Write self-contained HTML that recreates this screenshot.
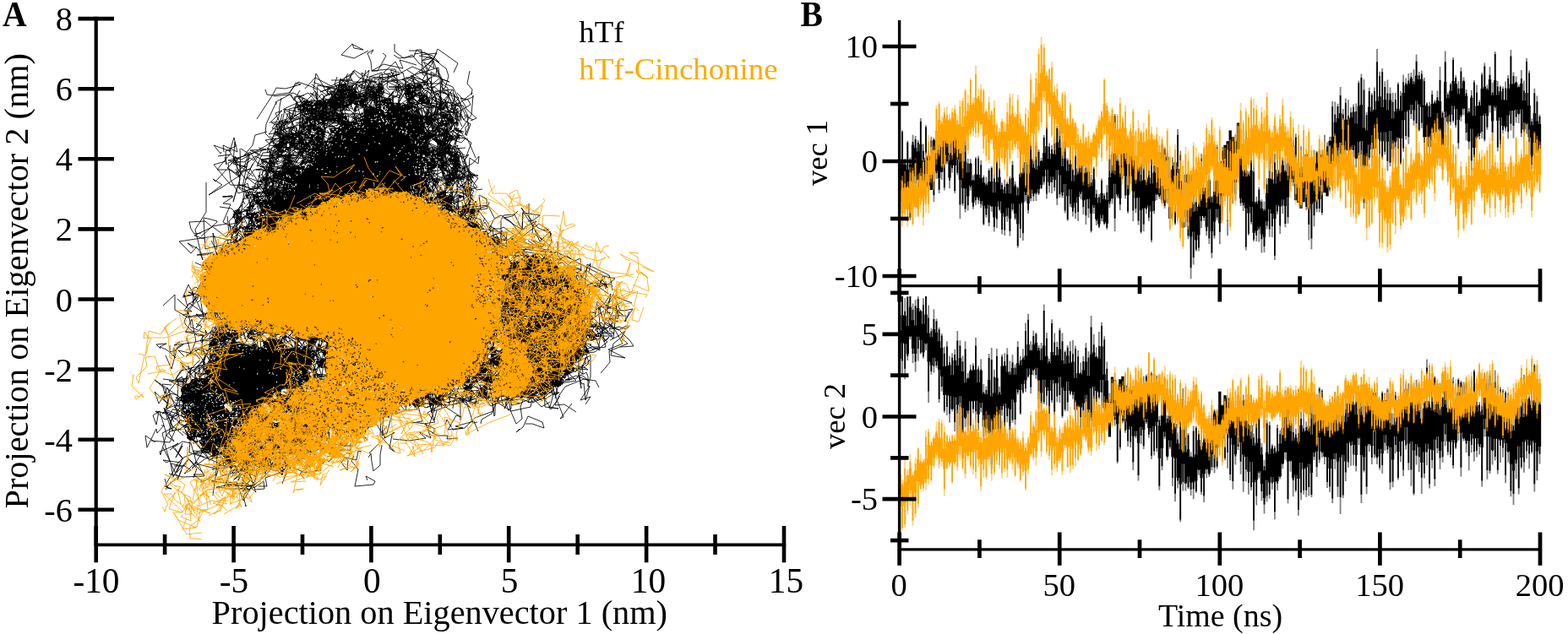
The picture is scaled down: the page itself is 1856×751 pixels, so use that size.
<!DOCTYPE html>
<html lang="en"><head><meta charset="utf-8"><title>PCA projection: hTf vs hTf-Cinchonine</title>
<style>
html,body{margin:0;padding:0;background:#fff;}
body{width:1856px;height:751px;overflow:hidden;font-family:"Liberation Serif",serif;}
svg{display:block;}
</style></head><body>
<svg width="1856" height="751" viewBox="0 0 1856 751">
<rect width="1856" height="751" fill="#fff"/>
<g id="panelB">
<path d="M1065.0 186.2V255.2M1068.1 154.3V233.1M1071.2 188.3V238.1M1074.3 166.7V249.0M1077.4 186.6V260.8M1080.5 159.8V248.3M1083.6 161.0V222.9M1086.7 166.1V242.5M1089.8 139.9V220.1M1092.9 170.5V243.3M1096.0 148.2V235.5M1099.1 174.2V223.1M1102.3 162.0V217.8M1105.4 163.2V238.9M1108.5 157.5V212.1M1111.6 166.2V229.1M1114.7 151.6V213.0M1117.8 135.5V225.5M1120.9 148.8V194.4M1124.0 141.6V223.2M1127.1 139.8V204.4M1130.2 150.3V228.7M1133.3 153.7V207.2M1136.4 146.7V259.3M1139.5 162.4V243.7M1142.6 154.0V251.6M1145.7 188.1V249.5M1148.8 188.2V225.8M1151.9 207.6V247.8M1155.0 185.9V243.0M1158.1 184.4V241.6M1161.2 189.7V246.4M1164.3 207.8V267.1M1167.4 209.6V257.7M1170.6 199.6V267.9M1173.7 197.2V250.7M1176.8 206.1V274.4M1179.9 178.4V270.2M1183.0 187.5V249.8M1186.1 216.5V277.4M1189.2 212.4V278.9M1192.3 214.9V262.8M1195.4 208.9V279.5M1198.5 190.5V250.6M1201.6 215.0V260.8M1204.7 220.7V293.7M1207.8 175.2V281.9M1210.9 195.0V284.9M1214.0 175.9V238.4M1217.1 181.4V253.0M1220.2 166.4V238.4M1223.3 186.2V238.4M1226.4 168.6V237.9M1229.5 176.9V230.9M1232.6 187.0V223.9M1235.7 160.1V218.8M1238.9 143.4V235.5M1242.0 169.6V228.3M1245.1 171.7V229.1M1248.2 160.7V226.5M1251.3 148.8V242.9M1254.4 148.2V233.9M1257.5 167.7V234.4M1260.6 159.2V252.6M1263.7 187.4V261.8M1266.8 154.8V245.1M1269.9 191.9V256.6M1273.0 171.7V259.1M1276.1 173.5V261.7M1279.2 172.7V235.8M1282.3 187.7V254.0M1285.4 192.5V265.9M1288.5 196.1V257.9M1291.6 207.1V275.6M1294.7 197.4V253.0M1297.8 224.7V267.1M1300.9 229.9V270.2M1304.0 211.6V262.0M1307.2 228.7V266.4M1310.3 219.2V271.7M1313.4 183.1V246.1M1316.5 179.7V241.6M1319.6 135.0V274.1M1322.7 161.4V234.7M1325.8 164.2V249.1M1328.9 143.2V211.9M1332.0 159.4V235.5M1335.1 162.3V252.7M1338.2 166.8V217.5M1341.3 162.7V262.0M1344.4 192.3V252.3M1347.5 193.1V266.5M1350.6 189.9V276.8M1353.7 176.8V274.0M1356.8 175.8V253.0M1359.9 177.4V262.0M1363.0 174.6V286.9M1366.1 167.3V253.6M1369.2 163.7V236.9M1372.3 185.0V235.5M1375.5 169.8V240.7M1378.6 174.6V246.9M1381.7 179.5V240.7M1384.8 200.1V246.8M1387.9 186.3V257.2M1391.0 184.5V266.6M1394.1 153.1V244.8M1397.2 178.8V267.7M1400.3 217.5V270.7M1403.4 209.6V269.0M1406.5 204.3V283.0M1409.6 202.7V330.2M1412.7 197.5V313.5M1415.8 229.8V297.7M1418.9 226.4V297.5M1422.0 182.3V270.2M1425.1 211.1V261.8M1428.2 217.9V279.2M1431.3 207.9V289.0M1434.4 231.8V305.8M1437.5 201.3V282.5M1440.6 171.6V260.7M1443.8 196.7V289.3M1446.9 174.0V253.7M1450.0 174.8V231.1M1453.1 171.7V279.1M1456.2 167.1V252.7M1459.3 162.8V241.1M1462.4 159.7V237.2M1465.5 155.2V210.9M1468.6 164.7V243.9M1471.7 182.9V249.9M1474.8 153.4V296.6M1477.9 203.3V279.1M1481.0 173.4V265.8M1484.1 189.9V286.0M1487.2 233.1V286.0M1490.3 221.4V286.5M1493.4 236.2V299.6M1496.5 238.4V299.0M1499.6 211.2V271.6M1502.7 169.8V280.6M1505.8 195.0V281.0M1508.9 181.7V308.0M1512.0 159.6V253.8M1515.2 171.7V277.0M1518.3 186.4V253.3M1521.4 187.5V269.3M1524.5 184.8V264.8M1527.6 161.1V220.2M1530.7 165.6V220.6M1533.8 158.3V223.3M1536.9 160.2V231.2M1540.0 173.2V239.1M1543.1 175.3V239.8M1546.2 185.3V248.7M1549.3 188.2V284.4M1552.4 197.0V295.3M1555.5 177.8V268.3M1558.6 178.7V251.2M1561.7 176.4V251.5M1564.8 177.4V254.8M1567.9 159.7V225.8M1571.0 168.6V226.6M1574.1 162.1V226.7M1577.2 120.0V225.4M1580.3 120.6V197.1M1583.5 122.8V218.3M1586.6 102.9V208.5M1589.7 128.9V202.0M1592.8 116.6V186.5M1595.9 118.3V201.1M1599.0 127.3V211.4M1602.1 123.6V186.4M1605.2 122.4V198.4M1608.3 95.4V190.1M1611.4 87.5V221.2M1614.5 94.1V247.0M1617.6 132.7V241.7M1620.7 103.8V189.4M1623.8 110.2V197.1M1626.9 103.5V205.5M1630.0 58.1V167.3M1633.1 84.8V209.7M1636.2 81.1V189.2M1639.3 96.2V183.2M1642.4 94.5V202.5M1645.5 103.4V197.1M1648.6 110.0V191.8M1651.8 109.9V196.7M1654.9 97.5V201.7M1658.0 107.7V194.9M1661.1 88.5V179.7M1664.2 92.4V165.5M1667.3 87.1V170.8M1670.4 85.9V141.0M1673.5 82.2V148.4M1676.6 64.5V151.9M1679.7 84.9V155.8M1682.8 83.4V151.8M1685.9 91.9V200.1M1689.0 120.9V195.8M1692.1 120.7V191.9M1695.2 107.2V198.3M1698.3 118.4V164.3M1701.4 107.6V192.3M1704.5 78.9V160.5M1707.6 131.5V186.5M1710.7 60.4V157.0M1713.8 109.5V177.7M1716.9 98.2V148.5M1720.1 68.1V145.2M1723.2 89.2V151.2M1726.3 96.2V176.5M1729.4 79.8V143.8M1732.5 91.5V136.5M1735.6 106.0V166.6M1738.7 128.1V177.1M1741.8 107.1V202.3M1744.9 95.0V191.9M1748.0 100.6V174.7M1751.1 118.5V165.0M1754.2 86.1V163.9M1757.3 74.5V167.8M1760.4 100.5V153.7M1763.5 79.3V133.5M1766.6 98.0V167.4M1769.7 61.1V131.2M1772.8 96.0V179.2M1775.9 101.2V176.3M1779.0 102.6V158.3M1782.1 96.5V155.4M1785.2 89.0V164.4M1788.4 58.9V154.4M1791.5 85.6V163.8M1794.6 90.4V145.5M1797.7 100.3V146.0M1800.8 82.9V162.2M1803.9 95.5V161.9M1807.0 68.9V158.4M1810.1 83.5V201.8M1813.2 140.4V200.3M1816.3 104.7V206.9M1819.4 113.4V182.2M1822.5 135.7V191.6" fill="none" stroke="#000" stroke-width="1.8" opacity="0.5"/>
<path d="M1065.0 194.2V226.6M1068.1 189.8V222.5M1071.2 195.0V228.0M1074.3 201.3V234.4M1077.4 194.8V228.1M1080.5 171.8V205.2M1083.6 175.3V208.8M1086.7 179.6V213.3M1089.8 170.8V204.7M1092.9 190.0V224.3M1096.0 186.7V221.5M1099.1 184.5V219.4M1102.3 189.9V224.9M1105.4 166.2V201.2M1108.5 168.3V202.6M1111.6 177.5V211.1M1114.7 171.0V203.4M1117.8 163.3V194.3M1120.9 153.1V183.4M1124.0 181.0V210.5M1127.1 166.1V195.5M1130.2 166.5V195.9M1133.3 158.7V188.7M1136.4 182.0V213.0M1139.5 190.8V222.8M1142.6 191.4V223.2M1145.7 204.5V232.5M1148.8 194.1V219.8M1151.9 213.9V240.1M1155.0 206.4V233.2M1158.1 207.1V234.1M1161.2 210.8V238.0M1164.3 216.4V243.8M1167.4 219.5V246.9M1170.6 215.2V242.4M1173.7 215.1V243.9M1176.8 228.2V257.6M1179.9 215.8V244.7M1183.0 209.8V238.4M1186.1 224.3V252.5M1189.2 229.0V256.7M1192.3 217.9V246.3M1195.4 229.3V258.8M1198.5 210.8V241.3M1201.6 220.9V253.0M1204.7 231.5V265.2M1207.8 206.2V241.5M1210.9 204.5V239.8M1214.0 191.9V227.3M1217.1 205.5V241.1M1220.2 188.4V224.4M1223.3 198.7V229.2M1226.4 200.8V227.9M1229.5 196.5V223.9M1232.6 191.1V218.9M1235.7 181.2V208.9M1238.9 173.3V200.9M1242.0 188.2V215.7M1245.1 181.9V209.2M1248.2 182.9V213.3M1251.3 168.5V201.3M1254.4 175.1V207.6M1257.5 197.0V227.9M1260.6 187.7V218.0M1263.7 202.5V232.3M1266.8 194.2V224.2M1269.9 214.6V245.7M1273.0 207.5V240.3M1276.1 199.5V233.3M1279.2 194.1V227.1M1282.3 205.3V237.3M1285.4 204.3V236.2M1288.5 203.5V235.5M1291.6 220.6V252.7M1294.7 212.6V242.8M1297.8 234.0V259.5M1300.9 240.2V265.4M1304.0 228.8V254.6M1307.2 236.1V262.8M1310.3 237.0V264.7M1313.4 210.0V238.4M1316.5 205.0V235.0M1319.6 178.2V217.8M1322.7 190.5V229.9M1325.8 195.8V235.1M1328.9 159.5V198.5M1332.0 170.0V208.4M1335.1 193.4V231.3M1338.2 171.5V208.6M1341.3 190.2V226.5M1344.4 199.1V234.5M1347.5 199.5V234.1M1350.6 214.7V248.7M1353.7 213.6V246.8M1356.8 212.9V245.9M1359.9 210.4V243.4M1363.0 217.6V250.5M1366.1 204.8V237.9M1369.2 195.7V229.6M1372.3 196.3V231.0M1375.5 201.0V236.6M1378.6 203.6V240.1M1381.7 185.7V223.2M1384.8 220.5V259.0M1387.9 200.7V240.0M1391.0 192.3V232.0M1394.1 200.0V240.1M1397.2 214.2V253.4M1400.3 231.4V269.7M1403.4 206.8V244.3M1406.5 226.6V263.3M1409.6 244.3V280.2M1412.7 239.4V274.4M1415.8 250.0V284.3M1418.9 245.0V278.6M1422.0 222.5V256.1M1425.1 222.2V255.9M1428.2 235.1V268.8M1431.3 213.8V247.6M1434.4 239.8V273.9M1437.5 226.8V262.4M1440.6 210.6V247.5M1443.8 225.3V264.5M1446.9 190.8V232.3M1450.0 171.8V220.9M1453.1 167.2V217.5M1456.2 154.5V206.1M1459.3 162.3V212.0M1462.4 167.5V216.1M1465.5 145.4V192.9M1468.6 188.2V234.7M1471.7 194.5V239.9M1474.8 201.8V246.4M1477.9 208.7V252.5M1481.0 202.0V245.0M1484.1 239.0V275.7M1487.2 241.6V272.9M1490.3 237.7V268.6M1493.4 246.9V277.6M1496.5 250.0V280.8M1499.6 228.8V262.0M1502.7 210.9V247.7M1505.8 212.0V253.1M1508.9 217.4V259.3M1512.0 201.3V242.8M1515.2 203.7V244.7M1518.3 195.8V236.2M1521.4 204.1V244.0M1524.5 194.1V233.4M1527.6 172.2V211.6M1530.7 172.4V212.1M1533.8 196.1V237.2M1536.9 198.5V239.9M1540.0 205.1V246.9M1543.1 197.3V239.2M1546.2 182.8V224.0M1549.3 207.1V247.5M1552.4 202.1V241.6M1555.5 200.6V239.3M1558.6 193.6V231.4M1561.7 198.8V235.9M1564.8 182.9V219.2M1567.9 192.4V228.2M1571.0 197.4V232.6M1574.1 166.9V201.9M1577.2 162.1V196.9M1580.3 144.8V179.5M1583.5 139.9V174.7M1586.6 134.1V169.1M1589.7 153.3V188.8M1592.8 141.8V178.0M1595.9 141.6V178.6M1599.0 139.2V177.7M1602.1 132.5V172.2M1605.2 146.5V187.4M1608.3 125.6V167.8M1611.4 124.1V167.0M1614.5 151.6V195.2M1617.6 154.4V198.6M1620.7 126.8V171.3M1623.8 132.2V177.1M1626.9 130.1V175.9M1630.0 119.7V164.6M1633.1 114.3V156.8M1636.2 127.0V167.3M1639.3 117.9V156.5M1642.4 130.4V167.8M1645.5 118.5V155.0M1648.6 140.6V176.5M1651.8 132.1V167.4M1654.9 128.8V162.8M1658.0 131.3V164.1M1661.1 110.1V142.2M1664.2 100.8V132.3M1667.3 99.1V130.2M1670.4 93.2V124.0M1673.5 99.8V130.3M1676.6 89.5V119.5M1679.7 94.0V123.5M1682.8 93.8V126.7M1685.9 124.8V162.4M1689.0 125.6V162.0M1692.1 138.5V174.0M1695.2 122.9V157.4M1698.3 122.5V156.4M1701.4 119.1V152.8M1704.5 120.0V153.6M1707.6 139.3V173.3M1710.7 97.1V132.2M1713.8 116.2V144.1M1716.9 107.6V135.7M1720.1 96.1V125.2M1723.2 99.3V129.2M1726.3 111.3V141.9M1729.4 104.8V136.1M1732.5 96.6V128.5M1735.6 113.8V146.3M1738.7 133.8V166.9M1741.8 115.7V152.4M1744.9 137.0V175.0M1748.0 125.8V162.5M1751.1 125.1V157.7M1754.2 105.0V137.1M1757.3 102.8V134.3M1760.4 106.4V137.3M1763.5 94.1V124.6M1766.6 113.1V143.4M1769.7 95.2V125.4M1772.8 112.5V143.0M1775.9 108.3V139.1M1779.0 117.9V149.0M1782.1 118.7V150.1M1785.2 104.7V136.5M1788.4 99.5V131.3M1791.5 99.4V131.1M1794.6 98.3V129.8M1797.7 103.6V134.4M1800.8 98.7V129.6M1803.9 119.2V153.3M1807.0 109.9V145.7M1810.1 125.1V162.4M1813.2 148.3V184.6M1816.3 134.1V169.6M1819.4 143.5V178.2M1822.5 147.1V181.4" fill="none" stroke="#000" stroke-width="3.3000000000000003" opacity="1"/>
<path d="M1065.0 188.7V246.4M1068.1 156.0V223.1M1071.2 193.6V230.0M1074.3 168.8V244.6M1077.4 191.6V257.6M1080.5 168.0V235.7M1083.6 165.0V217.6M1086.7 168.7V240.8M1089.8 143.8V215.4M1092.9 178.7V241.3M1096.0 150.6V233.5M1099.1 179.3V220.0M1102.3 166.5V215.8M1105.4 165.2V231.3M1108.5 163.2V205.1M1111.6 171.6V224.7M1114.7 156.3V203.9M1117.8 137.5V222.3M1120.9 150.9V191.2M1124.0 150.7V214.1M1127.1 146.0V199.3M1130.2 153.5V226.3M1133.3 158.0V204.7M1136.4 149.9V242.6M1139.5 173.2V241.3M1142.6 164.0V247.6M1145.7 193.6V243.3M1148.8 192.9V221.8M1151.9 212.9V244.8M1155.0 187.9V237.3M1158.1 187.6V236.6M1161.2 195.3V241.6M1164.3 209.9V265.3M1167.4 217.6V254.4M1170.6 202.1V263.8M1173.7 198.9V244.9M1176.8 211.4V268.8M1179.9 186.0V259.5M1183.0 192.5V248.2M1186.1 218.9V272.1M1189.2 221.5V272.4M1192.3 217.5V255.7M1195.4 211.8V273.7M1198.5 195.4V248.0M1201.6 218.6V258.7M1204.7 223.1V291.3M1207.8 178.8V271.1M1210.9 199.1V276.3M1214.0 181.0V231.1M1217.1 189.3V248.7M1220.2 169.5V234.9M1223.3 189.8V232.6M1226.4 172.7V229.9M1229.5 179.8V229.2M1232.6 190.1V222.7M1235.7 162.9V215.5M1238.9 144.9V229.4M1242.0 173.8V219.9M1245.1 176.8V215.9M1248.2 163.5V222.0M1251.3 152.1V235.2M1254.4 154.6V229.9M1257.5 179.5V231.8M1260.6 165.6V249.4M1263.7 189.9V260.0M1266.8 163.2V241.4M1269.9 200.8V250.5M1273.0 173.5V252.2M1276.1 175.3V251.1M1279.2 177.5V229.7M1282.3 198.6V245.3M1285.4 198.8V255.2M1288.5 197.9V246.9M1291.6 216.2V273.6M1294.7 199.7V246.0M1297.8 229.7V261.5M1300.9 233.4V268.4M1304.0 214.1V258.4M1307.2 231.5V265.0M1310.3 227.8V269.8M1313.4 188.5V241.6M1316.5 182.3V235.5M1319.6 137.3V258.8M1322.7 168.9V232.4M1325.8 171.6V242.2M1328.9 145.2V202.6M1332.0 164.7V231.5M1335.1 173.3V250.5M1338.2 169.3V210.6M1341.3 176.9V249.2M1344.4 196.5V247.2M1347.5 197.1V261.6M1350.6 194.3V274.8M1353.7 179.2V265.7M1356.8 179.9V248.0M1359.9 193.5V257.8M1363.0 183.6V284.2M1366.1 170.5V249.7M1369.2 165.7V230.7M1372.3 195.1V233.0M1375.5 171.8V238.6M1378.6 176.6V243.8M1381.7 181.5V226.1M1384.8 202.8V244.8M1387.9 196.6V255.2M1391.0 190.0V264.6M1394.1 159.8V242.3M1397.2 183.6V264.0M1400.3 230.7V268.7M1403.4 211.6V257.0M1406.5 206.3V279.4M1409.6 207.3V317.3M1412.7 214.3V305.0M1415.8 239.6V295.7M1418.9 232.8V293.6M1422.0 187.8V261.7M1425.1 220.8V258.1M1428.2 225.0V273.7M1431.3 211.9V282.6M1434.4 233.6V299.4M1437.5 214.9V279.3M1440.6 174.4V257.4M1443.8 199.3V274.8M1446.9 178.7V248.6M1450.0 176.8V223.5M1453.1 173.7V262.0M1456.2 169.1V249.1M1459.3 164.8V228.0M1462.4 166.8V230.1M1465.5 157.2V202.1M1468.6 181.5V240.7M1471.7 186.2V243.3M1474.8 155.7V292.5M1477.9 206.4V276.7M1481.0 181.9V263.0M1484.1 203.4V283.7M1487.2 238.9V278.9M1490.3 224.4V271.4M1493.4 239.0V283.3M1496.5 247.8V291.8M1499.6 218.5V267.5M1502.7 172.9V271.4M1505.8 204.1V268.1M1508.9 192.5V302.7M1512.0 163.6V250.4M1515.2 185.7V267.3M1518.3 190.5V243.5M1521.4 201.9V264.9M1524.5 191.8V257.3M1527.6 163.1V216.1M1530.7 167.6V215.7M1533.8 162.6V221.3M1536.9 169.8V229.2M1540.0 179.1V237.1M1543.1 187.7V237.8M1546.2 187.3V245.0M1549.3 194.8V266.0M1552.4 200.5V282.5M1555.5 188.3V255.2M1558.6 180.5V247.3M1561.7 178.4V247.1M1564.8 179.4V252.1M1567.9 179.9V223.8M1571.0 173.2V224.6M1574.1 166.5V224.7M1577.2 126.2V223.4M1580.3 135.6V192.8M1583.5 125.9V208.5M1586.6 113.0V205.2M1589.7 135.5V196.4M1592.8 121.7V178.8M1595.9 136.9V192.0M1599.0 133.2V207.0M1602.1 126.8V178.0M1605.2 132.0V188.2M1608.3 98.2V187.7M1611.4 92.0V211.4M1614.5 106.5V240.3M1617.6 136.3V231.4M1620.7 107.9V186.7M1623.8 112.6V186.9M1626.9 108.1V188.3M1630.0 73.3V165.1M1633.1 89.9V199.7M1636.2 85.3V186.4M1639.3 103.1V179.8M1642.4 110.5V190.7M1645.5 110.7V192.8M1648.6 120.7V186.2M1651.8 118.0V194.0M1654.9 99.8V193.3M1658.0 113.6V192.7M1661.1 97.2V175.4M1664.2 98.5V160.9M1667.3 95.4V162.3M1670.4 91.1V135.1M1673.5 96.6V142.8M1676.6 72.8V146.3M1679.7 89.2V154.0M1682.8 87.5V145.4M1685.9 95.9V192.5M1689.0 122.7V189.9M1692.1 125.5V178.5M1695.2 111.9V188.5M1698.3 120.7V161.6M1701.4 115.2V186.5M1704.5 94.7V155.1M1707.6 133.5V177.4M1710.7 73.3V139.3M1713.8 111.9V173.0M1716.9 99.9V144.3M1720.1 70.9V142.9M1723.2 92.0V148.3M1726.3 104.7V169.4M1729.4 84.4V138.4M1732.5 95.5V129.3M1735.6 110.6V157.0M1738.7 131.9V168.2M1741.8 113.2V190.3M1744.9 97.6V186.0M1748.0 109.7V167.1M1751.1 120.9V161.3M1754.2 88.6V156.2M1757.3 78.6V165.2M1760.4 104.8V150.8M1763.5 88.7V125.4M1766.6 109.6V157.0M1769.7 63.9V127.5M1772.8 102.6V174.6M1775.9 102.9V171.0M1779.0 105.1V154.1M1782.1 104.6V151.8M1785.2 92.7V155.9M1788.4 66.6V146.6M1791.5 90.0V149.0M1794.6 96.9V138.4M1797.7 102.7V135.4M1800.8 93.1V157.4M1803.9 107.5V157.7M1807.0 72.9V147.2M1810.1 86.4V186.6M1813.2 143.9V195.0M1816.3 110.3V196.4M1819.4 120.2V180.6M1822.5 138.0V185.3" fill="none" stroke="#000" stroke-width="1.75" opacity="1"/>
<path d="M1065.0 207.6V261.6M1068.1 208.3V268.3M1071.2 202.8V260.8M1074.3 215.3V268.7M1077.4 197.7V257.4M1080.5 198.5V267.7M1083.6 187.4V257.6M1086.7 206.2V257.6M1089.8 199.2V251.4M1092.9 188.7V267.3M1096.0 180.3V252.0M1099.1 160.3V252.4M1102.3 165.4V217.0M1105.4 172.7V225.3M1108.5 124.6V195.0M1111.6 120.4V185.6M1114.7 137.2V198.7M1117.8 127.0V198.6M1120.9 126.2V173.9M1124.0 135.1V190.0M1127.1 128.1V188.7M1130.2 124.3V181.2M1133.3 135.9V189.3M1136.4 118.8V192.2M1139.5 116.0V211.2M1142.6 105.1V180.0M1145.7 112.2V183.5M1148.8 92.4V161.8M1151.9 115.2V161.6M1155.0 77.8V163.0M1158.1 105.4V162.7M1161.2 99.9V153.4M1164.3 104.9V181.7M1167.4 128.7V191.1M1170.6 114.2V193.7M1173.7 129.9V170.7M1176.8 118.9V209.1M1179.9 145.2V193.3M1183.0 151.2V201.5M1186.1 140.0V193.0M1189.2 144.4V201.3M1192.3 121.7V217.1M1195.4 110.9V193.8M1198.5 111.0V182.3M1201.6 132.9V177.6M1204.7 112.3V187.2M1207.8 135.1V209.8M1210.9 144.1V205.7M1214.0 128.0V222.8M1217.1 130.4V233.2M1220.2 87.3V177.3M1223.3 110.8V194.6M1226.4 85.5V189.1M1229.5 57.3V157.3M1232.6 43.6V151.0M1235.7 51.9V122.5M1238.9 84.4V153.4M1242.0 80.8V138.5M1245.1 72.9V162.9M1248.2 101.5V178.2M1251.3 98.9V149.7M1254.4 120.2V165.4M1257.5 108.9V188.1M1260.6 108.3V179.5M1263.7 139.0V176.6M1266.8 121.2V195.3M1269.9 139.7V201.6M1273.0 144.4V185.9M1276.1 152.1V206.1M1279.2 161.2V204.2M1282.3 145.8V219.5M1285.4 161.7V204.9M1288.5 155.5V222.1M1291.6 165.0V211.3M1294.7 156.0V189.4M1297.8 147.8V209.4M1300.9 136.6V182.9M1304.0 130.8V191.5M1307.2 92.6V160.1M1310.3 121.5V190.7M1313.4 132.6V202.8M1316.5 126.9V201.8M1319.6 136.7V206.8M1322.7 134.7V190.9M1325.8 115.4V209.7M1328.9 137.4V218.6M1332.0 124.5V190.8M1335.1 159.6V223.9M1338.2 147.2V229.1M1341.3 128.9V200.3M1344.4 153.8V217.4M1347.5 142.3V204.0M1350.6 153.7V206.9M1353.7 145.6V201.8M1356.8 151.3V219.2M1359.9 130.0V207.8M1363.0 149.7V195.9M1366.1 160.5V203.2M1369.2 150.8V223.1M1372.3 160.7V229.0M1375.5 161.5V244.2M1378.6 173.3V239.2M1381.7 151.8V242.8M1384.8 173.2V273.8M1387.9 213.9V267.4M1391.0 171.0V252.2M1394.1 197.2V265.8M1397.2 180.8V286.1M1400.3 189.6V294.6M1403.4 173.7V261.8M1406.5 179.5V271.7M1409.6 199.2V256.8M1412.7 168.4V251.3M1415.8 174.9V236.3M1418.9 180.7V243.5M1422.0 182.7V238.1M1425.1 167.8V230.2M1428.2 146.4V246.0M1431.3 154.0V235.5M1434.4 139.0V202.9M1437.5 151.4V231.3M1440.6 167.5V241.1M1443.8 149.5V243.9M1446.9 175.2V265.0M1450.0 174.9V244.8M1453.1 169.9V264.2M1456.2 165.3V273.4M1459.3 161.3V241.9M1462.4 156.8V244.1M1465.5 146.6V225.6M1468.6 121.4V195.7M1471.7 142.8V209.1M1474.8 127.5V209.6M1477.9 135.2V200.1M1481.0 114.8V193.2M1484.1 117.0V199.1M1487.2 124.2V186.8M1490.3 143.6V219.5M1493.4 126.6V192.4M1496.5 130.3V229.8M1499.6 109.6V198.8M1502.7 148.0V212.3M1505.8 153.9V213.1M1508.9 134.5V182.5M1512.0 153.0V209.2M1515.2 136.1V214.7M1518.3 116.7V187.9M1521.4 145.7V198.2M1524.5 150.5V213.4M1527.6 131.8V234.4M1530.7 140.7V215.4M1533.8 183.1V242.6M1536.9 147.4V244.4M1540.0 177.1V246.7M1543.1 148.1V223.1M1546.2 161.3V234.2M1549.3 151.9V248.1M1552.4 171.7V217.1M1555.5 179.3V226.6M1558.6 199.0V239.0M1561.7 160.2V226.6M1564.8 167.7V231.0M1567.9 166.9V215.3M1571.0 179.4V223.0M1574.1 172.0V230.1M1577.2 175.5V235.2M1580.3 158.3V229.5M1583.5 178.3V226.5M1586.6 168.8V238.6M1589.7 139.9V213.0M1592.8 166.8V247.4M1595.9 141.3V228.7M1599.0 173.4V257.1M1602.1 182.1V257.5M1605.2 199.2V265.1M1608.3 180.8V255.5M1611.4 177.7V240.7M1614.5 183.6V247.5M1617.6 181.8V284.7M1620.7 188.7V269.8M1623.8 160.1V266.3M1626.9 147.6V243.3M1630.0 139.8V235.5M1633.1 167.0V293.4M1636.2 184.9V294.6M1639.3 198.9V275.0M1642.4 220.2V298.9M1645.5 208.1V296.1M1648.6 166.3V265.5M1651.8 168.8V277.5M1654.9 163.2V239.9M1658.0 213.0V271.3M1661.1 186.9V264.6M1664.2 170.2V260.2M1667.3 196.7V246.0M1670.4 175.3V261.8M1673.5 187.3V235.9M1676.6 146.1V242.8M1679.7 167.9V233.3M1682.8 183.1V241.9M1685.9 162.2V257.9M1689.0 148.2V222.3M1692.1 160.8V223.7M1695.2 150.6V218.9M1698.3 142.2V238.6M1701.4 134.1V201.4M1704.5 152.1V197.8M1707.6 164.2V214.2M1710.7 144.7V196.1M1713.8 137.8V219.5M1716.9 151.8V242.4M1720.1 170.2V228.7M1723.2 173.4V257.2M1726.3 209.4V281.2M1729.4 190.7V242.2M1732.5 206.9V274.0M1735.6 191.9V265.6M1738.7 175.5V251.7M1741.8 191.4V266.9M1744.9 182.9V245.4M1748.0 160.8V227.1M1751.1 179.5V223.9M1754.2 177.4V237.7M1757.3 181.1V254.8M1760.4 173.7V243.1M1763.5 162.7V258.3M1766.6 157.1V233.4M1769.7 183.4V256.6M1772.8 192.3V233.5M1775.9 165.4V252.1M1779.0 156.4V231.9M1782.1 192.4V257.9M1785.2 193.8V258.0M1788.4 183.4V231.4M1791.5 192.1V254.9M1794.6 161.7V234.7M1797.7 183.1V232.8M1800.8 176.9V247.3M1803.9 145.3V223.7M1807.0 166.6V231.6M1810.1 153.5V224.8M1813.2 186.2V257.4M1816.3 155.5V227.0M1819.4 160.8V224.8M1822.5 167.2V228.9" fill="none" stroke="#FFA500" stroke-width="1.8" opacity="0.5"/>
<path d="M1065.0 213.0V238.8M1068.1 226.6V252.4M1071.2 222.1V247.9M1074.3 222.3V248.1M1077.4 214.5V240.4M1080.5 215.7V241.5M1083.6 219.2V244.9M1086.7 221.5V247.2M1089.8 208.8V234.5M1092.9 213.8V239.4M1096.0 206.0V231.7M1099.1 189.9V215.7M1102.3 181.0V206.9M1105.4 178.0V204.2M1108.5 154.9V181.3M1111.6 141.9V168.6M1114.7 147.1V174.1M1117.8 139.4V166.8M1120.9 141.8V169.5M1124.0 142.8V170.8M1127.1 139.2V167.6M1130.2 134.0V162.9M1133.3 147.5V176.8M1136.4 147.2V176.6M1139.5 149.9V179.3M1142.6 137.7V167.0M1145.7 131.5V160.4M1148.8 124.3V152.7M1151.9 123.4V151.1M1155.0 115.7V142.7M1158.1 117.4V144.0M1161.2 120.6V147.0M1164.3 134.6V161.2M1167.4 132.4V159.3M1170.6 141.5V169.1M1173.7 135.9V164.3M1176.8 147.8V176.9M1179.9 161.0V190.7M1183.0 156.2V186.5M1186.1 144.2V174.8M1189.2 156.0V186.8M1192.3 146.4V177.2M1195.4 136.2V167.0M1198.5 134.7V165.5M1201.6 139.4V170.6M1204.7 135.6V167.3M1207.8 146.8V179.0M1210.9 149.9V183.0M1214.0 156.7V190.7M1217.1 160.1V194.9M1220.2 121.2V157.0M1223.3 123.0V158.8M1226.4 115.3V149.8M1229.5 98.4V131.7M1232.6 86.2V118.3M1235.7 77.3V108.1M1238.9 90.6V120.4M1242.0 94.0V122.9M1245.1 109.3V137.5M1248.2 113.2V141.2M1251.3 119.1V146.7M1254.4 126.9V154.3M1257.5 131.0V158.2M1260.6 140.4V167.4M1263.7 146.9V173.8M1266.8 147.9V174.8M1269.9 145.2V172.0M1273.0 150.2V177.0M1276.1 169.5V196.3M1279.2 169.0V195.9M1282.3 170.5V197.1M1285.4 167.6V194.0M1288.5 175.6V201.8M1291.6 169.1V195.1M1294.7 159.7V185.5M1297.8 160.7V186.7M1300.9 143.8V170.0M1304.0 138.5V164.9M1307.2 122.7V149.8M1310.3 131.0V158.8M1313.4 144.4V173.0M1316.5 136.4V165.6M1319.6 152.2V182.0M1322.7 153.7V184.1M1325.8 152.6V182.9M1328.9 151.6V181.9M1332.0 151.5V181.6M1335.1 164.6V194.4M1338.2 155.9V185.3M1341.3 160.4V189.3M1344.4 184.2V212.6M1347.5 167.2V195.2M1350.6 158.3V185.9M1353.7 168.4V196.2M1356.8 167.5V195.5M1359.9 164.9V193.2M1363.0 159.6V188.4M1366.1 165.2V194.9M1369.2 167.7V198.2M1372.3 180.1V211.3M1375.5 188.2V220.2M1378.6 191.5V224.2M1381.7 189.9V223.4M1384.8 211.1V245.2M1387.9 218.2V252.4M1391.0 208.0V242.4M1394.1 223.6V257.5M1397.2 224.6V258.1M1400.3 230.6V263.6M1403.4 215.9V248.3M1406.5 217.4V249.1M1409.6 214.5V245.9M1412.7 199.6V231.0M1415.8 201.3V232.9M1418.9 192.1V224.1M1422.0 197.4V230.2M1425.1 183.2V216.6M1428.2 172.8V207.2M1431.3 169.3V204.7M1434.4 160.2V196.5M1437.5 170.9V207.8M1440.6 176.4V213.7M1443.8 191.9V228.7M1446.9 193.4V229.1M1450.0 197.7V232.4M1453.1 198.6V232.1M1456.2 202.6V235.1M1459.3 181.9V213.5M1462.4 181.6V212.8M1465.5 176.7V207.5M1468.6 153.6V184.3M1471.7 170.4V201.4M1474.8 164.7V195.8M1477.9 162.9V194.5M1481.0 152.1V184.4M1484.1 147.5V180.5M1487.2 148.6V182.0M1490.3 154.7V188.4M1493.4 147.0V181.1M1496.5 155.2V188.9M1499.6 136.7V169.9M1502.7 155.2V187.4M1505.8 163.2V194.0M1508.9 148.9V178.8M1512.0 159.4V188.8M1515.2 150.1V178.9M1518.3 145.9V174.5M1521.4 156.6V185.1M1524.5 163.3V191.7M1527.6 168.2V197.0M1530.7 172.9V202.1M1533.8 188.3V217.8M1536.9 192.6V222.4M1540.0 210.0V240.0M1543.1 184.9V214.9M1546.2 184.5V214.3M1549.3 186.9V216.3M1552.4 186.3V215.1M1555.5 184.9V213.0M1558.6 203.1V230.6M1561.7 181.8V208.7M1564.8 186.3V212.6M1567.9 176.9V202.9M1571.0 184.7V210.5M1574.1 193.9V219.6M1577.2 190.8V216.9M1580.3 169.6V196.0M1583.5 192.7V219.9M1586.6 182.9V211.2M1589.7 172.1V201.4M1592.8 183.8V214.3M1595.9 180.9V212.6M1599.0 178.9V211.8M1602.1 196.1V229.9M1605.2 207.0V241.5M1608.3 218.1V253.3M1611.4 197.0V232.6M1614.5 198.5V234.5M1617.6 196.6V232.9M1620.7 200.7V237.2M1623.8 199.4V236.1M1626.9 184.1V221.1M1630.0 185.5V222.7M1633.1 214.5V252.0M1636.2 211.3V248.8M1639.3 220.8V258.2M1642.4 227.4V264.6M1645.5 221.6V258.6M1648.6 203.8V240.2M1651.8 198.8V234.6M1654.9 197.0V232.2M1658.0 218.9V253.2M1661.1 223.2V256.6M1664.2 204.5V236.9M1667.3 205.2V237.1M1670.4 195.3V226.8M1673.5 192.4V223.4M1676.6 182.2V212.7M1679.7 181.2V211.6M1682.8 196.2V226.5M1685.9 191.1V221.3M1689.0 180.8V210.8M1692.1 182.3V212.2M1695.2 165.9V195.6M1698.3 169.3V198.7M1701.4 156.2V185.3M1704.5 159.3V188.0M1707.6 172.1V200.5M1710.7 159.4V187.4M1713.8 174.5V202.4M1716.9 182.5V210.2M1720.1 193.8V221.6M1723.2 211.6V239.4M1726.3 219.2V247.2M1729.4 207.7V235.7M1732.5 225.5V253.6M1735.6 222.1V250.2M1738.7 207.2V235.1M1741.8 208.6V236.4M1744.9 198.7V226.4M1748.0 192.1V219.8M1751.1 189.3V217.0M1754.2 201.3V229.0M1757.3 201.3V229.1M1760.4 207.0V235.0M1763.5 200.0V228.2M1766.6 195.7V224.2M1769.7 197.7V226.5M1772.8 200.2V229.4M1775.9 206.8V236.4M1779.0 192.3V222.2M1782.1 203.0V233.1M1785.2 213.0V243.4M1788.4 192.5V223.0M1791.5 209.5V239.9M1794.6 193.7V224.2M1797.7 196.0V226.4M1800.8 187.2V217.6M1803.9 186.2V216.5M1807.0 183.2V213.5M1810.1 183.0V213.4M1813.2 202.8V233.3M1816.3 169.0V199.7M1819.4 184.1V215.0M1822.5 176.2V207.3" fill="none" stroke="#FFA500" stroke-width="3.3000000000000003" opacity="1"/>
<path d="M1065.0 208.9V256.5M1068.1 214.2V256.7M1071.2 217.3V254.6M1074.3 220.8V262.7M1077.4 204.2V252.6M1080.5 201.9V265.2M1083.6 192.6V246.6M1086.7 212.4V255.7M1089.8 208.2V242.4M1092.9 191.9V257.6M1096.0 182.2V241.8M1099.1 168.2V241.8M1102.3 174.0V211.8M1105.4 177.5V215.0M1108.5 128.9V188.6M1111.6 123.2V182.8M1114.7 144.0V196.7M1117.8 133.6V195.0M1120.9 135.9V170.0M1124.0 141.9V182.5M1127.1 132.7V184.0M1130.2 129.4V175.0M1133.3 142.8V186.3M1136.4 125.9V181.5M1139.5 119.4V199.4M1142.6 107.5V172.3M1145.7 121.9V177.8M1148.8 94.9V158.7M1151.9 121.7V155.4M1155.0 87.8V157.6M1158.1 113.9V157.4M1161.2 106.0V147.7M1164.3 107.1V176.0M1167.4 131.6V185.0M1170.6 121.3V189.8M1173.7 132.0V166.1M1176.8 127.7V206.9M1179.9 147.9V191.2M1183.0 155.8V199.2M1186.1 143.5V188.1M1189.2 155.2V194.0M1192.3 133.1V209.2M1195.4 115.5V188.0M1198.5 125.6V178.0M1201.6 138.1V174.0M1204.7 118.6V176.5M1207.8 141.0V204.5M1210.9 148.6V196.1M1214.0 135.1V219.7M1217.1 139.6V230.9M1220.2 94.2V173.1M1223.3 121.2V190.7M1226.4 92.9V185.6M1229.5 63.9V154.3M1232.6 53.0V144.9M1235.7 56.6V114.9M1238.9 88.8V151.3M1242.0 82.2V134.8M1245.1 80.0V160.4M1248.2 109.1V170.1M1251.3 105.2V148.1M1254.4 123.8V161.1M1257.5 111.5V184.6M1260.6 112.4V175.8M1263.7 140.4V175.1M1266.8 124.3V189.5M1269.9 141.0V199.7M1273.0 145.7V184.2M1276.1 159.5V203.6M1279.2 165.0V198.9M1282.3 147.7V215.5M1285.4 163.3V196.9M1288.5 161.3V217.8M1291.6 168.3V205.3M1294.7 157.9V185.9M1297.8 151.8V197.2M1300.9 141.7V175.7M1304.0 132.6V186.9M1307.2 94.7V158.7M1310.3 124.7V178.7M1313.4 137.5V188.4M1316.5 130.0V195.8M1319.6 145.1V201.9M1322.7 136.6V189.1M1325.8 122.6V205.6M1328.9 140.6V207.4M1332.0 131.9V188.1M1335.1 161.3V219.3M1338.2 152.4V215.7M1341.3 132.3V196.6M1344.4 156.2V213.5M1347.5 151.8V201.7M1350.6 156.1V197.6M1353.7 156.8V199.4M1356.8 153.5V215.5M1359.9 135.5V201.9M1363.0 157.4V188.9M1366.1 164.9V196.2M1369.2 159.2V215.9M1372.3 171.7V223.2M1375.5 165.0V240.2M1378.6 183.3V236.8M1381.7 155.3V235.7M1384.8 185.4V271.1M1387.9 216.1V261.2M1391.0 177.2V250.5M1394.1 204.8V261.6M1397.2 190.0V281.9M1400.3 196.5V291.9M1403.4 182.4V258.6M1406.5 190.4V267.6M1409.6 202.1V247.0M1412.7 172.8V241.8M1415.8 186.6V233.4M1418.9 186.9V240.7M1422.0 191.1V236.0M1425.1 174.7V226.5M1428.2 152.1V239.7M1431.3 158.8V233.0M1434.4 142.4V201.1M1437.5 167.4V226.9M1440.6 175.8V232.9M1443.8 153.9V242.1M1446.9 188.8V261.1M1450.0 188.1V237.9M1453.1 177.5V260.7M1456.2 179.3V268.6M1459.3 167.4V233.4M1462.4 161.5V238.0M1465.5 149.2V216.2M1468.6 131.2V187.7M1471.7 145.6V203.2M1474.8 132.4V204.7M1477.9 139.0V195.8M1481.0 118.6V189.9M1484.1 128.1V196.2M1487.2 130.3V184.7M1490.3 152.5V212.5M1493.4 133.3V182.3M1496.5 139.0V223.7M1499.6 115.0V190.4M1502.7 152.7V202.2M1505.8 156.8V203.5M1508.9 138.9V180.5M1512.0 157.1V206.1M1515.2 140.9V205.6M1518.3 124.9V179.1M1521.4 149.6V191.4M1524.5 154.7V208.1M1527.6 138.4V226.8M1530.7 150.9V208.3M1533.8 185.8V230.1M1536.9 161.8V238.6M1540.0 178.9V242.9M1543.1 154.2V216.6M1546.2 176.8V230.3M1549.3 156.5V246.7M1552.4 178.1V215.4M1555.5 183.7V219.7M1558.6 201.7V236.5M1561.7 164.7V221.0M1564.8 178.1V226.9M1567.9 174.1V214.0M1571.0 184.0V220.8M1574.1 173.2V222.1M1577.2 182.4V226.1M1580.3 160.7V223.4M1583.5 184.4V222.1M1586.6 181.7V234.6M1589.7 141.7V208.6M1592.8 176.8V245.9M1595.9 148.1V225.2M1599.0 176.5V245.9M1602.1 185.7V253.1M1605.2 204.8V258.2M1608.3 183.9V253.9M1611.4 182.9V238.1M1614.5 196.6V236.1M1617.6 185.2V270.3M1620.7 194.3V267.7M1623.8 169.0V263.5M1626.9 151.7V233.4M1630.0 147.0V233.7M1633.1 182.4V286.5M1636.2 198.8V287.5M1639.3 213.7V261.4M1642.4 222.7V293.1M1645.5 213.5V289.9M1648.6 169.7V263.5M1651.8 173.9V267.0M1654.9 176.1V236.1M1658.0 218.0V267.3M1661.1 188.6V262.2M1664.2 174.1V244.8M1667.3 199.6V243.1M1670.4 181.5V259.2M1673.5 189.6V226.0M1676.6 150.6V239.6M1679.7 180.4V229.4M1682.8 189.3V229.6M1685.9 168.9V252.4M1689.0 162.3V220.7M1692.1 162.9V217.2M1695.2 152.4V215.2M1698.3 146.1V229.1M1701.4 140.2V196.1M1704.5 157.9V196.4M1707.6 170.4V212.2M1710.7 149.6V192.2M1713.8 146.6V215.5M1716.9 153.8V236.9M1720.1 171.7V223.6M1723.2 182.8V255.2M1726.3 212.2V272.3M1729.4 197.2V239.2M1732.5 212.9V270.7M1735.6 197.4V258.3M1738.7 184.8V242.0M1741.8 201.4V265.2M1744.9 186.8V237.4M1748.0 163.4V224.7M1751.1 182.2V219.8M1754.2 185.8V233.8M1757.3 184.8V253.2M1760.4 178.0V239.8M1763.5 170.8V246.3M1766.6 168.2V230.3M1769.7 192.3V247.0M1772.8 198.9V231.0M1775.9 177.4V237.3M1779.0 161.5V230.0M1782.1 197.5V246.8M1785.2 197.5V251.3M1788.4 186.0V228.2M1791.5 197.1V251.8M1794.6 163.6V227.2M1797.7 191.4V230.4M1800.8 182.5V240.7M1803.9 155.9V221.3M1807.0 182.3V227.8M1810.1 168.3V222.8M1813.2 199.9V249.8M1816.3 157.8V221.4M1819.4 165.2V216.8M1822.5 171.8V226.7" fill="none" stroke="#FFA500" stroke-width="1.75" opacity="1"/>
<path d="M1065.0 387.3V434.6M1068.1 351.0V444.2M1071.2 352.9V449.2M1074.3 351.0V427.0M1077.4 351.0V401.9M1080.5 359.6V430.1M1083.6 355.2V440.4M1086.7 351.0V427.6M1089.8 366.4V419.6M1092.9 353.3V424.8M1096.0 351.0V415.1M1099.1 361.4V476.9M1102.3 388.6V443.8M1105.4 366.2V441.5M1108.5 377.5V435.8M1111.6 387.9V476.9M1114.7 395.1V463.7M1117.8 410.7V489.0M1120.9 404.3V492.1M1124.0 421.7V500.5M1127.1 418.2V487.6M1130.2 413.7V510.9M1133.3 392.1V517.4M1136.4 403.2V513.3M1139.5 421.4V518.2M1142.6 404.2V505.9M1145.7 442.1V511.1M1148.8 432.0V511.0M1151.9 430.3V489.4M1155.0 400.0V498.7M1158.1 433.4V509.7M1161.2 425.3V488.3M1164.3 454.9V526.4M1167.4 457.4V514.8M1170.6 419.1V530.8M1173.7 411.9V555.1M1176.8 437.7V546.4M1179.9 413.0V502.8M1183.0 457.9V545.3M1186.1 419.8V492.6M1189.2 418.3V519.8M1192.3 412.2V500.2M1195.4 427.6V520.2M1198.5 420.3V500.7M1201.6 431.7V503.3M1204.7 403.9V467.5M1207.8 421.8V491.3M1210.9 413.2V466.6M1214.0 382.4V464.4M1217.1 371.7V447.4M1220.2 404.2V466.3M1223.3 391.8V444.4M1226.4 394.1V448.8M1229.5 409.1V484.5M1232.6 406.1V498.3M1235.7 360.6V478.9M1238.9 394.0V480.3M1242.0 424.7V502.3M1245.1 378.3V477.3M1248.2 394.6V491.6M1251.3 404.7V476.2M1254.4 388.4V477.2M1257.5 394.6V495.1M1260.6 415.3V487.3M1263.7 409.0V487.1M1266.8 404.3V468.3M1269.9 403.0V472.8M1273.0 409.5V507.6M1276.1 414.9V497.0M1279.2 429.6V510.3M1282.3 421.8V506.3M1285.4 406.2V507.5M1288.5 416.2V519.0M1291.6 373.9V507.6M1294.7 395.9V496.1M1297.8 411.6V480.0M1300.9 393.1V473.1M1304.0 381.7V481.3M1307.2 398.3V508.7M1310.3 428.6V495.9M1313.4 465.4V503.9M1316.5 460.1V499.7M1319.6 458.2V504.5M1322.7 456.7V549.1M1325.8 455.4V532.7M1328.9 454.1V501.4M1332.0 453.2V512.8M1335.1 452.5V529.0M1338.2 451.7V530.0M1341.3 458.0V557.1M1344.4 449.8V519.1M1347.5 459.4V569.5M1350.6 447.1V526.0M1353.7 445.5V532.1M1356.8 443.8V502.2M1359.9 442.0V518.7M1363.0 440.3V543.9M1366.1 452.6V539.4M1369.2 444.7V534.9M1372.3 493.0V580.8M1375.5 460.7V557.1M1378.6 447.1V520.0M1381.7 492.0V545.3M1384.8 460.4V531.8M1387.9 485.6V575.9M1391.0 487.0V594.3M1394.1 512.3V578.4M1397.2 476.1V618.3M1400.3 459.7V581.4M1403.4 484.4V581.5M1406.5 513.1V578.9M1409.6 535.3V587.1M1412.7 504.5V591.3M1415.8 504.4V583.9M1418.9 509.8V562.7M1422.0 504.7V585.9M1425.1 514.1V594.9M1428.2 510.7V566.2M1431.3 495.9V564.9M1434.4 492.0V557.2M1437.5 484.8V560.4M1440.6 485.4V555.6M1443.8 482.2V515.9M1446.9 479.3V529.5M1450.0 476.3V545.2M1453.1 473.4V554.7M1456.2 470.9V568.9M1459.3 469.7V579.8M1462.4 488.4V550.5M1465.5 467.3V533.3M1468.6 471.1V561.7M1471.7 467.4V582.7M1474.8 483.9V570.5M1477.9 481.0V585.8M1481.0 467.9V580.9M1484.1 513.5V628.2M1487.2 500.0V598.6M1490.3 476.5V566.6M1493.4 524.7V593.3M1496.5 545.1V608.4M1499.6 497.5V594.4M1502.7 499.6V590.8M1505.8 525.9V579.7M1508.9 527.8V615.3M1512.0 503.0V581.1M1515.2 509.6V567.5M1518.3 475.4V555.2M1521.4 462.5V544.5M1524.5 460.6V596.5M1527.6 490.6V558.7M1530.7 486.8V588.2M1533.8 507.5V583.0M1536.9 461.1V610.8M1540.0 487.5V592.3M1543.1 485.1V585.8M1546.2 499.2V588.7M1549.3 493.2V587.6M1552.4 465.4V589.1M1555.5 472.9V545.0M1558.6 467.2V565.0M1561.7 458.5V548.5M1564.8 461.0V542.3M1567.9 485.7V550.1M1571.0 486.6V578.1M1574.1 488.2V583.1M1577.2 470.2V596.0M1580.3 464.3V555.7M1583.5 476.9V588.7M1586.6 472.1V608.9M1589.7 465.7V589.9M1592.8 465.1V570.1M1595.9 453.7V553.8M1599.0 469.5V551.7M1602.1 451.1V551.5M1605.2 466.5V558.4M1608.3 456.5V526.9M1611.4 467.5V596.1M1614.5 476.8V559.5M1617.6 469.5V585.3M1620.7 464.8V535.1M1623.8 460.7V550.0M1626.9 460.7V542.6M1630.0 480.2V550.0M1633.1 478.9V556.5M1636.2 463.4V560.8M1639.3 465.5V533.8M1642.4 460.1V537.3M1645.5 481.2V580.0M1648.6 489.2V577.2M1651.8 464.0V537.1M1654.9 481.6V568.4M1658.0 455.7V547.2M1661.1 463.3V563.9M1664.2 454.7V532.6M1667.3 454.1V557.1M1670.4 453.4V575.7M1673.5 457.2V586.8M1676.6 449.7V550.5M1679.7 464.5V559.0M1682.8 479.9V585.1M1685.9 474.3V566.6M1689.0 425.5V551.2M1692.1 432.7V578.6M1695.2 445.5V554.8M1698.3 445.5V576.0M1701.4 465.8V536.9M1704.5 454.1V555.9M1707.6 469.4V547.7M1710.7 448.3V528.2M1713.8 470.1V539.2M1716.9 474.2V542.0M1720.1 446.8V555.0M1723.2 471.6V532.1M1726.3 448.1V521.7M1729.4 451.1V564.5M1732.5 452.5V522.6M1735.6 451.9V536.0M1738.7 470.6V557.3M1741.8 448.8V536.0M1744.9 437.7V546.4M1748.0 451.0V541.5M1751.1 476.2V538.5M1754.2 472.3V576.6M1757.3 441.6V517.6M1760.4 448.5V567.7M1763.5 442.0V561.1M1766.6 468.2V550.6M1769.7 438.5V545.4M1772.8 455.0V561.4M1775.9 458.2V548.0M1779.0 460.9V541.7M1782.1 463.0V572.2M1785.2 465.1V547.7M1788.4 468.7V588.3M1791.5 486.1V597.9M1794.6 469.8V567.3M1797.7 460.5V585.4M1800.8 461.3V555.6M1803.9 443.8V559.8M1807.0 465.1V543.2M1810.1 464.7V555.3M1813.2 447.4V537.5M1816.3 431.0V582.5M1819.4 449.4V569.1M1822.5 453.9V549.6" fill="none" stroke="#000" stroke-width="1.8" opacity="0.5"/>
<path d="M1065.0 392.1V425.0M1068.1 373.2V406.3M1071.2 374.0V407.2M1074.3 386.0V419.3M1077.4 363.7V397.1M1080.5 379.3V412.8M1083.6 385.4V419.1M1086.7 365.0V398.7M1089.8 369.0V402.8M1092.9 383.7V417.6M1096.0 372.5V406.4M1099.1 394.6V428.4M1102.3 399.0V432.8M1105.4 390.0V423.8M1108.5 394.1V427.9M1111.6 403.9V437.7M1114.7 411.9V445.8M1117.8 433.9V467.9M1120.9 433.5V467.6M1124.0 432.6V468.9M1127.1 444.2V484.4M1130.2 427.1V470.4M1133.3 433.1V479.6M1136.4 424.2V469.3M1139.5 440.0V483.3M1142.6 453.5V494.3M1145.7 448.5V486.3M1148.8 439.6V475.5M1151.9 438.6V475.2M1155.0 437.7V474.8M1158.1 453.0V490.8M1161.2 439.0V477.0M1164.3 466.5V505.5M1167.4 466.9V507.3M1170.6 450.0V491.4M1173.7 469.5V511.7M1176.8 465.5V508.8M1179.9 447.4V492.1M1183.0 467.6V513.6M1186.1 433.8V481.1M1189.2 433.3V478.1M1192.3 440.5V483.3M1195.4 443.8V484.7M1198.5 436.0V473.2M1201.6 443.8V476.5M1204.7 429.9V461.0M1207.8 432.4V462.0M1210.9 425.9V454.7M1214.0 421.6V450.2M1217.1 408.1V436.6M1220.2 415.2V444.0M1223.3 408.2V437.5M1226.4 405.9V435.8M1229.5 415.2V450.7M1232.6 426.6V465.3M1235.7 409.6V449.8M1238.9 422.0V458.8M1242.0 430.3V463.1M1245.1 417.1V450.1M1248.2 421.1V454.2M1251.3 420.7V453.8M1254.4 413.5V446.2M1257.5 427.0V459.3M1260.6 431.0V462.7M1263.7 421.2V452.1M1266.8 430.2V462.8M1269.9 428.6V463.9M1273.0 447.8V485.4M1276.1 442.1V481.2M1279.2 443.5V482.4M1282.3 438.5V477.6M1285.4 428.4V467.8M1288.5 445.3V484.9M1291.6 419.8V459.7M1294.7 417.6V457.7M1297.8 423.0V463.0M1300.9 424.7V464.6M1304.0 410.3V450.1M1307.2 443.5V483.5M1310.3 450.7V491.3M1313.4 476.1V517.5M1316.5 446.5V488.8M1319.6 449.9V492.8M1322.7 459.2V502.2M1325.8 449.3V492.3M1328.9 445.7V488.6M1332.0 456.8V499.5M1335.1 466.1V508.8M1338.2 462.0V504.9M1341.3 473.5V516.4M1344.4 467.4V510.5M1347.5 481.5V524.8M1350.6 462.9V505.7M1353.7 466.9V509.2M1356.8 454.3V495.9M1359.9 466.5V507.1M1363.0 471.6V511.4M1366.1 465.5V504.8M1369.2 461.0V499.7M1372.3 504.2V543.1M1375.5 492.1V531.1M1378.6 472.2V511.5M1381.7 500.7V540.4M1384.8 481.5V521.5M1387.9 500.7V541.0M1391.0 502.1V542.7M1394.1 525.2V565.9M1397.2 532.6V573.4M1400.3 508.7V549.6M1403.4 535.4V572.3M1406.5 532.2V564.4M1409.6 541.4V571.5M1412.7 541.4V571.2M1415.8 538.6V569.4M1418.9 521.3V556.0M1422.0 528.4V566.2M1425.1 524.2V561.3M1428.2 518.8V555.4M1431.3 524.0V560.4M1434.4 501.3V537.7M1437.5 489.7V526.8M1440.6 492.6V530.5M1443.8 463.7V502.5M1446.9 480.2V520.0M1450.0 468.2V510.1M1453.1 471.4V513.3M1456.2 476.8V518.7M1459.3 484.9V526.7M1462.4 496.3V538.1M1465.5 474.2V515.9M1468.6 481.8V523.8M1471.7 496.4V538.6M1474.8 498.6V541.1M1477.9 515.9V558.8M1481.0 504.0V547.2M1484.1 527.8V571.3M1487.2 524.8V568.3M1490.3 519.6V558.3M1493.4 538.4V573.1M1496.5 557.2V590.0M1499.6 535.7V568.8M1502.7 538.1V571.4M1505.8 531.4V565.0M1508.9 537.0V571.0M1512.0 534.8V570.1M1515.2 525.4V564.3M1518.3 506.7V548.8M1521.4 492.6V535.5M1524.5 503.0V546.4M1527.6 501.4V545.8M1530.7 522.3V566.3M1533.8 518.5V562.4M1536.9 523.3V567.1M1540.0 503.7V548.1M1543.1 511.6V555.6M1546.2 509.9V553.5M1549.3 504.7V549.4M1552.4 514.7V560.0M1555.5 490.5V536.1M1558.6 488.8V534.4M1561.7 472.4V517.9M1564.8 489.5V534.8M1567.9 495.7V540.8M1571.0 496.7V541.7M1574.1 510.0V554.9M1577.2 499.1V544.0M1580.3 491.8V536.9M1583.5 501.3V546.8M1586.6 495.9V541.7M1589.7 492.6V538.8M1592.8 499.7V546.4M1595.9 477.9V525.1M1599.0 475.4V522.9M1602.1 479.2V526.9M1605.2 491.3V539.1M1608.3 470.8V518.4M1611.4 491.6V539.0M1614.5 494.1V541.2M1617.6 481.6V528.2M1620.7 479.6V525.7M1623.8 482.6V528.1M1626.9 465.1V509.5M1630.0 497.6V541.1M1633.1 489.0V531.7M1636.2 495.4V537.2M1639.3 474.2V515.2M1642.4 487.2V527.9M1645.5 489.4V529.8M1648.6 504.2V544.4M1651.8 476.2V517.0M1654.9 493.4V534.9M1658.0 480.6V522.9M1661.1 477.7V521.5M1664.2 460.7V506.0M1667.3 478.7V525.4M1670.4 474.8V522.9M1673.5 483.9V533.4M1676.6 475.1V525.9M1679.7 478.1V529.6M1682.8 495.7V547.9M1685.9 483.7V535.6M1689.0 475.0V525.4M1692.1 482.7V531.7M1695.2 486.2V533.3M1698.3 475.5V520.7M1701.4 473.6V517.0M1704.5 491.8V533.9M1707.6 482.1V522.9M1710.7 461.8V501.7M1713.8 483.2V522.7M1716.9 484.4V523.6M1720.1 481.9V521.1M1723.2 485.2V524.6M1726.3 464.7V504.4M1729.4 472.8V512.6M1732.5 478.8V518.7M1735.6 481.9V521.8M1738.7 482.6V522.3M1741.8 474.6V514.0M1744.9 480.3V519.4M1748.0 480.1V518.9M1751.1 487.5V526.0M1754.2 491.8V530.0M1757.3 457.4V495.9M1760.4 478.3V517.0M1763.5 478.3V517.4M1766.6 492.5V533.1M1769.7 477.9V519.7M1772.8 476.8V519.8M1775.9 477.1V521.4M1779.0 475.1V520.4M1782.1 479.1V525.1M1785.2 488.1V534.8M1788.4 502.4V549.7M1791.5 510.0V557.6M1794.6 496.6V544.5M1797.7 480.5V528.6M1800.8 493.9V542.0M1803.9 475.1V523.3M1807.0 472.5V520.8M1810.1 479.6V527.5M1813.2 474.5V522.1M1816.3 476.7V524.2M1819.4 486.2V534.6M1822.5 479.2V528.9" fill="none" stroke="#000" stroke-width="3.3000000000000003" opacity="1"/>
<path d="M1065.0 390.8V429.0M1068.1 351.0V427.6M1071.2 368.7V436.8M1074.3 351.6V422.1M1077.4 351.0V399.1M1080.5 366.8V419.0M1083.6 362.4V428.4M1086.7 354.1V413.0M1089.8 368.0V417.7M1092.9 360.9V422.3M1096.0 351.0V407.6M1099.1 376.4V463.4M1102.3 392.3V440.1M1105.4 378.0V433.8M1108.5 380.5V433.0M1111.6 390.2V472.7M1114.7 397.4V458.0M1117.8 418.8V486.5M1120.9 410.5V482.1M1124.0 428.9V490.3M1127.1 423.7V485.0M1130.2 420.0V500.0M1133.3 403.4V512.4M1136.4 409.5V511.1M1139.5 428.2V513.2M1142.6 413.5V496.1M1145.7 447.5V503.5M1148.8 437.5V504.2M1151.9 433.2V484.4M1155.0 409.4V487.2M1158.1 436.8V500.7M1161.2 437.6V483.0M1164.3 464.4V517.0M1167.4 462.0V512.3M1170.6 423.9V514.1M1173.7 425.9V550.2M1176.8 446.5V538.0M1179.9 422.1V498.8M1183.0 464.6V541.8M1186.1 422.4V485.4M1189.2 428.1V515.1M1192.3 419.7V492.9M1195.4 440.2V509.3M1198.5 429.3V497.6M1201.6 435.6V497.0M1204.7 411.0V464.7M1207.8 427.1V489.6M1210.9 423.4V464.8M1214.0 392.0V460.2M1217.1 378.7V446.0M1220.2 414.8V458.4M1223.3 398.1V439.1M1226.4 395.6V444.3M1229.5 412.1V473.0M1232.6 412.7V477.8M1235.7 368.1V476.5M1238.9 400.7V468.8M1242.0 428.0V497.0M1245.1 382.9V474.2M1248.2 405.4V488.3M1251.3 411.1V469.6M1254.4 391.3V467.9M1257.5 404.2V492.7M1260.6 416.9V484.9M1263.7 411.8V476.4M1266.8 415.9V466.4M1269.9 419.2V467.7M1273.0 413.0V498.6M1276.1 422.3V486.8M1279.2 441.4V494.0M1282.3 427.9V494.1M1285.4 412.1V500.7M1288.5 423.6V516.1M1291.6 387.4V498.2M1294.7 408.2V490.9M1297.8 421.9V475.9M1300.9 409.7V471.3M1304.0 386.0V464.8M1307.2 402.2V506.7M1310.3 436.7V492.1M1313.4 473.0V501.9M1316.5 462.1V490.3M1319.6 460.2V497.3M1322.7 458.7V546.7M1325.8 457.4V529.8M1328.9 456.1V498.5M1332.0 455.2V510.0M1335.1 454.5V522.5M1338.2 453.8V523.6M1341.3 460.8V547.4M1344.4 451.8V516.7M1347.5 470.9V562.9M1350.6 449.7V516.1M1353.7 460.3V528.3M1356.8 445.8V500.2M1359.9 450.9V514.7M1363.0 442.3V539.8M1366.1 460.3V534.4M1369.2 455.2V530.8M1372.3 497.6V575.7M1375.5 475.2V552.3M1378.6 449.1V517.3M1381.7 495.8V541.6M1384.8 462.4V529.6M1387.9 491.4V566.1M1391.0 496.0V584.7M1394.1 520.5V569.5M1397.2 490.5V615.5M1400.3 473.4V570.9M1403.4 497.2V572.9M1406.5 515.4V577.2M1409.6 540.4V579.8M1412.7 510.6V579.2M1415.8 506.7V582.1M1418.9 513.8V557.1M1422.0 518.1V582.6M1425.1 517.2V587.3M1428.2 514.9V556.3M1431.3 508.0V562.2M1434.4 495.6V553.3M1437.5 486.8V553.7M1440.6 487.4V552.8M1443.8 484.2V508.0M1446.9 481.3V524.7M1450.0 478.3V542.8M1453.1 475.4V536.0M1456.2 472.9V562.0M1459.3 480.2V570.0M1462.4 492.5V540.4M1465.5 469.5V528.9M1468.6 480.0V546.8M1471.7 474.2V570.0M1474.8 497.6V556.3M1477.9 484.4V572.1M1481.0 469.9V576.9M1484.1 518.3V616.4M1487.2 502.0V587.6M1490.3 479.5V560.3M1493.4 529.7V582.0M1496.5 552.3V597.6M1499.6 501.6V587.3M1502.7 503.7V585.7M1505.8 528.3V572.4M1508.9 530.4V606.3M1512.0 507.3V573.1M1515.2 514.3V565.0M1518.3 478.9V550.0M1521.4 480.4V536.1M1524.5 469.6V591.3M1527.6 497.9V546.5M1530.7 511.9V569.1M1533.8 514.6V580.8M1536.9 478.0V603.7M1540.0 496.1V583.4M1543.1 507.6V580.8M1546.2 505.9V580.8M1549.3 496.0V577.1M1552.4 468.3V586.0M1555.5 487.8V541.3M1558.6 484.7V553.3M1561.7 460.5V544.4M1564.8 463.0V536.4M1567.9 488.7V541.3M1571.0 489.0V571.0M1574.1 497.3V576.5M1577.2 482.1V590.4M1580.3 472.6V543.8M1583.5 480.0V576.4M1586.6 482.4V589.0M1589.7 477.9V586.6M1592.8 476.7V559.6M1595.9 455.7V547.5M1599.0 472.8V528.1M1602.1 453.1V538.3M1605.2 476.3V551.7M1608.3 462.1V519.6M1611.4 474.6V585.7M1614.5 480.1V557.3M1617.6 472.4V576.4M1620.7 474.3V526.3M1623.8 463.2V542.1M1626.9 462.7V538.2M1630.0 482.9V542.4M1633.1 483.1V554.0M1636.2 465.4V550.9M1639.3 473.6V524.4M1642.4 462.1V532.5M1645.5 484.3V571.5M1648.6 502.8V570.4M1651.8 468.6V527.0M1654.9 488.1V566.1M1658.0 457.7V540.3M1661.1 473.6V556.6M1664.2 457.3V527.6M1667.3 471.6V548.3M1670.4 460.2V556.6M1673.5 462.9V584.4M1676.6 471.5V539.8M1679.7 472.1V541.3M1682.8 486.1V565.7M1685.9 477.1V560.8M1689.0 435.4V535.6M1692.1 440.5V573.2M1695.2 454.8V544.9M1698.3 447.5V567.4M1701.4 468.4V531.0M1704.5 458.5V542.5M1707.6 471.3V541.2M1710.7 452.2V514.6M1713.8 480.3V535.2M1716.9 477.0V538.6M1720.1 451.9V551.3M1723.2 474.6V530.3M1726.3 450.1V513.3M1729.4 453.1V553.8M1732.5 455.6V520.0M1735.6 453.9V525.4M1738.7 478.1V540.3M1741.8 450.8V527.0M1744.9 439.9V534.9M1748.0 454.4V533.7M1751.1 479.6V529.1M1754.2 479.8V569.5M1757.3 444.1V508.2M1760.4 454.2V557.1M1763.5 445.1V557.8M1766.6 480.6V534.3M1769.7 452.5V541.1M1772.8 457.0V556.8M1775.9 461.4V527.8M1779.0 462.9V530.4M1782.1 465.0V562.8M1785.2 467.1V535.7M1788.4 480.1V581.4M1791.5 503.7V584.9M1794.6 484.9V548.9M1797.7 463.2V578.3M1800.8 471.9V553.3M1803.9 452.4V547.2M1807.0 469.4V534.2M1810.1 470.5V537.6M1813.2 451.8V535.2M1816.3 433.2V573.3M1819.4 459.1V557.8M1822.5 458.6V537.8" fill="none" stroke="#000" stroke-width="1.75" opacity="1"/>
<path d="M1065.0 546.6V592.6M1068.1 568.1V628.4M1071.2 544.7V624.5M1074.3 556.2V609.5M1077.4 538.1V597.9M1080.5 559.0V622.4M1083.6 541.8V613.0M1086.7 530.0V601.6M1089.8 538.1V580.3M1092.9 543.7V581.9M1096.0 509.4V580.6M1099.1 507.9V573.7M1102.3 522.2V571.1M1105.4 515.3V555.1M1108.5 499.6V544.5M1111.6 495.9V555.1M1114.7 497.0V552.0M1117.8 505.0V587.7M1120.9 514.7V556.5M1124.0 515.7V552.9M1127.1 514.6V572.7M1130.2 514.6V552.2M1133.3 485.4V558.2M1136.4 477.1V546.0M1139.5 508.5V556.3M1142.6 506.5V566.9M1145.7 486.9V546.1M1148.8 508.0V554.3M1151.9 496.0V561.8M1155.0 489.9V566.7M1158.1 506.6V552.9M1161.2 510.2V581.8M1164.3 491.7V565.7M1167.4 487.1V568.0M1170.6 509.4V552.6M1173.7 495.9V569.4M1176.8 490.7V562.4M1179.9 481.4V550.3M1183.0 485.5V555.3M1186.1 494.3V566.4M1189.2 500.1V559.1M1192.3 508.6V565.7M1195.4 504.6V549.4M1198.5 506.3V556.4M1201.6 503.4V564.8M1204.7 516.6V554.6M1207.8 521.2V570.7M1210.9 511.1V563.8M1214.0 525.0V580.9M1217.1 517.2V561.7M1220.2 487.2V540.7M1223.3 499.3V545.2M1226.4 485.0V552.0M1229.5 449.7V524.1M1232.6 475.1V541.5M1235.7 482.2V520.7M1238.9 480.9V538.2M1242.0 480.7V544.4M1245.1 504.8V562.9M1248.2 487.0V554.9M1251.3 512.9V558.9M1254.4 504.6V548.3M1257.5 506.3V562.6M1260.6 498.3V533.8M1263.7 493.6V554.0M1266.8 482.0V560.0M1269.9 492.4V555.4M1273.0 474.2V552.2M1276.1 479.7V545.8M1279.2 505.9V539.9M1282.3 485.4V521.1M1285.4 472.3V523.7M1288.5 485.4V536.8M1291.6 488.8V539.9M1294.7 468.8V515.9M1297.8 472.3V534.1M1300.9 470.6V532.1M1304.0 474.4V523.2M1307.2 469.3V527.4M1310.3 472.9V511.0M1313.4 466.5V503.8M1316.5 448.8V506.6M1319.6 434.5V494.2M1322.7 452.9V489.7M1325.8 454.6V510.2M1328.9 451.5V496.0M1332.0 439.8V499.8M1335.1 435.0V491.8M1338.2 440.3V492.4M1341.3 447.4V490.6M1344.4 433.4V483.0M1347.5 432.4V487.4M1350.6 435.6V480.4M1353.7 450.9V498.3M1356.8 450.4V488.0M1359.9 416.8V470.3M1363.0 441.6V488.9M1366.1 423.5V486.6M1369.2 448.5V481.0M1372.3 442.3V476.4M1375.5 438.4V493.1M1378.6 433.5V478.9M1381.7 443.3V491.2M1384.8 439.6V497.5M1387.9 443.3V513.6M1391.0 443.6V507.8M1394.1 466.0V514.4M1397.2 449.8V506.1M1400.3 470.4V536.6M1403.4 453.7V527.9M1406.5 460.9V507.1M1409.6 462.1V503.7M1412.7 446.1V501.4M1415.8 447.0V503.2M1418.9 463.7V514.8M1422.0 463.2V533.6M1425.1 478.2V521.5M1428.2 493.4V535.8M1431.3 487.6V545.7M1434.4 473.4V536.0M1437.5 493.2V543.2M1440.6 484.0V546.6M1443.8 501.8V541.8M1446.9 491.6V551.5M1450.0 472.3V530.6M1453.1 460.5V514.7M1456.2 459.4V505.5M1459.3 448.5V501.1M1462.4 461.1V515.9M1465.5 456.6V526.4M1468.6 447.4V503.8M1471.7 470.2V523.5M1474.8 455.6V507.1M1477.9 443.1V508.5M1481.0 466.9V519.8M1484.1 471.2V511.7M1487.2 472.1V506.7M1490.3 444.9V497.3M1493.4 442.0V495.5M1496.5 464.8V526.1M1499.6 450.8V499.9M1502.7 456.0V494.1M1505.8 461.5V498.9M1508.9 463.8V494.8M1512.0 455.9V491.3M1515.2 437.8V498.5M1518.3 461.8V516.2M1521.4 457.5V522.3M1524.5 457.4V507.8M1527.6 455.9V511.1M1530.7 461.2V507.5M1533.8 456.4V505.5M1536.9 458.4V525.6M1540.0 427.2V488.2M1543.1 432.3V496.3M1546.2 437.0V495.2M1549.3 454.3V511.3M1552.4 435.9V496.1M1555.5 446.1V503.7M1558.6 467.4V528.8M1561.7 462.6V513.1M1564.8 463.7V510.9M1567.9 474.3V516.5M1571.0 475.5V510.8M1574.1 468.8V518.4M1577.2 469.1V515.6M1580.3 464.4V512.1M1583.5 456.3V510.9M1586.6 465.1V505.9M1589.7 463.3V514.0M1592.8 444.1V489.5M1595.9 450.7V494.1M1599.0 449.5V488.1M1602.1 441.3V480.3M1605.2 440.9V477.8M1608.3 456.8V507.4M1611.4 446.0V487.7M1614.5 436.4V501.6M1617.6 450.9V490.7M1620.7 446.2V487.5M1623.8 455.5V508.1M1626.9 450.9V511.4M1630.0 446.5V507.1M1633.1 468.8V507.8M1636.2 473.6V510.3M1639.3 466.9V506.9M1642.4 459.8V499.5M1645.5 447.3V509.1M1648.6 451.0V488.4M1651.8 471.8V503.1M1654.9 464.9V513.8M1658.0 442.6V506.6M1661.1 437.0V497.4M1664.2 449.1V489.5M1667.3 461.9V500.1M1670.4 441.7V481.1M1673.5 450.0V501.5M1676.6 456.3V491.8M1679.7 448.7V488.2M1682.8 435.9V502.6M1685.9 443.8V477.5M1689.0 440.3V483.9M1692.1 429.7V479.3M1695.2 430.2V476.1M1698.3 453.0V488.1M1701.4 447.6V489.3M1704.5 451.8V486.0M1707.6 434.7V469.4M1710.7 429.2V479.0M1713.8 435.1V489.0M1716.9 426.4V488.5M1720.1 452.2V508.4M1723.2 448.8V508.9M1726.3 455.3V516.4M1729.4 457.7V497.7M1732.5 452.3V495.0M1735.6 445.3V494.4M1738.7 444.0V502.1M1741.8 440.5V493.7M1744.9 463.0V493.8M1748.0 444.5V481.7M1751.1 429.2V470.9M1754.2 437.0V485.2M1757.3 441.5V477.6M1760.4 438.5V510.8M1763.5 431.8V497.5M1766.6 426.4V489.1M1769.7 452.3V506.3M1772.8 441.7V497.7M1775.9 462.7V493.2M1779.0 463.0V519.0M1782.1 470.9V509.6M1785.2 457.7V512.8M1788.4 461.1V519.3M1791.5 454.3V504.7M1794.6 449.4V493.1M1797.7 449.7V501.9M1800.8 432.3V482.6M1803.9 445.8V493.9M1807.0 425.4V493.3M1810.1 437.9V472.1M1813.2 420.9V485.9M1816.3 434.4V480.3M1819.4 426.3V495.8M1822.5 442.5V478.5" fill="none" stroke="#FFA500" stroke-width="1.8" opacity="0.5"/>
<path d="M1065.0 561.8V586.2M1068.1 575.4V599.8M1071.2 570.6V595.5M1074.3 563.6V588.8M1077.4 554.7V580.2M1080.5 564.1V590.0M1083.6 557.3V583.5M1086.7 544.3V570.3M1089.8 548.8V574.7M1092.9 547.7V573.2M1096.0 543.0V567.6M1099.1 526.9V550.8M1102.3 528.0V551.3M1105.4 519.4V542.5M1108.5 513.1V536.3M1111.6 518.2V541.5M1114.7 519.5V543.2M1117.8 531.4V555.5M1120.9 522.9V547.4M1124.0 523.2V548.0M1127.1 522.4V547.4M1130.2 522.0V546.9M1133.3 513.2V537.9M1136.4 503.8V528.3M1139.5 518.8V543.1M1142.6 512.0V536.3M1145.7 515.4V539.8M1148.8 510.4V534.8M1151.9 511.4V536.1M1155.0 508.0V533.2M1158.1 517.6V543.1M1161.2 524.1V549.7M1164.3 518.9V544.4M1167.4 519.0V544.2M1170.6 516.3V541.3M1173.7 514.6V539.1M1176.8 510.6V534.6M1179.9 511.7V535.3M1183.0 507.7V531.0M1186.1 513.1V536.2M1189.2 508.1V531.0M1192.3 521.5V544.3M1195.4 519.6V542.3M1198.5 514.0V536.7M1201.6 518.7V541.4M1204.7 524.3V547.2M1207.8 531.5V554.7M1210.9 526.8V550.3M1214.0 533.7V557.6M1217.1 525.0V549.3M1220.2 513.1V537.7M1223.3 506.0V530.9M1226.4 509.7V534.1M1229.5 488.3V512.3M1232.6 486.9V510.3M1235.7 486.1V508.9M1238.9 489.2V511.7M1242.0 505.7V527.8M1245.1 511.6V533.5M1248.2 506.4V528.4M1251.3 524.0V545.9M1254.4 520.1V542.2M1257.5 513.3V535.6M1260.6 504.5V526.8M1263.7 507.4V529.8M1266.8 505.9V528.4M1269.9 509.5V532.1M1273.0 500.1V522.8M1276.1 504.2V527.0M1279.2 508.4V531.4M1282.3 490.2V513.3M1285.4 494.4V517.7M1288.5 506.1V529.5M1291.6 506.6V530.2M1294.7 482.0V505.7M1297.8 487.1V510.7M1300.9 480.1V503.7M1304.0 489.5V513.0M1307.2 486.7V510.0M1310.3 477.1V500.3M1313.4 477.5V500.5M1316.5 477.4V500.2M1319.6 451.4V474.0M1322.7 458.4V480.8M1325.8 462.2V484.4M1328.9 464.7V486.8M1332.0 463.7V485.6M1335.1 458.8V480.7M1338.2 466.4V488.2M1341.3 456.9V478.7M1344.4 451.1V473.0M1347.5 452.7V474.6M1350.6 448.1V470.2M1353.7 455.0V477.5M1356.8 453.3V476.1M1359.9 441.9V465.0M1363.0 453.3V476.8M1366.1 442.9V466.7M1369.2 451.7V475.6M1372.3 444.2V468.3M1375.5 455.2V479.3M1378.6 449.9V474.0M1381.7 459.9V484.0M1384.8 468.4V492.6M1387.9 467.6V491.9M1391.0 473.9V498.4M1394.1 476.9V501.6M1397.2 472.3V497.2M1400.3 483.6V508.7M1403.4 480.0V505.3M1406.5 475.6V501.0M1409.6 473.3V498.8M1412.7 462.4V487.8M1415.8 456.1V481.2M1418.9 477.6V502.5M1422.0 483.3V507.9M1425.1 488.9V513.2M1428.2 496.1V520.3M1431.3 501.4V525.3M1434.4 497.4V521.3M1437.5 504.5V528.4M1440.6 502.7V526.6M1443.8 504.9V529.1M1446.9 497.9V522.1M1450.0 490.2V514.5M1453.1 483.5V507.8M1456.2 473.6V497.8M1459.3 474.9V498.9M1462.4 482.9V506.9M1465.5 470.0V493.8M1468.6 475.0V498.5M1471.7 481.4V504.8M1474.8 473.1V496.3M1477.9 467.1V490.3M1481.0 476.3V499.5M1484.1 477.6V500.8M1487.2 475.9V499.3M1490.3 471.0V494.6M1493.4 460.1V483.9M1496.5 483.3V507.3M1499.6 463.6V487.7M1502.7 464.4V488.5M1505.8 471.7V495.9M1508.9 469.3V493.4M1512.0 463.6V487.7M1515.2 465.0V489.0M1518.3 471.0V495.1M1521.4 469.9V494.0M1524.5 460.9V485.1M1527.6 466.5V490.9M1530.7 468.5V493.1M1533.8 468.9V493.8M1536.9 465.3V490.4M1540.0 456.6V482.0M1543.1 462.1V487.8M1546.2 464.0V490.1M1549.3 465.1V491.5M1552.4 452.5V479.2M1555.5 464.8V491.2M1558.6 473.2V499.4M1561.7 471.8V497.8M1564.8 472.7V498.1M1567.9 481.5V506.2M1571.0 480.7V504.7M1574.1 476.3V499.7M1577.2 477.9V500.8M1580.3 475.0V497.4M1583.5 468.9V491.1M1586.6 477.9V499.8M1589.7 467.9V489.6M1592.8 450.4V472.0M1595.9 456.2V477.8M1599.0 457.1V478.7M1602.1 445.2V466.8M1605.2 451.0V472.7M1608.3 462.6V484.2M1611.4 455.6V477.3M1614.5 454.9V476.7M1617.6 454.7V476.6M1620.7 458.9V481.0M1623.8 463.7V486.0M1626.9 468.4V490.8M1630.0 470.3V492.8M1633.1 473.2V495.6M1636.2 476.6V498.7M1639.3 475.0V496.9M1642.4 475.7V497.2M1645.5 466.0V487.1M1648.6 461.5V482.2M1651.8 474.5V495.1M1654.9 473.5V493.8M1658.0 468.3V488.4M1661.1 464.8V484.8M1664.2 461.3V481.2M1667.3 470.0V490.0M1670.4 456.5V476.5M1673.5 459.9V479.8M1676.6 459.4V479.4M1679.7 454.6V474.6M1682.8 460.0V480.1M1685.9 452.1V472.3M1689.0 449.2V469.7M1692.1 450.1V470.7M1695.2 442.3V463.1M1698.3 457.7V479.0M1701.4 453.9V475.7M1704.5 456.8V479.1M1707.6 442.1V465.2M1710.7 439.9V463.6M1713.8 450.1V474.3M1716.9 449.0V473.4M1720.1 458.8V483.3M1723.2 472.9V497.3M1726.3 468.4V492.6M1729.4 468.5V492.4M1732.5 466.8V490.3M1735.6 461.2V484.2M1738.7 466.1V488.5M1741.8 458.5V480.7M1744.9 465.6V487.3M1748.0 454.2V475.6M1751.1 440.8V462.0M1754.2 448.4V469.4M1757.3 449.9V471.0M1760.4 462.8V484.0M1763.5 456.8V478.2M1766.6 453.5V475.2M1769.7 459.7V481.6M1772.8 468.0V490.2M1775.9 469.3V491.7M1779.0 471.4V494.0M1782.1 477.2V499.9M1785.2 472.7V495.4M1788.4 474.7V497.5M1791.5 472.3V495.0M1794.6 464.8V487.5M1797.7 460.6V483.1M1800.8 447.0V469.5M1803.9 455.0V477.3M1807.0 445.5V467.7M1810.1 445.0V467.0M1813.2 440.6V462.4M1816.3 442.7V464.3M1819.4 449.5V471.0M1822.5 454.0V475.3" fill="none" stroke="#FFA500" stroke-width="3.3000000000000003" opacity="1"/>
<path d="M1065.0 552.3V589.4M1068.1 572.7V625.2M1071.2 554.7V621.2M1074.3 562.4V604.8M1077.4 547.2V585.0M1080.5 562.2V616.7M1083.6 548.7V608.1M1086.7 531.2V597.2M1089.8 545.9V579.1M1092.9 546.2V578.4M1096.0 517.4V572.1M1099.1 511.5V567.2M1102.3 523.5V568.8M1105.4 518.6V552.1M1108.5 510.8V538.9M1111.6 499.9V550.3M1114.7 501.6V546.9M1117.8 511.7V579.3M1120.9 516.5V554.2M1124.0 519.9V550.5M1127.1 516.5V570.8M1130.2 519.8V548.5M1133.3 489.8V552.7M1136.4 482.0V538.3M1139.5 511.8V554.4M1142.6 510.6V561.3M1145.7 490.2V540.2M1148.8 509.5V551.5M1151.9 502.8V555.6M1155.0 496.4V559.1M1158.1 512.0V544.6M1161.2 518.1V576.1M1164.3 497.4V556.6M1167.4 496.5V564.8M1170.6 512.8V544.2M1173.7 498.4V561.3M1176.8 494.7V559.4M1179.9 488.3V545.3M1183.0 490.4V551.1M1186.1 498.4V560.0M1189.2 504.4V554.7M1192.3 513.7V556.4M1195.4 508.8V546.0M1198.5 508.6V549.4M1201.6 508.5V563.3M1204.7 520.3V549.7M1207.8 523.9V568.4M1210.9 518.2V559.2M1214.0 530.1V578.7M1217.1 520.2V555.7M1220.2 491.7V538.2M1223.3 503.8V542.3M1226.4 487.8V541.8M1229.5 463.6V522.3M1232.6 477.7V534.5M1235.7 483.9V515.4M1238.9 486.0V534.9M1242.0 490.0V539.9M1245.1 506.9V556.2M1248.2 490.9V549.1M1251.3 517.8V553.8M1254.4 508.6V545.7M1257.5 512.9V557.9M1260.6 500.7V528.0M1263.7 497.1V553.0M1266.8 491.9V551.6M1269.9 495.7V551.1M1273.0 476.7V542.6M1276.1 481.9V544.7M1279.2 507.8V538.0M1282.3 486.5V517.1M1285.4 476.0V521.6M1288.5 488.5V533.5M1291.6 494.5V534.5M1294.7 472.2V512.6M1297.8 476.3V525.0M1300.9 479.0V528.1M1304.0 476.8V521.8M1307.2 476.4V523.9M1310.3 476.7V509.1M1313.4 469.5V501.3M1316.5 453.8V503.9M1319.6 441.6V488.6M1322.7 455.4V488.0M1325.8 458.2V507.4M1328.9 457.0V492.0M1332.0 442.2V496.0M1335.1 436.2V483.9M1338.2 443.9V491.1M1341.3 449.9V486.1M1344.4 436.0V480.4M1347.5 439.4V483.3M1350.6 437.5V476.8M1353.7 454.3V494.8M1356.8 452.1V484.6M1359.9 417.9V468.4M1363.0 444.5V484.5M1366.1 425.7V481.1M1369.2 449.8V479.1M1372.3 443.5V475.1M1375.5 441.5V491.5M1378.6 446.1V476.9M1381.7 449.4V487.4M1384.8 443.4V492.9M1387.9 450.4V508.7M1391.0 448.6V505.5M1394.1 467.4V507.4M1397.2 453.4V500.2M1400.3 474.1V534.7M1403.4 457.9V517.9M1406.5 470.0V505.5M1409.6 463.4V500.9M1412.7 452.2V494.8M1415.8 455.3V499.5M1418.9 472.7V504.6M1422.0 466.5V532.0M1425.1 480.6V519.5M1428.2 495.7V531.5M1431.3 492.3V540.9M1434.4 479.8V532.9M1437.5 497.3V538.7M1440.6 486.4V541.8M1443.8 503.1V538.9M1446.9 496.3V547.2M1450.0 474.9V529.0M1453.1 468.4V513.4M1456.2 465.3V502.0M1459.3 451.0V499.3M1462.4 463.5V507.8M1465.5 457.8V518.3M1468.6 450.6V499.6M1471.7 480.3V517.0M1474.8 458.5V498.8M1477.9 446.4V502.2M1481.0 468.8V511.3M1484.1 473.9V505.1M1487.2 473.2V500.1M1490.3 449.6V495.7M1493.4 445.5V492.2M1496.5 474.7V523.9M1499.6 456.5V494.5M1502.7 458.7V490.1M1505.8 466.3V496.2M1508.9 468.7V493.7M1512.0 457.1V490.2M1515.2 441.4V494.0M1518.3 467.7V514.9M1521.4 465.4V519.0M1524.5 459.1V506.6M1527.6 459.8V504.2M1530.7 462.4V503.9M1533.8 462.1V502.5M1536.9 464.0V513.1M1540.0 435.6V485.2M1543.1 435.5V490.2M1546.2 439.9V490.7M1549.3 460.2V507.4M1552.4 438.0V489.4M1555.5 454.7V501.5M1558.6 470.0V526.5M1561.7 465.2V510.3M1564.8 471.0V508.0M1567.9 478.5V513.4M1571.0 480.0V505.7M1574.1 473.1V517.2M1577.2 471.8V513.2M1580.3 465.7V510.4M1583.5 457.6V509.8M1586.6 466.4V502.6M1589.7 465.1V508.6M1592.8 448.0V485.1M1595.9 451.9V489.1M1599.0 453.0V486.0M1602.1 443.7V476.2M1605.2 443.0V475.0M1608.3 458.8V502.1M1611.4 447.1V481.9M1614.5 443.2V499.3M1617.6 453.3V488.6M1620.7 455.1V485.6M1623.8 460.1V504.7M1626.9 454.1V508.2M1630.0 453.5V504.0M1633.1 470.7V505.0M1636.2 475.7V507.7M1639.3 468.1V498.7M1642.4 464.3V497.5M1645.5 451.7V501.2M1648.6 454.2V483.5M1651.8 473.8V499.5M1654.9 469.7V511.0M1658.0 447.4V502.5M1661.1 444.1V494.5M1664.2 451.7V485.2M1667.3 466.3V498.2M1670.4 445.5V476.9M1673.5 453.4V500.5M1676.6 458.7V486.9M1679.7 452.2V486.3M1682.8 439.2V500.9M1685.9 445.0V473.5M1689.0 442.8V482.2M1692.1 434.1V475.8M1695.2 433.8V470.7M1698.3 455.5V485.0M1701.4 450.0V478.6M1704.5 456.4V483.7M1707.6 440.0V467.4M1710.7 434.4V473.7M1713.8 442.3V487.8M1716.9 434.3V484.7M1720.1 453.7V502.2M1723.2 454.6V501.8M1726.3 458.4V511.8M1729.4 459.1V494.7M1732.5 454.6V493.9M1735.6 446.9V489.5M1738.7 451.6V498.9M1741.8 446.0V492.1M1744.9 464.4V489.8M1748.0 448.2V476.0M1751.1 431.7V468.8M1754.2 442.2V481.3M1757.3 443.9V471.3M1760.4 440.9V505.9M1763.5 439.0V495.7M1766.6 431.1V487.3M1769.7 459.3V503.8M1772.8 445.1V492.0M1775.9 464.8V492.0M1779.0 465.1V515.9M1782.1 476.5V506.9M1785.2 467.8V508.5M1788.4 466.8V510.7M1791.5 459.3V502.8M1794.6 453.8V490.7M1797.7 452.8V496.3M1800.8 435.9V480.4M1803.9 450.2V490.2M1807.0 435.9V490.7M1810.1 442.9V469.0M1813.2 425.1V483.3M1816.3 439.9V474.4M1819.4 431.9V489.9M1822.5 448.8V476.5" fill="none" stroke="#FFA500" stroke-width="1.75" opacity="1"/>
</g>
<g id="panelA">
<path d="M306,511 307,513 308,512ZM400,508 400,515 401,516 404,516 404,512 402,507ZM531,472 531,473 533,474 533,473ZM549,471 547,471 544,474 545,477 549,476 551,474ZM544,394 542,399 545,399 546,398 546,395ZM293,394 292,399 296,402 301,402 304,404 298,397 297,393ZM701,375 700,378 702,379 703,377ZM297,341 296,339 293,340 292,342 293,343 296,343ZM391,292 389,293 386,297 388,300 390,300 392,298ZM490,273 489,276 490,277 493,276 494,274 493,273ZM277,249 276,251 280,255 282,261 285,262 286,260 285,249 284,248ZM542,232 544,235 549,235 550,234 550,232 547,232 546,231 543,231ZM549,222 549,224 551,227 554,228 555,226 552,223ZM328,217 328,218 329,218 329,217ZM313,211 310,210 308,212 307,216 312,216 314,213ZM538,152 539,155 543,156 547,159 549,158 549,156 547,154 543,154 539,151ZM339,143 338,145 341,146 342,144ZM521,115 522,122 519,129 522,131 525,131 527,127 523,121 523,115ZM506,97 503,97 501,100 494,98 487,100 482,100 479,106 479,111 482,118 482,120 480,122 470,122 469,121 465,122 463,120 463,117 461,116 459,117 453,117 452,114 455,110 455,105 452,99 448,99 446,103 442,106 439,105 437,102 437,100 436,100 432,110 429,112 426,112 416,101 414,101 411,103 407,99 402,100 400,102 400,108 395,112 392,118 390,119 386,118 383,120 380,120 379,119 369,120 363,118 358,123 352,125 351,128 354,132 356,133 365,133 367,135 367,137 360,142 360,145 358,147 355,147 354,148 356,153 356,155 354,157 346,157 343,159 339,158 333,162 332,167 328,171 325,171 324,172 325,175 326,175 330,180 335,181 336,180 335,172 338,170 342,170 345,175 352,178 353,182 357,188 357,191 354,195 350,197 347,194 344,183 342,182 338,185 338,189 333,198 333,200 330,203 326,203 324,201 324,198 325,197 324,192 320,189 319,190 319,195 317,201 322,204 323,206 323,211 326,213 329,212 334,213 336,215 336,219 330,226 326,223 312,223 312,228 315,233 312,237 309,237 307,235 305,230 300,230 298,228 297,224 299,222 303,221 303,220 298,221 298,223 291,231 291,234 292,235 296,231 298,231 300,233 299,236 295,241 295,244 291,246 292,249 291,254 294,259 294,267 293,268 290,268 285,265 282,270 278,270 275,272 275,274 278,276 282,274 284,271 286,271 288,275 288,278 292,282 288,287 284,288 281,285 281,282 278,280 275,281 275,284 277,287 270,295 270,302 271,303 269,307 267,309 263,310 262,312 263,322 268,318 270,319 273,318 274,316 274,311 276,308 279,309 283,308 285,310 285,314 273,334 273,338 276,339 279,336 279,333 282,330 294,330 297,333 297,336 298,336 304,330 304,325 301,323 299,320 299,316 300,315 302,315 307,320 312,319 313,320 312,325 314,328 318,328 321,331 326,332 331,337 330,340 325,346 325,349 327,352 327,354 325,356 322,355 319,352 318,346 310,339 308,339 304,342 303,344 303,350 307,353 312,359 317,356 320,357 330,356 334,353 336,353 341,360 349,361 353,359 355,361 355,363 352,364 351,366 354,370 354,372 348,379 349,380 349,383 344,387 341,385 341,379 338,375 340,369 340,365 338,363 331,365 329,367 329,372 324,374 322,376 318,376 314,382 312,382 307,377 301,377 302,380 302,388 300,391 300,393 304,393 308,390 313,390 318,394 320,398 311,406 312,408 310,411 306,411 302,407 291,411 289,410 286,406 281,406 278,404 278,402 280,401 282,398 282,395 276,388 275,385 267,377 268,373 270,371 275,369 275,364 277,360 280,358 283,360 282,366 286,369 289,374 300,373 305,370 308,370 310,372 315,373 320,370 321,367 319,365 314,364 312,361 309,363 304,362 298,354 292,352 290,353 292,356 293,362 291,364 289,364 286,360 286,354 282,353 279,350 278,347 276,347 276,348 270,353 267,352 268,342 266,338 263,338 258,343 261,350 267,354 263,359 262,365 260,368 260,371 264,374 267,378 264,382 261,383 263,389 255,397 254,401 251,403 247,408 247,414 249,414 252,410 254,411 252,414 251,420 248,422 248,437 247,438 244,436 241,437 241,439 245,445 243,448 231,448 230,449 227,449 224,454 216,456 214,459 214,464 216,466 214,470 214,475 220,479 221,478 228,477 231,480 225,486 222,486 219,481 217,481 214,484 215,493 219,495 221,498 221,503 222,504 222,516 221,519 227,523 229,522 232,518 236,518 237,519 240,518 241,520 238,521 236,523 236,525 239,527 241,530 246,532 250,536 253,541 257,539 261,539 267,542 272,547 276,547 279,542 277,542 273,538 273,530 272,529 275,524 284,523 288,525 296,525 297,526 297,531 295,533 290,534 287,538 283,537 281,541 288,541 289,542 289,546 291,548 295,548 300,541 303,542 310,541 313,546 317,547 318,545 314,540 314,538 316,536 322,536 325,541 325,546 328,548 329,547 329,544 327,539 327,533 331,531 333,528 334,516 337,510 342,514 346,514 349,512 351,507 353,509 352,513 346,519 342,519 340,521 340,523 342,525 342,528 341,529 341,533 338,537 345,538 347,536 347,530 353,524 355,524 358,529 355,534 355,538 360,538 361,537 361,533 360,532 363,528 361,519 364,515 367,518 367,520 369,523 374,527 383,521 381,517 377,514 377,510 379,507 376,506 373,509 369,509 367,507 367,503 370,500 378,500 380,499 383,495 388,501 385,506 388,508 392,507 391,499 395,495 403,495 407,498 410,494 411,490 404,487 403,484 410,478 413,478 417,476 418,474 418,471 416,469 410,469 408,467 408,465 411,463 415,466 421,466 424,463 424,460 426,458 431,459 434,463 433,464 433,468 430,471 425,472 424,476 426,479 426,482 421,486 420,489 421,491 423,490 429,491 435,486 438,486 440,484 441,480 444,477 449,478 453,483 454,486 456,487 458,486 462,479 461,476 470,473 472,471 474,466 470,461 472,459 477,461 479,461 482,458 485,458 488,460 492,460 495,457 497,459 499,463 498,466 496,466 493,464 485,471 481,473 481,475 483,477 488,478 492,483 496,482 503,475 507,473 508,474 508,480 520,477 526,472 524,468 524,465 525,464 534,463 536,461 534,455 539,450 544,450 548,454 550,464 558,468 559,467 559,455 566,453 566,449 569,448 574,455 574,457 572,459 566,462 566,465 571,473 573,472 580,472 586,468 586,466 581,469 577,467 577,458 580,454 583,454 584,455 585,461 588,464 591,464 599,460 602,462 604,467 606,469 610,468 613,469 616,472 619,472 620,471 630,472 632,471 635,466 638,466 641,468 646,468 654,459 656,458 660,459 666,456 668,449 674,443 680,440 680,437 678,434 684,426 691,421 697,419 697,415 694,410 694,405 691,402 691,399 695,395 699,404 703,404 706,399 706,396 700,390 698,390 695,388 694,383 692,380 693,370 697,365 697,363 696,363 693,359 690,359 689,358 689,352 690,351 689,347 685,341 685,339 675,327 675,322 672,320 667,320 662,323 660,321 660,315 656,309 653,309 648,305 641,306 635,301 631,301 627,303 624,303 619,298 614,295 614,297 618,300 620,304 615,310 606,311 602,306 601,297 599,295 596,296 590,295 587,297 584,301 582,301 580,299 583,297 586,292 591,288 591,282 589,280 581,281 578,278 578,276 576,273 570,275 568,277 568,282 571,287 577,291 577,294 576,295 578,297 574,306 574,309 575,310 577,309 583,310 585,312 584,313 584,318 592,328 592,332 589,336 591,343 591,346 589,348 586,346 583,346 582,347 575,346 569,342 570,339 577,339 581,336 587,336 587,335 582,331 579,326 575,329 572,328 571,323 573,321 576,321 577,319 576,317 574,316 571,318 569,318 567,320 567,323 566,324 567,328 564,332 557,330 552,327 551,321 560,313 560,312 558,312 554,315 549,311 546,311 544,308 547,306 547,303 551,300 554,300 557,304 561,304 563,301 563,296 564,295 567,295 569,298 571,298 573,296 573,295 567,294 562,288 558,288 556,286 557,280 555,279 552,282 552,290 550,292 547,292 542,294 540,298 540,301 535,304 535,308 539,309 542,313 542,320 543,321 542,325 540,326 536,323 532,326 530,326 527,324 522,325 520,328 520,330 524,333 524,337 522,341 519,339 518,335 512,331 515,324 515,320 518,316 528,317 531,319 533,319 532,316 527,317 525,315 523,307 527,303 527,297 524,293 522,293 518,296 514,295 511,291 509,292 506,296 503,296 501,294 501,292 503,290 507,289 510,285 509,283 510,275 511,274 510,272 503,268 499,268 497,270 497,272 503,279 503,282 499,286 494,286 492,287 491,289 491,294 489,296 486,297 476,291 474,287 474,282 476,280 481,278 481,276 479,273 486,264 490,263 493,260 496,260 499,258 501,258 511,252 507,244 510,240 512,240 515,243 521,240 525,241 528,246 527,249 531,251 533,254 531,260 533,262 540,261 543,264 540,269 535,269 534,270 523,272 521,270 521,265 526,259 526,254 525,253 523,254 519,259 513,257 511,261 513,264 514,270 517,272 522,272 525,275 524,280 523,281 515,282 513,284 514,286 519,287 525,284 530,284 532,281 532,277 537,272 539,272 542,275 545,275 552,268 558,269 562,274 564,275 567,274 567,267 568,266 567,265 562,264 559,262 556,262 553,264 550,261 549,256 554,251 557,253 559,259 562,255 563,249 561,247 556,247 551,243 548,243 548,245 544,253 541,255 539,254 536,250 536,243 535,242 535,238 537,236 537,233 534,231 531,231 530,232 528,231 528,225 539,212 547,213 547,211 544,211 541,208 541,205 545,201 544,186 541,183 541,180 540,179 535,180 533,178 533,175 530,170 532,167 536,167 537,162 532,158 529,149 533,146 537,147 538,146 538,143 534,135 525,134 523,136 522,143 518,147 519,150 524,150 527,153 527,155 525,158 525,163 523,165 519,165 516,162 516,159 514,158 510,160 506,160 502,155 502,147 500,145 500,142 502,140 504,141 504,147 505,148 508,148 514,144 513,140 511,139 506,139 504,135 502,137 498,137 496,135 496,128 495,127 495,124 496,123 502,123 505,125 509,123 509,119 507,115 505,113 503,113 500,111 498,108 499,105 503,101 508,101 508,99ZM318,528 319,527 323,527 324,528 324,531 322,532 320,531ZM264,527 265,530 263,534 259,537 256,534 255,529 258,527ZM254,517 256,519 256,522 252,525 249,523 249,521ZM280,514 284,517 284,519 282,521 281,521 278,517ZM353,503 356,502 363,507 361,509 357,509 354,506ZM252,502 254,501 255,503 253,504ZM300,492 302,492 304,494 304,496 302,499 303,502 305,503 312,503 318,510 320,510 322,512 320,515 315,516 311,521 316,527 305,534 302,531 302,521 298,518 298,510 294,505 294,500 297,494ZM363,489 364,488 367,488 369,490 369,492 368,493 365,493 363,491ZM306,481 314,478 317,479 323,486 323,490 322,491 323,492 325,491 327,487 330,487 333,489 339,489 343,487 345,489 346,493 344,495 339,496 334,499 327,501 323,501 320,498 319,493 311,485 307,484ZM267,478 270,479 274,483 275,486 273,488 265,481ZM372,482 374,478 377,476 380,480 385,480 387,483 384,487 378,489ZM353,477 354,476 355,477 354,478ZM323,469 324,468 327,468 329,471 327,473 325,473 323,471ZM345,467 347,466 348,468 346,469ZM436,463 441,460 446,460 450,463 452,470 458,471 461,475 460,476 456,476 450,471 442,471ZM336,459 338,459 342,465 342,466 339,468 336,468 333,465 333,462ZM453,459 455,457 460,457 461,458 461,460 458,462 454,461ZM349,458 351,457 353,459 353,461 350,462 349,461ZM346,450 347,451 347,454 344,455 343,452ZM514,449 517,452 519,457 521,459 522,464 519,467 519,471 517,473 509,473 508,472 508,463 507,462 508,454 510,451ZM250,448 253,452 251,454 249,454 247,452ZM500,449 502,447 504,448 507,452 506,453 503,453 500,451ZM475,441 477,443 477,445 474,449 473,453 468,458 463,458 462,455 470,448 470,446 467,442 469,440ZM588,434 591,437 590,442 585,445 583,443 582,436 585,434ZM420,430 422,430 428,437 428,442 422,449 420,447 419,442 416,438ZM475,427 476,427 484,436 485,441 483,443 480,442 477,439 474,430ZM251,421 252,420 255,420 256,421 256,424 253,425 251,423ZM416,419 417,418 418,419 417,420ZM406,416 408,419 407,424 410,429 410,435 407,438 405,437 400,437 397,435 396,430 395,429 392,429 391,432 395,437 395,439 391,443 391,445 393,447 398,447 403,444 405,445 408,449 413,451 415,453 415,455 409,462 404,461 400,456 396,456 392,459 387,460 388,466 394,465 398,468 399,470 399,483 397,484 392,478 390,478 388,476 386,470 381,470 378,466 375,466 370,473 364,472 363,471 363,466 359,461 359,457 361,454 369,454 374,456 378,461 383,461 384,460 383,454 380,450 381,445 379,443 377,443 375,445 376,450 375,451 372,451 366,443 365,437 368,433 374,428 376,433 379,436 383,436 387,431 385,424 388,421 400,419 402,417ZM519,417 521,419 520,422 518,423 513,422 513,425 519,431 519,434 516,437 512,437 509,434 510,432 510,425 504,427 503,429 503,434 499,439 499,445 496,448 493,448 489,444 489,441 492,438 493,435 492,434 487,435 486,432 488,430 492,431 495,428 495,425 492,422 489,424 487,424 481,421 479,419 479,417 481,415 484,415 489,420 496,414 501,418 511,418 513,419ZM578,413 582,418 582,424 581,425 578,424 578,420 577,419 577,414ZM420,410 425,410 427,408 429,408 431,410 432,415 439,421 444,421 447,425 457,425 460,422 467,421 471,426 469,428 467,428 464,430 466,439 463,442 458,443 456,441 448,438 447,439 447,442 453,449 453,453 450,455 444,454 442,452 444,446 443,445 439,445 433,441 433,439 438,433 432,427 431,421 428,420 425,416 418,416 417,415 417,412ZM469,408 469,410 461,416 457,421 451,417 449,417 445,420 444,419 444,417 449,413 457,414 458,412 466,405ZM580,405 584,404 587,406 593,406 595,408 595,410 592,416 589,419 587,418 589,413 588,411 582,411 581,412 578,411 578,407ZM569,402 571,404 569,407 568,406 568,403ZM437,401 438,400 446,402 447,404 444,406 439,406 437,404ZM379,399 381,401 380,405 381,406 385,405 387,408 384,414 381,417 383,421 383,424 376,428 374,428 372,422 372,416 370,413 370,409 374,405 375,401 377,399ZM273,399 275,403 271,408 269,408 267,406 267,404 271,399ZM420,398 422,398 424,400 421,403 418,402 418,400ZM483,394 484,393 485,394 484,395ZM428,394 429,393 432,393 434,395 432,397 430,397ZM588,392 590,392 593,396 593,399 591,401 589,401 586,399 586,395ZM326,399 328,397 331,397 332,396 335,396 337,399 339,399 340,398 339,397 339,394 341,392 344,392 346,394 346,398 352,402 358,402 364,405 364,408 357,413 351,411 354,410 353,408 350,411 347,411 343,413 335,406 335,404 333,402 329,402ZM565,393 568,391 574,391 575,392 578,392 579,395 576,398 567,398 565,395ZM377,389 380,387 383,387 384,388 383,391 380,391ZM361,378 366,382 365,385 368,388 359,393 355,393 353,390 353,384ZM584,369 591,370 593,372 593,374 591,377 593,386 591,389 588,390 584,389 581,383 583,380 586,379 585,377 582,377 581,376 581,373ZM565,369 567,371 568,375 572,375 576,378 576,381 574,384 570,386 565,386 564,394 559,400 558,405 553,414 555,416 557,416 560,413 563,412 565,414 566,419 569,419 571,421 571,423 566,426 565,428 568,433 567,434 567,439 562,443 559,444 556,443 554,441 554,439 559,435 561,432 561,430 556,427 557,423 550,424 546,421 544,417 542,417 539,419 537,422 535,429 532,432 532,437 535,439 537,442 535,444 532,444 526,452 524,452 522,449 522,445 524,442 524,440 529,433 528,430 525,427 524,423 529,419 530,417 530,412 532,408 539,402 539,401 533,400 532,399 532,396 538,391 540,391 544,388 552,388 553,385 551,380 553,378 556,377 560,379 565,379 561,373 561,371 563,369ZM449,360 450,359 454,363 452,364ZM376,353 377,354 377,357 376,359 371,363 369,367 369,370 367,371 365,369 366,368 365,357 368,354 375,354ZM556,353 558,352 560,355 567,356 570,351 572,354 577,354 581,358 581,360 575,365 573,365 569,361 563,363 558,359 558,356ZM468,349 469,350 469,356 468,357 470,358 473,356 475,356 478,360 478,363 476,365 477,370 483,369 489,377 496,371 501,375 506,372 507,373 507,379 505,381 500,380 498,383 498,387 497,388 495,388 491,385 488,387 488,389 486,391 484,390 484,387 485,386 484,383 479,380 476,385 471,389 470,391 470,398 466,402 463,401 457,396 456,392 453,388 453,384 455,380 452,379 449,376 449,372 451,369 454,368 460,375 459,380 464,387 467,387 469,383 474,381 474,379 472,377 470,378 467,382 464,381 460,377 466,370 466,363 462,363 460,357 456,357 453,354 456,351 462,352 465,349ZM568,348 570,347 571,350 569,351ZM517,346 522,351 528,351 534,356 534,358 531,363 531,367 541,372 542,374 535,378 533,378 530,375 530,373 527,372 525,374 522,383 527,391 527,396 525,400 522,403 514,407 509,407 505,411 500,411 496,407 496,404 498,400 502,396 504,396 510,393 511,391 510,388 515,384 515,379 516,378 515,376 515,368 520,359 520,357 515,355 511,355 510,352 514,346ZM373,335 375,336 378,343 382,343 387,338 388,339 397,338 399,341 410,342 412,344 410,348 404,346 401,349 401,352 399,355 399,359 402,362 402,369 400,371 396,372 394,371 391,367 389,368 396,380 395,381 386,379 384,376 384,370 385,369 384,362 385,361 388,362 391,361 391,356 389,352 389,348 387,347 378,353 377,352 376,345 375,345 370,339ZM346,334 348,334 352,338 354,342 356,342 360,345 361,347 361,352 360,353 354,353 353,352 344,351 341,348 341,346 344,341 344,337ZM532,331 537,331 542,338 543,343 545,345 548,345 553,350 554,353 548,360 546,360 542,356 541,353 535,352 531,348 530,343 532,338 532,334 531,333ZM407,327 408,328 408,331 405,333 404,332 404,329ZM355,330 359,327 361,327 363,329 361,332 356,332ZM331,321 333,322 337,327 336,330 333,333 330,332 328,329 329,324ZM449,319 452,323 453,329 454,329 456,332 447,335 447,339 451,345 450,351 447,353 442,346 440,347 438,351 440,357 438,363 443,370 442,374 441,375 438,375 436,371 435,371 432,367 434,363 432,361 429,361 429,363 427,366 427,371 424,374 421,375 432,380 434,383 430,385 425,391 422,391 419,394 417,394 414,389 409,389 409,395 411,399 410,400 410,403 411,404 411,409 410,410 406,410 404,406 401,405 395,411 392,411 389,407 390,405 393,403 392,397 386,390 390,388 396,390 401,390 402,388 399,384 399,381 406,376 406,371 407,370 411,370 416,366 414,362 408,359 404,359 403,357 410,355 412,351 416,357 423,357 425,356 428,352 428,347 425,344 424,345 421,345 420,344 421,341 425,338 425,336 427,333 434,332 438,335 441,334 443,331 443,323 446,320ZM598,312 600,313 602,316 599,320 596,320 594,317ZM585,310 588,306 593,306 595,308 595,309 591,312 588,312ZM459,300 462,302 461,305 473,307 477,302 479,302 485,305 487,305 489,307 489,309 484,317 482,317 478,313 474,318 470,320 469,322 470,324 473,324 475,326 475,330 471,332 469,331 467,328 467,326 463,323 462,320 457,320 456,319 457,312 455,308 456,307 456,303ZM289,302 283,307 281,306 276,307 274,305 275,303 278,302 281,299 286,299ZM494,297 499,297 502,300 502,303 509,310 513,318 512,321 501,330 504,335 505,339 507,341 505,350 499,355 499,358 503,363 502,365 493,364 488,361 490,352 492,349 492,345 486,346 481,340 476,344 471,342 468,343 456,342 454,340 457,335 461,335 463,337 470,338 474,335 479,328 478,322 482,319 484,320 487,324 485,335 492,337 494,339 494,344 497,343 496,340 496,327 498,324 501,323 504,320 504,317 502,314 499,314 499,315 495,318 490,318 489,317 490,309 495,305 492,300ZM446,292 449,293 452,297 452,300 449,303 448,303 444,298ZM299,291 301,292 303,296 308,301 310,301 314,298 314,293 317,290 320,290 324,293 324,296 322,299 322,304 315,310 316,313 313,318 311,316 311,311 308,305 304,303 299,303 297,301 297,294ZM464,283 466,285 466,288 461,293 459,293 456,288 456,285 457,284ZM292,281 295,280 296,282 293,283ZM465,271 468,273 467,276 465,276 463,274ZM459,272 458,274 453,277 454,283 447,286 445,292 439,291 438,292 429,291 427,290 424,286 424,284 426,282 433,281 439,278 444,277 445,274 442,272 444,269 446,269 448,272 451,274 453,274 457,271ZM448,303 448,308 445,311 437,311 435,313 425,313 421,309 415,309 414,308 412,309 413,312 419,318 420,321 426,319 430,320 433,318 438,319 439,322 435,328 427,328 422,324 419,329 415,329 413,327 413,324 414,323 413,321 408,322 404,319 398,320 395,317 395,315 398,313 399,311 398,309 396,309 394,312 394,314 389,316 389,317 393,320 393,327 392,329 385,334 382,332 382,326 380,324 376,324 374,325 374,326 380,331 380,333 377,335 374,335 368,326 363,322 363,317 364,316 372,317 379,311 379,305 373,299 373,296 377,293 382,293 382,292 375,290 374,289 374,283 373,281 370,279 367,279 365,282 364,292 365,295 368,297 369,300 367,302 364,302 363,301 361,302 361,309 359,312 346,314 345,316 349,317 351,320 349,323 347,323 344,318 340,318 339,317 334,317 332,320 330,321 323,313 324,310 329,311 334,303 337,303 341,305 342,307 345,309 347,305 346,295 347,294 356,294 357,293 357,288 355,287 349,287 347,288 344,292 340,291 334,296 329,296 327,293 332,288 335,287 341,288 342,287 342,282 344,280 348,280 351,278 357,278 360,275 368,274 370,272 374,271 377,274 377,280 380,284 384,284 385,285 390,284 393,286 394,289 405,289 404,285 396,279 395,275 393,275 389,272 389,269 392,267 394,268 397,272 402,272 407,276 405,272 405,268 407,266 413,264 417,264 421,266 427,266 431,270 435,270 436,271 432,275 428,275 423,271 421,271 414,276 412,276 411,279 415,283 417,289 414,292 408,295 406,295 404,297 404,300 413,305 417,300 420,300 423,307 430,307 433,305 433,301 437,298 440,298 443,302 447,302ZM472,263 475,267 475,270 474,271 470,268 470,265ZM460,262 461,261 462,263 461,264ZM422,256 425,252 441,252 447,254 451,259 447,262 440,260 437,264 434,266 427,264 422,259ZM486,253 484,257 475,259 472,263 468,259 466,259 464,257 464,253 465,252 467,252 468,254 470,254 470,253 475,249 483,248ZM305,242 309,248 306,251 302,250 300,252 298,252 296,250 296,248 299,247 303,242ZM518,198 522,202 525,211 528,215 528,224 524,226 518,227 518,231 515,234 512,234 511,233 505,234 504,233 509,230 512,226 508,221 508,217 510,215 513,215 516,217 519,217 520,216 519,214 515,213 511,209 511,204 515,199ZM531,191 534,192 536,195 535,198 532,201 533,204 530,207 528,207 526,204 529,201 529,192ZM514,188 516,187 518,190 516,191ZM506,188 507,185 509,185 511,187 509,189ZM527,183 531,183 533,185 530,191 528,191 525,188 525,185ZM361,180 364,181 364,184 362,186 359,185 359,182ZM504,168 507,165 513,165 520,173 524,174 526,176 526,179 525,180 520,180 514,176 509,176 504,171ZM368,156 369,155 372,155 374,159 371,160ZM373,145 375,142 379,141 384,144 387,144 388,143 394,145 398,144 403,148 400,151 389,152 391,155 391,157 388,162 388,165 386,167 383,164 384,161 383,153 379,150 376,150 373,147ZM376,131 377,130 378,131 377,132ZM386,127 388,124 390,124 395,130 393,132 388,132 386,130ZM429,126 431,129 426,137 420,138 419,139 419,142 417,144 414,144 411,141 411,139 407,134 400,134 398,132 398,130 403,126 412,127 417,122 421,125 419,128 419,132 422,131 422,128 424,126ZM437,116 441,117 443,119 442,123 438,127 435,126 435,122 434,121 434,119ZM492,113 494,113 496,115 496,121 494,123 490,120 490,116ZM409,111 411,113 410,116 408,115 408,112ZM407,106 408,103 411,104 409,107Z" fill="#000" fill-rule="evenodd"/>
<path d="M307.0 492.0l1.2 0.8M305.6 494.3l-0.0 0.1M631.4 347.7l-0.1 0.1M677.1 331.7l0.1 -1.0M603.7 371.1l0.7 0.5M350.2 422.5l0.2 0.4M352.6 163.4l0.2 1.6M261.1 536.5l-0.7 -1.0M376.1 432.7l0.1 0.1M677.9 379.3l0.1 0.0M328.6 412.4l-0.2 0.2M410.4 119.6l-0.3 1.4M277.8 516.5l-0.1 -0.2M535.3 461.1l-0.0 0.1M324.9 533.9l-0.1 0.0M297.0 518.4l0.3 -0.2M349.7 528.7l-0.1 -0.1M273.7 385.0l-0.1 -0.1M271.5 541.1l-1.0 0.5M662.7 356.5l-0.1 0.0M673.7 331.4l0.5 -0.0M299.7 408.5l-1.0 -0.4M541.2 198.3l0.2 -0.3M519.9 228.5l-0.2 -0.6M260.7 468.5l0.8 -1.4M384.5 424.1l0.3 -1.2M635.5 414.9l0.1 0.5M247.1 495.4l0.0 0.1M380.8 151.2l1.4 -0.5M650.3 317.2l-0.1 0.5M496.7 229.8l-0.7 0.3M307.7 494.0l0.1 -0.2M331.3 512.0l0.2 -0.8M247.1 493.4l-0.1 -0.6M665.1 455.8l-0.6 1.5M271.2 411.9l-0.5 0.3M492.2 99.7l1.2 -0.5M623.7 306.5l0.1 0.2M443.7 107.1l0.2 0.1M360.9 199.3l0.9 -1.3M542.7 257.4l-0.2 0.8M545.7 475.6l0.1 0.1M357.7 196.4l0.8 -1.3M279.9 492.5l-0.6 -1.1M226.1 504.7l-0.8 -1.1M378.1 157.5l0.2 0.1M524.8 469.6l0.2 -0.0M565.4 447.1l-0.1 -0.1M341.9 145.8l-0.9 1.1M298.3 265.3l0.8 -0.1M597.6 350.3l0.7 0.1M666.4 392.8l-0.0 0.7M309.4 256.9l-0.2 -0.4M258.7 396.6l0.0 -0.2M600.7 320.5l-1.3 0.3M613.5 393.8l0.8 0.4M352.9 158.7l-0.8 0.3M321.8 507.9l-0.6 0.6M359.4 154.7l-1.5 -0.6M262.1 420.7l0.0 1.3M619.3 471.4l-1.1 0.5M319.9 533.3l-0.4 0.3M224.3 515.7l1.0 0.2M288.0 491.6l0.2 0.3M265.2 386.0l0.2 -0.1M350.5 158.2l1.1 0.3M412.0 178.7l-0.1 -0.0M600.1 323.5l-0.2 -0.6M651.5 388.9l0.2 1.5M418.9 107.8l-0.1 -0.1M512.8 165.6l0.1 0.3M481.6 154.3l0.2 -0.2M567.9 439.9l0.1 -0.4M264.5 525.4l0.4 -0.5M658.9 392.9l0.5 0.1M499.9 208.7l0.0 -0.2M361.9 125.7l-0.2 0.0M436.8 103.2l-1.2 0.7M304.3 265.6l-0.5 -0.1M498.9 237.2l-0.2 0.0M348.2 448.2l0.1 0.3M262.8 539.7l0.9 -0.0M312.5 259.6l-0.6 1.4M680.1 334.2l-0.4 -0.9M315.6 256.4l-0.0 -0.1M365.9 443.9l0.5 -0.3M511.5 203.1l-0.1 0.1M566.7 450.7l-1.1 -0.9M383.3 423.3l0.1 0.1M347.4 418.8l-0.6 -0.3M424.0 140.8l-0.5 1.4M631.3 417.3l0.2 -0.0M372.6 395.6l-0.3 0.4M632.2 461.2l0.1 1.0M383.5 166.7l-0.4 -0.0M257.2 446.3l0.2 -0.5M642.8 412.2l-0.8 0.6M660.8 358.9l-0.0 -0.3M585.8 421.8l-0.9 -0.3M512.3 203.7l0.9 -0.7M667.5 438.1l-1.1 -0.1M532.7 159.5l0.2 -0.2M486.7 477.1l-0.2 -0.0M579.8 279.3l1.4 0.1M546.9 157.1l-0.1 0.0M335.0 180.7l1.2 -1.0M298.0 398.5l0.1 -0.1M260.3 370.2l-1.3 0.7M296.5 491.3l-1.0 0.6M639.6 452.7l-0.9 -0.3M592.1 376.3l0.2 -0.7M275.2 291.7l0.0 -1.0M548.6 157.0l0.0 0.4M550.7 457.0l-1.3 0.9M274.1 291.4l-0.6 -0.3M508.6 219.0l0.4 -0.4M661.5 372.9l-0.4 -0.2M214.5 484.0l0.0 -0.1M689.1 357.0l1.4 -0.3M248.2 500.5l0.9 -0.2M616.9 393.5l0.3 -0.5M537.0 213.7l0.1 0.0M504.2 147.1l-0.4 0.4M221.2 484.9l-0.2 -0.0M390.7 170.5l-0.7 1.0M654.4 417.5l-0.4 -0.8M278.6 403.1l-0.0 -0.3M264.9 412.9l-0.1 -0.8M359.7 184.3l0.4 0.6M245.0 531.2l-0.3 0.3M328.1 504.2l-0.1 -0.1M261.6 415.9l-0.0 -0.1M659.0 332.7l0.2 -0.6M663.9 346.3l-1.1 -0.0M236.1 454.5l-0.0 -0.2M424.7 122.5l-0.2 -0.4M525.3 203.8l1.5 -0.5M661.3 368.1l-0.1 0.0M261.1 400.2l-0.4 -0.2M241.7 452.1l-0.6 0.1M562.3 264.1l0.0 0.1M628.1 370.7l0.1 -0.5M652.8 415.8l0.2 -0.8M310.2 238.1l0.1 0.1M334.1 466.4l-1.5 -0.5M688.4 406.3l1.4 0.5M346.7 484.6l0.5 0.1M260.1 413.0l0.4 -1.0M260.1 418.6l1.3 0.4M317.0 253.1l-0.1 0.0M271.4 479.4l-0.6 -1.4M571.4 437.9l0.1 -0.2M501.3 192.3l-0.0 0.2M377.1 169.8l0.1 0.2M528.2 195.1l-1.4 0.1M674.5 416.0l-0.2 -0.9M297.8 242.1l0.2 -1.3M652.3 404.2l0.5 -0.3M601.6 300.2l0.3 -0.2M650.9 403.0l-0.1 0.1M411.8 121.5l0.8 0.8M457.4 145.8l1.0 -1.1M368.1 434.1l1.4 -0.3M581.1 450.6l0.3 0.2M549.5 262.1l0.0 0.1M624.7 335.1l0.6 -0.2M690.4 376.4l0.2 -0.0M557.5 461.4l-0.3 -0.3M519.5 192.0l0.2 -0.7M285.2 255.9l0.1 -0.1M583.7 361.9l0.0 0.1M566.2 464.1l-0.3 -0.8M261.4 518.5l-0.2 0.4M347.2 485.9l-0.7 -0.8M288.8 410.3l0.5 -1.2M500.2 151.3l0.3 0.2M337.3 226.9l0.1 0.0M552.8 445.1l0.8 0.0M618.9 388.6l-0.5 -0.6M605.8 317.5l-0.0 0.1M652.9 309.7l-0.0 -0.4M382.6 436.2l-0.6 -0.0M699.0 395.7l0.2 -1.0M368.2 410.4l0.0 -0.1M333.1 475.3l0.4 0.9M640.9 446.0l-0.4 -0.8M523.7 131.1l-0.9 -1.1M507.1 214.8l0.5 -1.0M525.7 472.8l0.2 0.1M502.6 116.3l0.5 1.0M657.6 335.5l0.0 0.3M347.3 504.9l0.6 0.2M445.3 104.6l1.2 -0.6M624.0 392.6l0.4 -0.3M303.3 231.5l-0.2 0.1M687.2 402.8l0.1 0.0M641.5 418.1l1.0 0.6M453.6 107.0l-0.9 0.7M436.7 104.0l0.0 -0.1M235.6 511.9l-0.0 -0.2M439.3 113.7l0.2 -0.0M670.2 422.6l0.1 0.4M343.0 160.3l0.1 -0.1M256.9 519.4l-0.1 -1.5M359.0 188.3l0.1 -0.2M257.5 493.3l-0.4 -1.1M647.6 332.0l-0.1 0.0M302.0 240.9l0.2 0.4M645.9 424.2l0.1 -0.2M641.2 464.7l-0.1 -0.2M360.1 194.2l-0.7 0.9M317.8 468.5l-0.1 0.0M311.9 390.8l1.1 0.7M518.0 215.4l0.2 -0.1M265.4 519.9l-0.3 -0.8M278.6 512.1l1.0 -0.7M500.5 238.8l-0.0 -0.2M521.7 470.4l-0.0 -0.1M533.3 201.1l0.6 0.6M362.2 516.7l-0.1 0.7M490.4 100.8l0.9 -0.4M276.5 548.0l-0.2 -0.6M554.2 456.0l0.4 0.3M216.0 457.7l-0.1 0.1M496.4 234.5l-0.1 0.1M348.2 394.8l-0.1 1.0M288.5 491.8l-0.3 -0.1M570.6 443.7l0.7 0.5M275.9 396.1l0.2 1.4M340.9 225.5l0.2 -0.1M364.2 188.2l0.2 -0.3M539.7 190.5l-1.4 -0.4M530.6 232.1l-0.9 -0.9M666.3 379.3l1.4 -0.8M679.9 431.4l0.1 0.9M570.3 276.5l-0.5 0.9M682.1 374.6l-0.1 -0.5M344.3 502.1l0.1 0.1M342.7 443.6l-0.3 -0.0M486.4 158.6l0.1 0.1M304.5 235.6l-1.5 0.5M464.6 148.1l0.2 0.4M466.8 143.7l0.0 1.2M378.3 131.1l0.2 0.7M336.6 201.1l1.4 0.8M590.6 287.0l1.1 0.1M360.8 188.3l0.1 -0.3M525.7 130.8l-0.7 1.0M242.1 439.5l1.0 0.8M358.8 173.1l-0.4 -0.6M524.8 165.9l1.1 0.4M300.2 532.0l0.2 0.4M374.9 142.7l-0.1 -0.0M327.6 257.3l0.2 -0.0M351.4 465.1l0.5 -1.3M360.4 180.9l0.9 0.6M354.6 175.5l1.3 -0.6M646.6 456.6l-0.3 0.3M428.4 113.2l-0.0 -0.8M408.4 114.0l0.2 0.2M237.9 498.6l-0.2 -0.5M625.2 429.3l-0.2 0.1M286.1 266.5l-0.2 0.9M615.1 311.7l0.3 1.0M523.0 239.3l-0.2 0.2M371.3 163.8l0.2 0.6M592.0 383.1l-0.1 0.0M352.9 445.1l0.3 -0.3M461.1 143.3l-0.2 0.5M382.7 405.4l-0.2 -0.2M241.2 466.7l0.8 0.7M496.6 227.7l-0.1 0.2M276.9 453.3l-0.1 0.0M665.7 429.2l-0.8 0.7M347.1 174.6l-1.3 0.1M370.8 120.5l0.1 0.1M458.8 143.2l-0.6 0.1M698.8 397.2l-0.4 -0.8M591.5 355.0l-0.5 -0.4M514.7 142.5l0.1 -0.1M252.3 477.6l0.1 -0.1M602.0 339.9l1.3 -0.7M657.8 344.2l-1.0 -0.0M323.5 459.6l0.3 -0.8M596.5 394.6l-0.6 1.4M353.6 485.5l-1.5 -0.1M560.5 444.8l-0.7 0.5M621.6 314.1l-0.6 1.2M593.7 420.1l-1.3 -0.3M476.4 155.3l0.4 0.3M221.4 490.2l0.2 -0.0M351.4 174.1l-0.2 0.6M352.4 442.8l0.5 -1.2M382.0 133.9l-0.0 0.2M466.9 140.0l0.4 0.4M327.6 509.8l-0.0 -0.2M693.7 375.2l0.1 -0.0M455.7 129.2l1.2 -0.2M484.6 119.2l-0.1 0.1M300.6 537.6l0.2 -0.0M300.7 535.4l-0.5 -0.5M591.4 402.0l0.4 -0.4M386.3 143.2l-0.3 0.1M659.6 339.4l0.3 -0.1M680.5 397.1l-0.1 0.2M344.7 160.6l0.2 0.8M631.9 324.4l0.9 -0.0M318.1 223.2l0.2 -0.2M249.7 468.2l1.2 0.7M644.2 447.6l1.0 -0.7M537.6 141.3l0.1 0.1M600.0 387.6l-0.7 -0.3M221.0 493.6l-0.6 0.4M323.8 400.7l0.9 0.4M489.2 121.3l-0.0 -0.5M250.3 474.1l0.0 -0.7M354.2 502.4l0.1 -0.5M273.8 482.4l-0.1 0.0M491.5 121.8l1.0 0.2M225.7 453.2l0.9 0.4M317.5 544.4l-0.2 0.6M306.2 264.1l0.6 0.8M589.0 445.9l0.1 -1.6M634.7 451.0l0.5 0.1M368.8 158.3l-0.3 0.2M404.6 160.8l0.0 -0.1M685.9 340.5l0.1 0.1M368.8 420.6l-0.1 0.0M489.5 221.3l-0.1 0.1M418.9 104.6l-0.2 -0.6M573.6 430.4l0.8 0.8M675.9 335.5l-0.3 0.5M352.8 480.9l0.1 -0.2M456.6 140.0l0.1 -0.2M607.0 378.0l-0.8 -0.9M264.4 533.2l0.0 -0.2M313.2 503.5l0.1 0.0M270.4 499.1l0.3 0.1M280.4 482.6l-0.0 -0.3M251.8 435.9l-0.5 -0.3M627.7 402.4l-0.1 -0.2M654.7 422.5l-0.9 -0.2M296.8 520.6l-0.2 -1.3M657.3 334.4l0.2 0.2M631.9 468.4l-0.0 -0.1M351.7 519.8l0.7 -0.0M361.8 167.3l0.1 -0.2M553.8 264.4l0.9 -1.0M336.0 481.2l-0.1 0.1M495.9 177.1l0.2 0.0M500.5 160.4l-0.2 -0.2M366.3 412.8l0.9 -1.3M445.2 224.2l-0.6 -0.0M344.3 439.8l0.1 -0.0M369.6 154.5l-0.6 -0.5M368.5 183.6l-0.0 0.1M248.1 436.7l0.1 0.0M339.0 216.5l0.8 -0.1M312.3 256.7l0.5 -0.6M524.1 131.6l0.1 0.1M612.0 385.6l-1.0 -0.5M553.9 264.7l-0.1 -0.0M452.8 157.9l0.0 -0.1M288.8 276.4l0.3 0.3M285.5 251.2l-1.0 -0.7M633.2 357.0l0.0 0.1M345.7 186.7l0.1 0.1M503.3 192.0l0.4 -0.1M243.4 516.5l-1.2 -0.3M255.8 502.8l0.6 -0.2M384.7 402.7l-0.4 -0.1M322.2 201.8l-0.3 0.1M428.4 112.8l0.3 0.0M391.2 140.1l-0.1 -0.0M278.4 482.3l0.1 0.2M642.8 442.1l-0.1 -0.8M275.4 488.5l-0.2 -0.9M528.0 152.0l-0.9 -0.0M519.6 172.0l-0.3 0.2M630.5 471.7l-0.2 1.3M687.2 405.6l-0.1 0.1M514.4 216.8l0.1 0.3M242.4 521.1l0.2 0.5M689.0 413.3l-0.9 -1.0M254.7 416.6l-0.4 0.6M261.9 410.0l-0.1 0.8M469.0 125.2l0.0 0.2M358.2 524.4l-0.3 -0.8M347.0 485.7l-1.0 0.1M326.3 547.6l0.3 1.0M286.9 495.2l-0.1 0.1M584.2 282.0l-0.7 -0.3M276.6 542.1l0.0 0.1M594.3 372.9l0.8 1.0M620.4 314.6l0.1 1.2M299.2 237.6l-1.1 0.3M646.6 392.4l-0.3 -1.5M617.4 349.3l0.3 -1.0M215.0 485.8l0.0 0.2M406.3 111.1l0.0 -0.3M576.6 423.2l-0.8 0.5M665.2 375.6l-0.4 -0.0M679.2 397.4l0.3 -0.6M356.8 521.3l-0.0 0.5M633.0 310.4l0.1 0.4M600.0 331.1l-0.1 0.0M494.7 474.4l-0.1 0.2M662.5 369.7l0.1 0.1M333.4 201.6l-0.6 0.2M449.8 170.2l-1.3 -0.5M535.7 251.6l0.2 -0.7M495.3 220.8l0.1 0.1M354.8 182.5l1.2 -0.0M682.9 344.7l0.1 0.1M374.3 451.9l-0.0 0.2M240.2 512.8l-0.1 -0.0M571.5 473.6l-0.1 0.9M508.9 204.1l0.2 0.3M257.1 431.2l0.6 -1.1M343.1 522.6l0.3 -0.1M278.6 506.2l-0.1 -0.0M308.4 215.7l-0.2 0.1M417.3 121.0l0.5 0.1M433.1 120.8l1.2 0.3M328.7 478.7l-1.1 -1.0M701.5 377.0l0.4 -0.2M255.2 463.8l0.7 -0.2M595.4 348.3l-0.4 0.5M581.1 404.0l-0.2 -0.0M346.6 395.8l1.2 0.5M346.1 529.6l0.9 0.1M703.1 403.3l0.8 -0.0M358.3 132.6l-0.8 -0.4M580.7 438.0l-0.2 -0.2M293.7 543.8l-0.1 0.5M301.0 261.1l-0.3 0.3M641.0 412.8l-0.1 -0.1M684.4 378.8l-0.2 0.2M293.3 501.6l-1.2 0.9M533.4 248.1l-0.5 -0.1M360.7 155.4l-0.1 -0.1M596.1 354.5l-0.1 -0.1M487.0 167.3l-0.4 0.1M368.0 413.5l-0.7 -0.4M251.9 456.8l-0.2 0.2M281.5 497.6l-0.2 -0.0M586.2 413.5l-0.7 -0.8M585.1 356.6l0.2 -0.5M686.8 382.9l-0.9 0.4M467.8 121.7l0.7 -0.8M291.2 276.4l-0.3 -0.6M653.2 435.5l-0.7 -1.4M521.1 186.0l-0.0 1.5M696.3 392.0l1.0 0.6M388.4 397.5l-0.0 0.8M566.1 448.7l-0.1 -0.2M448.9 123.1l-0.1 0.1M380.9 122.0l1.0 0.4M300.3 392.7l-0.3 0.1M302.8 536.9l-0.2 0.4M338.1 484.6l-0.4 -1.3M381.2 405.2l-0.3 0.7M284.1 510.3l-0.2 0.7M508.2 238.7l0.5 -0.8M424.6 145.2l0.4 -0.4M315.7 252.9l-1.1 0.3M395.7 129.5l0.5 -0.5M659.5 382.1l0.1 0.3M370.2 131.5l-0.8 -1.3M311.5 411.6l0.0 -1.2M267.6 496.2l-0.7 1.3M529.9 164.3l-0.4 0.0M370.4 418.0l-1.3 -0.9M497.4 160.6l0.1 1.1M264.9 518.2l-0.1 0.8M354.6 465.3l-0.2 -0.1M601.0 348.3l0.3 -0.1M369.2 140.4l-0.3 0.3M508.8 202.4l0.0 -0.1M629.5 325.2l-0.1 0.1M496.4 195.3l1.5 -0.2M393.9 143.5l-0.2 0.2M488.0 123.9l-0.1 -0.0M218.4 486.0l0.1 0.1M250.6 439.7l0.6 -0.6M596.7 371.6l-0.4 0.1M427.5 157.0l0.1 0.0M492.8 481.9l0.1 0.2M535.2 183.5l-0.2 0.2M672.1 349.9l0.2 -0.2M307.5 255.2l-0.9 0.4M450.9 117.2l-0.2 0.0M323.2 502.1l-0.1 0.3M487.2 146.9l-0.3 -0.5M376.5 219.1l-0.2 -0.1M297.2 229.3l0.4 -1.5M368.4 249.5l-0.2 -0.3M512.0 210.1l-0.1 -0.5M319.8 246.9l-0.1 0.0M253.7 506.2l0.8 -0.9M381.9 399.6l0.7 0.8M362.4 444.0l-0.3 0.1M677.2 427.6l0.2 1.1M284.5 518.3l-0.0 -0.1M496.8 108.3l-0.4 -0.5M360.9 515.0l-0.0 -0.4M339.6 447.4l0.5 -0.9M646.4 421.3l-0.1 0.1M504.2 193.8l0.3 0.6M618.8 388.3l0.5 0.3M384.7 429.8l0.9 0.8M491.9 133.0l0.6 1.1M277.3 512.7l-0.4 -0.2M531.1 189.0l0.4 1.4M323.4 516.5l-0.2 -0.0M504.4 99.4l-0.4 1.2M613.2 401.8l0.2 0.1M370.8 123.9l0.3 -1.3M343.7 530.8l-0.2 -0.3M282.3 270.1l-0.8 -1.2M269.1 542.6l0.1 0.6M241.5 490.4l-1.5 -0.0M340.6 470.4l1.0 -0.0M357.2 528.1l0.1 -0.1M378.8 447.5l0.3 0.2M309.8 490.1l-0.1 -0.0M304.3 270.1l-0.1 -0.0M294.4 504.9l0.0 1.4M639.2 354.3l-0.0 0.1M329.7 416.3l-0.3 -0.4M261.6 409.2l0.7 0.7M254.8 534.1l1.0 1.1M591.1 379.4l1.1 -0.8M288.7 278.9l0.2 0.0M660.6 379.7l0.0 -0.1M320.0 403.7l0.1 0.0M630.5 376.6l0.7 -0.5M387.0 177.4l-0.4 0.1M489.2 222.7l0.9 0.5M272.8 394.4l0.1 0.0M432.8 224.4l1.1 0.7M577.6 409.0l-0.1 -0.0M523.9 125.8l-0.7 -0.6M436.3 170.4l0.1 -0.1M588.5 447.9l-1.2 -0.7M296.2 493.2l1.1 0.1M367.6 233.7l0.1 0.4M321.3 526.7l-0.4 0.2M428.0 139.9l0.5 0.2M265.7 500.3l0.4 -0.3M666.9 348.7l0.2 -0.1M337.6 409.0l0.1 0.0M667.0 324.8l0.2 -0.1M249.8 508.0l-0.5 1.2M339.2 438.0l-0.1 -0.1M533.4 179.2l-0.1 -0.4M398.9 197.5l0.1 -0.1M373.4 128.7l0.1 -0.1M352.0 504.4l-0.2 -0.1M533.2 217.5l0.7 0.0M297.5 483.9l0.1 0.1M558.0 447.7l-0.1 0.1M280.3 249.6l0.2 0.0M387.9 242.2l0.5 -0.0M502.7 201.4l-0.1 -1.3M350.0 492.6l-0.5 0.5M486.5 478.5l1.1 0.4M294.2 250.2l0.1 0.1M295.7 418.6l-0.2 -0.1M656.9 411.7l-0.2 1.4M361.0 180.6l-0.7 0.3M361.5 141.5l0.1 -0.0M236.8 453.3l-0.6 0.1M592.3 370.2l0.3 -0.3M264.5 412.5l0.1 0.2M686.2 387.7l0.2 1.3M338.4 478.6l0.8 0.2M339.6 170.2l0.1 -0.3M626.0 406.2l0.7 0.1M562.6 271.9l-0.2 0.3M373.0 173.9l-0.4 -0.1M644.8 426.8l0.1 -0.2M284.9 523.9l0.5 0.2M374.0 169.2l0.4 -0.3M253.3 438.1l0.1 0.1M279.0 407.4l0.4 0.1M667.7 372.5l0.2 -0.0M482.3 120.4l-0.3 -0.1M661.7 347.7l-0.0 -0.1M383.5 175.6l0.5 -0.0M279.5 481.3l1.1 0.3M224.3 455.8l-0.7 0.4M602.5 315.7l1.2 0.7M512.4 235.8l1.1 -0.1M369.1 512.5l-0.6 -0.4M411.1 139.3l-0.2 0.0M350.2 413.4l1.0 -0.1M295.2 231.9l-0.1 0.1M450.2 144.0l-0.5 0.2M296.7 263.4l-0.9 0.7M333.3 203.1l0.2 -0.1M406.4 165.6l0.3 0.1M682.7 380.0l0.0 0.4M327.5 476.8l0.0 0.3M659.6 340.0l0.1 -0.6M430.1 148.7l-0.0 1.4M227.9 456.1l1.4 -0.4M622.5 334.5l0.2 -0.3M280.0 412.7l0.1 -0.9M322.8 191.0l-0.1 0.2M582.5 284.2l-0.3 -0.2M355.1 184.2l-0.0 -0.1M313.9 478.9l-0.4 0.3M423.1 112.6l0.4 -0.7M322.1 471.0l-0.4 0.4M367.3 161.5l-1.1 -0.2M342.5 161.5l-0.1 -0.0M394.1 180.1l-0.4 0.7M693.8 387.7l-1.1 0.1M364.2 248.2l0.1 0.2M326.0 532.4l-0.1 -0.3M525.1 201.2l0.4 0.2M511.9 164.1l-0.8 -1.4M667.3 416.2l0.3 0.7M382.3 432.6l0.1 -0.1M507.0 99.5l0.0 0.1M557.0 265.0l1.2 0.6M683.9 404.5l0.6 -0.3M656.5 451.3l-0.7 0.0M450.0 112.0l-0.1 0.9M650.0 432.1l1.2 0.3M252.9 489.5l-0.4 -0.5M385.5 401.3l0.1 0.1M437.6 130.4l-0.1 -0.2M511.2 194.3l0.3 -0.1M581.6 447.4l0.1 -0.9M398.0 130.3l1.2 -0.2M632.1 322.9l-0.4 0.2M317.4 226.7l-0.2 1.1M246.9 493.3l-0.3 -1.0M300.4 490.0l-0.4 1.2M587.8 285.9l0.5 0.3M307.0 499.3l0.0 -0.1M670.8 344.4l0.2 -0.1M327.2 535.9l-0.2 0.1M592.5 369.5l-0.0 -0.1M353.8 493.7l0.1 0.1M630.9 410.2l-0.3 -0.2M627.6 305.5l0.1 -0.0M277.6 249.9l1.3 0.8M599.3 321.6l-0.0 0.3M277.1 518.7l-0.4 0.5M577.4 439.5l-1.0 1.2M247.4 453.1l-0.2 0.5M509.4 164.9l-0.5 -1.3M497.8 226.4l0.5 -0.5M509.3 197.2l-0.0 -0.4M300.3 242.4l0.1 0.1M337.9 166.8l-0.3 0.1M280.3 491.7l0.5 0.3M583.9 285.9l0.0 0.2M502.3 185.1l-1.5 0.2M280.2 410.1l-0.1 0.2M486.4 129.2l-0.4 0.1M478.1 191.3l0.2 0.1M499.3 235.4l0.6 -0.2M318.2 493.0l0.2 -0.8M685.5 359.9l-0.1 -0.1M697.5 396.1l0.0 0.2M605.9 390.2l-0.2 0.5M321.8 232.9l-0.0 0.1M509.7 209.1l-1.5 -0.2M361.8 536.6l-0.3 0.0M497.6 192.5l-1.1 -0.2M676.9 436.0l-1.0 0.5M596.0 413.6l0.5 -0.9M594.1 371.1l0.0 0.2M521.9 231.8l1.3 -0.0M527.1 199.8l0.1 0.0M528.9 201.7l0.6 -0.1M508.9 463.0l0.0 1.0M600.7 349.7l-0.5 -0.8M622.6 358.9l-0.2 -0.4M569.8 462.9l0.4 0.7M342.3 520.8l0.1 0.1M488.8 131.9l0.4 1.1M325.7 229.1l-0.2 -0.7M243.0 482.5l-0.3 0.0M355.7 492.4l0.8 -1.2M324.4 532.6l0.4 1.0M321.9 507.7l-0.6 1.1M515.3 473.4l0.1 0.0M277.6 252.4l0.1 -0.3M397.9 124.6l0.1 0.2M667.2 384.2l-1.0 -1.1M270.2 542.2l-0.2 0.1M591.1 369.4l0.4 0.5M569.0 464.0l0.4 0.3M519.9 147.8l0.1 -0.3M500.9 183.9l-0.5 -0.7M506.3 242.4l-0.1 -0.2M561.2 269.6l0.1 -0.1M360.2 167.2l-0.1 0.2M450.3 114.8l0.0 1.1M266.4 534.4l-0.6 0.0M533.7 206.4l-0.1 0.6M314.4 477.1l0.1 -0.2M509.4 228.2l0.0 0.1M630.2 328.8l-1.1 0.3M497.0 221.3l-0.1 0.0M384.1 166.1l-1.2 0.4M604.1 347.5l0.4 -0.6M599.8 334.3l-0.7 -0.6M355.8 466.9l0.1 -0.1M664.6 328.8l-0.3 0.4M431.5 122.4l0.1 -0.0M312.0 244.6l-0.1 0.5M275.5 483.0l-0.0 -0.1M659.4 343.9l0.2 0.8M621.4 314.0l-1.3 0.1M492.9 126.8l0.2 0.4M446.8 111.7l0.1 -0.2M496.8 204.2l0.0 -1.1M443.7 167.9l0.1 0.3M309.9 492.8l-1.1 0.4M532.6 144.8l-1.2 -0.9M338.8 394.8l0.5 -0.1M331.4 504.4l0.1 -0.0M262.5 405.5l0.2 0.1M344.8 523.2l-0.2 -0.0M349.8 495.0l0.3 -0.0M361.9 164.2l-0.0 0.3M303.7 254.3l0.1 0.0M387.1 135.2l-0.6 -0.0M521.5 191.8l-0.5 0.2M363.1 178.7l0.3 -1.5M364.3 432.7l0.6 -0.2M406.3 118.9l-0.0 0.2M371.4 427.2l0.3 0.3M420.9 203.2l-0.1 -0.4M350.2 453.8l-0.2 0.1M490.7 131.5l-0.3 -0.8M343.5 524.8l0.1 0.0M372.4 126.4l-0.1 0.4M334.2 211.6l0.0 -0.2M259.9 413.7l0.1 0.2M605.3 369.5l-0.1 0.2M295.5 499.8l-0.1 -0.1M507.6 189.5l0.8 0.5M301.5 239.6l-1.2 0.7M618.7 461.4l0.0 -0.3M677.5 426.2l0.1 0.0M356.4 202.4l0.1 0.0M528.4 178.5l0.5 0.5M380.8 200.9l1.1 -0.7M260.2 473.4l-0.2 1.0M383.4 177.7l-0.0 0.4M654.5 407.3l-0.5 0.8M364.8 512.0l-0.2 0.5M573.1 275.2l0.9 0.1M296.5 269.0l-0.1 -0.2M427.8 113.7l-0.0 0.1M333.0 503.0l1.3 -0.7M317.3 234.9l0.2 -0.3M648.3 411.2l0.9 1.2M301.1 256.5l0.9 -1.1M496.0 206.3l1.0 -0.7M555.8 460.9l0.1 -0.1M297.9 278.7l-0.8 -0.4M537.0 233.8l-0.2 -0.4M263.2 408.7l0.4 -0.2M578.7 406.2l0.1 0.1M522.6 165.4l-0.0 0.1M497.8 111.6l-0.4 -0.1M321.6 525.6l0.1 -0.0M292.4 397.8l0.1 -0.1M280.8 494.7l0.1 -0.9M285.0 541.7l0.1 -0.8M329.9 207.8l0.3 -1.1M323.8 385.6l-0.4 0.6M294.6 503.6l0.1 0.1M293.6 517.1l-0.6 -1.0M633.3 407.6l0.1 0.0M296.5 225.6l0.2 1.1M308.8 240.3l-0.1 0.2M310.1 486.1l0.8 -0.8M609.8 313.3l-0.0 -0.1M704.0 395.6l-0.1 -0.1M543.7 192.6l-0.1 0.1M625.4 307.9l-1.4 -0.2M237.6 458.8l1.2 -0.2M385.6 183.2l0.3 0.1M578.3 278.9l0.2 0.1M248.1 496.8l0.4 -0.6M315.4 500.3l-0.1 -0.1M298.1 492.6l-0.1 0.1M328.2 204.7l-0.1 0.1M425.4 182.5l-0.4 0.1M323.6 400.2l0.1 0.0M442.0 115.1l0.3 -0.7M509.1 178.6l-0.1 -0.1M558.1 253.6l0.1 0.5M574.5 428.8l0.2 -0.1M536.1 192.3l0.3 0.1M631.5 362.9l0.0 0.1M318.6 442.1l0.7 -0.7M694.3 390.1l0.2 0.1M448.9 111.9l1.2 -0.4M661.9 337.0l-0.2 -0.1M557.2 461.3l1.3 -0.2M304.8 388.0l0.1 0.2M516.1 160.4l0.6 1.2M274.4 541.8l0.0 0.8M298.3 516.1l-0.0 0.1M568.3 266.0l0.4 0.3M668.8 407.9l-0.4 -0.5M691.8 411.7l-0.3 -0.3M534.2 139.7l-0.2 -0.1M537.6 194.6l-0.0 -0.1M645.5 436.8l-0.1 -0.1M661.6 393.3l-0.1 -0.1M345.2 445.8l0.1 -0.2M372.1 161.9l-0.1 0.0M330.7 414.4l-0.1 -0.1M576.7 412.2l-0.3 -0.1M369.9 244.8l0.7 -0.2M307.2 501.8l-0.3 1.0M535.9 244.7l-0.3 0.6M680.4 355.6l-0.2 -0.2M503.8 202.3l-0.4 -1.1M670.6 445.8l0.5 -0.2M484.9 160.0l0.1 0.8M247.3 495.7l0.0 -0.1M261.9 393.6l-0.6 -0.4M309.7 487.4l-1.4 -0.0M303.2 386.9l-0.1 -0.0M299.7 542.1l0.5 1.1M637.3 411.3l-0.1 -0.1M289.0 272.3l0.1 -0.1M623.6 376.2l-1.1 1.0M316.9 387.0l-0.1 0.0M481.5 158.3l-0.3 -1.1M363.0 414.1l-0.2 0.3M502.5 199.0l0.1 0.2M424.2 150.4l-0.0 0.2M523.0 128.2l0.3 -0.8M436.2 109.6l-1.0 -0.3M309.4 390.8l-1.1 1.1M284.1 541.9l0.2 -0.1M661.5 397.2l0.1 0.2M248.1 471.5l0.5 -1.1M515.6 194.5l0.2 -0.4M631.4 387.6l-1.0 -0.2M587.9 406.6l-0.3 -0.3M586.5 425.8l-0.3 0.7M363.1 147.0l0.4 0.2M313.9 546.0l-0.5 -0.3M373.2 191.8l0.1 0.1M264.4 417.2l0.1 -0.0M645.4 416.8l-0.2 -0.0M242.0 526.3l-0.5 0.1M341.2 452.0l-0.0 0.1M284.9 248.2l0.7 -1.0M368.0 144.2l0.7 -1.1M488.5 140.2l-0.0 0.2M383.3 164.7l-0.1 -1.0M504.3 136.3l-1.4 -0.1M451.0 138.2l0.6 0.9M465.2 215.8l0.8 0.1M342.7 167.8l0.3 -1.1M371.0 414.5l-0.6 -0.8M478.1 125.9l-0.3 0.2M506.1 188.5l0.4 -0.3M486.2 101.1l-0.5 -1.1M653.2 317.1l0.0 0.1M288.5 273.2l-0.5 -0.5M661.3 449.7l0.8 0.5M622.5 304.3l-1.6 -0.0M616.8 334.8l0.0 -0.1M401.5 111.0l0.3 1.0M544.0 188.1l0.6 0.6M505.3 198.4l-0.9 0.5M533.1 241.7l-0.1 0.3M499.0 103.0l-0.1 -0.1M243.6 515.8l0.2 -0.1M342.3 389.3l0.1 -0.6M420.0 148.5l-0.3 -0.1M514.8 178.4l1.1 -0.5M680.9 334.3l0.1 0.2M414.3 146.0l-0.0 0.1M305.5 264.7l-0.0 -0.1M408.4 118.2l0.1 -0.0M247.1 501.9l-0.2 -1.1M347.0 534.6l0.1 -0.2M705.3 402.0l0.6 0.4M332.0 402.1l-0.3 0.3M587.3 446.7l-0.2 -1.0M641.8 422.2l0.0 0.2M244.4 443.9l-0.2 -0.2M664.8 327.7l0.3 -1.3M361.4 144.8l0.4 -1.1M503.4 124.1l0.1 -0.2M640.7 320.8l-0.2 0.3M381.9 445.1l0.4 0.2M384.0 433.9l0.6 -0.4M473.9 178.5l-0.9 0.7M461.3 124.6l0.6 -0.4M536.1 203.0l1.0 0.1M276.7 506.6l-0.1 -0.1M506.5 229.6l0.4 -0.3M279.6 523.0l-0.0 0.7M686.2 342.5l-0.5 -0.2M263.0 416.2l0.1 0.1M368.5 414.7l-0.1 0.3M497.9 115.1l-0.9 -0.3M504.8 472.4l0.2 -0.2M224.1 504.6l0.0 -0.5M232.2 482.2l0.3 -0.1M353.3 172.0l0.1 -0.1M385.6 402.2l0.2 0.1M393.7 118.5l0.0 0.1M383.3 432.4l-0.8 0.7M577.9 400.8l0.0 0.2M222.6 505.3l-0.4 -1.5M417.8 104.7l-0.4 0.4M628.9 375.9l0.1 0.3M618.8 309.6l0.2 0.1M500.1 201.5l0.0 -0.1M303.9 535.6l-0.1 -0.0M368.0 119.5l0.2 1.0M671.2 437.3l0.6 -0.4M414.9 124.6l-0.0 -0.3M394.1 127.2l0.1 -0.1M628.4 370.3l-1.3 -0.7M386.5 142.6l0.1 0.0M422.4 150.0l0.1 -0.0M522.7 146.1l-0.1 -0.1M339.4 207.9l0.2 -1.3M606.5 347.3l0.0 -0.3M307.1 239.2l-0.6 -0.2M510.3 141.0l-0.1 -0.1M221.0 482.3l0.8 1.0M288.8 436.7l-0.1 0.2M334.9 396.3l0.3 0.7M584.8 444.1l-0.0 -0.1M273.3 390.7l0.2 0.6M585.7 355.5l1.2 -0.5M353.0 173.2l0.5 0.8M320.1 391.3l0.2 0.1M297.1 230.0l-0.1 -0.1M653.7 448.2l1.2 -1.0M293.6 400.3l0.1 -0.0M631.2 357.4l0.1 0.4M440.0 108.7l-0.2 -0.4M268.5 542.5l0.5 0.1M687.4 368.3l1.1 0.6M383.0 172.8l-0.5 0.4M627.7 429.1l0.7 -0.3M399.2 118.5l-0.1 1.3M505.0 159.3l-0.2 0.3M686.9 405.9l-0.7 0.5M320.2 534.2l-0.1 0.1M380.9 162.3l-0.3 -0.7M338.8 145.2l-0.0 0.1M241.1 521.1l-1.0 0.5M225.9 456.6l0.1 -0.2M511.9 193.8l0.1 -0.1M242.2 530.1l-0.1 -0.1M588.0 420.3l0.8 0.3M342.9 198.8l-0.4 -0.2M621.7 381.6l1.1 -1.0M302.5 251.6l-0.1 -0.6M622.4 336.2l-0.0 0.1M684.4 377.4l-0.1 0.1M364.2 453.7l0.3 0.6M688.2 352.5l1.3 -0.8M679.0 404.8l-0.1 -0.1M502.3 185.4l0.0 -1.3M579.5 280.3l0.0 -0.2M296.3 263.3l-1.3 -0.6M691.5 415.1l-0.2 -0.8M334.4 404.6l0.1 -0.2M406.7 137.6l-0.3 0.1M334.4 175.8l-0.2 0.6M348.3 459.1l-0.2 -0.0M337.1 410.8l-0.4 0.9M535.7 187.5l-0.7 -0.4M632.2 465.4l-0.0 0.1M297.3 262.0l-1.1 0.1M692.5 359.1l0.1 -0.1M297.4 399.1l0.6 0.5M486.0 133.3l-0.2 -0.2M314.1 544.0l-1.1 -0.9M323.2 477.3l-0.0 0.2M453.1 128.9l-0.1 -0.0M356.9 128.5l0.4 -0.3M264.7 385.9l0.9 0.3M288.0 414.0l0.2 -0.1M493.8 192.3l0.3 -0.9M377.9 153.5l-0.3 -0.3M601.7 317.7l-0.7 -0.7M519.1 172.1l0.3 -0.0M450.1 101.7l-0.1 -0.0M286.9 517.4l0.6 0.6M592.2 369.8l0.1 -0.3M389.9 123.0l-1.1 0.0M320.8 497.4l0.4 0.1M358.1 466.5l-0.6 0.5M352.1 166.2l0.2 0.1M376.7 121.1l-1.0 -1.2M552.2 245.6l0.3 -0.2M364.5 167.3l0.3 -0.4M618.9 309.3l-0.0 0.1M403.5 150.5l0.2 0.4M308.8 497.5l0.1 -0.4M357.8 485.0l-0.7 -0.1M264.6 491.5l-1.3 -0.2M366.7 179.8l0.1 -0.1M446.6 151.8l-0.3 0.3M350.7 523.9l0.1 -0.4M534.8 218.5l0.9 0.4M276.1 397.0l-0.0 -0.1M224.4 506.2l-0.1 1.0M525.2 149.6l-0.8 -0.3M308.4 414.8l-1.2 -0.9M572.4 433.7l-0.5 0.0M508.9 210.1l-0.1 0.2M365.1 146.6l0.1 0.1M386.9 180.8l-0.7 0.1M582.9 361.5l-1.3 0.5M516.8 237.4l-0.0 -1.5M612.4 331.7l-0.1 -0.0M502.5 213.5l-0.1 0.4M400.6 120.5l-0.5 -0.5M310.9 261.0l0.8 -0.1M614.4 405.8l-0.0 -0.1M320.1 247.0l-0.2 0.2M474.4 122.2l-0.1 0.3M343.8 453.3l-1.0 0.1M389.7 172.6l-0.5 0.3M511.8 161.2l-0.1 0.3M672.1 344.6l0.2 -0.2M493.2 225.0l0.0 0.1M560.0 256.1l-1.3 0.1M666.4 411.9l-0.2 -0.7M658.9 431.4l-0.3 -0.6M522.3 130.4l0.3 1.5M562.0 270.5l0.1 0.3M281.6 393.2l-0.2 1.0M446.8 126.2l0.7 -0.6M442.3 123.4l-0.0 -0.1M633.9 410.3l-0.7 -0.3M679.3 332.3l-0.1 -0.0M503.9 98.1l0.1 0.0M512.0 239.6l0.9 1.3M347.7 529.1l-0.0 -0.1M285.7 495.6l0.2 1.0M508.6 181.5l-0.2 0.3M298.6 239.6l1.3 -0.3M631.5 333.4l0.5 -0.7M535.3 138.6l0.1 -0.1M691.4 359.7l-0.1 -0.6M279.9 490.8l0.5 -0.2M225.4 454.3l1.2 0.1M405.3 103.0l0.4 0.5M481.1 102.0l-1.0 -0.0M697.8 417.1l-0.2 0.4M360.5 463.6l0.6 0.3M322.2 231.4l-0.9 0.9M599.3 349.6l0.6 0.1M389.5 139.7l-0.1 -0.1M667.9 404.7l-0.5 1.2M234.8 489.5l0.1 0.6M257.8 395.3l0.6 -0.7M352.6 516.2l0.5 -0.8M464.5 222.9l-0.1 -0.0M298.2 231.2l-0.1 -0.2M626.3 414.1l1.3 0.1M476.1 122.3l-0.4 0.6M362.7 148.0l0.1 0.2M677.5 331.3l0.7 0.7M438.8 116.5l1.0 -0.1M335.1 201.6l0.3 -0.4M662.3 336.0l0.1 1.0M359.4 451.7l-0.8 -0.4M534.6 135.4l0.7 0.0M600.3 336.1l0.4 -0.6M585.4 399.5l0.1 0.0M500.3 235.4l0.4 -1.5M277.5 506.1l0.2 -0.3M332.7 175.2l0.1 -0.0M260.2 422.0l0.3 0.4M372.6 150.0l0.9 1.2M215.9 492.8l0.2 -0.0M674.4 330.2l-0.2 -0.1M677.6 335.3l-0.1 -0.2M368.0 433.8l-0.3 -0.5M516.3 238.8l0.8 -0.0M340.6 458.1l0.2 -0.3M515.4 166.4l-0.4 -0.0M636.6 455.3l-0.4 0.8M672.5 321.5l-0.3 0.4M354.8 131.8l-0.2 -0.3M494.8 125.7l-0.1 -0.1M653.0 459.3l0.0 -0.1M231.7 464.3l0.1 0.0M314.9 504.5l0.2 0.4M299.8 530.3l0.3 0.5M241.0 503.3l-0.1 -0.0M249.5 520.2l-0.1 0.6M219.4 488.0l0.1 0.1M314.6 235.1l0.0 -0.2M224.0 464.7l-0.4 -0.0M685.4 373.2l0.0 -0.2M389.2 396.9l0.1 -0.3M431.3 126.3l-0.1 0.0M592.5 423.4l0.4 0.7M350.5 483.6l0.2 0.0M318.0 519.3l0.9 0.1M253.6 432.9l0.4 -0.1M673.3 437.8l-1.1 0.0M445.1 141.9l-1.5 -0.3M435.7 114.7l1.1 0.8M515.9 194.4l-0.2 -0.2M547.0 255.8l0.3 -1.3M327.1 537.6l0.2 -0.4M357.7 416.1l0.9 0.3M365.6 431.4l0.2 0.0M508.0 197.3l0.0 0.2M555.2 454.3l0.0 0.1M402.6 134.3l1.0 -0.9M531.4 157.1l-0.1 -0.0M428.9 150.6l0.7 -0.3M573.4 442.3l-0.2 0.0M323.8 468.9l0.4 -0.2M531.9 234.5l0.2 -0.1M340.7 393.4l-0.6 0.3M268.9 534.0l-0.7 0.9M363.7 454.1l-0.1 -0.3M261.5 472.0l0.1 -0.2M342.7 209.1l-0.1 0.1M504.8 203.1l0.1 0.1M335.1 487.2l0.1 0.1M499.1 224.1l0.1 0.1M436.3 102.6l-0.9 -0.4M416.0 166.4l-0.3 -1.2M583.6 413.6l-0.4 -0.1M334.0 485.9l0.2 -0.0M425.9 138.4l0.2 -1.3M300.1 529.9l-0.8 0.5M585.4 432.8l0.5 1.1M265.2 531.2l-0.8 0.9M644.2 441.3l0.3 -0.5M364.8 508.9l-0.1 -0.1M504.3 242.2l0.5 -0.6M268.0 411.6l0.8 -0.2M497.7 228.2l0.1 -0.6M663.6 441.6l-0.2 0.7M285.8 498.1l-0.3 -0.2M275.2 504.7l0.3 -0.2M680.4 428.5l0.8 0.8M506.5 212.9l0.5 -0.9M532.1 138.8l0.0 -0.7M502.2 203.5l0.2 0.1M332.9 412.4l-0.2 -1.1M647.3 410.2l0.1 0.1M506.4 209.9l-0.1 -0.3M275.4 496.2l-0.3 0.3M263.1 526.3l-0.5 0.0M497.0 106.4l-0.1 0.1M623.6 371.7l0.8 -1.1M453.2 122.8l-0.4 0.2M643.3 365.6l-0.3 0.4M248.9 433.7l0.3 0.7M680.0 375.8l-0.5 -0.7M503.3 473.0l-0.2 0.9M356.6 509.6l0.1 -0.1M310.3 210.9l-0.3 -0.4M303.5 411.9l-0.1 0.0M331.8 208.3l-0.1 0.0M461.1 132.3l1.1 -0.3M245.8 445.4l0.0 -0.1M498.6 172.0l-0.1 -0.1M526.0 145.3l-0.2 0.1M347.5 470.2l0.3 -0.2M272.0 498.2l0.7 0.1M383.9 235.8l0.6 0.2M366.9 249.1l0.2 0.1M649.3 461.1l0.1 1.6M243.4 479.8l-0.3 1.0M335.7 513.6l0.1 0.0M566.8 449.9l-0.1 0.1M365.0 411.8l-0.7 -1.0M618.7 472.0l-0.1 -0.1M441.9 125.4l-0.6 -0.0M600.9 300.8l-0.0 -0.1M343.3 479.6l0.2 -0.7M353.9 158.0l-0.1 -0.4M486.1 113.4l-0.8 0.6M293.5 256.6l-0.1 0.2M675.5 395.5l0.6 -0.6M534.8 186.0l1.0 -0.0M408.3 165.1l-0.1 -1.2M342.9 224.6l0.8 0.3M629.5 412.4l-0.3 0.0M234.5 449.1l0.5 0.4M681.5 404.2l0.1 -0.2M266.1 533.7l0.1 -0.2M348.3 443.5l0.6 -0.7M600.9 388.2l0.1 0.2M614.3 379.8l0.9 0.5M409.0 103.5l0.1 -0.4M233.4 452.7l0.7 0.6M405.3 120.1l-0.1 0.1M575.0 453.0l1.3 0.6M332.0 230.0l-0.1 0.2M318.7 473.9l0.2 -0.1M571.4 424.5l-0.1 0.0M444.1 126.6l-0.2 0.5M302.3 236.4l0.1 0.1M274.9 497.1l0.1 0.1M302.3 540.9l0.7 -0.2M608.6 333.5l0.4 -0.1M302.8 238.5l-0.4 0.4M295.1 255.7l-1.0 -0.5M245.7 515.2l0.2 0.1M298.2 542.1l0.1 0.0M316.1 230.1l-0.2 -0.1M405.1 135.9l0.1 0.1M215.7 491.1l1.0 0.4M314.3 542.5l-0.3 0.2M278.2 517.5l0.4 0.0M696.0 414.1l0.0 -0.1M252.1 405.2l0.4 -0.2M506.4 179.5l-0.4 -1.2M537.5 206.0l0.5 0.9M317.2 415.9l-0.2 -0.4M367.4 178.9l-0.7 0.5M370.0 172.4l0.1 0.3M323.8 463.3l-1.2 0.8M267.0 411.4l1.1 0.5M351.8 162.5l-0.9 0.9M284.6 483.1l0.1 -1.2M582.4 440.5l-0.3 -0.2M246.3 501.0l0.4 -0.1M343.2 184.7l-0.3 1.2M542.5 184.1l-0.3 0.0M429.8 203.0l-0.4 0.8M301.3 245.2l-0.0 0.1M638.6 319.6l0.3 0.6M371.4 132.5l-1.1 -0.1M262.4 522.5l0.0 0.3M325.3 212.2l-1.4 -0.0M353.2 163.0l-0.1 0.5M449.4 132.4l0.2 1.1M364.0 156.8l-0.5 0.8M698.8 393.8l-0.1 0.1M672.8 325.1l-0.1 0.3M495.9 164.5l-1.0 -0.3M501.9 192.5l-1.0 -1.1M500.3 102.2l0.1 -1.3M255.1 402.8l0.1 0.1M674.7 334.6l0.6 -0.5M342.0 159.6l1.0 -0.7M430.5 139.6l-0.1 0.1M330.2 520.6l-1.0 0.3M275.4 476.5l-0.5 1.1M460.7 146.0l0.0 -0.2M656.3 333.4l0.3 0.2M552.0 227.3l-0.8 -0.8M364.7 422.9l0.6 0.0M342.3 483.9l-0.6 -0.4M517.8 239.8l0.7 -0.7M219.7 478.7l0.2 -0.3M364.1 181.0l0.2 0.3M238.8 518.2l-1.0 0.8M532.8 246.7l-1.3 -0.1M572.1 434.3l-0.1 -0.2M676.0 437.8l1.0 -1.0M516.9 473.7l1.1 -0.5M662.6 323.4l0.1 0.8M555.2 460.8l-0.0 -0.4M291.3 538.0l0.1 0.5M423.2 121.4l1.1 -0.2M374.5 401.7l0.0 1.2M493.3 206.9l-0.5 -0.5M360.0 509.6l0.2 -0.1M251.9 504.5l-0.2 -0.5M688.2 420.5l-0.4 0.4M527.6 152.3l-0.4 -1.3M385.9 414.3l0.2 -0.5M526.6 238.9l0.2 -0.2M666.8 384.0l0.3 0.7M259.7 526.6l-0.0 -0.1M570.0 469.7l0.1 0.0M605.6 341.9l-0.0 -0.1M539.7 209.9l0.2 -0.1M541.7 212.9l0.3 -0.2M365.1 453.1l0.1 0.2M367.3 139.9l-0.0 0.1M309.3 243.2l-0.0 0.1M484.0 181.4l0.1 -0.7M519.2 227.5l-0.2 0.1M518.7 476.0l-0.3 0.3M509.7 147.4l0.6 0.5M367.6 127.1l-0.9 -0.4M510.5 213.5l0.2 -0.6M352.8 500.4l-0.7 -0.4M303.1 274.4l-0.4 -0.4M358.4 456.3l0.3 0.1M492.2 114.0l-0.3 0.2M644.7 463.5l-1.0 0.8M311.3 530.7l0.3 -0.5M383.5 126.8l-0.1 -0.1M661.1 374.8l0.2 -0.1M628.0 337.8l-0.0 -0.4M429.5 112.6l-0.4 -0.3M577.5 419.8l-0.0 0.4M375.8 182.9l0.2 0.2M347.8 535.3l0.3 -0.1M354.6 517.0l0.1 0.3M324.6 528.2l-0.6 -0.9M447.1 107.2l-0.1 -0.0M534.8 208.1l0.0 -0.1M609.2 314.1l0.1 -0.1M321.7 517.8l-0.1 -0.3M305.8 500.3l0.9 -0.7M674.3 381.9l0.0 0.5M602.5 343.8l0.1 0.2M243.4 471.4l0.1 0.4M473.4 154.5l0.3 0.2M341.5 229.2l-0.1 0.2M619.7 308.0l-0.0 -0.2M496.2 233.0l0.0 -0.1M355.1 201.7l0.7 0.8M401.7 144.0l0.2 -1.4M453.8 102.6l0.2 0.4M258.8 450.6l0.1 -0.1M481.8 122.5l-0.5 -0.2M283.3 435.1l0.2 -0.1M536.7 182.4l-1.3 0.4M423.1 139.2l0.1 -0.0M360.5 528.3l1.0 -0.8M225.4 458.7l-0.4 -0.4M559.2 257.9l-0.3 -0.9M316.1 236.7l0.5 -0.1M233.7 452.4l-0.4 0.1M535.5 166.1l0.0 0.1M577.2 417.2l0.5 -0.0M368.8 195.5l1.1 0.2M680.1 338.1l-0.6 0.2M647.7 441.6l-0.1 -0.2M506.7 217.9l0.1 -0.1M404.4 138.1l-0.1 0.2M557.0 249.4l-0.1 0.0M579.2 448.5l0.1 -0.1M659.2 349.8l0.8 -1.4M363.6 443.3l0.2 -0.4M621.8 362.5l0.0 -0.1M417.6 188.4l-0.1 0.1M264.9 410.3l0.3 0.8M636.3 318.4l0.9 -1.1M253.6 403.3l-0.2 -0.1M499.1 160.8l0.1 -0.0M351.4 400.1l0.2 0.0M524.8 125.3l0.1 0.1M649.0 365.0l0.2 0.6M357.1 186.5l-0.0 -0.1M363.0 126.8l0.2 -0.2M329.1 218.0l-0.3 -0.1M540.5 193.5l0.5 -0.3M214.8 464.9l0.0 -0.1M691.4 375.2l-0.2 0.1M339.9 475.6l0.3 0.1M684.8 339.4l-0.0 0.1M327.3 525.6l0.2 -0.2M339.4 395.6l0.3 -1.3M559.8 464.2l1.3 0.2M481.9 113.3l-0.0 -0.1M525.4 202.9l0.0 0.4M494.6 132.5l-0.0 0.2M639.0 356.1l0.5 1.0M530.4 238.6l-0.4 0.1M594.4 434.5l-0.6 0.6M665.7 451.2l0.9 -0.5M327.3 527.6l0.2 -0.0M294.9 536.6l0.2 0.0M356.0 510.5l0.5 0.3M383.3 160.7l0.1 0.1M245.0 477.3l-0.1 0.1M536.4 254.3l0.0 0.3M386.8 120.9l-0.1 -0.1M689.2 362.7l-0.1 -0.5M647.5 316.4l-0.2 0.8M365.5 140.5l-0.4 1.2M352.8 466.5l0.6 0.5M543.9 256.0l-0.8 0.6M576.2 407.7l-0.1 0.1M255.0 404.8l-0.2 -0.2M537.5 204.0l0.1 0.0M493.0 158.3l0.1 -0.0M302.3 524.1l0.1 -0.0M402.4 145.4l0.4 1.2M508.2 228.0l-0.1 -0.4M326.9 546.0l0.6 -0.8M356.7 519.8l0.1 0.0M278.2 253.1l-0.5 0.2M487.5 102.1l0.9 0.8M517.4 474.1l0.1 0.4M214.1 460.3l0.3 -1.3M491.1 478.6l-0.0 0.1M340.1 187.9l-0.3 -0.4M558.1 461.6l-0.2 0.3M498.5 123.5l-0.2 -0.2M387.2 238.8l0.4 -0.1M674.2 425.7l-1.0 0.6M304.5 273.8l0.1 -0.1M634.8 301.9l-0.1 -0.2M340.6 534.3l1.2 0.1M595.2 360.3l0.3 0.9M674.7 330.4l0.0 -0.2M299.2 260.3l-0.1 0.0M349.0 522.1l-0.3 0.2M516.0 213.1l-1.3 -0.7M253.4 452.7l-0.6 0.2M647.6 429.7l-0.2 -0.2M515.6 239.5l0.9 -1.0M337.9 473.3l-0.5 0.2M240.5 506.2l0.9 -0.7M280.2 488.1l0.3 0.1M313.6 252.1l-0.0 -0.2M509.0 203.5l0.1 0.1M615.3 318.7l-0.1 0.1M254.4 498.0l-0.3 0.5M683.6 391.4l-0.3 -0.1M366.3 435.4l-0.0 -0.1M640.8 308.4l-0.1 -0.2M283.9 502.9l0.1 0.1M440.4 144.3l-1.1 -0.3M216.0 474.0l-0.1 0.4M310.9 535.7l0.1 0.1M643.9 338.9l0.1 0.1M245.4 437.5l0.3 0.4M481.9 113.1l0.6 0.2M322.6 507.5l1.3 -0.5M648.2 454.7l1.1 0.0M303.9 393.1l-0.2 -0.1M656.1 445.4l0.7 -1.3M614.3 467.3l-0.1 -0.2M332.1 527.2l0.1 -0.2M519.7 238.5l-0.0 -0.1M256.8 536.7l-0.4 -0.2M641.9 435.3l0.9 -0.2M245.8 508.2l-0.1 -0.2M259.0 513.5l0.4 -0.3M353.7 457.5l0.0 -0.3M344.3 483.0l-0.6 -0.9M260.8 392.9l-0.1 -0.1M648.0 389.8l0.2 -0.1M399.3 153.8l-0.2 -0.6M256.1 538.0l-0.6 0.5M602.8 364.2l-0.2 -0.1M348.7 501.2l-0.3 -0.1M483.9 206.6l0.9 0.7M324.1 534.3l-0.1 -0.1M610.9 404.6l0.2 0.3M526.8 126.5l0.6 -0.1M494.9 107.8l0.2 0.2M251.1 501.3l-0.1 0.1M263.4 389.6l0.0 -0.6M305.3 480.7l-0.3 -0.1M450.1 110.5l0.0 -1.1M275.6 492.3l-0.0 0.3M654.6 411.8l1.1 -1.1M606.9 334.1l-0.1 0.2M393.3 118.1l0.2 0.1M447.4 114.0l0.1 0.2M606.7 382.8l0.9 -0.1M406.3 149.3l0.1 0.1M658.9 459.5l0.1 -1.0M590.1 418.6l-0.2 -0.5M266.7 512.5l0.4 -0.3M599.7 297.5l-1.2 -0.7M641.4 415.9l0.2 -0.1M655.1 459.5l-0.1 -0.1M704.2 396.7l-0.2 -0.2M658.4 459.9l0.3 0.8M361.3 175.2l0.5 -1.0M257.5 510.4l-0.9 -1.2M597.6 382.5l0.5 1.3M651.2 310.7l-0.4 -0.0M360.5 195.9l-1.0 0.2M305.7 494.7l0.1 -0.3M697.1 365.5l-0.1 -0.1M615.2 470.7l-0.1 0.2M501.1 197.9l-0.0 0.1M304.0 266.6l-1.0 0.3M315.3 234.0l0.4 -0.5M332.1 519.0l-1.2 0.4M631.9 346.9l-0.3 0.2M374.3 120.5l-1.0 0.1M532.4 179.7l-0.4 -0.6M281.9 394.3l0.4 -0.2M327.5 465.6l-0.7 0.2M278.6 474.8l0.1 0.2M664.6 337.0l1.1 0.2M434.6 106.6l-0.2 -0.4M376.7 129.5l-0.5 1.2M496.7 148.5l0.1 -0.1M361.0 535.8l-0.7 -0.9M260.2 405.5l0.3 -0.1M259.3 410.0l0.0 0.2M282.2 505.9l1.3 0.0M362.4 412.5l0.1 0.2M266.2 537.9l0.0 -0.2M269.7 519.6l0.8 1.3M297.3 227.5l-0.2 0.2M533.2 247.0l-0.0 -0.1M331.5 487.0l0.0 -0.1M300.8 484.2l0.7 0.4M229.0 521.1l-0.8 -0.1M290.9 523.7l0.4 -0.1M333.1 223.4l1.3 0.7M667.7 453.0l0.1 0.3M422.8 147.8l-0.3 0.3M523.1 118.5l0.6 0.5M306.5 234.5l-0.1 -0.2M630.8 308.6l0.9 0.3M685.1 366.3l0.1 -0.1M597.4 387.9l-0.0 0.2M500.3 170.4l0.4 -0.1M370.5 192.5l0.1 0.0M371.9 127.5l-0.5 -0.1M291.3 537.8l-0.2 0.1M311.2 485.5l-0.0 0.1M230.7 462.3l-0.2 -0.3M601.5 373.0l1.2 -0.3M261.3 517.2l1.1 0.2M285.4 261.5l-0.5 -0.2M379.2 132.8l-0.0 0.4M371.9 125.9l-0.1 -0.1M579.9 442.9l-0.4 -0.0M635.0 303.3l0.5 -1.0M487.7 229.4l-0.5 0.8M358.6 149.4l-0.1 -0.1M625.7 332.7l0.7 -0.3M609.4 310.2l-0.2 0.4M559.2 450.7l-0.9 -0.8M546.5 248.7l-0.9 -0.4M592.6 353.4l-0.1 -0.6M229.2 518.3l-0.1 0.2M373.8 155.5l0.1 -0.0M257.8 407.7l0.5 0.5M380.8 128.4l-0.7 -1.2M496.1 475.5l-0.0 0.8M651.7 410.3l-0.2 -0.4M534.1 249.3l-0.6 -0.3M319.3 244.3l0.0 1.0M362.6 154.8l0.6 0.3M665.7 367.1l0.1 0.1M377.7 430.5l-0.9 -0.3M426.5 144.9l-0.3 0.0M290.8 513.8l0.1 -0.5M530.8 222.7l-0.3 0.1M410.6 112.3l0.3 0.1M375.0 402.3l-0.0 0.1M303.9 404.2l0.2 0.1M323.4 443.5l-0.1 -0.1M442.0 117.4l-0.1 0.9M583.5 431.1l-0.1 0.6M575.6 446.1l0.0 -0.1M272.6 511.6l-0.8 -0.8M643.4 451.9l-0.3 -0.8M683.1 360.3l-0.5 -0.6M503.7 171.3l-0.1 -0.1M240.3 487.5l-0.1 -0.2M425.4 125.5l0.3 0.1M275.2 281.1l-0.1 0.0M446.9 110.7l-0.0 0.1M338.5 426.7l0.1 0.1M393.8 161.3l1.1 -1.0M300.3 241.5l0.5 -0.0M576.1 455.6l0.1 -0.3M393.2 116.8l0.9 -1.2M407.8 110.9l0.1 0.3M491.7 167.3l0.5 0.7M337.4 399.9l-0.5 -0.3M460.8 183.6l0.3 -1.2M359.9 160.7l0.0 0.3M233.5 499.9l-0.1 0.1M317.7 438.2l-0.1 0.0M285.7 502.3l0.6 -0.2M371.7 179.5l0.1 -0.0M303.6 220.1l-0.0 -0.1M383.1 177.6l-0.1 -0.9M429.9 136.0l-0.2 -0.1M350.3 509.5l1.0 -0.1M266.8 380.7l-0.1 0.1M449.4 206.1l0.1 -0.0M597.6 427.8l0.2 -0.2M253.0 500.1l-0.3 -0.9M469.3 150.1l0.6 -0.1M597.7 390.6l-0.5 -0.4M594.0 362.3l0.7 0.4M255.7 476.2l1.2 0.4M356.4 178.6l1.0 -0.3M510.3 176.7l1.0 -0.8M370.6 186.5l-1.0 0.3M370.4 143.3l0.3 0.4M277.6 273.0l-0.4 -0.8M510.1 476.7l-0.2 -0.3M272.9 500.0l0.9 0.2M468.6 143.3l0.1 0.1M363.7 411.2l0.3 0.7M385.0 205.4l0.4 0.0M588.7 355.1l0.4 1.4M305.9 392.1l-0.3 -0.0M364.7 198.2l0.6 -0.7M587.1 430.2l0.2 -0.2M429.3 126.0l0.4 0.0M333.8 514.6l0.3 -1.1M430.0 135.8l-1.1 1.0M246.6 447.7l-0.2 0.4M353.6 481.8l0.6 0.2M345.2 193.4l-0.0 0.1M648.1 400.1l-0.1 -0.3M311.6 542.9l-0.1 -0.3M629.7 398.5l0.0 -0.2M345.8 486.5l0.1 0.2M322.7 389.0l0.1 -0.1M322.4 223.4l0.8 0.5M505.6 228.3l0.5 1.4M322.6 205.3l-0.1 0.4M577.6 426.2l-0.6 0.1M383.7 165.0l-0.5 -0.0M681.7 414.9l0.5 -0.9M688.5 370.8l-1.5 -0.3M537.7 187.1l0.9 -0.2M291.0 536.3l-1.5 0.1M411.3 127.4l-1.0 -0.3M235.9 460.8l0.9 -0.1M321.6 400.5l0.5 0.4M341.3 483.6l0.2 0.1M447.4 116.2l0.1 -0.1M347.5 192.1l0.2 0.1M501.8 473.5l-0.4 -0.8M352.1 505.9l0.9 -0.5M346.6 510.8l-0.1 0.2M630.8 359.1l0.1 -0.1M507.6 160.0l0.7 1.0M300.6 269.1l0.0 0.1M330.0 469.9l-0.3 -0.4M451.5 139.7l0.4 -1.0M304.3 258.7l0.5 -0.2M458.1 120.5l-0.3 -0.7M534.0 243.4l-1.3 0.3M338.9 186.1l0.1 -0.3M313.0 228.7l0.1 0.0M276.5 288.7l-0.1 0.1M283.5 413.8l-0.4 -0.1M487.2 134.7l-0.3 -1.2M350.4 162.9l0.2 0.3M343.1 183.2l-0.0 0.1M509.0 197.5l0.1 0.1M504.4 237.8l-1.5 -0.3M252.4 419.8l1.1 -0.2M251.5 535.5l-0.1 -0.1M316.9 529.5l0.3 -1.2M241.0 518.2l-0.3 0.7M278.0 283.8l-0.0 -0.2M302.0 484.2l-0.0 0.1M299.5 272.0l-0.1 -0.2M297.6 246.1l-0.3 0.7M603.9 404.7l0.0 -0.1M502.4 198.5l0.0 0.1M620.0 303.2l0.1 0.1M628.7 417.4l-0.1 0.1M584.5 389.2l0.5 0.4M386.7 174.4l-0.2 -0.4M263.5 388.8l0.9 0.8M427.8 140.6l-0.1 -0.1M340.4 457.3l0.0 -0.2M442.0 125.8l-0.1 0.1M503.4 140.1l0.1 -0.1M401.8 109.0l0.1 0.3M319.4 248.1l0.1 0.1M600.1 319.8l0.4 0.6M592.2 351.3l0.2 0.4M682.5 397.2l0.1 0.0M514.1 186.3l-0.3 0.7M670.2 326.4l0.7 -1.4M625.6 368.7l-0.1 0.1M678.2 373.2l0.8 -0.2M262.4 394.4l0.1 0.0M560.9 250.1l-1.2 0.7M566.3 273.9l0.0 -0.2M588.1 288.2l0.4 -0.5M658.4 375.1l0.1 0.7M331.5 394.3l-0.0 -1.1M292.7 397.6l-0.1 0.0M575.5 456.8l0.0 0.2M359.8 161.0l-0.7 -0.1M349.9 489.8l-0.3 0.4M495.2 171.5l-0.0 -0.3M655.8 456.8l-0.0 0.3M654.6 337.0l-0.1 -1.4M245.2 489.7l0.4 0.3M293.5 516.1l-0.3 -0.2M279.1 411.1l-0.1 -0.2M341.4 166.3l0.0 0.6M581.9 432.9l0.5 -0.2M359.8 532.2l-0.4 -0.4M366.6 122.5l-0.1 0.1M367.7 172.4l-0.1 -1.1M233.4 510.6l0.2 -0.2M340.9 412.4l0.0 0.2M502.5 151.5l0.1 0.1M518.7 228.2l-0.2 -0.6M512.9 176.7l0.5 -1.2M602.7 327.0l0.4 -0.0M226.5 522.0l0.1 -0.2M406.9 140.9l0.3 0.5M453.9 125.4l0.2 0.0M697.7 415.7l-0.1 -0.9M294.3 227.9l0.5 0.9M495.4 169.9l0.0 0.2M529.7 171.2l0.8 -0.8M603.5 368.0l-0.6 -0.0M487.4 105.6l0.2 0.2M270.1 391.2l0.7 0.4M636.2 302.6l0.1 -0.4M310.3 263.5l-0.1 0.1M689.6 370.3l0.1 0.1M248.3 413.3l-0.2 -0.6M545.9 252.2l0.1 0.1M275.2 392.8l1.3 -0.6M252.1 420.8l-0.1 0.4M616.6 340.5l0.5 -0.2M332.9 500.6l0.7 -1.3M497.2 104.1l-0.2 -0.1M280.6 284.7l-0.6 -0.2M243.0 509.3l-0.1 0.1M335.4 488.8l0.4 0.2M411.2 144.9l0.2 1.3M646.0 459.5l0.1 -0.2M367.2 140.2l1.0 -0.2M275.4 541.8l0.7 -1.4M580.2 412.3l0.1 0.1M333.1 524.0l-1.2 0.3M635.1 353.1l0.3 -0.4M365.2 144.2l0.0 -0.1M266.9 379.4l0.2 -1.4M297.6 539.8l0.0 0.3M293.1 396.4l0.3 -1.4M455.7 134.8l1.1 0.4M325.4 467.5l0.1 -0.1M614.5 390.8l0.6 -1.3M263.3 527.2l-0.9 -0.1M344.8 440.6l0.0 0.1M249.7 438.2l-0.2 -1.5M277.5 291.0l-0.3 0.2M342.1 487.5l-0.1 0.1M296.5 251.6l0.3 0.5M513.8 163.5l0.3 0.0M321.2 224.0l0.3 -0.5M313.7 270.5l-0.4 0.6M508.8 185.1l0.7 -0.3M312.4 247.0l-0.7 1.2M263.2 402.3l-1.1 -0.2M332.1 170.8l-0.9 0.2M341.7 207.8l0.3 0.0M294.1 536.8l0.7 -0.1M325.4 211.5l0.2 1.0M348.8 487.4l1.1 0.5M641.4 334.8l-0.1 0.2M384.1 401.2l-0.8 -0.1M337.7 215.6l-0.5 -0.9M327.3 229.9l0.1 -0.0M348.8 157.4l0.1 -0.1M551.9 474.0l-0.1 0.2M503.0 235.2l-0.2 -0.1M672.0 405.8l0.0 -0.3M349.2 463.7l-0.3 -1.1M354.7 501.3l-0.1 -0.0M496.7 142.3l-1.2 -0.3M480.6 144.4l0.0 0.2M407.2 109.9l0.7 -0.4M376.4 125.3l-0.6 0.2M385.0 123.4l-0.1 -0.1M267.5 486.0l-0.5 -1.2M227.6 515.9l-0.1 -0.8M234.9 511.1l-0.3 -0.4M502.3 139.5l-0.1 0.1M386.1 412.7l-0.1 -0.0M356.9 414.3l-1.1 -1.1M701.4 401.0l-0.1 0.1M359.3 458.2l0.1 1.3M517.5 186.4l0.1 -0.0M436.3 114.5l0.2 0.6M325.5 538.9l0.2 -1.4M373.0 166.2l-0.2 -0.0M688.9 352.4l-0.1 -0.0M640.7 348.2l0.2 0.2M276.0 495.3l-0.4 -0.4M584.9 289.0l-0.2 0.7M529.6 199.1l-0.1 0.1M393.8 124.6l0.1 0.5M644.8 312.3l-0.3 1.2M528.2 168.6l0.4 -0.1M374.7 143.9l0.2 0.2M588.4 413.6l0.1 0.2M693.5 386.4l0.1 -0.4M695.7 411.0l0.1 -0.2M547.0 262.1l1.3 0.8M627.9 361.2l0.1 0.1M219.5 486.3l0.4 -1.0M258.7 399.0l1.0 -1.2M311.8 240.7l0.2 -0.0M542.2 254.2l0.4 0.7M392.9 164.5l-0.0 0.1M501.4 218.1l0.1 0.0M635.5 307.2l-0.1 0.2M302.2 269.7l-0.1 -1.3M532.1 218.4l0.4 -0.5M231.5 502.4l-0.1 0.1M521.0 467.4l0.0 -0.1M582.7 429.6l-0.3 1.2M525.8 166.6l0.1 0.0M687.8 367.4l0.1 0.2M591.5 405.3l1.1 0.3M618.0 298.4l1.3 -0.5M267.1 497.5l-0.2 -0.9M361.2 152.6l-0.4 1.2M527.6 161.6l-0.7 -0.5M374.9 133.2l0.5 0.2M496.0 202.4l1.3 -0.3M616.9 336.8l0.1 -0.6M458.6 129.5l-0.5 -0.6M309.1 479.5l0.2 0.5M468.6 151.7l0.3 -0.2M535.6 246.6l1.2 -0.1M615.1 331.8l-0.2 0.0M635.7 309.7l0.0 0.3M298.0 512.6l0.6 -0.1M548.9 473.6l0.0 -0.1M318.2 226.1l0.5 -0.7M494.1 188.5l-0.3 0.0M362.2 140.3l0.6 -0.0M499.6 477.1l-0.1 0.1M574.7 447.0l-0.8 0.3M334.5 423.0l-0.1 0.1M376.5 449.7l0.1 0.1M253.5 429.4l-0.1 0.1M353.2 487.7l0.4 -0.5M504.5 119.0l-0.0 0.1M369.4 430.0l0.0 -0.4M257.2 415.9l1.0 1.2M252.2 466.3l-0.4 -0.7M238.8 516.5l1.2 -0.0M313.4 259.5l0.1 0.1M282.2 254.1l1.1 1.1M295.6 488.1l-0.4 1.5M228.4 490.3l-0.1 0.1M250.1 457.1l0.4 -0.3M335.7 481.7l-0.2 0.0M279.0 408.3l-0.2 -0.2M529.5 177.3l-0.2 -0.0M534.0 192.5l0.7 -0.4M365.8 185.3l0.6 0.3M333.9 162.6l0.0 -0.1M299.9 258.6l0.6 -0.1M502.4 114.2l-0.1 0.1M318.6 387.1l0.1 -0.1M452.8 223.6l0.5 0.8M664.0 404.8l0.5 -1.0M291.5 272.6l-1.1 -0.5M671.5 328.8l-0.1 -0.1M378.7 119.8l-0.5 -0.1M497.0 144.9l-1.0 -1.1M648.1 441.7l0.5 0.6M595.2 375.1l-1.1 -0.3M680.0 380.2l0.1 1.3M359.3 536.3l0.1 0.1M429.5 132.9l0.3 0.4M297.9 231.7l-0.0 0.2M283.3 250.1l1.5 -0.5M578.8 432.9l0.1 0.1M239.8 524.1l0.0 0.3M318.7 393.4l-0.0 -0.3M510.2 233.0l-0.3 -0.5M515.0 181.9l0.1 -0.0M338.0 396.2l1.4 -0.3M357.7 188.4l-0.1 -0.0M362.8 151.6l0.2 -0.1M657.5 419.5l-0.0 0.1M631.7 470.6l-0.2 -0.7M393.9 125.0l0.4 -0.2M498.2 220.4l-0.0 0.2M656.4 377.6l0.2 0.8M366.6 516.0l1.3 -0.2M568.6 461.9l-0.0 0.1M315.6 492.1l-0.8 -0.5M570.9 431.0l0.2 0.1M646.5 414.4l-0.2 0.5M337.4 231.8l-0.0 0.1M398.3 154.1l0.7 0.1M344.0 164.9l-0.4 -0.3M553.9 461.7l-0.4 -0.9M634.5 301.9l0.6 -1.3M274.3 541.0l0.0 -0.2M501.7 473.2l-0.1 0.2M680.5 403.3l-0.2 -0.2M546.8 159.0l0.4 0.6M539.4 203.9l0.9 0.4M362.6 132.5l0.0 0.3M270.7 399.1l-1.3 0.1M550.3 463.4l-0.1 -0.3M501.0 123.3l0.0 0.1M362.9 161.2l-0.4 0.0M489.7 153.2l0.4 0.5M224.8 521.7l-0.1 0.0M658.9 458.1l0.5 0.1M495.5 105.4l0.1 -0.1M383.9 400.5l1.1 0.1M611.8 364.4l-1.2 -1.0M353.7 413.6l0.2 0.0M502.5 166.5l-0.8 1.0M609.3 377.4l-0.1 -0.3M552.0 448.6l1.0 -0.7M425.6 150.5l0.3 -0.3M612.1 377.4l0.1 -0.4M340.7 163.9l-0.5 1.4M577.3 411.1l-0.1 0.1M285.7 271.3l0.9 0.4M253.5 426.0l-0.0 -0.3M634.1 330.4l0.4 -0.9M267.3 414.3l-1.0 -0.0M268.9 392.0l-0.7 -0.5M380.3 129.0l-0.8 -0.5M660.6 337.4l-0.0 1.0M442.7 220.0l0.1 0.3M625.3 309.3l-0.9 0.8M603.2 359.7l-0.0 0.3M337.4 161.3l-1.2 0.1M266.7 399.5l0.4 0.7M261.4 399.7l0.1 0.5M460.4 120.7l-0.4 0.2M692.3 405.3l-0.2 -0.1M631.5 412.2l0.1 -0.1M511.5 205.6l-1.4 0.2M434.2 107.4l1.4 -0.3M579.1 444.0l0.0 1.2M434.2 114.8l-0.1 0.3M666.1 355.9l0.4 0.6M552.7 455.8l-0.7 -0.5M347.2 451.9l0.0 0.1M238.5 492.7l-0.2 -0.0M585.6 289.6l-0.2 0.0M345.1 197.1l0.2 -1.0M265.3 389.4l-0.9 0.4M218.9 464.9l-0.7 -0.2M361.4 144.3l-0.4 1.1M288.8 267.2l-0.1 0.0M685.5 359.7l0.0 0.1M365.7 245.2l-0.1 -0.1M348.2 481.5l-0.0 -0.1M345.1 200.6l-0.4 0.1M265.6 393.4l0.1 -0.1M503.0 119.7l0.4 0.1M689.7 412.8l0.3 -0.2M496.5 235.4l0.2 1.6M569.6 437.7l0.2 -0.1M267.1 470.6l-0.5 0.7M306.4 265.2l0.1 0.7M508.8 220.5l0.1 -0.1M586.4 461.9l0.6 1.2M300.3 259.6l0.0 0.4M586.7 448.3l-0.1 0.1M281.6 285.5l-0.7 -0.9M322.7 195.2l0.4 -0.8M341.3 391.0l0.8 -0.7M506.4 240.7l-0.2 -0.0M373.9 167.6l0.0 -0.3M672.1 400.3l-0.2 0.1M437.2 138.7l-0.1 0.0M348.4 442.1l-0.1 -0.4M488.3 128.1l1.3 0.2M240.1 455.6l-0.1 -0.1M560.9 247.9l1.1 -1.1M692.9 390.4l-0.8 0.3M331.9 393.7l0.4 1.1M352.5 159.6l0.1 0.2M456.2 123.4l1.1 0.6M302.2 263.3l1.0 -0.2M399.3 110.3l-0.3 0.1M576.5 280.6l0.5 0.1M228.8 498.4l-0.1 -0.1M304.4 276.0l1.4 -0.6M384.0 424.6l-0.0 -0.4M630.7 308.7l-0.0 0.1M291.5 519.4l0.2 -0.0M346.6 488.2l1.0 1.0M573.9 445.6l0.6 0.5M242.2 484.4l0.0 0.5M389.1 166.5l0.8 0.2M625.3 341.3l-0.0 -0.4M339.4 453.5l-1.0 -0.1M631.8 431.1l-0.1 -0.3M366.6 452.7l0.0 -0.2M579.1 453.2l0.1 0.6M232.8 514.1l-0.0 0.1M283.2 523.4l0.5 0.9M524.3 126.5l0.1 0.3M505.6 234.9l0.3 -1.1M637.7 335.0l0.3 -0.0M624.0 372.5l-1.1 0.8M408.6 135.9l-1.3 0.9M426.6 112.5l0.3 -0.1M343.8 217.4l-0.7 -0.2M371.6 189.3l-0.6 0.1M379.2 157.5l0.1 0.0M562.4 251.1l-1.1 -0.0M312.4 502.5l-0.1 -0.1M372.5 149.4l-0.0 -0.2M400.9 111.0l0.0 -0.1M590.5 445.3l-1.5 -0.2M323.0 442.5l-0.2 -0.9M613.8 469.6l0.2 -0.6M384.1 171.1l-0.6 1.3M325.8 223.9l-0.5 -1.0M408.7 126.9l-0.2 0.4M497.8 470.5l-0.9 -0.4M335.8 489.7l-1.1 -0.6M612.6 351.2l-1.0 0.8M291.1 247.0l-0.1 -0.1M570.8 434.3l0.0 0.1M454.4 130.5l-0.4 0.0M479.9 152.6l-0.0 -0.2M358.3 534.6l0.1 0.2M538.1 188.0l0.1 0.0M531.0 191.5l0.1 0.1M597.0 369.3l-0.2 0.3M527.3 245.1l0.0 1.0M321.9 193.6l-0.7 -1.0M671.8 434.7l-0.0 -0.1M529.9 209.8l0.1 0.1M316.5 404.6l-0.1 0.0M261.0 493.7l0.3 -0.3M371.3 126.3l0.3 0.5M523.4 191.1l0.1 0.0M341.3 217.4l-0.0 -0.1M319.4 504.1l0.3 0.0M350.5 166.9l-0.1 -0.4M614.0 404.5l-0.8 -0.1M545.3 235.8l-0.3 0.4M299.8 519.5l-1.3 -0.7M531.7 178.8l0.0 -0.6M367.5 135.3l0.3 0.2M447.8 117.7l0.5 -0.0M347.1 445.9l-0.3 0.0M631.1 455.9l0.1 -0.8M672.6 341.3l0.1 -0.0M485.5 131.6l0.8 -0.7M392.0 136.4l-0.0 0.1M504.9 466.9l-0.1 0.2M352.8 497.9l-0.8 1.0M222.3 475.2l0.1 0.1M348.9 455.4l-0.1 -0.1M428.1 136.6l-0.4 -0.5M623.3 337.8l-1.4 -0.6M399.7 114.6l0.4 0.0M271.2 533.4l-0.3 -0.1M672.0 376.1l0.1 0.0M638.5 409.0l0.2 -0.5M512.7 239.7l0.2 -0.2M280.7 501.2l0.0 0.1M317.8 491.6l-0.5 0.5M351.7 479.6l-0.0 -0.2M278.2 544.9l1.3 0.5M605.7 345.3l-0.1 -0.1M361.0 513.6l-0.2 0.3M288.9 421.6l-0.1 -0.1M349.4 481.8l1.2 -0.2M281.7 270.3l-0.4 -1.3M383.1 168.0l-0.2 0.3M410.4 117.8l-0.5 -1.0M338.0 220.5l-0.4 0.4M355.3 150.6l0.2 0.1M659.9 369.1l-0.0 -0.4M369.5 432.4l-0.7 0.5M661.8 341.2l0.1 -0.2M597.2 329.1l-0.2 -0.3M456.1 146.9l0.3 -0.1M234.6 518.0l-0.1 0.1M545.5 213.5l1.1 0.4M394.4 158.1l-0.2 -0.1M617.0 350.7l0.1 -0.2M321.8 390.6l-0.6 -0.7M469.5 184.2l-0.4 0.4M365.1 192.7l0.0 -0.3M333.5 166.6l-0.8 -0.1M365.7 147.4l-0.1 -0.8M311.7 241.0l-0.1 0.0M415.2 104.0l-0.1 0.1M317.8 426.9l-0.2 -0.2M297.6 409.7l-0.0 -0.7M295.5 497.5l-0.1 0.2M670.4 386.3l0.0 -0.6M596.1 373.3l0.4 0.1M282.2 489.8l-0.1 0.1M240.1 473.9l-1.2 0.8M432.4 112.6l-0.2 -0.3M317.7 252.6l-0.1 -0.0M653.8 352.2l0.3 0.7M338.4 185.6l-0.4 -0.4M249.6 437.9l-0.1 -1.2M536.1 461.5l1.0 0.3M323.1 385.3l0.7 0.0M657.1 333.1l0.1 0.9M327.1 395.5l0.5 -1.4M333.6 402.6l-0.1 0.0M443.8 136.9l-0.4 0.7M554.0 267.2l0.1 -0.1M425.0 123.0l0.1 0.2M595.1 403.5l0.1 -0.1M638.5 332.7l-1.2 -1.0M626.4 347.2l-0.1 0.6M263.7 492.1l-0.0 0.1M334.1 410.1l0.6 -0.0M296.0 254.8l0.4 0.9M363.0 150.4l1.3 0.8M340.8 184.4l0.1 -0.2M487.7 113.4l0.0 0.2M569.8 444.9l-0.1 0.1M590.2 392.7l0.3 0.2M338.9 190.8l0.8 0.5M256.5 481.5l-0.5 -1.0M623.2 405.6l0.2 0.3M244.4 515.5l-0.4 0.1M521.4 468.7l0.0 -0.7M274.0 530.6l-0.1 -0.1M385.2 422.5l-0.0 -0.1M372.5 187.4l-0.1 0.1M260.3 536.1l0.1 0.0M344.3 187.2l1.1 0.0M518.7 232.1l-0.1 0.1M451.6 112.4l-0.6 -0.1M622.7 307.4l-0.8 0.6M525.8 135.4l-0.1 -0.7M579.9 444.8l-0.1 0.1M550.1 448.9l-1.0 0.2M689.3 357.5l-0.1 -0.8M269.9 523.7l1.3 0.9M398.4 113.2l0.3 -0.7M507.5 162.7l-0.3 -0.1M215.5 475.7l0.1 0.1M269.7 523.1l0.1 0.1M536.0 186.7l0.2 1.2M655.1 459.5l-0.2 -0.0M449.3 148.5l-0.1 -0.1M256.0 467.2l0.4 -1.2M683.1 362.5l-0.2 -0.5M357.7 414.1l0.2 -0.1M620.8 384.3l0.3 -0.1M228.6 451.0l-0.8 0.8M671.3 429.8l-0.2 -0.1M326.7 529.7l0.1 -0.3M383.8 170.1l-0.0 0.4M681.4 388.6l0.2 0.8M365.8 424.1l-0.4 -0.2M272.9 539.7l0.1 0.0M519.8 472.6l-0.1 0.1M349.8 500.4l0.1 0.2M376.9 141.2l-1.4 0.6M365.8 146.6l-0.2 -0.1M518.3 217.3l0.2 -0.2M325.6 204.2l-0.1 0.2M264.1 476.5l0.1 -0.2M584.3 447.2l0.1 -1.0M702.2 377.1l-0.2 -0.2M273.8 479.6l-0.2 -0.6M507.5 191.2l0.0 -0.2M355.3 171.9l0.3 -0.2M586.3 453.7l-0.1 -0.0M633.5 461.1l1.2 -1.1M366.3 219.3l0.2 -0.1M323.4 250.3l0.5 0.4M639.8 318.7l-0.0 0.3M662.4 385.3l0.6 0.9M574.0 452.6l0.2 0.2M293.0 397.4l-0.3 -0.0M628.0 472.1l-0.3 -0.1M361.0 415.7l-0.6 -1.3M402.7 102.2l0.9 -0.3M415.6 102.1l-0.4 1.3M346.1 193.9l-0.1 -0.6M578.0 422.2l-0.1 0.1M631.8 382.8l0.5 -0.0M489.6 105.9l0.2 0.3M370.9 448.6l0.1 -0.1M373.9 396.7l-1.0 0.6M305.8 481.6l0.1 -0.4M555.1 463.7l-1.5 0.3M667.4 383.2l-0.2 0.2M354.6 457.0l-0.1 0.1M441.9 161.6l0.1 0.1M231.9 459.4l-0.4 -0.1M217.8 467.4l-0.0 -1.4M363.6 158.4l0.1 -0.1M263.9 413.3l0.9 -0.1M526.1 144.5l0.1 -0.2M336.5 226.7l-0.2 -0.2M533.6 203.3l0.6 0.3M251.9 468.9l0.0 -0.1M508.7 234.6l0.2 -0.5M662.5 458.0l-0.0 0.4M346.1 419.7l-0.7 -0.8M305.3 384.4l-0.6 -0.1M223.6 513.5l1.2 -0.1M626.3 398.2l-0.1 -0.0M347.5 198.2l0.1 -0.1M505.8 241.1l-0.2 -0.1M553.2 453.9l-0.3 -0.0M342.7 495.2l-0.8 0.2M265.9 405.7l0.2 0.1M598.0 332.2l1.4 -0.3M641.0 334.1l-0.3 -0.3M274.5 505.5l-0.6 0.2M292.5 276.2l0.0 -0.1M421.9 168.7l-1.0 -0.1M391.0 203.9l-0.5 -0.8M256.8 526.6l1.3 -0.5M282.7 524.0l0.2 -0.0M681.4 398.1l0.2 0.2M494.6 135.7l-0.5 -0.9M479.1 122.5l0.5 -0.2M409.6 108.5l0.1 0.2M274.7 539.5l0.1 0.1M528.8 233.1l0.1 0.6M359.0 525.8l0.7 0.3M696.1 363.4l-0.1 0.4M517.2 235.2l-0.0 -0.3M371.5 510.4l-0.2 0.6M299.4 269.5l0.2 0.1M490.7 122.4l0.1 -0.1M374.1 148.5l-0.0 -0.1M472.7 133.0l0.0 -0.1M372.6 406.0l0.0 0.1M340.4 410.2l0.5 0.8M599.8 353.0l-0.2 -0.5M263.2 479.7l-0.4 0.5M364.8 511.5l-0.5 -0.5M551.4 450.1l-0.1 0.1M307.0 388.8l-0.2 -0.6M628.5 395.9l-0.2 -0.3M357.4 127.3l0.0 0.1M350.0 219.5l-0.3 -0.4M670.2 433.6l0.4 -1.3M300.7 491.1l-0.1 -1.2M356.8 129.3l0.1 -0.5M300.7 483.0l0.6 0.7M598.4 386.2l0.0 -0.8M292.0 522.7l-0.0 0.1M532.8 462.8l-0.9 -1.2M424.6 156.2l-1.5 0.4M267.2 488.0l0.2 0.1M266.6 500.5l1.2 -0.1M221.9 500.4l-0.1 0.2M365.5 184.5l-0.4 0.1M670.9 446.5l-0.4 0.3M654.2 320.9l-0.3 0.5M253.6 496.5l0.4 -0.9M557.3 450.9l-0.8 0.1M435.9 112.3l0.1 0.0M591.7 390.6l0.2 0.4M300.7 409.9l0.0 0.8M234.3 452.4l0.0 0.1M343.8 166.0l0.4 -0.1M348.7 399.7l1.2 0.9M320.9 236.3l-0.4 -0.8M227.7 460.2l0.1 -0.1M409.1 121.6l0.2 -0.9M357.6 509.7l-1.2 0.4M248.1 424.3l0.2 0.2M345.7 483.8l0.2 -0.6M271.9 455.6l0.0 0.4M319.3 391.8l0.9 -0.1M640.4 330.1l-0.0 0.1M677.6 415.9l0.1 0.0M488.3 164.5l-0.2 0.5M484.0 113.6l-0.1 0.1M545.4 158.5l1.0 1.2M639.4 430.2l-0.9 -0.7M395.1 132.0l-0.9 0.0M489.9 118.7l0.0 -0.2M535.6 148.0l-0.2 0.2M671.8 343.2l-0.0 0.1M356.7 440.6l-0.8 0.7M629.7 472.8l-0.1 0.1M243.8 468.1l1.2 0.8M634.4 369.5l0.1 0.0M362.3 141.3l-0.2 0.2M623.9 460.6l0.3 0.2M543.4 260.4l0.2 -0.1M268.3 496.6l0.4 0.8M559.9 256.9l0.5 -0.1M274.9 478.7l0.1 0.1M629.0 468.3l-0.1 -0.0M281.5 488.0l-0.0 0.1M605.1 316.9l-0.4 -0.4M441.0 141.6l0.0 -0.1M670.0 345.6l0.4 0.5M576.5 429.0l-0.3 0.1M643.0 403.5l-0.2 0.3M451.4 121.8l-0.4 0.2M515.1 187.9l1.5 -0.2M356.5 164.7l-0.3 -0.0M530.1 171.0l0.4 -0.8M244.0 466.7l0.2 0.1M278.7 282.3l0.5 -0.5M691.7 402.7l0.3 0.2M350.2 495.9l-0.2 0.9M494.4 184.3l0.1 -1.6M308.5 413.6l-0.1 -0.8M423.2 113.6l0.2 -0.3M315.7 546.8l0.1 0.0M489.9 110.9l-0.5 1.4M330.2 472.7l-0.4 -0.3M251.1 406.5l-0.2 0.1M550.5 222.0l0.7 1.0M498.2 474.6l0.0 1.0M285.0 410.0l-0.6 -0.7M397.7 168.8l0.2 0.4M525.6 211.9l0.5 -0.6M382.3 152.1l1.1 -0.0M326.3 501.7l0.3 1.3M240.1 450.7l0.1 -0.1M681.6 334.2l-0.1 0.0M292.4 485.7l0.0 -0.1M281.0 394.2l0.1 0.1M592.0 390.6l-0.2 -0.3M284.2 259.1l1.3 0.2M691.7 407.6l0.3 -0.3M522.5 120.0l-0.8 -0.2M248.7 442.3l-0.2 0.1M595.9 297.1l1.3 0.0M544.3 201.0l-0.9 -0.5M622.6 303.4l-0.5 0.5M360.9 447.6l0.1 0.1M380.4 453.5l1.1 -0.2M584.3 452.3l-0.1 0.0M431.5 122.2l0.1 0.1M342.1 184.9l0.3 -0.1M511.8 473.7l0.3 -0.4M496.7 198.8l-1.2 -0.5M514.2 179.6l-0.0 0.4M477.2 123.6l-0.1 0.1M548.9 259.5l-0.3 1.3M501.5 240.0l0.5 -0.2M451.4 125.7l-0.1 -0.4M309.6 479.6l0.3 -0.5M508.0 161.4l0.0 -0.5M430.2 116.1l0.1 0.0M673.0 322.0l-0.6 -0.3M333.7 226.4l-1.0 -0.5M351.3 516.3l-0.0 0.1M302.0 265.7l-0.1 -0.2M578.8 444.1l0.1 -0.6M338.3 159.4l-0.9 -0.4M683.5 357.5l-0.1 0.0M265.7 474.9l0.1 -0.6M301.8 238.7l0.0 0.3M507.7 466.0l1.3 0.7M230.0 510.6l0.0 -0.1M280.1 482.1l-0.1 -1.6M369.1 182.4l-0.1 -0.1M247.1 463.1l-0.0 0.1M322.6 198.3l0.1 0.4M373.4 403.7l-1.0 0.1M622.9 357.6l0.1 0.1M502.9 197.2l-0.2 0.1M668.4 355.4l-0.2 -0.3M513.0 203.7l0.8 -0.2M389.5 398.3l0.2 1.2M275.5 400.0l-0.4 0.9M356.4 201.2l0.4 0.1M596.5 415.0l0.2 -0.2M614.8 403.3l0.8 0.3M261.4 515.1l-0.3 0.5M303.6 483.6l-0.0 -0.2M526.1 173.6l-0.4 0.0M496.9 233.3l-0.4 0.1M526.8 229.5l-0.2 0.1M563.1 269.9l0.0 0.1M293.0 511.3l0.9 1.0M625.9 461.7l-0.8 0.6M240.2 481.1l-0.0 0.1M646.3 371.3l0.6 0.0M700.8 396.3l0.1 0.6M233.1 511.1l1.2 -0.4M657.3 444.3l0.0 0.3M323.3 464.4l-0.1 0.7M425.8 138.4l-1.3 -0.5M401.7 127.4l-0.0 -0.1M301.3 489.1l0.4 1.2M429.1 143.7l-0.2 1.2M524.4 180.8l-0.3 -0.9M692.2 421.7l-0.1 -0.0M501.6 237.2l-0.2 -0.1M628.9 436.7l0.5 -1.5M425.5 147.1l0.9 0.5M430.4 131.2l-0.7 1.1M382.6 520.3l0.1 -1.2M315.9 251.5l-0.1 0.1M355.0 454.4l-0.3 -1.5M263.9 382.4l0.8 -0.3M402.3 105.8l-1.0 -0.5M549.7 457.9l0.9 -0.4M592.2 352.1l-1.4 0.7M330.7 411.5l0.7 1.0M590.4 287.6l-0.3 -0.1M671.4 381.5l0.0 0.1M455.6 130.3l-0.1 -0.1M523.6 199.8l-0.4 0.8M635.5 447.9l-0.0 -1.2M360.7 169.0l-0.1 -0.1M426.5 138.3l0.0 -0.1M413.6 152.1l-0.0 0.1M249.0 527.5l0.1 0.1M489.8 99.9l-0.2 0.2M256.5 413.4l0.6 0.4M388.7 122.4l-0.8 0.5M357.6 458.4l0.4 -0.3M266.3 483.0l0.4 -0.4M362.5 467.4l-0.6 0.2M684.0 340.3l0.0 0.1M577.8 450.3l-0.3 0.1M510.2 182.2l0.2 1.3M628.0 342.1l-0.3 0.0M636.8 302.0l-0.8 1.0M242.3 498.5l-0.0 0.3M530.9 162.3l-0.1 0.3M355.8 485.9l-0.7 -0.1M499.1 106.5l0.8 -0.5M488.3 120.6l0.1 -0.1M688.0 414.7l0.0 -0.9M222.9 489.8l-0.5 0.2M298.9 410.5l-0.1 -0.0M537.5 208.1l0.1 0.3M218.9 455.3l0.3 0.7M410.6 154.2l-0.1 0.5M640.8 324.8l0.0 0.7M357.7 453.5l1.0 -0.0M323.0 516.9l0.4 0.1M503.7 201.1l0.1 -0.4M594.8 435.5l-0.2 -0.1M369.9 123.6l-1.0 0.1M305.4 483.8l0.2 -0.8M459.7 145.7l0.4 0.0M319.6 223.8l0.0 -0.1M364.6 185.1l-1.4 0.2M527.7 240.1l0.4 -0.0M450.1 150.1l0.3 -0.0M284.7 251.0l0.3 -0.1M671.3 437.1l0.6 -1.0M525.4 141.7l-0.0 0.5M637.0 404.1l-0.2 -1.4M363.5 186.5l-0.5 -0.1M256.3 506.9l-0.1 0.1M244.8 508.5l-0.1 0.1M593.3 436.6l0.1 -0.2M699.4 397.9l0.5 -0.6M407.4 134.8l1.0 -0.0M233.8 513.0l-0.7 0.0M219.2 486.9l0.3 -0.2M667.1 452.7l0.1 -0.0M501.6 112.7l-0.0 -0.4M221.0 497.5l-0.1 -0.1M687.7 412.7l0.9 -0.9M498.7 479.1l0.1 0.1M510.1 224.2l0.0 -0.2M411.3 122.0l-0.2 0.3M284.5 423.2l0.1 0.1M327.5 452.0l0.1 1.0M304.5 461.0l0.1 -0.8M313.3 226.9l-0.3 -0.2M510.5 239.7l0.1 0.1M536.5 181.7l0.1 0.1M333.7 212.4l-0.5 0.2M526.4 197.5l1.4 0.7M292.8 230.1l-0.1 -0.7M315.3 224.1l0.1 0.1M703.2 404.2l-1.1 -0.9M365.5 453.0l-0.2 -0.2M242.0 530.9l0.1 0.1M218.3 492.6l-0.1 0.1M306.9 234.2l0.1 0.0M264.6 527.4l-0.5 -1.5M487.3 230.6l0.1 -0.0M673.9 382.7l-0.2 0.6M631.8 383.9l0.7 0.2M692.9 375.2l1.2 0.2M341.2 469.3l-0.0 -0.4M526.9 166.5l0.0 0.5M464.0 135.1l0.1 -0.0M507.0 115.0l-0.0 -0.1M324.0 526.4l0.1 0.0M280.5 287.7l0.4 0.5M357.8 444.8l0.1 -0.3M480.4 109.4l0.2 -0.1M375.4 200.6l0.6 -0.8M230.0 487.8l0.1 -0.0M323.6 533.5l0.3 -0.3M263.2 475.1l-0.2 0.3M624.1 392.2l-0.4 0.2M347.6 528.6l0.9 -0.1M649.4 396.6l-0.1 0.1M386.8 120.9l0.2 -1.5M273.9 481.6l0.1 -0.0M341.9 531.2l-0.1 0.5M596.4 377.5l0.3 0.0M692.0 405.5l0.0 -1.4M523.7 127.9l-0.1 -0.2M349.8 448.5l0.5 0.8M407.5 113.4l-0.2 -0.0M577.4 468.4l-0.2 0.2M631.7 405.7l-0.6 0.5M295.2 547.5l-1.0 0.6M663.3 347.1l-0.2 0.1M453.3 129.3l0.2 0.5M352.1 128.4l-0.0 -0.1M622.5 316.7l0.0 0.1M291.2 543.3l0.1 0.2M591.4 440.4l0.1 0.2M361.1 465.0l0.0 0.5M325.5 465.8l0.0 -0.1M520.9 197.7l-0.2 0.1M628.0 462.5l0.6 -1.2M441.9 124.9l-1.1 -0.0M383.2 173.5l0.3 -0.3M626.3 416.9l-0.1 0.0M547.4 159.5l0.8 0.1M346.5 419.9l0.1 0.1M645.0 437.5l0.6 1.1M503.1 221.0l0.5 0.4M696.6 418.1l-0.1 -0.2M254.1 525.3l0.2 0.6M506.0 97.3l0.2 0.0M647.2 367.8l-0.0 -0.2M339.7 260.0l-0.2 -0.7M357.2 510.2l-0.3 -0.4M343.4 486.0l0.2 0.5M518.9 178.1l0.1 1.0M244.4 531.7l0.2 -0.5M492.6 236.6l-0.1 -0.1M228.2 512.9l0.3 0.2M514.8 474.0l-0.3 -0.3M647.3 353.1l-0.8 -0.6M339.4 536.7l-0.2 0.1M541.5 257.7l-0.1 0.3M249.9 514.2l0.1 0.1M332.5 202.0l-0.4 -0.2M448.3 104.7l-0.4 -0.1M255.4 502.5l-0.3 0.4M366.9 414.5l0.3 -0.7M583.5 416.5l0.1 0.0M663.4 446.0l0.5 -0.4M382.7 522.1l-1.1 -0.2M336.8 409.9l0.4 -0.3M309.3 250.4l-0.7 -0.1M260.3 444.5l-0.0 -0.2M629.7 348.5l0.1 -0.1M262.6 521.8l0.6 -1.4M517.9 196.3l0.1 -1.3M425.7 142.0l0.7 -1.1M257.6 429.2l0.7 -1.0M494.2 135.9l-0.1 -0.2M217.3 467.1l-0.1 0.1M528.4 172.5l0.4 0.1M536.8 246.0l0.1 -0.0M506.1 205.7l0.1 0.1M417.4 146.5l-0.0 0.2M238.5 454.8l-0.3 0.0M471.9 217.5l-0.1 -0.1M452.2 99.1l-0.1 -0.0M252.6 497.7l-0.2 0.4M334.7 250.8l-0.8 -0.5M642.4 425.2l0.0 0.6M536.0 461.9l-0.1 -0.1M602.8 336.8l-0.2 0.1M329.6 411.1l-0.5 0.0M349.2 400.4l-0.5 -1.4M381.7 129.3l-0.7 0.1M349.4 512.0l0.1 -1.5M650.0 419.4l0.1 -0.3M489.1 129.2l0.3 0.6M578.9 435.5l0.4 0.1M365.5 119.0l0.4 0.1M444.6 119.2l-0.3 1.3M360.5 416.6l-0.5 -0.9M455.3 125.1l-0.9 0.1M535.1 197.5l0.6 -1.2M556.5 264.1l0.1 -0.3M270.4 527.6l0.5 0.1M348.6 453.1l-0.0 -0.6M477.4 156.5l-0.2 -1.0M327.6 444.4l0.1 -0.1M525.8 185.8l0.1 -1.1M257.2 429.2l0.2 -0.0M364.5 419.3l-0.0 -0.2M430.0 134.8l0.2 0.3M530.1 143.8l0.0 -0.1M675.9 400.7l0.1 -0.3M364.6 193.5l-0.4 -0.0M594.6 352.0l-1.2 0.3M299.4 527.4l0.1 0.1M637.6 418.5l-0.1 0.1M371.7 183.6l0.1 -0.4M535.6 143.5l0.4 0.4M273.3 393.6l-0.9 0.2M584.0 413.1l-0.2 -0.3M525.7 169.6l-0.5 0.5M585.1 390.3l-0.0 0.1M575.7 278.8l1.3 0.5M376.3 138.9l0.2 -0.8M544.2 193.8l0.2 -0.3M322.0 477.3l-0.4 -0.5M692.2 412.9l-0.0 0.6M442.3 206.2l-0.3 -0.9M421.1 124.9l0.2 -0.1M302.5 265.3l-0.5 -1.0M539.9 153.8l1.2 -0.1M563.5 252.0l-0.2 -0.1M572.5 452.7l-0.8 -0.2M505.4 466.1l-1.0 0.1M364.8 165.1l-0.3 -0.3M581.4 404.7l0.5 0.5M362.9 187.2l0.8 -0.3M552.7 249.6l-0.1 0.1M505.5 123.8l-0.3 -0.4M600.0 368.3l-0.0 -0.4M487.9 226.8l0.8 -0.3M505.7 188.3l-0.0 0.1M444.6 123.1l-0.6 -1.0M378.2 524.0l1.5 0.2M347.3 520.3l0.2 0.0M310.0 253.4l1.5 0.4M270.9 534.9l-0.1 0.6M387.6 169.7l1.0 -0.6M608.8 403.6l0.2 0.1M489.5 197.5l-0.3 -0.4M449.4 110.1l-0.4 -1.0M582.7 357.3l-0.1 -0.1M343.3 485.7l0.6 -0.5M277.7 389.7l-0.2 0.4M334.4 519.0l-0.7 0.6M496.8 136.5l1.1 -0.7M501.0 231.6l0.6 -0.1M378.0 445.7l0.0 -0.1M593.5 380.1l-0.2 0.5M307.0 236.7l0.0 -0.1M666.8 437.6l0.9 -0.4M292.3 510.8l0.3 0.4M681.9 399.4l0.1 -0.0M302.5 410.0l0.4 -0.5M426.4 145.3l0.2 0.5M516.0 184.6l1.0 0.6M508.0 101.6l-0.2 0.1M524.3 124.6l0.1 0.1M567.5 268.4l1.2 0.5M354.0 124.4l-0.1 0.1M436.8 109.4l0.2 -0.0M295.6 487.5l0.4 1.4M567.3 273.8l0.6 -0.5M539.0 189.8l1.2 -0.3M647.5 420.0l0.1 0.2M272.7 474.6l0.5 1.4M267.2 389.2l-1.2 0.5M312.5 530.5l-0.2 -0.0M491.7 224.9l0.2 -0.2M333.9 162.4l0.6 -0.1M589.2 423.2l-0.3 -0.9M226.0 450.8l-1.0 -0.0M339.0 475.1l-0.2 0.1M494.9 233.5l0.0 -0.1M272.4 521.0l0.1 0.0M449.3 143.4l-1.0 0.9M535.6 201.6l-0.2 -1.2M321.5 227.8l-0.1 -1.2M347.4 536.5l0.4 -0.5M303.3 387.0l-0.6 -0.1M297.1 413.4l-0.3 0.5M282.2 502.7l0.5 0.1M518.1 472.6l-0.2 -0.5M595.0 383.2l-0.1 1.3M532.8 156.9l-0.9 -0.5M301.3 261.6l0.1 -0.1M246.6 506.9l-0.7 -0.7M525.5 180.4l0.6 0.4M354.5 482.1l0.0 -0.2M328.4 402.9l0.3 0.3M276.6 476.4l0.1 1.5M409.8 108.3l0.7 1.0M643.3 311.3l0.3 0.0M278.8 518.0l0.1 -0.0M272.6 546.1l0.6 0.4M596.5 416.6l0.1 0.8M397.8 131.9l0.1 -0.2M444.9 105.6l0.0 0.4M553.8 456.0l1.0 -1.2M653.2 315.1l0.2 -1.4M552.6 268.0l0.5 -0.9M218.6 467.4l0.3 0.0M317.9 496.2l0.0 -0.1M546.2 473.5l0.1 -0.1M563.1 449.2l0.0 0.9M241.1 495.4l0.7 0.7M575.0 456.6l-0.2 -0.0M395.2 116.6l0.1 0.4M576.1 274.9l-0.1 0.1M526.4 191.4l-0.4 -0.6M411.8 120.1l-0.6 0.5M312.1 533.3l-0.0 -0.2M667.8 385.3l0.3 0.4M676.3 336.7l0.0 -0.2M312.8 238.7l-0.4 0.1M379.6 129.2l0.0 -0.1M325.0 195.8l-1.4 0.4M496.1 183.6l0.2 -0.7M662.9 393.7l0.4 0.6M256.3 537.6l-0.0 -0.3M348.5 225.7l0.0 0.2M322.0 398.3l-0.4 0.6M690.5 403.6l-0.0 -0.1M233.5 505.2l-0.3 -0.1M227.2 500.6l-0.3 0.0M647.2 317.9l0.0 -1.0M637.8 304.0l0.1 0.2M293.0 494.4l-0.1 0.1M688.0 402.2l1.3 -0.7M600.2 301.7l-0.2 0.5M352.1 201.7l-0.1 0.1M529.5 214.5l0.1 0.2M368.4 137.0l0.2 0.4M368.2 129.5l-0.2 -0.4M368.5 157.5l-0.4 0.2M501.7 203.2l-0.1 0.0M323.7 206.1l0.4 -0.5M583.8 425.9l-0.1 -0.3M284.3 513.9l-0.6 0.3M330.0 266.8l-0.1 -0.3M703.5 401.3l0.0 -0.1M584.3 468.9l-0.4 0.3M522.3 235.6l0.7 0.1M383.3 129.4l0.6 -0.5M319.4 200.2l0.2 0.0M276.6 487.2l0.1 0.3M265.1 386.3l-0.1 -0.1M602.0 374.9l-0.5 -0.0M572.5 432.5l0.0 -0.1M246.6 506.9l0.2 -0.0M299.9 493.3l0.6 1.1M263.8 465.6l0.1 -0.1M319.7 223.7l-0.1 -0.1M319.9 232.4l1.2 1.0M632.9 392.2l0.0 0.9M425.1 154.5l0.0 0.1M639.3 415.6l0.2 -0.6M254.4 501.7l0.0 0.1M389.1 163.2l0.1 -1.5M475.8 174.9l0.6 0.1M414.3 102.0l0.4 0.1M638.4 337.3l0.0 0.1M577.5 466.2l-0.0 0.2M324.6 502.0l0.1 -0.2M600.0 348.0l-0.1 0.3M234.6 457.6l-0.2 0.0M644.0 446.5l0.1 -0.0M262.8 419.6l1.3 -0.8M603.6 370.2l-0.2 -1.0M333.3 488.8l0.2 -0.3M579.2 446.5l-0.0 -0.1M273.6 547.6l0.2 -0.4M599.6 364.6l-0.1 -0.0M506.3 216.1l-0.5 0.6M500.1 190.4l-0.1 0.1M451.7 127.2l-0.1 0.0M496.4 470.9l1.5 -0.2M228.8 476.8l-0.8 -0.6M489.1 99.5l-0.3 0.3M657.3 323.8l-0.2 -0.2M669.1 345.6l0.4 -0.1M248.2 441.9l1.0 0.2M492.7 101.6l-0.3 -0.1M258.5 523.8l0.4 0.3M697.6 365.0l-1.1 0.2M692.5 386.8l0.1 0.1M361.1 416.4l0.1 -0.8M339.1 417.0l-0.3 -0.8M487.4 107.0l-1.5 -0.3M669.0 435.4l-1.0 1.1M586.5 421.8l-0.1 -0.2M287.9 268.4l-0.7 -0.9M540.1 186.1l-0.4 0.1M656.4 419.2l-0.4 -0.1M666.2 448.5l0.0 -0.1M357.4 510.2l0.3 -0.0M556.3 461.5l0.3 0.5M222.9 473.2l0.0 -0.1M636.6 399.6l-0.0 -0.1M378.9 161.2l-0.5 -0.2M263.2 392.9l0.4 0.3M273.4 537.0l-0.0 0.2M370.7 429.0l-0.3 0.3M367.1 151.3l-1.1 1.0M276.7 520.6l0.5 0.0M272.2 507.4l0.3 0.9M604.9 313.5l-0.3 -0.1M265.9 381.5l-1.0 -0.1M682.5 385.1l0.4 1.1M250.5 500.6l-0.1 0.2M356.3 453.6l-0.5 -0.1M448.8 122.3l-0.3 -0.4M655.1 412.4l-0.7 -0.1M384.8 137.8l-0.8 0.6M393.0 139.1l-0.1 -0.1M660.8 428.8l0.2 -0.1M519.8 214.5l-0.1 -0.1M228.4 498.5l-0.9 -0.6M518.7 170.9l-0.1 -0.1M381.0 399.3l-0.8 -1.2M409.4 156.1l0.0 -0.1M356.8 152.9l-0.1 0.1M645.8 371.4l-0.2 0.3M313.9 412.3l-0.0 0.7M610.6 337.3l-1.1 -0.1M352.1 479.7l-0.0 -0.1M379.5 435.1l-0.1 0.1M349.5 466.6l0.3 -0.8M605.1 371.5l0.5 -0.0M227.4 522.9l-0.2 -1.0M366.6 443.9l-0.3 -0.8M342.8 387.1l-0.0 -0.1M570.7 437.0l-0.3 0.5M321.3 473.9l0.1 0.1M500.6 185.3l1.1 -1.0M594.7 376.7l0.1 0.2M619.4 306.4l-0.0 -0.3M294.4 398.9l1.0 0.6M390.4 507.4l0.0 0.2M586.5 284.6l0.4 -1.0M247.2 409.5l-0.1 -0.1M245.5 512.8l-0.7 -1.0M649.7 394.4l-0.2 0.7M431.9 153.3l0.2 0.3M295.2 269.7l0.2 0.1M257.7 495.2l0.1 -0.0M318.1 404.3l-0.1 0.5M600.3 370.6l-0.6 1.4M263.1 406.3l-0.7 -0.2M691.9 385.5l-0.1 -0.0M679.4 338.3l0.3 0.2M527.9 161.0l0.3 -0.2M571.7 465.2l0.1 -0.2M575.1 431.5l-0.1 0.1M606.8 336.3l0.1 -0.0M653.3 313.3l0.6 1.0M296.9 533.4l0.3 -0.2M488.7 120.0l0.8 -0.5M366.2 221.6l0.3 -0.4M631.0 362.5l0.3 0.1M250.8 534.1l0.1 0.2M598.1 402.6l-0.7 1.4M257.4 498.3l1.1 -0.6M405.2 162.1l-0.6 0.4M526.9 159.1l0.3 0.4M644.5 445.7l0.5 -0.2M386.6 420.8l0.2 0.1M618.7 333.9l-0.2 -0.1M509.4 191.4l-0.3 -0.6M601.9 366.3l-0.7 1.4M608.9 404.1l0.1 -0.2M301.4 243.4l0.0 0.2M319.7 531.9l0.0 -0.4M446.6 105.4l0.5 -0.5M225.4 509.1l0.2 -0.0M217.3 461.9l-0.1 -0.0M324.8 477.4l0.1 0.1M446.3 136.2l-0.8 0.8M505.2 187.1l-1.0 -1.1M369.0 152.1l0.9 0.8M234.7 482.3l0.4 -0.4M373.6 161.5l-0.1 0.1M331.9 204.3l1.0 -0.8M401.7 120.7l-0.3 -0.3M368.9 144.6l-0.2 -0.1M301.8 528.4l0.1 -0.2M365.5 127.6l-0.0 -0.5M432.1 112.6l0.0 -0.1M417.9 117.6l0.3 0.2M633.6 338.3l-0.1 -0.6M360.0 158.5l-0.2 -1.3M594.5 343.8l-0.2 -0.1M423.6 118.2l0.0 -0.1M527.2 245.2l0.1 -0.1M652.3 310.9l0.7 -0.7M658.9 459.1l-0.1 0.1M487.4 100.2l0.1 -0.1M663.5 378.6l0.5 0.1M256.7 502.7l-0.1 0.1M225.8 461.4l-0.4 0.5M238.5 454.3l-0.1 0.3M322.0 476.2l-0.1 0.1M597.8 426.8l1.0 0.4M653.2 426.9l0.2 0.8M317.3 202.0l0.1 -0.2M596.4 416.8l0.2 0.1M229.7 461.2l0.2 -0.1M330.5 465.7l0.6 0.5M569.9 431.7l-0.1 0.4M490.7 199.9l0.0 0.1M267.5 384.8l-0.4 0.0M356.1 147.6l0.2 -0.1M349.0 511.6l0.1 0.1M271.9 400.0l0.4 0.6M323.9 527.3l0.1 0.6M350.9 449.0l-0.3 0.4M541.6 191.2l0.4 1.5M639.3 337.8l-0.9 0.4M666.1 343.7l-1.1 -0.9M533.6 207.5l0.3 0.0M256.0 404.2l0.6 -1.4M316.9 238.2l-0.0 -0.1M552.7 449.9l-1.2 -0.2M252.5 446.3l-1.1 0.4M409.4 142.5l0.4 0.4M360.2 400.8l-1.2 1.0M270.4 478.5l0.0 0.1M678.4 391.8l-0.3 0.1M368.3 194.5l-0.1 -0.0M333.3 465.5l0.3 1.1M362.1 517.7l-0.4 1.0M403.0 105.8l-0.7 -0.9M283.2 522.6l0.8 0.2M489.5 130.3l0.0 0.1M399.1 153.1l0.4 -0.1M336.4 455.8l0.1 -0.1M607.8 332.8l0.1 -0.3M323.2 198.2l0.5 0.4M337.0 425.0l-0.7 0.4M577.5 427.1l0.1 -0.1M626.2 462.0l-0.3 -0.4M356.3 439.6l-0.5 -0.4M669.3 448.3l0.3 0.7M252.9 424.6l-0.3 0.5M227.5 509.0l-1.0 -0.4M609.9 333.6l0.4 -0.5M392.9 171.6l0.5 -0.4M453.0 109.9l-0.2 -0.2M452.4 128.1l-0.3 1.3M493.4 471.1l0.4 -0.3M570.1 430.3l-0.0 0.1M530.7 146.4l-0.3 -0.1M353.1 126.6l0.8 0.0M336.2 199.3l0.1 -0.1M696.4 396.5l0.1 -1.1M604.6 330.7l-0.3 0.9M255.9 458.8l-0.9 -0.1M670.6 351.0l0.1 -0.1M624.2 376.9l-1.0 0.9M376.0 129.7l-0.2 -1.2M595.4 373.7l-0.1 -0.1M284.5 498.0l-0.0 0.1M339.2 163.8l-1.3 0.2M405.9 125.5l-0.5 0.1M306.8 272.3l1.5 -0.2M644.6 325.1l0.1 0.0M495.7 162.3l0.0 -0.2M261.0 391.6l0.3 0.2M311.3 267.5l1.6 0.0M686.2 423.4l0.6 0.9M300.9 271.3l-0.4 0.0M590.5 428.0l-0.0 0.1M257.4 449.3l-0.5 0.1M358.0 151.9l-0.1 -0.3M329.3 519.7l-0.2 -0.0M515.0 181.3l0.2 0.1M492.2 98.3l0.1 0.0M233.7 460.2l-0.7 0.4M533.9 239.1l-0.2 -0.5M690.6 381.8l-0.2 -0.1M250.8 494.1l-0.5 -1.2M351.3 515.8l-1.2 -0.7M542.9 203.3l-0.0 0.3M613.6 350.8l0.3 0.3M395.9 117.1l-0.0 0.1M354.9 195.8l0.5 1.5M517.7 185.7l-0.4 -0.3M587.9 291.7l-0.1 0.1M448.1 229.4l-0.2 -0.1M408.7 175.3l0.9 -0.9M281.9 270.9l0.1 -0.1M404.4 226.1l0.2 0.1M434.1 123.4l-0.1 -0.1M251.8 485.8l0.0 0.2M346.5 490.7l-1.1 -1.0M626.2 305.7l0.2 -0.3M407.8 115.7l-0.1 -0.0M507.3 211.3l0.3 0.1M220.9 484.5l0.6 -1.1M575.1 463.8l0.0 0.1M276.3 388.7l0.1 -0.1M664.1 360.3l-0.9 -0.2M639.3 309.0l-0.2 1.3M691.8 418.9l1.0 0.1M541.9 184.6l0.7 0.5M492.2 122.4l-0.2 0.0M405.7 149.5l0.2 0.0M342.8 456.1l0.9 -0.2M398.0 141.5l0.4 1.2M302.5 235.2l0.2 -0.1M262.8 401.3l0.0 -0.1M681.4 411.7l-0.3 -1.0M363.1 195.3l-0.1 -0.9M228.6 461.7l-1.1 0.7M315.9 259.8l0.0 0.2M639.2 415.5l-0.2 0.4M361.3 453.1l-0.4 -0.4M377.4 451.6l-0.1 0.1M368.7 445.3l-0.0 -0.1M504.3 238.4l-0.1 -0.5M592.6 376.1l0.0 0.1M417.6 116.2l-0.2 0.2M268.9 392.7l1.3 -0.1M361.7 142.6l0.4 0.2M349.5 528.8l0.2 0.8M380.2 161.3l-1.0 -0.5M636.6 403.1l1.1 -0.0M525.9 188.7l-0.4 0.7M353.2 502.5l1.0 0.8M524.1 141.1l0.7 0.3M508.9 122.1l0.1 -0.0M308.0 538.9l-0.1 -1.4M251.4 505.8l0.1 0.1M499.9 162.4l0.1 -0.0M528.2 171.8l-0.7 1.3M383.4 141.9l-0.1 0.0M467.3 175.3l-0.9 -0.6M290.5 280.2l0.2 -0.7M492.3 101.9l-0.1 0.1M260.3 393.0l-0.9 -0.1M258.9 512.7l0.1 -0.1M464.0 118.4l-0.0 0.2M359.6 422.5l-0.2 0.1M266.4 409.6l-0.3 0.2M606.9 469.2l-0.4 -0.1M528.5 151.2l-0.5 -0.2M430.9 157.7l0.2 -0.2M662.0 324.3l0.4 -0.4M441.4 207.0l-0.1 -0.4M305.1 253.0l-0.4 -0.3M435.5 108.2l-0.5 0.4M344.7 173.4l-0.2 0.0M408.3 127.4l-0.9 -0.4M240.8 503.7l-0.2 -0.1M641.4 396.9l0.9 -1.2M524.7 185.0l-0.1 0.0M502.4 216.7l0.1 0.1M581.9 281.1l0.6 -0.1M245.7 502.5l1.0 0.6M362.7 120.1l-0.4 0.3M261.6 429.3l-1.1 0.1M527.2 236.0l-0.1 -0.3M326.4 251.8l1.1 -0.1M294.0 538.6l0.4 0.6M579.0 438.4l0.0 0.1M624.8 339.3l-0.3 -1.0M276.8 523.3l-0.1 -1.0M247.5 522.9l-0.0 -0.2M369.1 448.8l-0.2 -0.1M225.3 504.9l0.5 -1.0M350.6 495.5l0.7 0.3M293.5 272.6l1.1 -0.1M640.6 378.1l0.8 0.3M438.3 104.5l-0.1 0.1M374.2 160.4l-0.1 -0.1M404.5 185.4l-0.5 0.6M509.4 204.2l-0.1 -0.1M275.9 508.0l0.2 0.2M226.9 511.7l0.4 0.2M224.8 507.4l0.2 -0.1M515.5 213.6l-0.3 -1.3M560.3 266.4l0.4 0.0M681.4 335.0l1.0 -0.2M358.3 155.7l-0.1 -0.1M358.9 188.9l-0.7 0.5M559.5 253.3l-0.3 -0.1M646.9 432.5l-0.3 0.4M351.2 446.6l0.3 0.0M649.4 419.0l0.2 -0.0M434.1 114.6l0.1 0.0M424.8 202.3l0.6 0.5M593.0 378.4l-0.3 0.9M607.1 370.7l-0.4 0.1M375.5 159.9l-0.4 0.1M270.0 383.8l0.5 0.1M644.2 320.9l0.1 -0.3M574.0 471.3l-0.2 -0.1M525.9 150.2l-0.0 -0.2M291.6 539.8l-0.8 0.7M522.6 116.5l0.6 -0.5M355.4 510.1l-0.3 -0.7M354.3 520.9l-0.9 1.0M436.3 100.8l0.8 -0.4M509.1 205.2l0.2 0.1M512.3 226.4l-0.4 0.6M632.6 326.9l-0.7 0.3M296.6 231.3l0.2 -0.1M324.2 511.3l0.0 -0.2M540.6 201.4l-1.2 -0.7M326.1 249.7l0.2 -0.0M513.5 213.0l0.6 -0.7M345.6 489.0l-1.2 -0.3M598.3 380.7l0.9 1.0M304.9 271.1l-1.5 -0.4M373.8 128.3l0.3 -0.4M362.5 517.7l-0.5 -0.2M215.3 477.0l-0.1 -0.2M542.9 195.9l-0.5 -0.3M291.1 411.3l-0.2 -0.2M569.6 432.3l-0.1 -1.2M323.6 395.1l0.1 0.7M642.9 376.8l-0.2 0.1M674.1 390.4l-1.1 -0.2M303.1 414.2l0.0 -0.3M532.4 182.8l0.4 0.2M644.0 416.7l0.2 0.3M641.5 426.6l0.1 -0.1M605.1 335.9l-1.1 0.3M270.6 497.1l-0.1 -0.1M334.3 161.2l-0.4 -0.2M357.1 190.0l0.1 0.2M513.4 185.4l0.1 0.1M310.6 214.4l-0.4 -1.0M640.6 305.9l-0.0 -0.1M275.1 522.1l0.1 0.2M352.1 163.9l-0.7 0.6M243.8 498.3l0.3 0.9M642.6 338.0l0.4 1.0M631.4 414.9l1.5 0.3M388.6 411.6l-0.3 0.0M499.6 477.3l0.5 -0.4M220.4 485.6l-0.2 -0.2M323.8 237.8l-0.2 0.2M572.7 436.1l0.4 -1.0M390.3 143.9l0.0 -0.5M521.2 193.8l0.0 0.1M289.6 525.4l-0.3 -0.1M277.2 284.0l-0.0 0.1M254.9 501.6l0.3 -0.4M287.1 414.9l0.6 0.2M582.0 361.6l-0.3 0.2M420.4 162.3l-0.7 0.3M245.7 522.6l-0.8 1.3M222.1 495.4l-0.2 0.3M645.5 446.3l0.4 -0.2M548.3 249.9l0.3 -0.1M242.7 488.2l0.3 -0.0M631.7 464.7l-1.4 -0.1M590.8 401.1l-0.2 -0.9M346.3 506.3l-0.1 0.0M541.0 155.6l-0.1 -0.0M519.8 186.7l0.1 -0.3M283.9 504.4l-0.3 -0.2M252.1 519.0l0.5 0.8M263.5 492.7l0.0 -0.7M332.9 422.7l0.3 -1.0M232.3 515.2l0.1 0.0M358.4 184.4l0.1 0.3M364.9 133.1l-0.4 0.4M486.1 162.9l0.1 0.1M419.3 150.7l0.2 0.3M452.5 126.3l-0.0 -0.3M565.0 452.3l0.2 0.2M298.0 268.5l-0.1 -0.1M485.9 220.8l0.7 -0.0M294.9 505.8l0.2 0.2M383.4 416.0l-0.9 0.1M279.9 494.1l-1.1 0.8M623.8 471.2l-0.2 -0.3M322.2 521.7l0.0 0.1M265.0 407.7l0.0 0.1M491.6 227.7l0.1 0.1M488.2 234.3l-0.1 0.2M257.9 504.5l-0.3 0.8M264.4 384.8l-0.7 -0.0M687.9 366.2l-0.1 -0.4M361.9 531.5l0.6 0.0M283.6 408.8l-0.5 1.4M501.7 208.9l-0.5 -1.3M357.1 509.6l0.0 -0.5M381.4 130.4l-0.6 0.8M349.5 491.4l-0.0 -0.1M336.6 212.6l-0.8 -0.4M544.1 200.6l-0.8 0.5M333.9 204.5l0.2 -1.1M656.3 320.0l0.0 -1.1M234.5 480.9l0.9 -0.5M324.9 486.8l-0.1 -0.2M654.2 342.6l-1.1 0.6M519.3 192.7l-0.3 1.1M386.0 430.4l0.0 0.4M669.4 339.8l0.1 -0.5M610.7 313.2l-0.7 -0.5M645.9 468.6l0.7 -0.3M337.0 235.2l-0.5 0.6M486.6 222.6l0.0 0.3M421.9 110.2l0.1 0.1M376.9 446.3l0.0 -1.0M610.7 401.3l-0.0 0.1M403.1 173.0l-0.5 -0.0M508.6 99.0l0.4 0.6M354.6 128.7l0.2 0.2M277.8 400.6l-0.1 -0.1M587.9 281.8l0.4 -0.4M589.9 290.8l-0.7 1.4M306.1 387.8l0.1 0.0M283.2 537.3l-1.1 0.6M344.6 196.2l-0.2 -0.1M463.8 161.5l0.0 -0.4M382.3 452.5l-0.2 1.5M354.9 127.2l-1.2 1.0M404.5 140.5l-0.1 0.9M622.1 426.9l-0.1 0.0M382.2 520.8l-0.4 -0.1M512.7 143.6l-0.1 0.0M537.0 144.0l0.2 0.2M497.9 166.0l-0.0 0.3M353.2 247.2l-1.1 0.1M258.6 471.6l-0.1 -0.1M366.2 129.5l0.1 0.1M337.6 162.6l-0.1 0.1M270.1 523.4l-0.4 -0.7M278.0 519.9l-0.1 0.4M592.5 358.1l-0.1 -0.0M419.7 120.9l-0.4 0.0M261.1 538.5l0.6 0.3M637.4 318.1l-0.0 -0.2M483.5 122.9l0.1 0.1M379.9 166.3l-0.1 0.1M256.4 471.2l0.2 0.7M422.9 110.8l0.3 0.2M535.5 189.0l-0.2 0.1M630.7 353.5l-0.6 0.7M491.5 168.9l-0.0 -0.1M648.7 419.3l-0.5 1.0M343.1 534.8l-1.2 -0.5M344.7 519.8l-0.1 -0.1M579.6 406.0l0.2 0.6M333.9 259.4l0.1 -0.6M667.6 448.9l-0.1 0.2M294.7 229.4l0.6 0.7M561.7 449.4l0.1 -0.7M449.7 203.5l0.2 -0.1M217.6 492.2l-0.5 0.6M508.2 229.5l0.5 -1.2M365.7 194.6l0.3 0.2M362.9 165.9l0.4 0.1M454.1 117.2l-0.9 0.2M273.9 390.2l0.0 -0.7M325.3 535.1l-0.2 -0.6M494.6 163.2l0.0 -0.1M241.6 511.6l-0.2 0.6M361.2 425.8l0.8 -0.4M351.4 201.3l0.1 -0.1M360.7 132.1l0.0 -0.3M378.3 132.7l-0.5 -1.0M364.8 160.0l0.4 -0.8M326.8 465.4l-0.1 0.2M450.7 118.4l-0.1 0.1M396.3 130.0l0.2 -0.2M250.5 425.6l-0.3 -0.4M583.6 360.3l0.3 -0.1M296.2 268.1l0.0 0.2M490.7 178.9l-0.1 -0.3M258.4 412.2l-0.6 0.2M633.6 411.3l0.1 0.1M624.1 471.9l0.1 0.0M256.6 504.4l-0.1 -0.5M357.9 126.8l-0.0 -0.4M280.7 397.7l-1.0 0.6M356.8 457.0l-0.1 0.2M657.1 321.5l0.2 -0.5M227.6 511.1l0.5 -1.0M571.0 420.0l0.4 -0.3M271.7 491.6l0.2 1.4M598.2 388.5l-0.7 0.9M525.0 202.1l-0.6 -0.2M658.0 335.8l-0.2 0.1M384.1 169.9l-0.3 -0.8M342.5 483.8l-0.4 0.2M614.3 328.7l-0.7 0.6M311.3 215.1l0.2 0.1M368.2 173.4l0.8 1.2M421.4 149.5l0.1 -0.9M625.0 450.5l-0.5 -0.0M445.4 140.1l-0.1 0.1M326.5 537.6l0.3 -0.6M332.3 485.9l-0.2 -1.2M391.8 161.1l0.8 -1.2M510.3 209.9l-0.4 1.0M535.6 458.5l-0.3 0.2M670.6 323.2l0.1 -0.4M508.7 240.4l-0.0 -0.3M302.1 524.6l0.8 0.9M498.8 146.0l0.3 0.3M345.8 449.5l-0.2 0.2M548.6 252.4l-0.7 -0.2M496.5 471.7l-0.2 0.2M610.7 310.9l0.1 -0.2M247.8 509.7l0.9 0.2M494.6 172.2l-0.1 -0.4M351.1 463.7l0.3 0.4M651.8 372.3l-0.1 -1.1M373.3 427.3l0.7 -0.1M475.8 123.3l0.2 -0.1M656.2 349.0l1.0 0.3M319.3 495.8l-0.2 -0.0M292.8 517.0l-0.5 -1.2M274.9 505.3l0.9 -1.0M550.0 264.6l-0.6 0.7M690.3 397.2l0.0 -0.3M500.0 169.9l-0.1 -0.1M435.2 151.2l0.0 -0.3M675.8 336.3l-0.1 -0.0M367.9 452.6l0.0 0.2M308.2 537.3l-0.1 0.0M633.3 467.6l0.7 -0.5M433.8 122.2l-0.1 0.1M668.2 449.2l0.4 1.2M531.3 136.6l0.0 0.3M453.9 144.0l-0.5 -1.4M367.5 132.9l-0.7 0.1M404.3 163.9l0.6 0.8M636.7 429.4l0.3 1.1M358.1 522.3l0.1 0.6M219.6 464.3l-0.4 -0.4M357.1 159.7l-0.4 0.0M407.8 184.9l0.1 0.5M680.5 379.6l1.2 -0.3M528.2 226.8l0.2 0.0M520.9 193.9l0.2 0.2M253.8 428.1l0.3 1.2M344.0 479.7l0.2 0.7M268.3 390.6l0.1 0.0M349.2 517.9l-0.1 -0.1M576.8 405.3l0.1 -0.1M342.0 468.4l0.4 0.1M259.4 407.1l0.4 1.2M661.3 343.4l0.2 -0.1M337.5 454.5l0.2 0.4M500.5 229.8l-0.3 0.8M316.3 495.9l-0.7 -0.5M396.7 136.3l-0.2 -0.2M388.3 140.2l0.2 0.3M369.7 400.5l0.8 -0.9M532.8 216.4l-0.1 -0.0M503.0 475.4l-0.2 0.1M372.4 424.7l0.8 -0.4M230.4 476.3l-0.1 -0.2M648.5 466.2l-0.1 -0.1M341.6 461.4l-0.0 0.1M339.8 166.5l0.3 -0.1M344.1 499.5l0.8 1.1M390.1 161.5l0.1 -0.6M367.5 160.9l0.2 0.3M575.3 432.3l-0.5 0.3M325.6 228.0l0.0 0.2M319.4 499.7l0.1 -0.0M504.8 200.8l0.2 0.0M676.9 440.1l0.2 -0.4M574.2 449.6l-0.8 0.0M409.8 101.0l0.1 -0.2M656.6 312.9l-1.4 0.6M510.2 177.8l-1.0 0.2M669.4 348.3l-0.1 0.1M692.7 375.8l0.8 -0.1M253.3 481.4l-0.6 -1.3M663.0 352.0l0.4 0.4M645.6 448.9l0.0 -0.1M506.5 186.1l-0.1 0.0M247.0 493.2l0.7 0.6M642.7 469.0l0.0 0.2M331.3 259.7l-0.6 -0.9M423.7 144.2l-0.1 0.1M379.6 175.6l0.1 -0.1M420.1 142.6l0.0 0.9M538.5 212.6l0.1 0.1M474.4 124.5l1.1 0.3M321.2 471.8l-0.2 1.4M253.0 530.9l0.5 -0.2M575.8 462.9l-0.1 0.2M550.2 233.3l-0.6 0.2M581.7 396.8l0.4 0.6M233.0 451.0l0.8 -1.0M629.9 403.8l-0.1 -0.1M348.9 161.5l-0.2 -0.7M571.8 276.3l-0.0 -0.2M394.7 127.4l-0.0 0.2M677.4 369.5l0.1 0.1M546.6 235.7l0.1 -0.1M317.6 404.7l-0.1 -0.1M498.5 236.0l-0.3 0.3M351.6 455.9l-0.0 -0.9M342.7 169.8l-0.1 -0.1M316.6 224.7l-0.3 -0.2M672.2 335.2l0.3 0.1M648.1 453.6l-1.2 -0.8M330.2 210.5l0.0 -0.1M446.3 123.2l1.3 -0.5M491.7 169.8l0.3 0.2M268.0 478.9l-0.2 -0.5M527.5 170.3l0.1 0.3M597.9 332.4l0.4 -0.2M268.6 535.5l-0.2 -0.9M546.5 234.3l-0.0 1.3M510.4 223.4l-0.4 -1.3M528.7 215.0l-0.1 0.1M494.3 129.0l-0.3 -1.5M260.3 469.8l-1.1 0.2M344.7 165.0l0.1 -0.1M273.4 547.3l0.9 0.1M662.3 458.4l0.1 0.1M304.2 275.1l0.2 0.4M268.4 496.7l-0.0 0.4M266.4 394.9l1.4 -0.3M319.5 523.6l0.5 1.2M509.1 144.2l-0.9 -1.3M348.1 449.3l-0.4 -0.8M280.7 405.9l0.2 0.2M617.7 330.7l0.0 0.1M585.9 390.9l0.0 0.8M403.8 155.9l-0.1 -0.1M576.2 440.6l-0.8 1.2M412.3 116.8l0.1 -0.1M258.5 470.3l-0.9 -0.5M251.9 528.9l-0.1 1.2M282.9 409.7l-0.5 0.0M639.7 372.5l-0.3 0.4M258.1 523.4l-0.0 0.1M370.6 426.3l-0.7 -1.4M503.5 99.3l-0.4 0.2M450.3 116.7l0.2 -0.8M568.6 434.1l0.3 -0.2M603.6 326.8l0.0 0.2M500.5 209.0l-0.0 0.2M369.1 151.9l0.7 -1.1M234.6 453.2l-0.3 -0.1M340.3 195.6l0.2 -0.0M346.7 198.8l0.5 -0.3M502.3 202.0l0.1 0.0M356.6 125.8l0.1 -0.1M300.2 541.2l-0.1 -0.1M485.6 227.3l0.1 -0.1M256.5 438.2l1.5 0.6M237.5 478.3l-0.1 1.2M339.2 536.5l-0.1 0.1M340.2 450.8l0.0 0.1M629.4 460.6l-0.8 -0.1M561.1 264.9l0.1 -0.0M486.6 119.4l0.4 1.3M363.4 194.2l0.3 1.0M660.0 427.2l0.0 -0.1M697.3 418.6l0.0 -0.2M243.3 438.7l-1.3 0.4M231.2 518.0l-0.0 0.5M389.0 407.9l0.1 -0.0M460.6 125.4l0.9 0.5M338.6 144.4l0.1 -0.1M543.1 199.3l0.7 0.2M387.2 411.8l0.1 1.1M345.7 440.2l-0.1 0.0M353.8 444.4l0.5 -0.3M601.6 307.3l-0.0 0.1M381.1 401.1l-0.1 0.0M347.5 445.5l-0.5 0.4M642.8 449.3l-0.1 0.1M336.3 398.5l0.0 0.6M352.7 506.1l-0.5 -0.0M305.4 542.2l0.1 0.0M667.0 448.8l-0.1 -0.8M681.3 430.0l0.1 0.9M556.5 447.9l1.2 -0.9M249.8 466.6l0.1 -0.5M254.7 419.8l0.0 0.6M382.4 126.3l-0.6 -0.0M547.1 235.6l0.5 -1.3M621.4 410.9l0.0 -0.3M539.6 207.9l0.1 0.5M595.1 426.1l0.1 -0.1M300.1 399.2l-0.1 0.6M307.7 263.9l-0.2 -0.1M579.8 412.9l0.0 0.5M471.7 180.5l0.2 -0.1M243.7 522.0l-1.2 0.1M533.1 166.2l-0.1 -0.1M262.9 475.5l0.7 0.6M416.1 107.8l-1.0 1.1M368.9 138.9l-0.1 -0.0M653.7 405.8l0.5 -0.9M667.3 436.3l-0.8 -0.5M296.2 402.7l-0.1 0.1M292.1 413.5l-0.1 0.1M491.2 124.9l-0.2 0.0M424.8 117.0l-0.1 0.0M246.2 453.3l0.0 -0.1M644.4 312.0l0.9 1.3M282.3 256.4l1.5 0.3M593.8 432.7l-0.1 0.2M304.6 443.3l0.3 -1.2M265.3 470.5l-0.2 0.1M369.1 513.9l0.3 -1.5M223.7 476.6l0.4 -0.2M318.3 395.6l0.1 -0.0M237.2 496.8l0.7 -0.9M232.1 449.4l-0.3 0.2M533.6 254.4l-0.2 -1.3M240.0 474.4l0.1 0.5M625.3 420.8l-0.1 -0.1M362.7 526.7l-0.2 -0.0M369.8 408.7l0.2 0.2M504.4 196.1l-0.5 0.5M276.8 482.0l-0.2 -0.2M276.0 411.6l0.2 0.0M652.7 332.4l-0.1 -0.1M242.8 500.5l0.2 -0.1M247.5 443.2l-1.1 -0.9M491.0 129.2l0.8 -0.2M232.1 502.9l-1.2 -0.5M513.2 201.0l-0.9 -0.3M457.8 131.1l-1.1 1.0M300.3 491.0l1.0 1.0M668.9 445.4l-0.1 -0.0M592.3 330.9l0.5 -1.0M352.5 450.7l0.4 -0.8M550.6 473.4l-0.1 0.0M341.4 537.2l0.1 0.3M621.5 466.5l-0.1 -0.0M517.8 196.7l-0.1 0.0M698.6 400.5l-0.8 0.2M355.4 446.4l-0.4 -0.0M398.8 203.7l-0.2 -0.0M591.7 350.4l-0.5 0.1M279.3 489.4l0.5 -1.4M279.0 504.2l0.1 -0.3M230.6 482.3l-0.1 1.2M497.7 211.1l0.1 0.0M650.8 411.9l0.6 -0.9M405.6 169.7l-0.3 -0.3M491.8 235.3l-0.1 -0.1M585.2 399.1l0.4 0.4M307.2 541.8l0.3 -0.0M517.2 217.9l-0.1 0.2M301.6 241.3l0.3 0.6M369.0 169.5l0.1 -0.1M577.5 461.5l-0.3 -0.0M323.2 536.8l1.3 -0.4M619.1 362.7l0.7 1.3M657.0 333.8l0.3 0.4M356.9 461.9l-0.1 0.1M337.9 190.9l-0.2 0.6M503.6 193.3l-0.1 0.1M591.2 327.7l0.2 -0.8M578.1 403.0l0.4 0.5M229.3 490.7l0.1 0.5M592.6 401.7l-0.1 -0.0M627.3 465.9l0.7 0.1M635.8 358.1l0.3 -0.3M396.2 138.6l-0.7 0.5M260.6 409.9l0.1 0.6M266.2 472.5l0.6 0.2M615.7 382.9l0.0 0.2M313.3 390.3l0.7 -0.3M329.2 257.4l0.3 -1.1M627.9 374.7l-0.1 0.2M279.8 249.5l-0.2 0.2M249.9 412.3l-0.0 0.1M632.4 463.7l-0.1 -0.0M372.0 136.4l-0.3 -0.0M472.8 156.1l-0.3 -0.2M457.1 146.7l-0.2 0.2M639.1 352.9l0.1 0.1M322.1 232.0l-0.0 -0.2M649.4 452.9l1.5 -0.1M293.8 248.6l0.2 -0.8M348.0 220.6l0.7 0.6M655.0 419.6l0.1 -0.3M572.5 419.8l-0.8 1.3M565.0 452.7l-0.2 1.2M687.4 387.5l0.7 -0.4M293.9 490.0l-0.5 0.6M356.6 185.7l0.3 1.5M387.8 136.2l0.2 0.3M436.0 223.6l-0.1 -0.1M460.4 120.4l-1.1 -0.8M248.5 494.3l-0.1 -0.2M332.9 514.7l0.1 0.0M403.6 151.5l-0.4 -0.1M250.6 437.0l0.1 0.1M572.2 451.9l0.5 -0.4M362.4 195.9l-0.7 0.8M281.9 413.3l0.1 -0.5M601.3 298.0l-0.4 -0.6M295.5 541.7l-0.2 -1.0M301.6 532.2l0.2 -0.1M416.1 199.4l0.0 0.1M417.7 103.8l0.1 0.1M622.1 376.4l-1.4 -0.5M605.8 343.4l0.1 -0.5M590.3 354.6l-1.2 -0.9M384.9 142.0l0.0 0.1M658.2 412.3l0.5 0.7M381.9 161.6l-0.0 -0.2M325.6 533.4l0.6 0.5M495.1 108.9l-0.8 -0.1M703.9 377.7l-0.3 -0.1M330.3 516.2l0.0 -0.7M350.6 483.9l-0.0 0.1M365.0 436.4l0.0 -0.3M283.7 418.9l-0.1 -0.2M354.7 435.3l-0.5 -0.7M464.9 140.2l0.1 -0.1M414.9 107.7l0.0 -0.2M359.4 202.3l-0.1 0.0M500.7 146.9l0.2 -0.2M297.8 224.8l0.1 -0.1M495.6 469.9l0.6 0.3M652.5 341.0l0.5 0.1M375.1 150.7l0.1 -0.4M275.4 498.6l-0.1 0.2M662.8 443.9l0.2 -0.4M264.6 493.2l-0.1 0.0M620.6 310.8l-0.2 0.1M310.6 486.7l-0.4 1.1M443.8 122.6l-0.3 -0.1M434.3 127.5l-0.6 0.9M345.1 195.6l0.1 -0.1M529.8 159.4l0.1 0.1M333.7 205.0l-0.2 -0.2M277.6 516.4l0.8 0.1M643.9 425.5l0.4 0.5M279.6 523.9l0.9 0.2M669.3 347.8l0.1 0.1M434.5 177.6l-0.7 0.9M286.2 500.0l0.3 0.6M430.8 125.6l-0.0 0.1M616.1 467.9l-1.2 0.4M559.4 266.8l0.1 -0.1M292.8 484.3l-0.1 -0.0M623.8 379.0l-0.3 -1.0M689.1 412.5l-0.1 -0.1M255.8 399.3l0.1 -0.1M271.8 388.1l-0.1 -0.1M685.1 376.5l-0.1 0.3M363.2 468.0l0.1 0.1M387.3 410.7l0.2 -0.2M306.4 259.1l-0.3 -0.3M357.1 442.4l-0.4 0.1M480.3 209.1l-0.0 -0.1M469.3 150.6l0.0 -0.1M238.3 511.7l-0.2 0.2M577.0 441.5l-0.7 -0.2M618.8 336.9l-0.1 0.1M218.2 460.3l-0.0 0.1M583.1 441.2l-0.4 -0.2M643.5 442.0l0.4 0.7M333.1 464.6l0.4 0.1M323.4 387.7l-0.3 -0.5M622.3 383.3l-0.0 -0.3M532.0 214.1l0.5 -0.6M250.9 524.3l0.1 -0.1M575.4 443.9l-0.0 -1.1M430.9 219.8l0.1 -0.6M414.7 239.4l-0.6 -0.1M672.5 327.7l0.8 -1.4M660.6 395.4l0.7 0.6M221.7 500.9l0.3 0.5M572.1 434.3l-0.2 -0.2M277.0 281.8l1.2 -0.8M560.4 443.3l1.1 0.3M379.2 130.1l-0.9 0.2M693.1 359.8l0.2 -0.5M428.5 115.5l0.1 0.3M295.6 259.8l-0.5 -1.2M525.1 230.5l0.3 0.1M368.3 193.0l-0.3 0.2M532.7 192.4l-0.7 0.7M345.7 467.4l0.2 0.0M411.6 110.3l0.0 0.1M635.0 344.2l-0.3 -0.2M362.9 176.9l-0.3 -0.5M630.0 339.7l0.1 -0.4M332.4 176.5l0.5 1.2M560.6 443.6l-0.1 0.1M247.7 476.0l0.1 -1.1M283.6 488.9l0.2 0.4M644.1 431.5l-0.0 0.7M502.9 234.1l-0.2 -0.3M425.7 124.0l-1.3 -0.6M634.3 399.4l0.2 -0.7M339.3 535.7l-0.5 0.0M301.1 534.9l0.3 -0.4M666.5 345.5l1.1 -0.6M359.5 529.5l0.1 0.1M358.5 398.4l-0.0 -0.3M645.8 467.1l1.3 -0.4M632.2 427.8l0.1 -0.0M232.9 517.9l0.1 0.2M215.5 471.9l1.2 -0.1M569.1 447.0l0.1 0.1M411.4 110.5l0.3 1.0M362.6 417.1l0.5 -1.1M674.9 328.9l-0.7 0.1M259.1 511.3l0.1 0.5M635.6 452.4l0.0 0.4M226.5 475.3l-0.1 0.1M526.9 144.7l-0.7 0.3M307.4 411.3l-0.0 0.2M372.1 425.9l-0.2 -0.6M223.6 511.7l0.2 -0.6M391.6 410.9l0.7 0.8M683.3 426.2l0.5 -0.4M363.8 174.5l-0.2 0.1M323.6 191.7l0.1 -0.1M453.6 142.2l-0.1 1.4M488.8 477.8l0.3 -0.1M368.0 435.8l-0.3 -0.2M352.0 248.8l-0.3 -0.9M688.5 413.3l-0.1 -0.0M311.5 210.7l-0.1 0.1M629.7 436.7l-0.1 0.2M655.5 352.7l-0.0 0.2M259.4 407.9l-0.1 0.1M523.0 473.9l-0.1 0.1M261.5 526.1l0.9 -1.2M267.5 396.5l0.8 1.2M587.4 412.7l-0.0 -1.5M320.1 192.3l-0.0 0.1M348.7 197.6l0.1 0.0M368.9 153.0l0.4 0.3M250.3 504.6l-0.4 0.4M360.1 523.0l0.8 0.0M335.7 512.1l-0.5 -1.2M591.4 360.4l0.1 0.1M545.3 213.8l0.1 -0.1M226.7 461.0l-1.3 0.3M335.0 456.3l-0.2 -0.9M526.5 207.7l0.4 -0.1M637.5 360.7l1.2 -0.1M685.9 352.1l0.0 -0.1M448.8 140.2l-0.0 0.1M581.3 360.2l-0.3 0.5M646.0 424.7l0.1 -0.1M346.6 167.5l-0.5 -0.7M503.6 232.3l0.2 0.0M525.7 130.8l0.3 -1.0M275.0 496.1l-0.5 0.6M269.6 477.5l0.2 -0.6M583.4 403.7l-1.1 0.7M625.4 347.1l0.7 -0.3M335.6 394.5l-0.1 -0.0M560.3 270.4l-0.0 0.1M510.6 239.4l-0.4 -0.3M492.3 181.4l0.0 -0.1M273.5 537.3l-0.1 -0.1M642.1 350.0l0.2 0.1M432.5 128.1l0.2 -0.1M369.7 420.4l-0.9 1.2M305.6 385.3l0.1 0.1M489.2 100.3l0.5 -1.1M342.8 450.0l-0.1 0.2M597.4 405.3l0.1 0.4M296.3 272.3l-0.9 0.8M557.6 268.3l-0.6 0.1M647.0 374.5l0.8 0.1M307.9 490.0l-0.1 0.6M631.1 359.2l0.1 -0.6M556.8 247.5l-1.1 -0.6M680.2 406.1l0.2 -1.0M526.9 161.9l0.3 -0.6M503.9 170.9l-0.2 -0.2M288.6 490.4l-0.3 0.7M647.8 312.1l0.6 0.0M495.0 113.0l-0.2 -0.4M276.6 505.5l-0.4 0.1M285.7 255.1l1.2 -0.4M372.5 425.7l-0.1 0.1M671.1 355.7l-0.2 -0.1M249.9 448.7l0.0 0.2M510.5 474.1l0.0 0.5M485.5 477.5l0.1 -0.3M248.3 496.2l-0.6 -0.1M356.4 204.1l0.6 -0.5M593.4 396.2l0.2 -0.2M366.4 504.5l0.1 0.7M396.8 134.1l0.3 0.8M350.9 516.9l0.4 0.0M384.6 144.9l-0.5 -1.2M608.1 342.8l0.5 -0.0M260.5 413.5l-0.7 0.6M373.8 236.0l0.5 -0.9M579.0 404.1l1.3 -0.3M680.5 405.6l-0.6 0.4M680.6 437.5l0.3 -0.1M645.1 379.4l-0.1 0.1M696.9 419.3l-0.0 -0.1M397.4 161.7l-0.3 1.0M340.4 208.5l-1.2 1.1M492.4 197.4l-0.2 -0.1M366.4 166.7l-0.4 0.6M679.5 370.1l-0.1 0.0M591.4 283.7l0.2 0.7M303.8 490.2l0.1 0.2M585.8 390.8l0.1 0.2M379.5 133.1l0.4 0.3M481.2 154.8l-0.2 0.5M353.8 457.1l-0.9 -0.8M261.2 468.3l-0.2 -0.1M455.1 132.2l1.1 -0.2M600.0 324.3l-0.0 0.1M585.1 451.8l0.3 -1.1M338.4 485.4l0.8 0.6M323.5 474.0l0.1 -0.7M235.2 502.7l0.6 -0.1M668.0 430.0l0.1 0.2M266.9 497.4l-0.1 -0.7M248.0 465.1l-0.5 1.0M457.8 153.8l0.1 1.1M497.2 159.7l0.0 -0.1M244.7 510.0l-0.1 -0.3M578.0 468.3l-0.6 0.2M492.4 198.7l0.0 -1.2M500.1 100.7l-0.1 -0.9M265.8 384.8l0.0 -0.3M270.8 479.8l0.2 -0.4M591.4 418.2l0.0 -0.2M387.7 422.4l0.1 -0.6M487.8 168.9l-0.0 0.2M397.5 186.2l-0.1 -0.3M366.8 188.3l-1.1 0.2M327.5 530.2l-0.4 0.2M549.6 256.4l-0.4 0.4M655.1 433.9l0.1 -0.2M302.3 388.3l0.6 -0.8M279.6 288.6l-0.2 -0.0M301.9 528.3l-0.3 0.2M320.8 256.2l-1.3 0.8M491.7 202.7l-0.2 0.7M689.2 375.6l-0.1 0.4M240.1 467.0l0.0 0.7M575.9 413.9l1.2 -0.2M530.3 223.8l0.9 -0.7M262.2 494.9l0.2 -0.1M578.0 454.4l0.2 0.1M534.6 209.3l0.2 0.1M313.5 545.2l-0.0 0.2M349.6 499.8l-0.1 -0.1M668.0 328.0l-0.1 0.4M650.3 307.5l-0.3 -0.1M694.0 388.8l-0.2 -1.3M262.9 402.6l0.7 -0.7M378.3 443.5l1.1 0.9M696.9 392.0l-1.1 -0.2M366.2 436.0l-0.1 -0.0M272.8 385.1l0.0 0.1M315.6 234.9l1.2 -0.9M496.0 231.6l0.1 0.2M449.1 100.5l0.0 0.2M277.1 494.3l-0.0 0.4M534.3 234.2l-0.0 -0.5M665.5 348.4l1.4 -0.4M312.7 225.2l0.5 -0.7M623.9 327.6l0.0 -0.4M642.9 421.7l0.4 -0.4M361.6 534.4l-0.1 -0.4M625.5 402.1l-1.1 -0.2M282.4 406.2l-0.1 0.0M648.7 314.2l0.4 0.3M624.5 426.0l0.5 -1.1M478.6 210.0l0.4 -0.5M350.6 504.5l0.4 -0.2M361.2 191.9l0.1 0.1M361.8 188.1l0.3 -0.3M508.5 99.4l-0.8 -0.1M633.1 334.0l0.6 -1.1M617.4 400.2l0.3 0.2M398.5 113.7l-0.9 -0.9M323.1 396.7l0.9 0.2M404.5 124.6l-0.1 -0.0M552.3 265.0l-0.8 0.6M324.6 466.1l0.1 0.1M223.5 512.5l-0.6 -0.0M372.0 232.7l0.1 0.1M353.8 497.6l0.7 -1.3M674.6 439.0l-0.1 -0.3M279.1 400.6l-0.8 0.0M587.2 415.9l1.2 0.2M516.5 192.2l-0.0 0.1M680.5 335.4l0.2 -0.0M528.8 202.6l0.0 -0.1M304.1 384.8l-0.0 -0.1M408.4 123.2l-0.1 -0.3M374.2 156.7l-1.2 -0.3M578.0 404.8l-1.5 0.4M626.5 356.4l0.0 0.1M494.1 105.7l-0.6 0.1M530.9 251.3l0.7 -0.2M435.6 113.9l0.2 1.3M271.9 487.6l-0.1 0.1M554.5 447.2l0.4 1.3M692.6 412.5l-0.8 -0.3M581.2 281.3l-0.4 -0.2M265.4 415.4l-0.5 0.3M510.8 182.3l-0.1 -0.1M499.1 114.5l0.4 -0.5M496.8 469.6l0.1 0.1M687.5 366.2l-0.5 -0.2M343.4 210.5l-0.3 -1.2M600.5 400.3l-0.1 0.1M258.7 406.4l-0.7 0.4M594.0 351.0l-0.2 -0.2M439.3 141.7l0.4 -0.4M299.5 280.2l0.2 -0.4M348.2 419.2l-0.1 1.1M667.3 455.9l0.4 0.3M530.8 137.7l0.2 0.8M631.3 461.8l-0.6 -0.3M349.9 205.5l-0.2 0.5M346.4 461.4l-0.9 -0.5M295.3 535.6l1.2 -0.1M633.6 413.3l1.5 0.4M557.8 449.4l-1.3 -0.6M690.9 376.1l-0.3 -0.0M674.0 351.6l0.3 -0.1M267.9 406.4l-0.7 -1.1M270.9 383.9l-0.1 0.0M389.3 406.9l0.2 -0.9M327.2 463.5l0.0 -0.1M622.4 407.7l0.1 1.0M508.7 475.6l-0.1 0.0M366.3 120.0l-0.9 -1.2M293.1 506.0l0.3 0.5M281.7 286.5l-0.6 0.3M533.3 186.9l0.5 0.0M653.6 415.8l-0.1 0.1M444.8 191.5l-0.6 0.9M510.9 238.4l-0.1 0.0M242.7 510.9l0.0 1.0M350.3 198.2l0.1 0.1M496.9 121.1l1.0 0.6M337.5 486.0l-0.9 -1.0M587.5 393.0l-0.4 0.2M613.8 366.2l0.6 -0.2M346.8 196.2l-1.0 -0.2M396.9 156.5l-0.3 -1.0M567.8 461.3l0.1 -0.3M513.8 145.5l-0.1 1.0M579.4 401.6l0.0 -0.5M303.3 385.9l-0.1 -0.1M387.8 399.4l-0.0 -0.3M615.2 406.2l0.2 0.0M674.7 348.7l-0.8 -0.1M321.0 232.5l0.8 0.9M611.4 378.3l-0.4 0.6M504.7 201.5l-0.3 -0.3M639.2 319.1l0.8 0.2M377.4 448.6l-0.2 0.2M480.8 123.1l-0.1 -0.2M489.6 228.9l-0.4 -1.1M375.8 399.3l1.2 -0.2M338.3 389.2l0.6 0.3M579.3 427.9l-0.1 -0.3M359.4 457.5l0.2 1.4M595.0 406.8l-0.1 0.1M504.2 211.3l-0.9 1.2M353.6 401.7l-0.3 0.0M272.2 532.2l-0.2 -0.0M704.5 399.5l0.5 0.2M333.6 519.3l-0.2 -0.2M299.6 413.3l0.0 -0.1M285.5 514.8l-0.7 -1.2M580.8 440.1l0.2 0.2M415.5 150.6l0.1 -0.1M573.1 428.6l-0.2 -0.2M265.5 386.0l-1.2 0.8M337.4 412.1l-0.6 0.2M356.1 402.2l-1.1 -0.8M676.4 332.4l-0.6 1.2M437.9 107.5l0.2 -0.1M453.2 126.7l0.0 0.2M278.4 270.4l1.5 0.3M352.2 207.0l-1.3 0.4M553.2 246.8l0.2 -1.4M320.8 531.7l0.2 -0.3M352.0 177.9l0.2 0.2M283.7 502.9l0.7 -0.1M536.6 247.9l-0.4 0.0M455.1 132.7l0.2 -0.4M364.0 453.5l1.3 0.8M697.2 418.6l-0.2 -0.3M520.3 165.4l-0.1 -0.4M327.3 467.3l-0.4 0.4M679.0 379.0l-0.1 0.1M534.5 243.0l-1.3 0.7M577.9 462.9l-0.7 -0.4M593.6 358.0l0.0 0.3M312.7 242.5l0.4 1.5M310.8 459.2l0.0 0.1M395.6 130.5l-0.0 -0.1M691.5 387.4l0.1 0.1M573.0 275.4l-0.3 0.1M654.9 448.6l-0.0 0.3M248.6 495.7l0.5 -0.2M522.7 235.8l-1.3 -0.3M377.4 130.7l0.1 -0.1M535.5 166.4l0.1 -0.1M273.4 489.2l-0.3 -0.4M500.7 177.2l-0.2 -0.0M384.6 135.2l0.4 -0.1M421.8 118.7l0.1 0.2M522.2 472.5l0.2 -0.3M654.6 344.5l-1.3 0.9M364.6 407.0l0.3 0.2M361.0 130.0l0.4 1.5M553.8 265.6l-0.3 -0.2M511.5 177.8l-0.2 -0.0M386.3 205.4l-0.4 -0.1M351.3 449.6l-0.2 -0.1M394.3 159.4l1.3 -0.6M501.0 214.2l0.4 0.7M259.5 409.8l-1.4 0.3M313.1 501.2l0.9 -0.4M244.9 513.3l0.3 0.3M631.8 456.0l-0.5 0.7M408.4 153.7l0.6 1.0M299.2 530.0l-0.5 -0.1M261.8 480.6l-0.9 -0.0M387.2 404.0l0.2 -1.2M280.0 400.0l1.3 0.1M408.1 109.6l-0.5 1.2M275.3 414.1l-0.4 0.2M328.2 500.3l-0.5 0.3M447.4 128.8l-0.3 -0.3M581.2 393.2l1.0 -0.2M482.0 148.5l0.0 0.1M568.4 463.6l0.1 -0.3M272.2 389.8l-0.1 -0.2M356.2 205.5l-0.0 0.1M299.6 267.7l-0.8 0.3M492.5 108.5l0.8 1.1M359.0 470.5l0.4 1.4M366.3 447.1l0.2 -0.0M373.1 400.3l-0.0 -0.1M307.8 426.4l0.1 -0.1M383.3 400.7l0.1 -0.0M251.0 476.3l0.7 0.2M361.1 147.4l-0.2 1.1M324.3 240.4l0.0 -0.1M672.9 413.8l0.0 -0.3M468.3 123.4l-1.2 -0.2M489.7 233.6l-0.3 1.3M513.9 186.3l-0.3 -0.2M500.3 188.2l-0.8 1.1M687.0 375.3l1.6 0.2M233.8 487.4l-0.1 -0.1M411.7 108.5l0.8 0.2M356.9 160.9l0.4 -0.1M376.3 222.7l0.3 0.1M588.3 290.4l0.3 0.5M275.0 494.0l-0.2 0.8M539.3 180.9l-0.6 0.4M451.6 128.3l0.7 -0.8M412.2 103.7l-0.4 1.5M306.4 540.4l-0.6 0.9M299.9 491.2l0.5 0.7M502.9 98.8l0.9 -0.1M591.4 401.1l-0.5 -0.4M387.4 198.7l-0.1 -0.1M366.9 165.6l-0.6 -0.7M317.4 242.7l-0.0 0.7M426.3 117.6l0.5 0.2M643.2 406.4l-0.1 0.4M322.8 527.9l-0.1 0.0M331.5 208.3l1.2 -0.3M580.5 469.6l-0.6 1.2M353.7 178.1l0.3 0.6M344.2 188.8l0.3 0.0M315.1 227.6l0.4 0.7M306.9 387.6l0.1 0.1M222.5 500.8l0.1 0.4M611.7 347.3l0.2 0.1M391.5 166.5l0.4 -0.7M362.1 133.2l-0.0 0.1M350.7 171.6l-0.5 0.6M626.1 364.1l-0.8 -0.3M373.1 423.6l0.0 0.1M695.8 365.2l0.6 0.7M616.0 407.4l-0.9 0.1M281.0 250.9l0.1 0.0M512.0 164.5l-0.6 -0.2M487.6 228.6l-0.1 0.0M500.4 123.2l-1.2 0.8M660.5 459.4l-0.1 0.4M629.8 427.7l0.0 0.2M671.1 444.0l0.0 0.1M505.8 240.3l-0.9 -1.0M322.3 509.8l0.1 0.1M358.7 510.7l-1.0 0.6M483.5 131.3l1.3 -0.6M274.0 404.5l0.1 0.6M547.6 154.8l-1.4 -0.6M625.5 411.3l0.1 0.0M366.9 433.7l0.8 0.2M628.4 302.3l-0.6 -0.4M686.0 366.5l-0.2 -0.7M404.0 118.1l-0.5 0.4M288.9 270.2l0.9 0.7M251.0 446.4l0.4 -0.7M631.9 426.5l0.2 0.3M667.1 341.3l-1.5 -0.3M583.0 413.6l-0.2 0.7M334.8 485.8l0.0 0.2M534.3 215.3l0.2 -1.2M272.8 410.2l-1.0 0.7M238.0 523.4l-0.4 -0.8M501.3 191.0l-0.2 1.5M435.5 129.0l1.4 -0.5M299.8 263.3l-0.2 -0.1M404.1 122.8l-0.4 0.2M588.6 402.9l-0.1 -0.0M318.7 389.3l0.2 0.1M257.4 400.1l-1.4 0.2M259.3 523.9l-1.2 0.3M547.2 156.3l0.1 0.8M669.3 345.5l0.1 0.1M323.0 503.3l0.7 1.0M583.6 447.7l0.3 -0.2M325.0 466.7l-1.3 0.3M535.3 191.8l-0.4 0.0M336.3 233.8l0.0 -0.1M309.3 212.0l0.2 0.3M600.0 301.0l-0.2 -0.2M597.3 408.2l0.1 1.3M686.8 347.0l-0.1 -0.1M362.8 189.2l-0.0 0.2M525.1 231.7l-0.1 -0.1M400.1 113.5l-0.2 -0.2M244.9 497.2l0.5 -1.0M403.8 123.4l-1.1 0.7M363.9 169.0l0.1 -1.2M506.7 205.1l-0.1 -0.0M296.3 263.6l-0.1 0.0M299.1 222.1l0.1 0.3M341.0 461.1l-0.8 -0.3M394.0 159.2l0.3 -0.0M484.8 477.8l-0.3 0.1M633.3 340.3l0.8 -0.4M336.8 168.1l0.4 -0.6M401.6 105.9l-0.0 0.5M594.0 423.9l1.1 0.5M310.8 486.9l0.1 0.0M492.6 101.0l-0.3 0.1M248.3 466.0l1.4 0.0M509.0 233.2l-0.1 1.4M279.6 504.0l-0.0 0.9M528.0 181.9l0.0 0.1M365.2 175.4l-0.2 0.2M367.6 414.0l0.0 -0.1M692.4 376.2l0.4 1.3M383.6 426.2l0.1 -0.3M391.1 176.0l-0.2 -0.0M407.3 142.1l0.2 -0.5M585.3 414.0l-1.3 0.6M338.5 218.1l0.1 -0.0M299.3 529.2l0.4 0.1M667.7 335.8l-1.2 -0.8M518.2 230.7l0.6 -0.6M510.2 226.8l0.0 0.2M408.0 123.1l0.1 0.3M337.7 161.6l-0.7 -1.1M346.8 213.8l0.1 -0.4M442.6 123.0l-0.2 0.1M496.8 206.9l0.2 -0.2M539.8 212.3l-0.2 0.5M594.2 333.0l0.5 0.2M582.1 471.7l0.1 -0.3M555.1 252.5l-0.4 1.0M664.4 443.4l-0.2 -0.1M501.0 111.9l0.7 -0.2M522.1 202.7l-1.2 -0.2M442.3 106.4l-0.3 0.3M529.9 244.6l0.0 0.6M394.7 153.4l-0.1 -0.1M591.6 327.1l1.3 0.2M282.0 406.0l-0.1 -0.0M278.0 492.6l0.6 0.5M586.7 397.9l0.4 0.4M504.6 212.1l-0.0 -0.1M536.3 187.9l0.2 -0.3M286.6 503.1l0.9 1.3M528.3 150.7l0.2 0.2M502.0 101.0l-1.1 1.0M674.9 340.2l0.1 -0.3M348.0 397.9l-0.6 -0.0M591.2 381.0l-0.1 0.1M506.7 187.2l-0.5 0.4M670.0 350.8l1.1 -0.5M346.6 497.3l-0.6 -0.2M691.8 392.5l1.2 0.2M529.8 209.1l0.0 0.1M634.4 413.4l0.6 -0.4M623.1 469.6l0.7 -0.3M479.8 106.8l-0.0 -0.1M365.5 194.3l0.6 -0.4M456.6 126.5l-0.8 1.0M253.6 416.7l0.0 0.1M422.4 140.7l-0.4 -0.8M479.7 159.5l0.1 -0.1M375.8 135.2l-0.3 0.1M691.6 379.6l0.1 -0.2M632.1 358.8l-0.1 -0.1M608.3 380.6l0.2 0.0M578.6 411.6l0.3 0.1M334.4 260.5l0.2 0.1M391.5 135.0l0.5 0.4M391.0 157.6l-0.9 0.3M377.0 452.6l0.1 0.4M283.4 481.5l0.6 1.0M380.3 447.5l0.2 -0.0M646.0 427.8l0.5 -0.3M235.5 461.0l-0.1 -0.0M486.0 123.8l-1.1 0.2M230.2 478.9l-0.8 0.2M664.7 446.2l-0.0 0.4M636.3 360.1l-0.7 0.3M565.1 446.4l0.2 -1.1M407.8 101.8l-0.3 -0.0M527.8 170.2l1.4 0.4M600.1 356.5l0.5 -1.4M257.3 507.7l0.6 1.1M265.6 503.2l0.8 0.9M345.1 533.1l-0.3 1.5M274.2 500.9l0.1 0.3M635.7 325.5l0.2 0.1M258.9 415.1l0.4 -0.6M494.9 219.7l1.2 0.5M433.7 123.8l0.1 -0.1M320.3 202.4l-0.1 -0.2M354.9 465.4l0.0 0.1M264.2 397.8l0.1 0.0M455.5 131.5l-1.1 -0.6M678.1 383.7l-0.0 -0.1M219.9 485.9l-1.4 -0.7M221.7 498.1l-0.1 -0.1M334.3 261.5l-0.5 1.4M361.9 524.2l0.0 -0.7M292.7 247.1l-0.9 -0.6M666.4 363.0l-0.2 0.2M563.6 443.8l-0.1 -0.1M604.9 393.3l-0.1 -0.2M639.3 465.2l0.7 -0.4M393.5 158.6l-0.6 -0.0M535.8 243.6l1.0 -0.4M366.7 412.0l0.1 -0.2M491.8 205.0l0.2 1.4M223.2 515.0l-0.2 -0.1M693.0 380.7l-0.9 -0.5M349.8 168.3l0.1 -0.1M497.5 111.2l-0.2 -0.1M361.7 196.1l-0.2 1.1M529.8 144.3l-0.0 0.2M241.9 498.2l0.1 0.1M284.7 510.5l-0.0 -0.4M366.1 138.9l0.1 -0.4M370.2 145.8l1.3 -0.0M356.3 186.6l0.0 -0.4M540.9 212.9l0.1 -0.2M347.1 192.9l-1.6 0.2M523.1 241.7l-0.1 -0.2M375.7 448.9l-0.0 -0.1M666.3 443.4l0.3 0.4M689.0 392.3l0.2 -0.1M466.0 188.3l0.2 0.1M243.1 497.2l-0.1 -0.2M371.0 137.5l0.3 -0.4M377.0 126.1l0.3 0.1M279.0 404.1l0.6 -0.8M287.5 417.9l0.2 0.0M294.6 251.6l0.2 -0.6M520.5 476.2l-0.2 -0.2M364.0 126.8l0.6 -1.0M349.1 497.4l0.1 0.0M623.6 388.6l-0.4 0.8M330.3 501.9l0.1 -0.0M239.6 509.9l-0.7 0.4M237.2 452.2l0.6 -0.2M456.9 128.3l0.1 -0.1M341.6 221.4l-0.1 0.1M482.8 146.2l-0.4 0.2M348.9 468.3l1.0 -0.1M488.0 118.7l0.7 -0.0M632.2 320.3l0.1 0.1M490.6 122.5l-0.5 0.6M603.5 353.4l0.1 -0.1M265.8 381.8l-0.1 1.1M368.0 121.8l0.1 -0.1M556.5 268.9l0.1 0.1M528.8 142.5l0.1 -0.1M251.4 497.3l0.0 -0.3M632.4 347.7l-0.4 -0.3M373.3 180.5l0.3 0.8M359.0 415.0l0.7 -1.1M494.5 99.5l0.3 -0.0M681.1 404.3l0.5 -1.2M662.7 401.5l0.1 -0.1M480.6 131.7l0.2 -0.1M352.0 169.2l-0.3 -0.3M368.0 175.6l0.1 0.1M296.1 520.5l0.2 -0.2M669.4 402.1l-1.0 0.7M259.7 491.7l-1.2 0.6M503.8 226.3l0.4 0.7M453.5 141.1l-1.1 0.3M347.6 193.1l0.1 -0.1M681.8 353.8l-0.1 -0.4M329.0 227.1l0.1 0.1M291.7 416.7l-0.1 -0.0M240.2 518.4l0.1 -0.0M522.5 466.6l0.2 0.6M455.5 216.9l-0.1 0.2M304.7 493.2l0.3 0.9M341.3 537.3l0.1 0.8M620.5 301.0l0.2 -0.0M584.8 417.3l-0.6 1.4M310.7 216.6l0.2 -1.1M491.8 125.1l1.2 0.5M254.2 410.2l0.1 -0.0M489.5 478.1l1.5 0.3M521.9 237.0l0.1 0.2M457.1 134.8l0.5 -0.2M528.1 210.2l-0.1 -0.1M390.9 408.7l-0.5 -0.2M685.8 343.2l-1.0 -1.2M576.1 424.8l0.0 1.3M368.5 418.7l0.1 0.3M606.7 315.5l-0.8 -0.3M300.1 238.6l-0.7 0.5M346.7 499.8l-0.8 0.7M638.4 349.3l-0.1 0.1M636.6 395.9l-1.4 -0.6M356.7 133.5l0.3 -0.7M375.4 428.5l0.1 0.1M648.4 332.6l0.5 -0.0M548.1 257.3l-1.2 -0.3M509.7 214.3l-0.4 0.4M658.8 381.4l0.7 0.4M495.5 132.0l0.2 0.8M374.7 154.6l0.8 0.1M656.7 364.6l-0.5 0.2M625.4 384.0l-0.1 0.0M266.1 519.2l-0.2 0.8M571.2 472.5l-0.1 -0.5M384.9 124.0l-0.6 -1.5M594.7 416.8l0.1 0.2M380.7 132.9l-0.1 -0.4M316.3 474.1l0.4 -0.2M592.1 403.9l-0.1 -0.0M323.9 523.4l0.1 -0.0M534.4 463.0l-0.2 -0.5M382.1 143.8l-0.1 0.1M552.0 248.7l0.1 -0.3M247.0 437.3l0.2 0.6M290.4 268.0l-0.1 0.0M326.4 401.7l0.2 -0.1M362.5 243.2l0.1 0.5M369.5 143.3l0.4 -0.4M314.7 412.1l0.8 1.2M545.3 474.5l0.7 0.2M678.4 342.6l0.1 0.1M337.4 410.3l-0.2 0.3M390.9 406.8l-0.0 0.2M303.5 475.1l0.3 -0.0M600.6 307.8l-0.0 0.1M238.8 521.1l-0.0 -0.1M321.3 234.5l0.1 -0.1M365.8 171.1l0.2 -0.3M501.9 158.7l-0.1 0.2M637.8 316.8l0.6 -0.6M356.0 162.9l-0.8 -1.4M335.2 392.1l0.1 -0.1M381.1 406.5l-0.7 -0.5M328.3 176.0l0.2 -0.1M232.0 500.6l-0.1 -0.1M330.2 521.5l-0.6 0.7M657.5 325.6l-0.6 1.2M419.6 106.3l0.1 -0.5M568.6 437.1l-0.2 0.1M301.9 272.7l-0.9 1.1M235.6 461.1l-0.9 -0.5M349.4 398.5l-0.2 -0.2M271.0 388.8l0.9 0.6M584.2 413.4l0.1 -0.1M354.6 484.8l0.2 -1.1M351.4 478.9l0.3 -0.1M540.0 187.7l0.6 -0.6M356.8 246.9l0.1 1.1M629.3 305.9l0.2 -0.3M628.1 324.6l0.1 -0.2M635.0 410.0l1.4 0.2M627.0 430.1l-0.0 -0.1M491.7 130.4l-0.1 -0.8M246.6 491.4l-0.1 0.3M607.1 384.2l-0.4 0.1M240.9 521.2l-0.1 0.0M652.0 440.5l1.2 0.4M257.1 412.8l1.4 0.4M236.9 513.5l-0.1 -0.2M500.0 188.4l0.3 0.0M525.1 162.6l-0.6 -0.6M674.2 391.7l-0.3 0.3M594.6 367.8l0.1 0.0M664.1 392.8l-0.4 0.8M526.4 233.2l-0.3 0.4M345.1 187.3l0.5 0.3M439.0 105.9l0.1 -1.1M329.1 530.3l-1.1 0.1M636.9 395.0l0.0 -0.1M645.0 329.6l-0.7 0.7M360.5 403.1l-0.8 -1.0M282.8 500.4l-0.7 -1.1M342.5 467.4l0.2 0.5M672.9 444.7l0.1 -0.1M245.9 466.0l-0.0 -0.2M377.9 523.4l0.0 0.2M502.0 206.8l-0.9 -0.8M350.2 413.8l0.1 -0.1M316.8 275.6l0.9 0.3M250.7 535.9l0.2 -0.2M579.8 436.3l-0.3 0.6M276.8 547.0l0.1 0.0M671.3 428.3l0.3 -1.0M502.6 475.8l0.0 0.1M335.1 478.1l0.2 -0.3M244.9 486.5l0.1 1.0M350.0 497.7l0.1 0.8M373.1 428.7l0.6 0.3M406.2 112.4l1.2 0.2M371.3 132.7l1.1 -1.0M245.2 462.1l0.1 -0.3M601.1 314.6l0.7 1.0M517.3 197.3l-0.2 0.0M551.9 243.2l0.5 -0.6M661.1 444.4l-0.3 -0.5M513.8 237.9l-0.6 0.2M350.1 462.4l-0.1 0.1M557.0 451.9l-0.1 0.3M690.2 412.7l0.7 -0.3M371.4 417.9l-0.1 -0.0M652.2 454.7l0.0 -0.1M379.9 449.0l0.8 -0.1M243.3 523.6l0.2 0.5M320.1 275.9l0.1 -0.1M596.0 385.8l-0.5 0.7M401.4 184.8l-0.9 0.8M345.8 221.8l1.0 -0.8M673.5 444.6l0.3 -0.9M628.3 304.9l-0.8 0.3M336.1 472.7l0.1 0.0M530.9 160.6l-0.5 0.4M362.3 191.3l-1.5 -0.4M296.3 267.1l-0.7 -0.3M274.4 522.0l-0.3 -0.8M351.7 161.2l-0.0 0.1M303.7 533.5l-0.5 1.2M243.3 448.6l-0.1 0.2M339.1 474.5l-0.1 0.1M533.3 163.4l0.1 0.0M356.2 440.5l-0.2 0.1M344.7 483.4l-0.2 -0.2M454.4 105.4l0.1 -0.3M674.9 384.2l-0.0 -0.3M535.5 142.7l-0.1 -0.1M428.2 123.6l-0.1 0.0M457.9 119.7l-0.0 -0.1M309.7 238.2l-1.1 0.3M401.8 103.7l-0.3 -0.2M356.8 153.0l0.1 -0.1M511.9 204.1l1.3 0.2M598.0 387.5l-1.0 1.1M295.2 228.6l0.5 0.6M662.9 344.6l0.1 -0.0M516.3 180.8l-0.9 0.8M624.7 382.3l-0.2 0.2M501.7 160.2l-0.5 -0.6M319.7 193.9l0.0 0.6M263.9 468.5l0.1 -0.1M360.5 142.7l1.5 -0.4M511.4 479.9l0.2 -0.0M305.4 381.3l0.1 0.7M457.6 142.5l-0.2 -0.1M505.4 242.4l-0.1 -0.1M665.5 390.3l-0.3 0.0M335.6 209.5l0.4 0.3M292.7 281.5l-0.1 0.3M225.3 478.3l0.5 -1.0M646.2 463.4l-0.1 0.1M251.6 425.0l0.0 0.1M503.8 115.3l-0.4 -1.0M230.1 450.7l-0.2 -0.2M353.7 179.3l0.1 -0.1M490.9 218.6l-0.3 1.3M261.8 520.4l1.2 -0.2M260.7 417.2l-0.0 -0.2M566.0 449.6l-0.6 0.7M224.7 498.0l-0.6 -0.0M497.8 468.4l-0.1 0.1M596.5 374.5l0.2 -0.0M333.8 410.4l-0.1 -0.1M403.5 156.4l-1.2 0.8M266.6 484.4l-0.4 -0.6M341.7 416.2l-0.4 0.1M302.2 541.8l0.1 0.0M531.3 217.3l0.0 0.3M469.3 121.1l0.8 -0.5M370.6 411.7l-0.6 -0.1M504.1 169.7l1.2 -0.0M370.9 123.7l0.1 -0.1M453.4 113.2l0.2 0.1M519.6 171.7l0.1 -0.0M503.0 115.1l0.1 0.6M433.9 128.0l-0.1 -0.0M486.5 118.3l0.1 0.1M394.1 153.4l-0.4 -0.2M351.8 521.5l0.1 -0.0M215.7 468.0l0.1 -0.1M545.5 253.1l-1.0 0.3M622.7 301.7l-0.9 0.0M371.0 131.5l0.1 0.1M302.1 393.3l0.1 -0.1M350.3 217.7l0.2 1.5M651.3 439.2l-0.1 -0.0M368.3 450.5l-0.1 -0.1M247.7 506.2l-0.7 -0.3M332.3 500.1l-0.2 0.9M230.0 474.8l0.2 -0.7M480.4 182.1l-0.0 -0.2M361.5 155.9l-0.1 -0.1M482.3 188.3l1.4 -0.3M343.0 413.5l-0.1 0.1M385.3 138.9l-0.2 0.0M356.3 148.6l-0.0 0.2M225.7 486.7l0.1 -0.1M326.9 213.2l0.0 -0.1M526.8 208.9l-0.1 0.1M498.9 157.5l-0.2 -0.2M523.7 170.0l0.1 0.1M336.0 485.1l-0.1 0.9M323.7 250.8l0.1 -0.4M508.9 480.7l-0.2 -0.3M282.7 541.2l-0.3 0.1M284.3 406.1l-0.0 0.4M278.6 406.5l0.2 -0.8M513.0 162.8l1.5 -0.1M696.5 419.2l0.0 -0.1M631.0 429.1l0.1 0.7M572.3 445.6l0.1 -0.2M593.6 376.7l0.6 0.4M330.4 464.5l-0.5 -0.4M478.5 172.7l-0.2 -0.1M481.0 156.6l-1.4 0.8M625.0 468.5l-1.2 -0.5M269.4 488.6l0.5 1.3M622.5 375.5l-1.3 0.2M677.9 405.0l-0.9 0.1M273.0 531.4l-0.1 0.1M630.6 396.4l-0.3 -0.3M647.3 465.6l0.2 0.7M492.9 237.1l-0.2 0.4M301.9 233.7l0.5 0.5M341.6 220.1l0.2 -0.3M585.6 466.5l0.2 -0.1M358.0 187.7l-0.2 -0.0M680.7 438.4l-0.6 -0.0M246.4 503.2l-0.3 1.3M632.3 376.8l0.1 -0.3M679.8 332.6l0.1 -0.0M333.0 230.7l-0.4 0.1M548.2 455.2l-0.3 1.0M567.8 270.7l0.1 -0.1M273.8 392.2l-1.5 0.5M277.6 273.0l1.1 -0.8M522.6 238.6l-0.1 0.1M687.5 423.6l0.0 0.1M554.4 464.3l-0.1 -0.1M324.1 172.9l0.1 -1.3M504.2 473.1l-0.1 -0.1M273.9 494.8l-1.6 -0.3M364.5 122.6l-0.0 -0.7M596.0 377.1l-0.0 0.2M325.1 410.2l-0.4 -0.1M359.3 163.3l0.4 -0.3M444.0 109.7l0.7 -0.6M482.2 115.2l1.2 0.7M388.0 230.2l0.2 -0.9M598.8 393.6l-0.7 1.4M454.1 143.9l0.3 -0.6M642.1 363.0l0.1 -0.1M246.5 445.0l0.2 -0.0M476.9 155.9l-0.5 1.2M452.3 124.2l0.9 -0.1M629.2 394.2l0.8 0.4M629.6 470.5l0.8 0.2M497.8 143.8l0.1 -0.0M263.1 390.9l-0.2 -0.0M632.6 347.5l0.5 1.2M265.5 526.9l0.5 -0.6M269.6 384.8l1.0 -0.9M578.6 425.9l-0.9 0.8M622.3 330.0l-0.4 0.4M498.4 468.9l1.2 0.6M484.5 477.6l-0.4 -0.4M663.4 432.6l0.1 0.3M691.5 361.4l0.5 -0.4M316.1 223.6l-0.5 1.1M359.8 524.8l0.1 0.2M557.9 457.6l-0.2 -0.6M667.3 336.4l1.0 0.3M357.6 148.7l-0.1 0.2M506.8 116.6l-0.0 0.6M675.3 385.6l-1.0 -0.1M587.4 403.1l0.3 -0.3M520.7 150.8l1.0 0.7M359.0 459.1l-1.4 -0.5M400.2 139.6l-0.0 -0.6M437.4 116.4l-0.1 -0.4M230.6 477.4l-0.1 -0.1M306.8 254.4l-1.2 -1.0M442.7 216.7l-0.3 0.1M340.5 473.9l-0.2 -0.6M387.9 170.0l0.3 0.6M597.4 403.9l-0.1 -0.1M383.9 130.3l1.0 0.3M680.6 337.9l-0.2 0.0M663.7 447.0l-0.6 -0.0M625.6 457.6l-0.1 -0.1M664.7 438.4l0.1 0.2M274.6 482.9l-1.2 -0.2M221.3 466.8l-0.2 -0.1M325.4 546.9l1.0 0.5M527.5 241.6l-0.2 0.3M302.9 250.8l0.8 0.0M320.1 497.8l0.4 -1.0M585.3 447.3l0.1 0.1M386.2 235.0l0.1 -0.3M332.0 516.4l0.5 0.1M390.7 138.2l-0.9 0.3M641.5 400.4l-0.8 -0.6M568.2 445.3l0.6 0.6M482.1 147.5l-0.5 0.1M519.7 199.8l-0.9 0.5M643.7 306.7l0.2 -0.0M275.0 404.1l-0.1 0.1M583.5 360.9l-0.3 0.3M513.2 235.3l0.8 -0.7M221.5 464.2l-0.7 1.3M507.4 221.8l0.0 -0.1M375.5 179.3l0.2 0.2M296.1 397.8l0.6 0.9M358.6 161.2l-1.5 -0.4M437.6 104.6l-1.5 -0.2M643.0 459.8l-0.1 -0.0M701.2 401.6l0.1 -0.2M303.8 388.4l0.2 1.1M686.7 415.6l0.3 -0.0M294.9 260.4l0.1 0.4M668.0 454.0l-0.8 0.9M256.4 461.5l-0.3 0.9M250.5 513.9l0.7 0.9M338.8 186.4l-0.0 -0.1M447.4 208.3l-1.2 0.4M334.0 393.3l0.2 -0.3M543.9 254.2l0.1 -0.2M343.0 194.6l0.6 0.4M564.5 269.0l-0.0 0.5M609.4 363.1l-0.4 0.1M253.9 413.1l-0.2 0.4M301.0 259.8l-0.1 -0.1M526.7 241.3l-0.1 -0.0M335.9 419.5l1.0 -0.5M295.5 520.1l-0.6 1.1M282.3 407.0l-0.3 -0.3M665.0 416.7l-0.1 0.2M252.3 502.3l0.5 1.2M263.3 417.8l0.4 1.2M284.9 258.7l0.3 -0.2M442.5 218.0l0.5 0.2M548.7 251.7l-0.3 -1.4M285.6 421.4l0.7 0.1M288.4 274.2l0.2 -0.4M447.1 191.1l-0.5 0.9M641.8 324.0l-1.0 0.4M491.9 125.0l0.1 -0.2M365.5 145.6l-0.2 0.3M677.9 334.5l0.6 -0.0M327.0 209.4l0.1 0.1M274.4 500.8l-0.0 -0.1M284.4 254.7l-0.3 0.3M296.2 396.3l-0.7 0.0M508.6 143.9l-0.4 -0.2M534.4 231.3l0.9 -0.5M356.9 448.6l0.6 0.1M437.2 101.4l0.1 0.1M668.1 365.6l-0.0 -0.6M452.0 116.6l-0.3 -0.0M328.2 478.9l0.5 0.3M518.8 233.6l-0.0 -0.1M618.3 315.4l0.9 -0.3M281.5 485.4l-0.4 -0.7M341.3 412.5l0.4 0.5M321.4 509.2l0.0 -0.1M252.4 441.9l0.1 0.1M363.2 167.3l0.1 -0.1M388.2 124.0l0.3 1.5M624.3 335.6l-0.2 -0.2M680.2 336.1l0.5 0.4M685.8 368.2l-0.4 0.2M384.5 422.7l0.1 -0.2M520.3 475.2l1.2 0.4M694.0 407.1l-0.1 -0.2M324.9 231.1l0.0 0.4M383.1 122.7l0.1 0.1M596.7 380.8l-0.8 -0.4M477.1 137.1l-0.2 0.0M251.5 535.7l0.1 0.0M368.3 178.1l0.1 0.1M376.9 448.4l0.2 -0.1M634.6 325.8l-0.2 -0.1M335.9 179.8l-1.2 0.2M459.2 118.1l0.2 -0.7M439.6 110.4l-0.2 0.1M345.9 445.8l-0.0 -0.2M508.2 100.7l-0.2 0.0M537.2 198.8l0.5 0.2M553.1 462.7l-0.0 0.3M589.8 357.2l0.0 0.1M277.8 283.4l-0.5 0.1M274.7 518.8l0.5 0.4M355.6 402.6l-0.4 -0.0M347.1 194.8l-0.2 0.4M308.2 484.7l-0.7 1.4M481.4 103.2l0.8 0.3M250.5 505.7l-0.0 -0.1M494.3 110.2l-0.8 -0.3M269.5 494.9l0.1 -0.7M646.4 388.6l1.2 -0.7M438.4 111.7l-0.0 0.1M257.2 404.9l0.7 -0.6M591.8 402.4l0.7 -0.1M285.2 266.7l-0.4 -0.0M365.9 503.0l0.1 0.1M506.7 140.0l0.0 -0.2M245.7 522.7l-0.1 0.9M419.0 148.4l0.1 0.2M527.1 140.9l0.8 0.7M497.3 237.8l0.1 0.3M332.1 224.4l0.4 -1.0M223.1 456.7l-0.4 0.1M675.7 439.1l-0.1 0.1M638.4 335.6l0.2 0.2M418.4 107.3l0.0 -0.1M424.8 118.8l0.5 -0.4M383.0 122.6l0.0 0.1M504.6 209.1l0.6 0.4M267.3 523.5l0.6 -0.7M404.2 226.3l-0.1 0.0M502.9 465.8l-0.2 0.9M299.3 528.3l0.0 0.1M606.1 330.9l0.0 0.2M547.3 476.9l-1.5 -0.3M367.9 451.5l0.1 -0.2M311.3 254.7l0.9 -1.0M527.6 247.0l-0.1 0.0M314.0 489.9l0.6 -0.0M638.9 357.6l-0.6 -0.9M227.5 499.7l-0.0 -0.2M615.7 335.0l-0.1 -0.4M632.8 382.7l-0.1 -0.1M318.4 515.1l0.1 0.1M501.5 102.5l-0.1 -0.1M624.6 389.6l0.3 -1.3M516.8 168.7l-0.5 -0.3M272.7 515.5l-0.1 -0.0M328.0 207.6l-0.2 0.1M526.5 206.4l0.2 -0.2M581.9 284.1l-0.1 -0.0M602.4 356.2l0.1 0.0M345.4 219.3l-0.2 0.3M324.8 240.4l0.4 -0.3M365.5 514.7l0.2 -0.2M218.8 481.9l-0.1 -0.1M224.5 505.4l-1.1 0.7M314.2 409.7l0.2 0.2M638.1 371.2l0.1 -0.6M248.2 424.5l-0.1 0.1M437.1 102.3l0.7 -0.7M412.5 108.8l-1.0 -0.5M332.5 437.4l-0.7 -1.0M485.8 183.5l-0.2 -0.6M368.9 151.7l0.6 -0.2M620.4 351.7l-0.1 -0.3M501.9 146.3l0.1 -0.0M348.7 466.9l0.1 0.4M296.2 537.4l0.4 -0.7M220.0 456.9l0.5 0.5M248.0 430.6l-0.1 0.3M338.1 417.0l0.2 -0.0M231.8 480.4l0.2 0.0M654.1 399.4l-0.0 0.6M495.0 180.2l0.2 -0.7M657.6 416.5l0.0 0.1M447.3 118.8l0.0 0.1M448.6 121.3l-0.0 -0.1M343.9 498.4l-0.0 -0.2M316.6 524.7l-0.7 0.6M502.1 239.0l1.5 -0.0M343.4 186.5l1.1 -0.4M360.3 156.7l-0.8 -0.2M604.9 375.9l-0.1 0.1M345.9 412.6l0.2 0.2M430.5 208.3l0.1 -0.2M338.6 470.3l0.2 0.5M371.8 121.4l0.9 -1.1M616.8 375.0l-0.4 0.4M452.7 101.8l-0.3 0.5M297.2 415.1l1.3 -0.5M347.7 496.5l-0.7 -0.8M510.6 164.8l-0.4 -0.8M493.4 227.1l-0.2 0.6M286.1 524.8l-0.2 0.7M271.6 526.1l0.8 -0.4M527.2 148.4l-0.7 -0.4M509.3 214.4l-0.2 -0.1M229.6 519.3l-0.6 -0.3M340.5 455.7l-0.1 0.1M274.4 509.4l0.9 -1.0M233.7 481.6l-0.0 0.3M666.3 348.2l-0.1 0.0M666.2 329.4l-0.4 0.4M490.9 125.1l-1.3 -0.6M591.6 418.0l-0.6 0.3M389.9 400.2l0.1 1.0M664.3 399.4l-0.6 0.9M289.5 518.0l0.3 0.5M359.9 451.1l0.1 -0.1M646.2 424.6l0.2 0.0M506.3 115.0l-0.3 -0.5M443.3 125.5l0.2 -0.6M252.9 532.7l-0.5 -0.5M250.7 499.9l-0.1 -0.1M353.3 424.2l-0.1 -0.0M483.6 139.9l0.1 -0.1M593.8 417.2l0.7 0.2M650.8 447.9l0.1 -0.1M335.3 214.4l-0.1 -1.0M666.2 444.4l0.3 -0.5M339.4 468.6l-0.1 -0.8M514.6 474.7l0.1 -0.5M339.3 234.6l-0.1 -0.4M486.2 144.0l-0.6 -0.3M216.3 486.2l1.4 -0.8M543.1 258.3l0.0 0.2M608.1 390.1l-0.5 -0.9M431.9 111.4l0.2 0.1M375.0 451.7l-0.5 1.3M491.0 134.3l-0.1 -0.0M623.5 343.8l-0.0 0.1M508.2 468.6l1.3 0.5M360.4 188.5l0.3 -0.3M265.1 536.2l0.2 0.3M536.9 180.7l1.4 -0.3M423.6 125.1l0.0 0.3M253.5 532.2l-0.1 0.0M245.6 509.8l-0.9 -0.1M666.7 334.3l0.0 -0.4M297.2 543.8l0.2 -0.5M302.8 531.0l-0.4 0.1M475.8 151.2l-0.5 1.0M361.5 197.1l1.3 0.3M606.4 385.3l0.0 0.1M397.3 138.7l-0.4 0.1M669.0 436.8l-0.4 -0.4M309.5 246.2l0.1 -0.3M255.0 473.6l-0.0 0.4M455.3 105.6l0.0 0.1M511.0 192.4l-0.3 -0.2M474.3 150.8l-0.1 0.0M265.6 479.7l0.8 -0.0M417.7 103.2l1.2 -0.5M334.7 521.5l-0.8 1.0M576.8 423.6l0.8 0.3M515.0 238.1l-1.0 0.1M342.7 487.7l0.2 0.1M578.6 284.0l0.9 0.0M359.3 433.1l-0.5 0.1M313.9 542.5l0.5 -1.3" fill="none" stroke="#fff" stroke-width="1.05" stroke-linecap="round"/>
<path d="M470 109l11-6l-27-17l14-13l7 13l13-7l19 8l8 2M721 391l6 4l-19 0l-4 3l21 0l-26-24l-1-4l8 1M269 554l-18 2l24-13l6-8l0-8l17-7l5 8l-13 0M326 215l-6 0l-7 4l8 15l10-29l-8 7l21 22M513 166l26 8l8 7l4 14l-4 6l-1 4l10 8l-10-10M439 64l3-5l-7 4l4 10l1 11l7 0l10-18l-4-3M723 370l-5 1l5-23l-7 11l-14 11l-11 1l5-5l-24 4M316 190l-12 7l7-16l28-2l-9 5l30 4l-17 14M353 505l7-11M343 471l8-14l11-12l13-8l-7 1l-23-9M693 398l-5-4M684 377l10-15M566 269l-4 15l-2-14l19 15M220 506l-4-3l-12-10l14-15l-2 1l-8 2l3 0l6 0M370 446l5-19l6 19l2-16M361 419l-13-6l10 2l4 13M416 135l13-8l-5 0l-8-13l-17-6l4-12l-11 6l-9 1M260 298l-18 4l-9 0l20-3l2 23M546 459l-3-3l17-22M553 440l14 2l16 18l8 0M693 397l3-7l-7-4l5-4l23 7l-4 3l4-15l9 13M346 451l-9 2M313 471l19-10l-3-3M268 484l8 31l14 1M266 522l10 14M717 333l0 9l-2-5l1 1l-22-18l-12 22l19 12l-14 15M557 143l7-3l-12-11l-1-3l-6-10l9 2l3 6l-19 11M319 161l5 4l9-2l-4 11l5-18l-16 3l15-17l6 15M595 375l-16 10M594 375l-6 9M312 556l-8 1l-2 12l-14 24l-8-22l-13 1l-17-2l13-3M363 550l-3 3l8-7l-18-5l11-13l-12 2l1-10M393 143l5-2l4-5l20-32l0-7l7 3l-10 38l1-2M227 476l2-3M309 230l-5-2l0 1l11-3l0 1l11-13l5 2l-4 10M347 511l7-7l15-3l21 8l1-3l15-16M278 529l-6 0l-4 18l-4 1l10 2l7-3l17-14l8-10M690 355l-10-19l-11 18M385 434l2 10l-13-1l-2 1l-11 6M441 115l3-3M450 123l-23-12l11 3l3 3l3 6l29 4M516 116l2 23l2 11l16 12l12-2l3 4l-5 5l-11-4M543 166l1-4l-3 2l-9-10l-10 23l4 3l-15 3l14 0M246 434l16 5M340 494l-5 19l3 9l0-6l-4-17l-18-5l-8-10l1-7M252 517l6-4M243 510l-20-8l6 11M246 525l13-5l23 17M591 443l3-14M572 434l-7 9l11 6M285 542l-13 7l7-29l2 0l1 11l11 0l4 8M373 110l3 11l8 3M379 124l0-6l-13 13l-8-13M589 419l2 19l11-21M312 406l6 6M299 418l-3-8l-30-4M498 108l-12 10l2 2l-23 29M503 110l-1 6l-4-2l-5 10l15 14l-6 8l-9 3l20 10M555 269l-5 0M531 254l-13-21l1-5M543 146l-10-1l-4-3l5 11l3-7l-9-21l-1-7l1 9M320 178l-1 7l6 12l-2-15l17-12l-10 2l-1 14l10-1M223 481l4-4l5 22M235 501l25 23l8-14M342 176l-1 23l3-25l3-10M355 177l-5 14l-17 20l-10 28M714 381l-4-15l2-3l14 3l11 7l-7-7l-13-4l-12-14M211 481l-15-16l-8 13l-5-14l15 14l-3 9l6 2l5 11M515 222l2-12l13 10l9-11l-4 17l6 40M368 532l-6-3l-21 11l-3 0l-17 0l3-23l12-1l0-3M455 114l-13-11l-24-3l-2 8l-13-7l6 14l-1 3l-18 11M611 277l-7 5l19 13l-22 17l0-2l0-12l2 4l13 2M548 477l9 6l-6-7l-19 4l-21-1l6-4l12-2l4-3M212 492l-4 5l-9-7l-15-3l11 10l15-5l-10 0l5-8M350 146l15-4l3-1l19 2l-15 6l-13 18M328 228l-5 15M527 170l7 16l-12-11l-6-12l8-2l16 5l4-7l-6 12M692 435l4 3l-20-2l-22 10l6 20l-6 1l-9-22M517 478l1 0l-15 5l-9-13M482 470l16 11l9-13M594 330l-12 9M587 477l-4-1l22-3l10-10M606 456l-18-16M291 560l-8-4l14-19M274 518l15 5l-15-16M357 495l7 10l-7 8l3-2l-2 7M206 412l0 10l2 2l-11-10l-8-3l8-4l-12 1l5 5M221 371l11-14l11-21l-15 23l4-9l18-18M367 440l-5 26l-12 10M523 138l0-10l-17-4l7-15l4 9l-3 26l-1-7l2-6M219 500l6-4l3-13l18-7M243 488l-23 17l1-3l-10 8M222 506l-5 0l16-17M249 517l-2 3l5 3M277 556l4-3l9-10l-4-10l-6 14l1-22M259 536l-17 8l-8 6l-7 5l6-8l9 17l-25 1l-17-4M384 473l-11-22l-5 14M351 481l9 29l-7-9l8 18M306 524l-3-1l6 19l-2 15l-25-1l9-3l-9 0l31-4M403 98l-7 19l11 10l-14-6l-3 5l-14-1l6 22l0-7M428 535l-4-1l-2 11l-13-3l-5 6l7 9l1-12l-9-8M529 246l-12 1l5-1l-1 12M506 122l7-20l7 6l23 8l-4 5l-3-15l-21 2l13 3M541 472l-26-5l6 13l-15 9l9 11l-13 2l13 6l-3 6M322 185l2 7l-5 0l2 1l9-3l-5-14l-2-9l11 0M303 229l28-5l-6 2l-5-17l17-1M325 227l-15 2M344 141l4-11l4-10l-2 6l-6 19l-5 4l4 3l5 3M313 484l-15-23M316 465l1 15l16-10M294 388l-5-13l-13 15l19-20M278 382l-14 0l-3-2l14 5M312 555l-3-25l-16 2l10-5l9 13l-6-8l9 4l-1-8M566 511l-5-12l-22 6l9 2l-18 2l2-3l8-14l6 2M547 150l-6-12l-8-7l-10 6l-10-2l7-8l-16 0l-13 4M259 378l-9-22l-11-23l-8 15l-14 3l6-14l6 12l-13 3M284 271l-7 18l11-7l9-2l5 0M515 179l-11-15M488 143l12 11l7 6l28 13M252 587l4-30l1-19l-10 8l3-7l-8-4l6-3l2-5M661 317l0 14l1-11l-16-19l-6 11M620 332l-13-23l9 9M299 491l-1 29l0-4l8-11M344 474l-6-9M375 395l4 5l-15-6M370 396l3 11l5-16M215 552l-13-3l3 16l9-17l-21-3l4 3l4-2l-8-16M523 242l24 14l2-5l2 6l8 4l10-15l-20 16l4 7M453 115l14 11M437 107l-14 5l-27 14M392 122l11 23M541 466l-8 3l1-4l-9 6l-9 1l-4 2l7 4l4-1M309 207l1 0l2-6l-2 6l5 12l-13-1l-10-8l7-16M335 546l-1 17l-22-24l-22-4l-17-14M524 96l-3-4l-11 9l-8 13l2 1l-8-13l2 0l-15 4M273 270l-2-4l9-2l23-17l-15 2l11 0l-14 2l2 16M342 188l-9-5l-8 5l9 18l-2 12l18-29l5-8l-7 0M270 284l-2 15M256 338l-9 25l-4-18M525 190l10 18M537 208l-15-9l-22-20M327 530l-1-12l12-29l3-6M349 489l4-30l-1 20l-7-16M386 525l-14 2M365 525l-1-13l-13 9l13-8l4 0M304 411l-17-3l14 0l8 5l11 3M323 447l18 5M517 166l-14-5M487 166l18-17l5 8l-8 14l18 8M452 114l-7-11l-15 1l9 8M442 112l0 3l-4-19M300 235l7 12l13 1M327 229l-5-4l3-8M384 130l-5-8l16 4l0-13l12-12l-10 0l9 8l-14 17M372 407l17 37l-18 5l-6 7M358 445l6-6l-26-10M700 408l-17-3l20-12l6 18l-9 0l-7 4M291 536l-13 8l12-1l25-7M326 517l-2-5l6-1M331 497l-10-1l4-7M326 479l4-17l9-6M290 263l-12 0l2-6l0 23l2-5l19 19M611 312l31 18M296 241l-6-15l23-6l3-6l13 0l11 10M241 382l3-11l26-9M267 374l-8 9l0 7l-3 7M598 284l-6 0l2-11l6 12l19 11l18 19M308 404l13 3M311 417l-3-3l-9-12l3 1l-5-12l1 9M604 316l3 9M587 400l1-6l-6 25l-8 3l16 11l-16-10l-3 16M647 300l-4 9l2 10M634 312l-33-19l-13-7l15 12l-7 9M348 459l2 2l0-16M332 382l7 19M254 379l9 9l-7-1l-4 19l24-7l6 11M212 498l9 1l23 2M246 516l-8 4l3-2l3 12l17-9M736 358l-6 3l-4 40l-12-10l-5-4l-11-2l-16 15M259 540l1-16l12-19M289 502l-6 15l-15-4l17 5M570 475l0-1l-12 3l-1-14l17-1l-11 5l8 3l-12 10M323 221l-14 12l0-3l23-18l-10-4l17 0M342 151l1 25l-18 7l7-13l-5-24l4 5l28-13l-8 25M508 237l12-11l2-5l3 9l5 11l6-22l-3 7l-2-26M379 141l13-8l-1-9l-23-6l2 13M360 161l12-15l11 14M274 547l2 4l-25-23M251 531l2-31l0 12M237 445l13-6l-4-2l-6-9l3 11l1 4l4-1M469 108l20-17l2 13M484 115l-6-10l-6 14l5 14M721 384l7 7l9 16l-17 7l20 10l-17-3l3-14l13-10M355 521l10-6l13-24M378 466l-12-8M507 104l-7 1l11 6l-1-15l1 6l5 17l-12 9l3 6M523 152l-14 4l-9 23M499 164l7-9l9-13l11-3M301 520l1-9l7 13l0 6l0 4l5 27l10-30l0-26M527 162l-5 18l-1-1l5 32l0-7l-4 8l14 0l-17 9M605 295l4 14l7 15M256 537l-17-6l11-11l14-18M678 435l12 8l-1-11l4 4l-12-3l-7-13M231 311l20 9M258 310l-5-22l-1-12l5 14l-1 6l-6-11M348 466l14 1l-23 12M332 510l-11 14l17 16l-17 10M468 110l4-9l-2 13l-12 6l7-11l1 22M616 471l-3-2l-14-13l-9 12l-11-9l-14 7l0-2l2 2M604 286l20-19l11-5l-4 5l-1 9l13 8l16 15l22 10M697 323l2-11l-11 15l18 13l3 0l5-14l2 3l-9 9M379 443l-5 6l5 8M692 431l2-8l-11 25l-14 2l13-5l15 6l-6-5l-5-2M482 83l23 15l4-6l-9 11l-20-11l8 1l5 11l8 0M491 483l0-20M501 460l10 2l-9-2M349 188l-7-2l-1-1l11-2l21 5M507 477l-14 5l1 3l-13 1l-12 4l-23-8M317 180l-1 1l4-13l19 7l-6-7l0 6l25-15l0-19M313 212l16 26M305 257l-2-5l-14 20M290 203l6-3l-17 5l23-20l17 8l14-8l-24 4l10 29M364 441l-6-3M353 425l-5-11l-7-15l7-6l-6 5l11-14M397 101l3 6l-17 19l-5-6l5-4l-1 15M402 122l4-7M317 493l-16 21l4 26l5 4l8 1l8-17l33-15l-13-2M517 251l9 17M590 328l7-33l-12-9l-2-15l9 0l4-2l32 22l8 3M722 403l10-5l8-6l-5 8l8 7l-22 9l1 13l-11 13M465 520l20 2l19-3l-7-6l0-1l13 7l-6-17l-17-2M516 207l13-6l17 19l9-8l3 5l-3-4l-2-1l3 18M205 485l10 2l8-9l7-11l1-26l11 10l1 3M338 146l17-6l-18-10l-6 30l3-9l-8-17l8-3l-15 15M247 450l11-14M303 493l-20 3l13-4l8-2l-10 19l-1-11l4 8l0 6M235 432l-6 8l12-13l2-6l-6-10l18 10l0 2l10 10M390 406l-2-8M247 443l-2 5l-4 6M258 437l-12 2M513 152l-2 8l-6 18l2-9l18 8l9-1l7 0l10-1M379 552l8-8l2 3l26-25l0 11l-14 0l-1 6l-13 2M435 569l-2-5l11 6l-2 4l-22 2l4-20l-8-10l3-6M556 84l-3 15l6 7l-1 6l1-2l-23 19l-12 4l-3-2M261 297l12-8l3-19l5-12l-1 7l-4-11l11-12l-12 16M296 261l6 5l-7 12l-10 18M595 332l-14-9M221 445l-2 12l0 5l13-15l-6 6l-10 10l-2 11l-8 9M695 418l9-1l15-12l-15-15l16-2l11-14l-2-13l-9 20M335 399l-3 6l1 7M315 412l-7-16l-4 2l5 0l-5-2M732 381l-11-4l5 6l-15 11l-2-5l-21-6M473 110l-5-28l-8 0l-20 2l14-8l23 5l-4-10l20 6M260 551l15 3l-12-7l12-9l-7-2l31 13l8-8l5-10M698 392l-11-13M615 478l-3-1l-13-7l-17-2l-3-10l7-12l-12-23l17 11M372 428l-4-8l-16-6l4 14M590 419l2 6M623 449l-13 20l-12-19M430 104l13 5l-5 19l7 4l4-39l-9 10l-12 0l5-20M521 166l0 13l-3-7l0-2l3 8l-2-30l-8 15l-9-2M597 286l2-4l-9 4l10-12l-1 23l1 1l-10-3l-4 1M500 156l-15 13M278 532l-1-17l6 7l1-14l12 5l1 3l-11-5M225 387l21 9l-3-5l1 4l-4 4l12-7l-2 0l-12 14M327 197l9 3l-4 8l4 14l-14 1l3-10l-14 10l10 22M417 516l-14-20M508 470l-1 4l22-7l-21 9l4-2l-15-16l-14 20l10 0M529 213l-13 0l-19-3M497 206l15 4l6-4l-7-1l16 16M306 219l-2 4l-9 1l-2-7l-3 2l-8 0l18 5l17-2M304 402l2 14M308 421l-8-12l-1-37l0 17l-11 3l4 13M294 182l-5 16l3 0l-16-4l7-7l-5 6l2 3l4 14M691 410l-13 2M409 125l7-2l-6-19l2-5l-2-8l9-6l0-2l11 7M380 425l-10-6l-9-15l-9 11l-20-17l-9 26M310 178l-14 22l8 13l22 36M420 528l6-9l-13-2l-12-5l7 2l-12-4l10-4M518 155l1-23l-11 7l-17 7M522 102l14 20l-8-1l4 13l-9-6l22-6l0 6l1 15M329 156l7 13l-8 2l0 1l-14-14l1-11l12-26l0 3M626 470l2-15M637 462l14 20l4-15l2 1l5-3l-12 0M510 488l2 1l-9-26M348 552l23-23M375 518l-4 17l-8 0l1 19l-9 7l5 6M380 416l12-8M242 529l1 0l-4 0l17-15M288 276l8 21M329 160l-1-11l-7-4l20-1l-2 1l-10 2l11 9l15-11M348 530l-2-4l10 0l-19-6l10 14l-16 2l-18 2l2 7M392 95l25 0l-14 0l18 4l8 21M315 531l10-19l13 2l-12-3l-2 14l3 10l27 4l-2 8M279 392l-6-12M301 379l-7 18l-9-17M420 105l-8-3l7 13l-4 12l6-24l-10 24l-9 0l-3 2M291 257l9-5l-4 2M308 203l-4 19l34-21M324 231l-22 2l-15 3l3 6M673 442l9 9l-25 4l-5-3l8 24l7 18l-4 2l14-18M371 416l2 6l4-15l1 8l5-14l-5 12l0-20M350 404l-4 19M365 428l9 22l-3-3l14 0l6 15M501 155l-10-23M485 127l10 8M558 459l26-24l7 3l-10-3l2-11l13-4M517 191l-20 2M496 203l15 2l-5-4l13-9M382 418l-4-10l-4 12l-6 0l-18-8l0 11l-7-7l11-2M519 177l-10 4M496 193l12-5l20-1l-10-6l-1 8l-12-3M350 150l10 24M354 164l-10-9l2 5l11 1M358 161l-11 18M613 250l-6 6l-11 2l22 14l1-20l20 3l-8 6l-6 1M563 444l-13-4M548 434l0 18l-2 0M319 170l-5-4l13-2l-6 5l-12 7l-23 13l-1 0l-7-3M246 526l8-3l18-18M311 236l8 20M243 443l2-1l-5 2l-5 3l3-3l15-20l7-14l-10 13M231 414l14 19l-4 22M316 156l-14 4l-3 12l-10 12l7-4l11 17l13 2l23 0M694 379l0-12l-9 13M323 179l25-17l-12-2l-6-5l24-7l21 6M361 528l1-7M376 528l-10 1l-17 3l6-1l5 5M387 109l2 3l7-3l-9-1l5-4l-13 5l25-10l8-12M574 258l-5 11l-13 8M547 284l5-16l10 33M724 336l-3-10l-26-13l-3 29l-19 2M342 453l2-6M335 452l23 3l-28 5M323 460l20-4l3 17M278 533l-14 0l1 2l-8 3l-4-2l-2 8l9-8l5-2M483 102l-23 1l16 1l5-2l-1 1l1-9l-32 3l1 27M408 128l-20 1l-17 3l-7-12l1 23l13-10l-3 37M234 358l6-5l10-13M306 576l10 0l-2-10l22-8l-2 0l4-4l3-8l-8-11M308 243l-3-9l10-2l2-25l-3-7l7 3l-3-16l6 8M507 158l-1-21l2-4l26 20l-9 0l-5-1l-7-2l5 14M436 60l-17 9l-15-4l13-13l2 5l11 2l-14-7M492 120l-10-11l-34-18l-24 7l-21 26l-9-10l6 11l-4-2M687 328l-5-2l4 14l-14-6M619 251l-1 21l-9-18l-13 1l-3 6l0 16l1 29l13-6M324 215l25 8M350 207l0-8l-5-4l-8-4M282 531l17-24l23-17M319 491l10 10l4 12l-18 11l23-7M261 374l-10 21l0 2l7-10l-6-13l-8-3l-12 17l6-4M683 322l8 22l-17-15l-4 14M671 349l12-14l-10-16M626 241l0 16l13 29l12-12l2 13l-9 15l-24-4l-15 8M398 111l6 9M382 132l22-5l-11 0l-21 7M364 146l-9-1M579 458l-14-19l-17-1M520 452l3 31l-1-3l-3-24M570 435l1-4l-3 20l-6-7l-19-5M548 443l-11 33l-1 8M210 498l3 4l2 2l3 0l8 3M231 487l-14-13l-10 0M438 96l-4 9l15-6l7-2l11-11l-18 3l5 15l8 7M232 383l7 4l-5 6l-14 0l7-15l5 27l-26 4l7-4M379 147l18 4l-40-15l6-18l-16-8l-3 1l4 8l7-12M314 106l2 6l7 1l4-1l15-2l11-13l14 5l8 4M325 162l2-3l-1-4l14 8l-14-7l-6 12l14-6l13 0M275 549l4-21l-2 4l-7-5l-1 1l-8-1l5-3l5 8M408 134l4 1l1 15M317 541l-19-15l-20-8l6 13l-5-4l-11 12l12-6l-1 6M528 483l5-5l-16-6l24-5l-14-12l-7 11l-18 2M542 148l-8-24l3-2l1-9l6 8l-7 4l11 0l7 15M344 154l2 5l0 13l13 8l15-14M219 393l22 4l-4 7l19-1l12-4l-16-12l-4 13l1 18M507 140l7 17l-2-4l-2-5l-5-31l1-9l1 1l10 10M361 105l12-13l29 15l2 33M394 141l-10 7l-6 7l11 2M503 145l-4 0l17-14l-10 12l-6 3l-4 1M489 146l12-4M488 475l9 6l-9-7M580 280l14-5l-23-4l-2-11l-18-5l1-13l3 10l-23-4M536 243l-18-13l-27-12M498 206l18-4l-3 5l-15 10M393 133l0-9l1-6l-2-7l5 7M380 125l11 6l1-16M393 143l-5-4M373 129l14-5l-1 7l8 8M272 537l-5-2l-14-18l7 18l-22-4l10 2l7 2l-6-1M324 547l12-22l-5-5l-28 9l19 3l-10 19l18-1l9 9M436 93l7 10l-9 16l15-7l-14 4l7-12l2 18l19 26M583 460l9-1M605 442l-15-8l4 0l-8 3l14-3M195 567l3 11l5 1l-8-3l15-26l1-2l6-6l30-12M691 383l3-13l4 18l-8-26l-16 20M346 178l16-5l1 9l-2 7l7-2M551 137l-9-21l-6-13l-10-4l-3-5l1 15l5 3l-5-4M304 385l-2-6l-2 18l-5-18M292 376l-9 24l-5 4l-4 3M287 561l-11 8l12-12l-15-8l-5-3l-2 1l-11-14l21-10M541 146l0-7l0-7l-8-23l-7 13l-13-8l-8 25l2-10M511 240l9 9l6 5M319 172l14 2l14 1l-5 0l6 8l-10 5l8 4l-9-10M269 256l2 20l18-18l11 25M267 281l6-9l16-16l10 5l-19-12l-5 9l16-9l7 13M356 412l-28 2M348 425l7-11l9 2l-10-12M488 478l13 2l-1-7M496 471l19 1l0-16M292 544l12 6l-9-3l-5-4l2 4l-22-10l5 17l-5-20M594 407l6 15l-16-5l-22 7M571 428l-2 2M548 192l7-9l-6 3l-2 1l-4-7l-25 19l0 35l-2-7M315 197l8-12l-12 6l15 4l-5-2l8 1l16-7l0 1M731 359l-14 8l-2 10l17 0l0-10l6 1l11-2l-10 15M712 401l-16 2l-4-8l-1 4l-5 10l10-7l-3-7l-2 21M517 175l10-22l-15 3l8-33l-14-1l21 9l4 2l10 0M201 409l0 8l8-2l-2 0l10-7l-7 3l-7 26l-7-16M355 179l-12 17M341 197l13-12l-10-1l-25-1l16 4l1 0M243 450l11-17M259 442l-4 9l3 7M513 244l6-8l18 4l7 6l-20 10l-1-9l7-34l-13-5M263 559l14-27l5-2l10 0M288 511l-21 16M355 524l4-17l3-7M286 576l9-32l-5-4l20 9l0 2l11-7l-1 6l0 7M224 483l-6 8l3-4l6-14l4 9l4 20l-5 15l-7-17M386 440l-1-22M321 553l-16-16l-26 8l4-9l-1-20l9 20l-25-16l-2 7M511 140l-14 11l10 22l-5-2l20-11l-11 1l-9-11l-7 10M357 497l2-34l-3 0l2-7l4 15M310 515l1-5l17 11l11-7l-2 6l1-6l-10-7M564 249l13-2l-1-11l-9-5l2 17l-9 3l-2-2l-5 16M314 541l-4-6M315 539l1 7l4 11l4-13l-6-4l4-10M318 179l11 13l-13-17l18 10l10-2l-5-9l3-17l5-14M345 411l-5 20M331 419l18-7l5-12l-3 14M210 354l4 4l13 11l-9-1l6-9l19 13l-14 2l-7 1M709 459l-4-8l-14-2l-22 9l-7 10l-5 12l11-1l14 9M261 564l32-8l-4-3l0-12l16 12l2 1l-3 11l-32-16M304 244l3 7l12-5M325 241l6-21M376 421l-3 0l11-7l-3 10l7 23l-3-9l3-16l7 7M258 535l-20 0l15-6l3-14M296 392l29 4l-18-4l3 31M535 179l-3-10l8-7l18-26l2-23l0 2l-11 4l-8-9M325 532l-11 10l-6-9l1-4l1 7l-4-13l7 2l-9 12M594 394l-21 15l7-2l-12 4M326 550l9 9l-1 3l-7-19l-11 4l0-8l-4 9l-21-2M384 168l-2 18M378 194l-21-3l15-10M523 95l-3 17l-15-8l12 9l18 11l15 19l7 4l-5 14M605 471l0 13l-4 2l1-1l-4-8l18-10l9 5l1-1M345 144l15 23l-10-7l-11-3l-6 14l5-30l-10 6l-6 20M368 413l-4 17M348 438l19-2l13 10M280 558l9-20M308 537l13-3l-30-4M293 529l-15 4M519 147l-12 19l-18-2M245 501l-18-18l14-9M418 129l-34-8l-13-15l3-19l7 12l4 8l5 5l-2-2M542 519l-13 1l1-4l-12 0l-12-7l6-17l6-18M541 208l0 32l-5-2l6-15l-2 6l-6 9l-9-4l5-32M307 535l29-17l1 11l1 22l-4-13l-22-6l2-7l9 10M254 419l-9 12l-14 12l3 12M230 457l-8 19M560 142l-8-4l-3 4l-4-9l-1 10l-12-6l-2 12l5-25M569 502l1-5l12-7l9-21l-8 2l-7-25l8-11l-16 19M355 186l8-13l7-14l-9 21l5 4l-7-3l-9 12l12-16M387 161l-15-9l3-15l-14 4l5 1M369 131l-10-15l-4 5M515 469l-5-11M512 459l1 28l15-5l-5-13l10-12M518 218l-14-19M511 192l2 26l-1 1l1 9M305 209l3-2l-1 3l22 2l12 2l-33-17l14 2l-7-8M568 461l15 18l2 14l1-2l0-19l13-5l9 1l-8-17M334 211l-7 14l1 4M324 229l-8-17l-2 12l12 4M536 218l-22-7l11 19l12 11l12-4l-1-11l7 0l4-11M562 481l2-9l-10 3l-2-1l22-18l-9 14l-8-9l2-2M591 420l-19 15l9-11l3-21l-4 0l23-4M287 226l1-10l7-32l-4 17l-7 6l7-10l-8-1l17 13M341 134l-6 21l-13-3l2-3l6-10l1-13l2-10M283 393l0 7l-19 3l5 2l14-16l-3 13l4-5l17-15M274 555l-6-11l-8-14l13-25M245 521l6 2l6 12l-27 2M326 187l-17 2l14 8l6 1l-3 6l-23-3l6-1l7 3M681 430l18-9l0 25l-3 12l0-12l-2-5l-3 2l-3 0M554 145l1 5l-4 9l0 1l0-9l3-3l-1-12l-4 2M564 451l9 15l10 0l20 2l-19-8l-4-19l-5 19l-11 0M315 220l8-9l-10 2l7-12l-9 8l12 4l-10 11l6-24M313 515l10-3l5 12M324 518l-2-16l4 10M323 190l-1-5l-14-1l-12-6l23-1l18-11l-12-7l12-14M539 250l-9-1l-13 0l-10 6M328 200l7-2l4 8M347 491l3-6l1 22l5-10M257 421l-6-12l-6-1l-25 14l12-10l7 4l-1 4l39 0M256 543l1-2l4-11l4-10M292 517l11 14M684 341l-13 2l1-16l6 8l-14 4M641 329l24-23M361 458l-15 0l-8 18M329 484l0-17l20 11M606 409l-12 6l-28 2M307 237l17-8M320 238l-13 3l7 12M282 408l-5-4l-14-5M217 480l-1 5l4-17l3-12l26 8M635 464l12 9l-22-7M624 463l-13 3l13 1l6 2l12-10M317 540l2-5l11-5l-3-2l-18-9l-1-4l8-7l-12-12M588 293l12 18M697 427l1 0l-18 14l3-3l3-2l-30 0M352 402l-1 17M333 410l4-1l25 9l-4-19l27 3l4-7M336 408l10-6l14 23M352 445l-7 7l-3 9l1-4M332 155l-1-3l6 4l2 21l-11 9l5-14l-4 0l12 4M662 312l-14 16M647 322l17-14l-24-7l19 22l1 16M480 100l26-3l-20-7l33-10l1 11l-7-19l-13 23l8 11M300 503l11 5l-9-6M285 500l25-18M348 149l1 7l2 0l16 17M353 169l-15 8l-8 8M525 243l-2 1l12-6l-16 2l-21 1M517 264l8-18M335 129l8 12l24 0l11 1l10-9l-21-2l-12 10l0 23M323 514l-5 17l-5 20l6 0l-2-2l3-13l-5-6l-6 12M179 522l22 2l12-27l-11-29l-4-9l-3 7l-3-11l11 1M597 479l-2 1l-2-11l3-14M335 464l4 1l30-1l-5-12l-1 0l5-2l17-1l8 10M514 186l9-10l3-5l8 11l8-23l-10 4l2 3l-6 12M575 461l24-1M603 454l12 16M545 191l-1 15l-2 11l3-5l3 9l11-5l-5-14l-19 18M238 276l-8 1l-4-6l-2-8l19-1l8 7l-21 10l12 4M397 137l-1-5l-3-2l15 0l-6-22l7-5M554 242l11 1l-2-5l-3 6l-6 16l-18-17l-14-7M244 449l5 4l-15 14M248 463l-4-12l-10 1l-11-12M217 488l18-7l29 2l-15-4M338 523l-21 7M327 549l-13 14l-19 17l-7 7l3 13l0-2M491 480l-13-8M497 477l-9-1l-22 4M715 381l-7-20l2 23l-5-2l4 17l-32-6M531 132l-13-22l-17 18l6 19l12-6l-7 12l6-7l-7-6M519 223l-14-12M348 519l-7-16M321 494l-19-1l7-7l0 22M527 503l2-6l7 12l14-2l12-12l22-8l-1-16l7-9M304 484l2 2l-18-13M349 179l-8 11M284 176l1 31l-21 14l-17 10l16-12l-11-7l3 3l13-14M585 464l5 9l0 3l-10-2l22-11l34 7l1 1l18-8M369 444l20 2M371 456l1-14l5-9l0-26M231 523l3 1l-4-15M244 506l-3 10l-3 3l4 9M393 109l18-4l-2 1l-31 21M378 127l-11 7l16-17l-2 8M643 272l7 1l-12-8l-27 21l-19 3l3 2l-3-1l5 0M505 483l6-3l-17-6M543 211l-14 17l-6 1l19-2l18 5l-8 13l-19 0l-10 4M725 385l-4 5l12-3l7 3l5-3l-4-1l-9 5l-16-7M418 528l-11 0l-14 4M375 515l-7 20l-27 11l-10-3M600 294l7-12l-4 1l-14 4l2 13M592 320l12-11l-6-10M698 356l1 23l-8 16M261 547l13 3l-9-7l7-2M273 493l24 2l17 4M715 368l-16 11l6 6l7-3l8 11l-7 1l-3-10l-5 7M529 170l2 3l5 14M525 194l8-13l13 15l8 12l-5 15M333 200l18 0l-7 17M357 200l-21-12l-5-12l15 7l-13 6M337 399l24 4l-7-2l-2 3l-13-9l5-4l-31-1l0-10M255 520l-1-3l-2-4l7 17l-17-17M264 516l13-1M250 523l3 12l11-10l13 14l-10-19l28-12l-1 0l-8-15M331 404l-8 12l-8-16l16 14M674 312l13-6l1 15l-9-6l-1 10l-6-2l0 14l21 12M238 527l14 15l1-11l-9 0l-1-3l-3 6l-9-11l-15-12M398 150l4-6l-9-4M399 125l-9 2l5-1l-4-5l15-5M550 467l-3 5l8 4l0-2l25-8l17-4M610 455l-17 13M243 419l-3 21l23-8l-11-5l8 20M563 223l-19-10l5-1l-14-5l-8-8l-1-1l7 14l7 4M373 539l-10-9l3-4l-8-5l-2 4l6-10l-10 12l6-9M538 164l6-2l-8-7l-8 7l-21-17l2-4l14-16l4-5M255 420l-2-1l14-7l-15-8l5-12l-2 3l-1 3l-3 6M303 496l-2-5l-10 16l21-5l7 7M327 484l0 15M433 106l7-11l-6 15l-10 7l6 10l2 9l-15 8l4 8M528 186l-9-26l10-4l-1-8l-6 13l21-9l-5 27l0 15M698 419l-9-3l-2 11l0-12M671 421l27-5l10-4M693 479l6-9l-12 4l11-17l-5 17l-2-20l-2 1l-4-8M358 192l5 0M301 398l25 13l11-12l-3 18M362 436l-11 25l5 6M225 519l-6-11l4 12l11 3l26-12l-24 11l11 22l-20-25M553 208l-11 4l-20-15l15-4l29 18l-6 8l4 6l7-1M319 392l-9-3M561 211l-1 0l-9-15l-4 15l-12-6l-5 8l12-23l-12-3M583 435l0-21l0-1l-5-14l4-7M696 394l-23-12M680 390l23-3l4-1M513 244l-13-24M508 210l2-1l6 9l-17 10l7-9l-15 16M532 478l1-18l-1 1l-21-1M502 466l7 1l13-6M397 109l-4 8l-22 3l-17 1l-18 8l25 5l14 7l10 12M476 106l-3 10l-28-10l8-4l8-6l10 2l-9-15l11 3M579 478l-10-16l-25-16M236 447l-1-9l6-6l24 19M273 468l-19-19l12-10M515 207l-6-11M493 182l11-12l5 12l-12-15M535 107l-20 24l6-18l1 26l-1-6l16 0l-6-21M371 111l-9 9l-4 4l9-4l-7 15l20 0l19-5l-6 10M641 306l-6-6l-12 16M206 528l-17 7l1 4l7-25l-8-27l-8 5l4 11l3-16M229 526l1-10M229 510l-6-5l-5 2l7 14l-1 15l18 6M558 266l-7 15M339 403l-7-13M668 317l19 7l4 18l-14-13l-18 23M533 206l-7-24l0-23l5 3l-9-3l-6-12l-17-2l-6-12M386 403l-2-11M265 552l-2-10l-12 0l3-8l-9-11l-6-5l11-17l-11 5M674 451l-7-26M546 252l-3 21M605 470l4-13M320 516l8 17l-6-4l3 1l9-26l-15-5l-11-14l4 5M287 553l8 6l-3-11l-8-6l1-16l5 24l5-11M657 465l-12 8l-2-1l-13 5l-2-8l-7-7l20 20l10-6M551 237l2 0l6-2l2 12l-5 15l-9 21M354 479l8 1M277 289l10-9l-10 12M306 175l9 2l-22 6l-1 0l-22 10l3 20l9 16l21-7M331 176l-4 13l5-6l3-22l-13 14l-3 11l15-12l10 5M576 408l14 9l4 23M584 427l2-16l-10 10M536 217l-11 12l9 10l-8-5l7 9l6 5l-4 19M297 535l4-5l-22-15l-3 11l-13-8M263 519l-9 1l21 3M256 562l-17 9l0-1l-10-8l13 0l-20-20l11 13l-4 11M709 401l2-1l2-8l4 19l-15 2l0 1l-12-8M360 113l-12 2l7 14l15 2l-20-8l12 17l12-6l5 16M577 476l4 5l21-9l2 14l7 16l7-6l-2-14l3-8M622 502l8 0l14 5l-2-7l-17-7l-6 13l-8 6l4-4M515 147l12 26l0-13l-34-3M502 182l6 0l4 16M273 566l17-23l2-11l-8-8l11 22l-8 7l11 14l-11 11M512 152l-1-15l2 5l15-5l-10-2l-20 5l28-7l-3 6M505 131l-4 24l-1 0l15-13l7-20l-1-29l11 4l-11-4M657 472l4-17l-14 7l-10 10l-6 1l0-2l-10-2l-15 2M214 470l10-14l8 30M237 457l13 0l-21 0M588 399l-6-5l8 0l-6 13l-3 19l9 6M554 269l5 0l8-19l-6 2l-9 0l17 15l-3 7l7-4M305 192l8 7l10 18l0 23M322 228l1-3l30 18M514 241l-11 4M526 238l-10-16l-4-6M496 85l26 7l-12-7l1 16l-10-20l13-13l-6 7M498 119l-19 7l-2-1l-10 5M198 481l1-4l-3-16l-13-11l32 22l9-3l4 6l2 3M512 149l2 0l-5 9l-8 2l6-6l3 9l5-5l8-8M355 135l11 18l21-19l-3-10l-1-10l17-4l3-15l16-8M384 134l4-8l-10 3l-6 9l-8-7l17 1M540 178l2-6l-14 7l-8-1l7 3l-11-6l-17 9M600 293l10 6l-3 18M580 328l15-6l-3-7M281 269l10 17M312 280l-21-12l11-1M299 289l-6-9M285 176l11 7l-26 7l19 2l7-5l4 3l6-8l-8-4M338 187l-7 12l-7 4l17-1l-8-3l8 17l-9-4l-11 5M233 292l-7 8l-14-14l40-6l22 5l0-7l-3-16l10-10M604 299l9 14l-6 0l-6 19M520 171l-24-20M489 142l-10-32l-12 20M414 90l4 7l26 0l-12-3l12 18l-11 13l1 18l-21-5M310 200l-9 1l-10 12l-10-14l-4-12l5 9l-11-18l3 1M445 503l4-8l-2-2M291 269l-1 13l-15 5l6-2l-7-2l0-1l8-18l-2-10M355 505l-20 7l-18 14l-7 27l17 5l14-8l-2 10l-5 13M578 472l-2 2l-8-18l17 1l-6-15l1 1l10-6l-4 6M699 344l-13 26M682 362l14 7l-26-3M543 233l-5 27M535 258l-5-10l7-23l18 0l10-3l-11-15M554 236l0-23l2-26l10 7l1-9l-7 8l-13 8l-14-20M560 211l-1-3l-5-9l-4-10l-15-10l-2 16l-13 7l-8 0M520 133l14 9l1 6l-5 11l-11-4l-15 14l28 14l-1-7M195 485l17 6l-5-9l6 5l-5 3l14 6l-4-25M660 286l0 17l14 12l14 4l-10 11l-7-10l0 14M266 530l15-3M287 535l11-9l-23-17M748 359l-18-7l0-3l-13 14l2-3l7-12l8 19M589 370l-18-24M363 534l7-15M511 216l-4 0l20 27l-14 0l9-7l-12-27l5 5l4 1M588 434l-1 6l-3 7l21-10M353 458l-20 3l7-13M341 445l3-30l-2 12l5 27l2-7M434 111l-11 5M428 122l11-4l9 2l-23-18l-5 6M510 143l-6-10l-17-20l8 22l7 14l12-9l6-12l2-21M498 65l19-2l-6 10l-25 19l22 10l-12 14l-16-8l-9 15M517 214l-12 19l0 27M428 114l-18-4l-2-12l-5-5l-2 8l1 8l17-8l-19 1M720 348l-11-8l8-3l2 4l-6-10l-12 5l-11 3l-10-12M595 469l12-1l-10 16l8-22M588 466l4 3l-2 4l-7 4M487 101l-3 14l21-3l6 16l0-1l17-2l-24-11l-11 6M223 477l8 14M240 495l-25-19l12-10l-6-10l-6-4M217 516l-11-10l-14 7l4 17l6 19l8 16l-11 10l-3 5M586 446l15 13M596 464l-19-3l-22 12M279 556l5-2l-12-2l3 8l5-8l12-9l-23 5l7 3M427 138l-4-12l-25-21l-16 11l3 31l-7-7l8 1l14-2M218 471l-3-11l11-16l-1-6l12-12l-5-6l-21-5l7 7M247 416l-13 19l-12 7l-1 6l-2 12l-19-9l18 2l-1-5M214 510l0-2l-13 3l-4 5l9 7l-6-10l4-19l-3 8M285 558l-3 11l4-7l7 4l9 8l-18 5l10 0l-28 0M598 301l-11-24l-7 5l-10-2M560 275l2-10l3-3l-13 24M335 458l23 0l26 11M540 479l11-16l-13 5l9 5l-26-4l-4 8l10-9l1 2M370 162l16-21l-4-11l3 26l18 8M256 564l5-18l15-2l6-1l-4 4l-14-15l5-8l-5 16M308 229l-19-9l3-10l20 7l-2-2l11-4l-7 0l-13 18M312 484l-17 8l20-9l-12-1l18 8M314 495l-5 15M566 458l-10 1l16-20M568 411l15 2l2 0l-19 3l3 14M518 482l4-12l-13-21M217 480l11 1l5-9l-10 8l7 3l9-8M265 180l-1-8l17 8l-4-17l-5 16l-19-7l8 10l1-2M350 400l10 12l-3 4l13-10l-4-8M517 486l-3 12l-5-17l12-12l-7 4l-3 16l4-19l9 1M641 284l-15-23l-3-4l-6-11l20 24l16 7l-13 18l-15-10M590 476l11-5l-2 3l19-1l11 4l-1 5l-23 5l-19-12M357 509l3-10M384 507l4 3l1 4l1 7l-1-24M544 127l-9-6l4 13l4 5l4-8l-7-10l-7 33l6-10M287 524l-2-7l-6 22l4-3l0-9l-1 33l10-13l-3 12M256 534l9-12l1 6l-7 1l12-18l8 6l-11-20M410 140l-2-8l8-13l-21 8l-3-20l-4-3l-1 9l-18-13M305 392l9-10l-13 4l-8-21M341 184l-8 0l-9-7l-10 33l9-11l17 11M344 218l-14 1M226 386l-4-19l7-8l-1-17l4-2l2 2l16 7M408 112l8 2l15 0l9 17l-21-9l28 8M367 156l14 3l3 20M375 147l-20-13l-11 6l-14 11l16 13l6 11l-17 12l18 6M260 528l12-7l6 5l-2-14M321 222l12 4l16 7M215 557l-5 11l7-17l9 6l-8 4l14-14l-3-13l21 2M451 495l-1 21l17 19l-6-4l3-16l3-3l-12 7l-18 18M539 165l-20-15l-10 9l8 4l7-12l6 12l23 1l10 23M262 296l21 7M291 284l-15-9l-8 6l-17-13l18-3M351 454l-1 6l11 31l-22 2l14-16l13-4M677 449l-10 3l-4-6M543 216l-2 5l20 5l-4 7l-2 12l-4 8l0-10l-2-8M557 241l-2 6l0-19l-1-20l12 0l-9-2l-1 8l-25-13M663 469l-11 16l-3-3l12 2l-16-2l-1-23l-14 12l-7-1M602 470l5-14M607 460l4 8l-7 5l-6-4l9 5M305 388l0 11l-10 13l-9 8M400 131l8 4l22 0l-14 3l6 6M435 133l-1-24l19 1M536 250l-4-2M544 261l-2-12l-13-1l0-17l0 10M344 134l-2 0l2 8l-2-13l17-4l5 16l23 23l13 9M536 469l-4-3l6 1l-6-9l-5 9l4-17M317 196l-7-6l0 2l8 8l13 8l-10 6l5-1l3 20M284 514l4-7M567 477l-11 1l1-9l-16 8l-6-35M460 113l5 1l-1 12M686 444l2 16l-3-17l0-18l-9-33M336 517l7 2l-2-15l2 28l10-25l17-27M551 202l-11 1l-6-14l10-4l-7 30l16 18l-5-12l7 12M593 380l-6 1M599 369l-7 6l24-6M466 65l6 4l18-2l3-8l6 0l1 29l4 2M725 344l-1-7l-24-2l-10 7l10 43l-3-8l-16 4M325 553l-14 0l-14-15M299 533l15 17l-15-5l22-6M693 434l3-3l1-1l-4-14M682 408l16-7l5-14l-34-1M252 450l22 14M520 113l-5-3l-6-7l4 1l11-9l-7-14l-1 8l-18 9M378 152l-10-1M363 159l-13-1l1-7l-1 7l-9 3l-7 18M444 103l-18 9l3 16l-1 0l15-12l6-13l-5 8M390 135l18 11l-24 6l15-9l14 15M359 535l-9 2l-6-15l-7-24M356 131l-2 26l-6 2l13-1M380 138l4 9l-13-5M313 224l-12 19l-8-16l20 18l-9-5l16-14l6-18l-9-5M384 410l-20 9l8-11l7 6l17 6M397 420l-18-3M342 554l15-12l1-10M357 515l-1 11l-1 8l-22-5M290 402l-3-12l4-7l8 9l12-4M322 405l-15-11l-15 4M349 511l4 2l-33 1l-10-10l21 9M327 523l-6 1l7 15M238 342l-2-1l3 25l2 8l-19 2l-15-9l0-18l-14 13M241 429l8-20l10 7M257 427l-22 7l3 11l-25-16M553 199l5 11l-11 0l-18-16l12-9l-1 10M521 194l12-21M469 140l3-15l18-13M653 463l8-13M658 455l3 3l-5-4M221 400l5 19l5-14l18-4l11-2l0-10l-11 12l18-16M233 447l0 4l-17 25l8-7M232 494l-10 7l-8-10M550 204l-1 10l-14-13l4-12l4-14l8 29l-7 3l-15 11M303 493l-9-6l12-6l20-19M380 448l14 11M521 174l-5 3l21 17l6 2l-6 16l4-25l-9-8l18 7M389 146l19 12M287 528l-13 7l15 13l-2 6l23-15l2-7l6-3M333 460l24-7M362 436l13-17l2 11l-6-18l5-10l-14-7M497 127l-2 5l7 9l-4-11l4-15l11 11l-3 15l3 8M411 120l-25-2l-5-7l-6 7l1-17l20 4l0 7l18 1M316 195l5 14l-18 7l-9 25l-17 18l1-8l-4-4l-14-2M308 252l15-8M314 242l-16-4l10-11l-7 5l4 5M282 281l-15 4l-12 23M350 518l1 17l-10-9M342 526l10-2l8-32M281 191l-3-6l-2 7l2-24l1 5l-12 6l1 16l-2-9M360 157l1-11l11-17M377 124l-9 12l7-12l3 15M257 425l-13-10l17-1M254 431l-19 5l-19 15l4 23l4-18M561 465l-11-9l-7-4M294 391l-13 10l0-7l12-17M385 408l16 6l-10-5l-2-5l-21-18M355 398l0 4M387 154l10 14M363 440l-2 4M361 426l13 22l-1-3l7-19l3 1M587 391l-14-16M567 372l23 23l4 4l14-7l-16 15M505 135l7-16l-2-5l6 7l15 0l-1-17l-8-5l-15 0M367 459l9-3M579 414l16 3M597 393l-8 13l-17-13l9 2l-8 3l9 10M641 472l-16 5l1-3l5-5l7-12M633 455l23 6l-15 12M684 319l-8 1l-10-9l-10 2l-4-16l-10-2l-13-11l17 7M322 202l-10 0l11-8l1-1l23-6l-5 11M213 474l-1 9l12 13M241 455l3-8M508 84l-7-11l13 8l-2-8l6-15l10 7l14 10l-5 11M458 505l-5 6l3 8l-10-16l-10 3l-12-4M716 340l12-10l-13-3l-34-17l-10-7l-24 10l17 5l8 5M362 404l3-17M504 172l3-17l14-1l-14-4l4-22l-19 23M694 405l0-1l19-12l4-10l16 9l13 13l4 6l-16 1M438 107l23 15M433 141l6-20l11-7M558 257l-2 5l-11-6l10 6l5 14M250 503l33-7M207 531l9 12l-7 17l14-16l-5 8l-4 0l-8 0M365 542l4-5l10-6M319 399l11 28M326 388l23 26l4-10l13-3M402 146l-4-20M380 129l5 29l-12 16l11-6l-2-39l22 7M289 276l-25-13l9-21l-9-1l12-8l-12 0l11-1l-12 1M362 504l3 10l-13 7l8-3l-3 12l14 7l-13-7l-2-26M508 168l-10-23l2-13l-15-10M497 141l12 19l-11 18l17-4M312 527l-11 18l0 11l-6 4l8 23l-12-11l-26 3l7 2M279 390l11-27M596 289l-12 20l0-28l-8 15M574 300l1-24M334 135l-6 23l11 16l19 10l11 0M356 199l-26-3M184 524l-12-8l2 14l11-22l1 5l8-9l-3 0M247 435l5-6l-8 4l8-3l-6-2l11 16M600 466l9 1l-12-2l3-20M576 447l-5 7l-10-25M386 143l13-14l-6 11l-14-7l-1 3M381 170l4-16l5-16M274 408l9-3l5 4l18 14M347 519l2 18l10-11l-20 2l-3-11l13 7l5-14l10 10M218 349l4 14l-1 0l9-8l6-5l-13-4l6 3l12 25M718 403l3-4l-6 6l-4-10l-2 14l1 6l-12-6l2-1M346 495l5 6l10 4l-4 16M349 498l4 5M468 95l-5-1l16 11l4-4l-8 7l-2-9l-19 23M366 411l-8 1l-19-14l-11 6l14 15M312 504l24 0l2-18l-18-13M349 137l11-5l20-5l-15-17l-11 5l7 13l-9-14l7 3M299 496l1 3M419 132l-10-21l-3 9M407 144l-12 2l-17 0l-19-22M408 140l-6-10l12 1l-17-7l-6-5l3-1l-1 4M275 287l-32 8l-2-37l5 1l4 1l7 2l0 1l-19 17M521 210l-16 33l10 5l3-5l8-2l17-6l-1 21l3 0M370 408l12 7l-10 1l3 3l-10 7l21-1l-21 10l8 4M620 305l4-3l-17 11l-18-21l-10 5l15-8l-24-5l16-14M539 254l-24 5M529 238l0 7l-7-4l-26 14M360 512l6-5l22-8M273 193l10-1l2 17l-12-8l-16 0l14-17l2-1l-15 2M330 210l0 12l20 14M261 378l8 6l-37-12l6 6l21-2l12 21l4-24M259 528l0-3l-5-8l-13 6l0-6l4-15M554 232l-8 6l-9 0l-5-8l-6 7l9-9l-1 7l-5 14M693 396l-13-3l15-4l-3 9l-19 4l17-5l19 1l-10 1M297 267l2 2M201 533l15-10l10 2l3 11l31 13l-9 5l-20-5l14-22M364 454l5 2M254 453l1-14l-6 14l18-6M260 293l14 22M282 293l4-6l7 4M287 398l-8-15l8 6l11 5l-9 14l-7-13l4-11M489 116l11 9l10 3l-17-7l9 31l-14 4l0-37l-2-7M547 239l1 8l-23 2l-1 0l9-11l13-10l15 10l-8-8M217 488l0-13l-9-4l14 1l7 4l12 12M234 489l-2-7M540 131l-10-4l-10 4l10-9l-1 5l-3-5l-15 3l-1 9M390 109l10 10l10 7l10 10l-7 14M404 168l8-24l-2-1M597 280l-17-13l2 3l-3 1l6-12l8-4l11 7l18 23M406 155l6-10l-12-4l23-7l6 4M259 536l-6-9l-1-11l16 8l8-9l39 2M291 528l12 0M215 497l-10 9l-11-23l8 24l3 4l-7-23l-6 2l12-11M348 533l-13-5l1-10l4-4l2-3M357 519l-4 4M384 420l-1-8l22 2M387 400l-14 2l14 3M527 179l-10-3l5 5l-11 5l-6-11l-10-15l11 4l-1 25M436 104l-5-8l-1 1l-2-11l17 12l-2-4l30-6l-21 7M227 435l-3 7l-8-9l1 4l-10 13l16-2l-12 3l-1 24M496 66l16 3l-13 3l9-5l12 7l-8-8l-18-6l-10 0M545 498l0-18l-3-6l-12 3l7-3l24-9l-5 11l-10-22M315 220l1-14l-3 14l20 1l1-13M355 199l-4-2l-23 12M255 412l-1-16l8-10l7 11M269 397l6 8l0-5l13 33M543 464l-2 2l-11 3l7-8l-7-12l-17 16l-4 8l1-23M405 134l-9-6l-11-4l-9 23l5 11l4 4l-8-1M347 403l21 18l15-11l14 0M280 518l-5 9l4 16l5 0l-8-5l-6 0l10 2l3-2M360 155l-6 1l-3 6l-9 13l-6 15l-3 28l-12 13M244 216l0 35l-13 21l1 4l8 32l-5-13l-13-7l7 6M431 96l3 1l-10 5l7 3l6-22l-16 16l-14 1l9-11M372 558l8-1l-19 3l-7-3l-9-4l-11-8l-2 0l-6 10M301 406l6-6l1 0l4-5l-15 5l20-14M327 386l12 22M565 500l-5 1l-9-28l3-15l-9 11l-5-8l15-1M541 132l-3 10l-3 2l-9 13l14-13l-7 24l-5 8l-3-15M521 152l-13-4l-15-18l6 10l8 20l-1 2l19-8l0 24M499 122l5 0l-8-17l-20-11l13-4l13 16l-4 4l-12 6M252 423l21-6M273 414l-3-14l-12 2l-4-9M387 144l17 3l2-23l-26-2l-13-12l9 5l-3-7l-4 4M558 214l0-4l-11-5l-14-7l-12-25l7 15l-8 4M544 493l-18-12l-21-23M473 474l19 7l10 0M469 99l0 8l16 13l-8-34l-20 6l-20-1l15-5l1 10M452 527l-2 12l0 12l-8 7l-2-11l-1-10l-3 5M289 261l-7-5l17 4M314 246l0-10M506 173l-5-21l-9 9M694 400l-4 2l-6 5l6 16l-3 0l-9-11M223 433l4 22M231 472l-13 3l22 3l-17 7M505 129l16 17l7 3l11 8l19 12l-9 24l3 2l0 3M193 449l26 3l-4-6l0 1l-3 1l-19 25l9-7l8 2M245 373l14 6l3 1l8-12l-16 4l12 24M275 394l11 6M554 270l16 8M563 277l-21-28l4-1l10 1l22-5l7 14M579 239l-1 4l-28 3l9-23l-15-3l13 3l0 17l-5-9M632 467l10 8l-3-8l-24 11l-9 2l-5-13l26-4M334 165l-7-6l11-1l8 9M368 162l14-8M327 400l-9-29M306 387l1 10l11-19M316 388l21 8l-1-6M612 293l19 0l0 2l-24 1l7-10l7 2l20 4l-1-1M516 156l0 4l0 8l14 13l7 4M537 185l-9-14l-13-4M250 407l3-14l-3 19l-2 15l-8-13l13 19M493 500l7-1l-9-32M479 460l-5 20l6 7l2-11M348 468l1 15M331 480l2-13l-6-4l0 7M424 140l12 7M444 135l-7-11l1 12M507 236l-3 16M513 218l-1 10l18 30M516 261l17-14l-2-14M291 543l-1-10l-14 1l8 10l9-6M293 539l8 4l0-3M326 527l-14-21l-1 5l11-4l14 8l-15 17l15-10l4-18M399 91l-3 9l3 4l-20 29l-5 10l28-17l-8-1l3-9M234 443l8-1l-30 30l-4 8l-11 4l4-17l-9 4l8 8M626 296l32 3l-23 13l5-6l1 6M454 492l-2 24l6-3l7-26l12-24M404 131l15-10l-12-6l-1-7l-22-6l-12-4l0-1M301 580l12-1l-1-9l-10 7l-15 5l7-7l-12 0l-16-2M344 142l4 10l-2 0l-11 18l-5-12l11 6l7-14l-10 3M539 113l-15-8l3-1l4-14l-3-9l-3-2l-22-17l-13 2M491 92l-8 11l-23-16l-2 16l2 3l10-1l-10 10l6-6M561 242l17 23l3 10l-7-12l-14 21M547 220l15-13l-12-8l-14-11l-1 7l0 1l-5-8l3 2M324 114l18-2l8-14l6 2l-18 5l-11-1l-4 8l-19 29M241 436l5 5l4-12l-3 2l-33 8l-5 8l2 8l17 0M298 552l-25 6l-8 20l-9-1l12-2l31 1l-9-4l-4-7M355 528l-13-21M366 497l-10 6l-23-30M286 251l-5-2l1 0l11-23l-12-5l-5 18l8-27l-5-12M349 413l-7 1l7 12M357 425l16 13l-2-6l5 13M550 184l-18-10l0-5l1 2l10 14l-2 8l-2-5l10 23M411 100l7-16l7 8l20 6l3 4l-27 8l-19-4l-6 26M352 191l-6 8M340 232l-12-5M259 375l5 6l-11-15M266 364l-10 20l18-7M302 556l-7 7l5-6l-7-10l-4 5l-4 5l-3-3l-4 10M531 131l9 3l1 22l-4-9l-9-8l14 10l0-21l-7 8M745 369l-5 12l1-7l-18 0l-3-5l-7-5l-6-7l-3 19M277 281l5-4l-7-6l9-7l6-44l-17-1l-20-24l14-4M286 282l-11 21M275 306l-2-20l1 8M374 115l3 4l-7 6M362 128l-9-4l-10-12l-17 9M404 97l7 27l-13 13l-10-10l-6 2l27-14l0-17l5 18M335 145l10-8l2 4l14-6l-4 15l18-21l-13 7l10-4M257 391l8 15l23-1l-12 22M305 221l21 22M467 52l0 9l11 8l10-4l8 10l9 6l1 16l-6 1M701 375l-4-4l-8-8l11-16l6-11l12 1l-23 3l-4-11M357 122l4-3l-12 10l1 4l-2 6l-11 9l-6 3l16 0M465 119l-13-4l-5-3l4 2l9 3l13-5l-4 21M307 237l7 2l-12-11l-14-1l-5-4l1-13l-15-11l10-10M216 525l-8 17l8-14l-5 9l6 7l-13-15l7-4l-6 4M239 412l1-15l-6 1l-14-13l-2-4l5-11l0 2l-7 1" fill="none" stroke="#000" stroke-width="0.85" stroke-linejoin="round" opacity="1"/>
<path d="M303,555 304,557 309,557 309,556 307,555ZM356,554 355,555 357,556ZM341,552 343,555 346,555 347,554 346,552 343,552 342,551ZM297,485 298,487 301,486 301,485ZM633,448 633,450 635,452 638,452 642,454 642,451 640,449 635,447ZM666,440 666,443 668,443 669,441ZM582,432 582,433 583,433 583,432ZM639,427 638,429 640,430 642,433 641,434 642,438 646,440 649,439 649,432 647,428ZM633,413 631,416 634,415ZM663,405 663,411 664,412 670,412 672,410 676,409 676,408 669,404 664,404ZM585,397 586,403 587,403 588,400 587,398ZM629,393 627,400 628,401 633,401 635,399 635,395 632,393ZM669,384 667,385 666,388 669,392 671,393 670,390 670,386 671,385ZM648,384 650,388 653,388 655,386 654,384ZM621,378 619,380 619,383 620,385 623,386 625,383 625,379 624,378ZM674,374 673,378 676,382 676,385 677,386 681,386 682,381 677,377 676,374ZM622,362 618,362 617,363 617,368 619,370 620,370 624,365ZM693,353 691,355 691,358 685,366 685,368 688,373 696,373 697,371 697,359 696,358 696,355ZM629,351 627,353 627,355 630,358 628,364 630,367 634,367 637,365 639,367 639,372 641,376 641,369 647,364 647,361 646,360 642,360 638,363 631,357 631,353 630,351ZM636,347 637,350 649,349 653,352 657,352 658,351 655,347 647,343 640,344ZM617,343 616,346 618,347 619,344ZM668,339 666,341 668,345 665,349 660,350 661,354 662,354 665,350 669,350 673,354 671,357 667,359 665,359 662,357 661,358 661,362 664,365 670,367 677,362 678,359 676,355 677,350 671,346 671,340ZM706,342 701,338 695,340 694,341 694,344 699,347 703,347 706,344ZM644,323 640,326 641,328 643,328 645,326ZM611,325 611,329 613,331 618,331 619,330 624,331 625,330 625,327 620,327 615,321ZM676,314 674,316 669,318 669,324 676,329 676,335 678,337 679,342 682,345 687,346 688,344 684,336 688,334 689,332 686,331 683,334 679,331 682,322 680,316 678,314ZM647,312 645,312 642,316 643,320 645,320 648,317 648,313ZM616,308 613,314 615,318 620,318 624,315 623,313 619,309ZM656,294 655,293 652,293 649,295 649,297 654,297 656,296ZM620,285 619,286 619,289 621,287ZM629,279 628,282 631,283 632,280ZM617,294 611,294 608,289 609,286 606,284 604,284 601,291 601,294 600,295 594,295 592,294 581,282 577,280 577,276 576,275 571,275 565,270 560,270 554,267 551,261 543,257 539,252 533,251 526,247 523,252 520,252 518,250 519,249 519,245 516,242 507,242 505,241 500,235 498,234 492,234 482,227 476,227 475,228 473,227 467,227 460,232 454,232 451,229 454,225 453,224 450,224 447,226 443,226 439,223 437,223 433,226 433,232 434,233 432,235 429,235 421,228 417,228 414,231 410,231 404,236 399,234 393,234 387,239 382,239 380,240 377,244 374,246 365,246 363,247 361,250 363,256 359,259 356,258 357,250 355,249 348,253 345,257 338,258 333,261 330,260 326,262 327,264 330,265 332,268 329,271 324,272 318,275 314,270 307,271 303,273 298,278 290,280 285,286 275,289 267,288 263,293 260,294 260,296 258,298 250,300 250,301 240,310 238,314 238,320 239,321 243,319 245,322 242,326 238,324 236,327 237,334 238,335 235,341 234,347 235,349 238,351 238,356 237,357 238,359 241,360 246,367 246,372 247,374 255,381 259,386 262,387 265,383 268,383 270,385 270,387 276,391 285,391 289,388 299,386 300,384 305,384 306,385 304,388 304,391 307,393 327,394 333,397 335,397 340,390 344,390 346,392 348,397 356,401 367,403 369,400 372,398 375,400 381,401 388,405 388,413 386,415 386,429 385,430 386,443 384,445 385,449 383,451 380,451 378,449 368,448 362,453 358,455 358,458 359,459 363,458 365,460 361,467 355,467 351,461 347,461 345,463 347,466 347,468 341,473 340,478 344,482 345,485 347,485 353,479 355,481 355,490 347,499 344,499 342,497 342,493 340,489 336,489 334,487 335,480 333,478 331,478 330,476 322,477 320,480 321,486 318,488 314,487 310,483 313,478 310,477 305,484 305,486 310,491 314,491 317,494 314,499 314,501 312,503 310,503 307,500 307,497 305,495 298,494 296,497 296,499 294,501 290,502 285,506 280,505 280,508 282,510 281,512 281,519 280,520 274,520 273,521 275,526 280,532 282,543 285,547 285,550 282,553 280,553 280,555 283,556 287,552 288,548 291,545 299,546 301,544 305,548 306,551 308,551 309,546 312,543 321,543 322,542 323,543 323,549 325,552 325,554 327,556 332,554 335,551 336,546 338,544 340,545 341,543 338,543 333,539 331,539 328,535 323,535 322,534 322,529 325,526 328,526 335,534 339,534 342,531 349,534 353,539 353,544 350,550 353,550 358,544 361,543 363,545 363,550 364,552 369,553 371,552 372,548 375,546 377,548 374,552 374,556 375,557 380,554 381,549 383,547 385,547 388,545 388,543 381,543 380,542 380,540 385,537 387,537 391,541 396,543 406,542 410,538 415,538 415,535 414,534 412,534 408,538 405,538 402,535 402,531 413,525 418,526 420,524 427,525 427,521 426,520 428,518 431,521 431,523 433,523 434,520 432,517 432,515 434,513 435,505 436,504 439,506 441,506 444,504 451,496 453,495 460,495 463,490 471,489 472,484 476,479 479,481 483,481 487,479 490,474 494,470 497,470 506,467 510,464 512,464 514,467 517,469 518,468 530,466 538,458 540,457 542,458 546,457 551,452 555,445 562,445 567,440 569,429 572,426 573,421 577,415 577,410 579,407 578,400 583,397 584,392 586,390 591,390 594,393 594,409 595,410 595,413 593,416 594,428 591,432 591,435 592,436 591,438 591,443 588,446 587,450 583,453 582,455 584,459 584,462 582,465 582,470 584,472 587,472 594,468 597,468 598,469 602,469 609,471 612,467 615,466 616,464 622,459 627,450 627,448 631,445 631,436 624,424 625,417 624,416 624,410 623,408 620,406 617,406 613,404 610,401 604,403 599,400 595,396 595,393 594,392 596,389 596,384 590,377 590,374 592,372 593,364 594,363 594,359 591,356 591,351 592,350 597,350 603,355 609,353 609,350 608,349 600,349 598,347 597,341 599,334 593,329 593,327 595,325 598,325 600,323 600,319 604,316 604,310 600,304 602,299 605,297 608,297 613,303 616,303 618,300ZM360,534 362,532 366,532 367,533 376,532 378,534 378,538 377,540 373,543 369,540 364,540 362,539 360,536ZM391,528 392,527 393,528 392,529ZM395,528 398,526 400,527 399,530 396,530ZM313,521 316,524 313,529 306,535 305,540 301,544 299,544 293,538 292,534 301,529 301,525 303,523 307,523ZM380,523 383,520 385,520 388,523 388,525 387,526 382,526ZM351,517 358,523 359,526 358,528 355,530 352,530 344,524 344,523ZM410,515 413,514 414,516 412,518ZM324,514 325,515 324,520 322,523 320,523 318,521 318,518 322,514ZM334,512 340,517 341,521 339,523 336,523 332,520 331,518 331,514ZM310,510 313,512 313,514 311,516 308,515 308,512ZM392,507 394,509 394,516 392,518 388,518 386,516 386,514 388,510ZM298,506 300,508 299,511 302,515 300,517 294,517 287,524 283,521 283,518 285,515 285,513 287,511 296,513 297,511 295,507ZM348,501 349,500 353,500 355,505 357,505 362,502 368,508 369,511 363,515 359,515 357,513 355,508 354,508 351,512 349,512 347,509ZM327,496 331,499 331,504 329,506 323,508 321,506 322,498 324,496ZM387,397 389,398 388,401 385,399ZM321,385 323,385 325,387 323,390 321,390 319,387ZM254,372 257,371 261,373 264,376 264,378 263,379 258,379 255,376ZM583,359 586,358 587,360 584,361ZM243,353 245,352 246,354 244,355ZM416,234 418,236 417,238 414,237Z" fill="#FFA500" fill-rule="evenodd"/>
<path d="M617.3 346.4l0.2 0.1M603.5 459.3l-0.3 -0.8M622.3 408.6l-0.1 0.1M401.3 456.2l0.3 -1.4M631.8 437.3l0.2 -0.1M420.4 429.4l1.0 0.2M469.1 463.3l0.0 -0.1M603.0 416.3l-0.1 0.4M395.1 454.6l-0.8 -0.8M377.1 523.1l0.1 -0.2M337.6 268.6l-0.5 0.1M302.7 515.2l0.1 0.2M333.6 479.8l-0.7 0.2M415.8 467.9l0.5 0.8M563.9 354.4l-0.1 -0.0M354.3 500.7l1.5 -0.4M433.8 229.3l-1.0 -0.3M347.6 463.5l0.6 -0.6M407.6 408.9l-0.1 -0.1M290.0 294.9l-0.1 -0.1M260.0 372.2l0.5 -0.5M314.4 272.8l0.7 0.9M618.1 315.5l-0.6 -0.1M362.8 254.0l-0.0 -0.4M674.6 407.0l0.2 0.3M607.1 294.8l1.2 -0.5M667.9 404.1l-0.2 0.1M284.1 391.7l-0.3 -0.1M430.0 448.8l0.1 0.1M610.2 441.1l0.7 -0.3M252.6 377.4l0.1 -0.2M313.2 390.2l-0.7 0.2M370.4 497.6l0.5 0.8M618.8 325.7l-0.0 -0.1M258.0 384.4l-0.1 0.1M398.1 244.9l0.5 -0.2M446.9 484.2l0.1 0.1M470.9 486.2l0.0 -0.2M445.2 407.2l-0.1 -0.1M434.7 502.8l-0.2 0.0M671.4 363.5l-0.3 0.2M465.0 399.1l-0.0 -0.1M592.5 367.5l1.1 -0.2M653.3 388.9l-1.1 1.0M607.8 352.6l0.6 0.2M338.7 511.5l0.5 1.0M633.2 415.6l-0.1 0.6M610.8 300.4l0.4 -1.3M434.8 259.2l0.8 0.4M350.4 514.3l-0.4 -0.5M596.3 349.2l-0.1 -0.4M333.5 393.3l1.5 0.3M250.9 368.8l0.5 0.3M605.9 288.7l0.1 -0.1M367.3 396.6l0.1 0.1M450.4 469.0l-0.3 -0.3M449.3 232.9l0.2 0.3M643.9 315.0l-0.3 0.9M345.3 262.0l0.1 -0.3M620.2 383.9l0.0 0.1M325.3 493.3l0.0 -0.2M695.5 361.0l0.7 -0.2M667.1 411.3l-0.8 -0.3M567.0 348.1l-0.1 0.0M356.5 483.0l0.0 -0.1M398.6 474.3l-0.2 -0.6M604.6 350.1l-0.0 0.1M356.2 513.1l-0.0 0.1M362.4 468.9l0.8 0.2M600.4 352.7l-0.1 1.3M285.6 509.4l0.6 -1.3M399.8 515.0l-0.3 -0.9M416.9 512.9l-0.1 -0.1M399.8 493.1l-0.1 -0.1M465.9 466.0l0.3 -0.2M487.2 459.2l0.1 -0.1M318.5 493.1l-1.4 -0.6M574.5 409.2l0.2 0.1M579.4 341.3l0.8 1.2M502.0 462.7l-0.2 -0.1M601.0 302.0l-0.1 0.0M440.5 230.5l0.6 -0.9M596.3 344.7l0.0 -0.1M453.2 444.8l0.1 -0.2M361.4 481.0l-0.7 -0.1M674.1 354.9l-0.3 -0.5M487.1 460.2l-0.9 1.0M536.8 450.7l0.0 0.2M312.0 539.8l0.1 0.1M574.0 291.9l0.0 -0.2M332.5 267.4l-0.1 0.1M345.0 533.6l1.4 0.3M334.6 488.7l0.1 -0.1M402.7 400.7l-0.3 0.4M568.2 273.0l0.2 0.1M648.1 346.5l-0.1 -0.0M334.1 263.2l0.1 -0.0M404.0 389.8l0.0 0.1M566.2 420.1l-0.0 0.1M613.7 326.8l-0.1 0.0M590.1 368.5l0.0 0.3M249.2 318.7l-0.1 -0.1M287.1 544.5l-1.1 0.1M453.2 460.4l0.4 0.0M482.1 472.2l-0.7 0.5M651.3 345.5l0.9 0.4M664.4 359.0l0.5 -0.3M406.1 237.5l-0.3 -0.3M596.8 384.6l-0.0 0.1M631.1 361.1l0.2 -0.0M371.2 515.6l1.3 0.5M554.0 264.4l-0.1 0.0M407.2 502.1l0.2 0.4M442.0 455.9l0.0 0.3M419.8 432.5l-0.1 0.2M285.2 509.5l0.0 -0.7M348.6 534.0l-0.0 0.2M618.1 368.9l0.6 -0.1M309.2 480.7l-0.2 -0.1M604.8 426.5l-0.0 -0.1M593.6 469.2l0.6 -1.0M636.6 361.6l-0.5 -0.2M380.9 489.8l0.2 -0.0M437.2 263.9l0.1 -0.5M618.4 318.5l-0.2 0.2M508.5 466.7l0.1 -0.1M322.0 534.2l-0.2 -0.1M589.1 387.3l0.6 0.9M277.9 300.8l-0.3 -0.2M479.2 470.5l0.0 -0.1M370.0 450.0l-0.3 -0.6M504.5 465.6l0.3 0.4M686.9 368.8l0.8 -0.0M412.0 443.3l0.4 0.9M365.5 532.0l-0.1 0.2M276.8 388.1l-0.1 0.0M445.9 484.6l1.0 0.3M433.3 452.1l-0.1 -0.2M437.4 457.2l0.1 -0.1M307.5 549.8l0.7 -0.0M585.7 464.7l0.7 -1.1M447.8 446.4l-0.0 1.2M372.3 313.9l0.0 -0.1M598.4 431.0l0.9 -0.6M663.4 409.8l-0.1 0.1M454.7 373.5l0.0 0.5M322.7 531.2l0.2 0.6M618.0 443.2l-0.1 -0.1M537.4 269.0l0.0 0.5M670.5 405.9l-0.1 0.3M268.7 375.8l0.4 -1.2M361.0 531.1l-0.7 0.4M642.8 431.3l-0.3 -0.2M388.0 484.6l-1.2 0.7M356.4 473.7l-0.0 -1.1M584.0 464.6l1.3 -0.7M578.5 403.2l0.0 -0.6M358.3 488.6l-0.4 0.6M319.2 538.5l-0.3 -0.2M580.4 339.1l-0.2 -0.0M673.7 323.9l-1.0 0.5M349.8 259.2l0.9 -0.0M394.3 356.1l0.2 -0.0M613.8 414.2l0.1 0.1M419.3 232.7l0.4 0.3M403.9 410.3l0.4 0.1M403.6 488.5l0.1 -0.1M350.7 266.6l0.1 0.0M327.8 512.3l0.1 -1.0M398.0 459.7l0.2 0.4M406.4 427.2l-0.1 0.4M583.6 337.9l-0.1 -0.1M695.3 373.0l0.7 -0.5M678.9 327.1l-0.4 -0.1M390.2 410.3l1.6 -0.1M289.7 532.8l0.1 0.1M590.4 448.7l-0.0 0.1M376.3 499.8l0.2 -0.0M402.1 415.3l0.1 -0.1M367.5 452.4l0.1 -0.2M241.9 327.7l-0.2 0.1M576.2 391.9l-0.1 -0.1M630.7 442.4l0.2 0.3M407.0 443.9l-1.1 -0.3M586.2 363.2l0.3 0.8M424.7 444.6l-1.5 -0.2M287.8 290.0l1.4 -0.3M418.2 467.2l0.3 -0.0M384.6 463.9l-0.3 1.2M380.9 480.2l0.7 -0.0M452.5 446.3l-0.0 0.1M375.9 248.4l0.4 0.9M502.2 288.4l-1.2 -0.1M333.9 495.1l0.0 -0.1M418.9 417.9l1.5 -0.0M281.1 387.0l0.2 0.6M582.3 417.7l-0.8 -0.1M379.4 395.8l-0.2 -0.0M592.3 363.9l0.1 -0.3M622.8 317.3l-0.1 0.1M403.4 482.9l0.9 1.0M407.1 441.1l0.4 -1.1M398.6 267.3l-0.3 -0.3M338.3 504.9l-0.1 -1.5M554.9 439.4l-0.1 -0.5M252.3 299.4l0.0 -0.1M602.9 406.3l1.0 -1.0M518.4 463.6l-0.6 0.2M443.3 445.1l0.7 -0.2M384.5 400.5l-0.0 0.1M482.8 230.1l-0.0 -0.4M528.5 252.8l-0.1 -0.7M593.7 308.0l0.7 0.8M576.2 276.5l0.6 0.9M356.9 503.1l0.6 -0.1M612.7 435.1l-0.0 0.2M612.3 412.3l-0.1 0.9M244.3 314.6l0.1 0.4M325.1 489.7l-0.4 -0.4M426.4 493.3l-0.1 0.1M374.8 399.6l0.2 -0.3M595.0 303.3l-0.7 0.2M427.1 233.4l-0.7 -0.4M526.3 257.8l0.4 -0.3M322.7 483.4l0.7 -0.3M466.0 466.2l0.1 0.1M524.6 465.8l-0.1 -0.0M415.8 462.7l0.9 -0.1M271.9 291.5l-0.0 0.1M296.5 528.8l0.4 -0.1M564.6 426.6l-0.7 0.5M616.2 406.5l-0.2 0.1M696.0 359.3l0.1 0.0M344.4 499.9l1.2 0.2M407.2 406.2l-0.5 -0.1M417.6 485.9l-0.1 0.1M379.9 482.5l-0.9 -0.5M277.1 299.3l-0.1 -0.1M355.1 538.2l0.4 1.2M260.1 299.2l-0.9 -0.3M618.9 443.0l-0.4 0.1M513.5 248.4l0.1 0.2M425.8 430.1l0.0 0.2M639.7 363.4l-0.6 -0.2M617.4 413.7l0.2 -0.1M668.4 339.2l0.5 0.4M306.5 500.8l-0.6 0.3M303.6 520.1l0.4 0.4M349.1 500.1l-0.1 -0.1M411.4 460.2l-0.9 0.5M595.3 387.1l-0.0 0.2M320.5 509.9l-0.9 -0.6M408.5 506.9l-0.0 -0.1M463.7 476.4l0.4 -0.3M424.8 436.4l-1.2 0.0M309.6 521.2l-0.9 1.0M401.7 474.1l-1.0 -0.5M513.2 243.7l0.4 -0.4M315.6 515.3l0.1 0.2M611.9 420.1l-0.1 0.1M333.0 509.2l-1.4 0.5M308.4 548.2l1.2 0.4M332.3 486.2l-0.1 -0.0M613.8 416.0l-0.2 -0.1M320.7 496.6l0.2 -0.0M322.6 483.2l0.1 -0.0M384.3 509.8l-0.0 0.9M285.8 381.7l-1.0 -1.0M478.4 464.3l0.7 0.9M303.6 380.3l0.0 0.4M572.8 276.7l0.1 0.2M632.8 280.3l-0.8 0.2M302.4 505.5l-0.2 0.3M566.8 332.9l-0.1 -0.3M465.2 490.1l-0.2 0.1M623.4 408.7l-0.2 0.5M384.4 490.0l-1.2 0.2M597.3 410.1l0.7 -1.2M387.9 484.4l-0.7 0.8M287.5 530.6l-0.2 0.0M291.2 380.7l0.1 -0.1M393.3 237.8l-0.2 -0.1M304.7 500.1l1.0 -0.1M387.2 430.1l-0.2 0.2M530.0 262.3l-0.2 -0.0M671.5 323.1l-0.3 1.5M324.8 386.5l-0.3 -0.5M450.5 490.6l1.3 -0.9M483.5 473.2l-0.3 0.3M584.0 295.0l-1.5 0.4M347.6 485.8l-0.1 0.1M491.9 237.5l-0.1 -0.3M253.9 377.9l0.3 0.1M586.1 399.3l-0.0 -1.3M640.6 428.9l0.2 0.3M608.0 414.4l-0.7 -0.6M370.3 509.4l-0.1 0.1M433.3 424.1l-0.0 -0.1M363.3 489.6l0.2 0.2M426.8 505.7l-0.7 1.1M367.5 458.3l0.4 -0.2M395.4 486.1l0.3 0.1M480.4 231.1l0.5 1.3M567.3 422.2l0.1 0.1M484.4 480.1l0.2 -0.9M395.5 395.4l-0.9 -0.8M372.8 251.0l0.1 -0.0M599.7 443.0l-0.1 -0.1M347.1 504.8l-0.1 0.2M415.8 238.5l-0.6 0.0M506.4 346.4l-0.1 0.1M632.1 360.4l-0.6 -0.5M676.3 351.8l-0.6 -0.4M530.8 251.0l0.1 -0.4M553.7 439.2l-0.9 0.3M562.5 430.8l0.3 0.6M384.7 513.2l0.2 0.2M385.2 444.3l-0.3 0.7M650.4 387.9l-1.1 0.2M670.9 392.3l0.2 0.0M303.9 280.9l0.1 0.1M667.7 387.8l0.6 -1.3M338.3 497.6l0.2 0.1M270.0 300.3l0.2 0.1M614.7 324.7l0.1 1.3M269.4 381.5l0.2 -0.2M301.6 522.8l0.5 -0.2M397.9 449.5l-1.4 0.1M565.6 325.7l-0.2 0.2M565.6 424.1l-0.5 -1.4M383.7 516.3l0.0 0.1M591.6 450.1l-0.9 -0.2M573.6 303.2l0.1 0.0M318.8 543.3l-0.5 0.5M582.4 358.3l1.0 -0.0M413.4 491.4l-0.2 -0.2M642.5 433.7l-0.0 0.1M601.1 349.2l-0.2 0.1M344.6 483.1l-1.0 -0.8M307.2 543.9l-0.1 0.4M382.6 513.2l-1.0 0.1M596.4 436.9l1.1 0.2M617.8 462.5l-0.0 0.4M296.9 504.2l0.1 -0.2M536.4 264.0l0.7 0.3M325.0 480.6l-0.6 -0.1M431.9 488.8l0.6 -0.6M594.5 310.6l-0.1 0.1M585.5 458.5l0.1 -1.0M605.8 408.1l-0.1 0.1M383.7 250.1l0.0 0.2M336.0 501.3l-1.4 -0.2M425.5 435.4l0.0 0.1M568.2 278.9l-0.4 -0.4M419.4 511.4l-0.5 -0.8M415.0 494.6l1.1 0.4M338.5 392.6l0.5 -0.3M418.6 423.1l-0.4 -0.6M475.8 464.2l0.9 0.3M333.8 496.3l-0.1 -0.2M366.3 493.8l0.2 -0.3M343.1 530.6l0.3 1.2M270.2 288.6l1.1 0.7M575.3 402.5l0.1 0.8M372.9 466.7l-0.0 -0.1M456.6 491.2l0.1 -0.4M287.5 290.0l0.0 0.2M304.0 546.4l-0.5 -0.2M323.3 541.1l0.5 0.2M326.6 482.2l0.2 0.1M592.1 303.0l0.5 -0.9M578.8 370.4l-0.2 0.6M585.1 383.6l-0.2 -0.4M455.0 474.2l-0.4 -0.3M631.4 436.3l0.7 0.9M583.4 366.5l-0.1 0.1M343.1 506.2l0.8 -0.3M368.6 508.1l-0.2 0.2M640.6 452.8l-0.4 -0.8M406.7 426.4l-0.0 -0.1M526.1 250.0l-0.1 0.1M589.5 445.6l0.1 -0.1M615.8 318.8l-0.9 0.9M249.5 369.9l-0.0 0.3M335.3 482.5l-0.3 0.2M567.7 305.2l1.0 1.1M326.9 393.0l-0.1 0.1M449.7 232.4l-0.2 0.2M571.7 351.0l-0.4 -1.1M651.8 350.6l0.5 -0.1M371.1 449.5l-0.5 0.8M568.6 324.8l0.4 0.2M590.6 389.0l-0.9 0.3M594.7 443.7l0.2 0.9M357.1 518.8l0.0 0.6M264.9 293.5l-0.2 0.2M272.8 382.1l-0.3 0.6M639.6 369.5l0.1 -0.1M453.6 374.0l-0.1 -0.1M681.7 384.4l0.2 -0.1M350.1 532.2l0.5 0.6M618.7 362.5l1.3 -0.3M284.6 510.4l-1.0 -0.1M691.1 358.0l0.4 0.7M651.6 348.8l0.5 -0.1M427.0 498.7l-0.5 1.5M546.2 447.6l0.1 0.5M383.7 452.3l-1.1 -0.1M578.5 349.1l-0.4 0.1M662.9 354.9l0.1 0.1M315.5 393.2l0.0 0.2M608.3 353.2l-0.0 0.7M450.3 442.2l-0.1 -0.0M451.1 487.3l-0.4 -0.2M405.5 240.0l0.1 0.3M364.0 550.3l0.1 0.0M290.2 508.6l-1.0 -0.4M644.3 433.9l-0.3 -0.2M388.2 494.2l-0.3 0.5M597.1 444.5l0.1 0.0M344.4 531.7l-0.2 0.0M523.8 460.4l-1.0 0.4M457.7 466.5l-0.4 -0.2M452.0 229.4l0.2 -0.4M642.1 316.7l0.1 0.4M644.2 317.6l0.3 0.1M422.8 239.3l-0.1 -0.7M375.0 510.2l-0.0 0.8M422.6 445.6l0.1 -0.1M425.1 423.8l0.0 -1.5M582.6 328.5l-0.2 0.3M303.9 509.0l-1.0 0.1M292.4 506.8l0.3 1.6M585.6 398.6l0.1 -0.1M370.4 448.1l0.6 0.5M463.4 457.8l-0.1 0.1M262.9 371.1l1.5 -0.2M513.5 329.9l0.1 -0.1M267.0 291.1l0.0 -0.2M380.0 533.0l0.8 -0.7M285.0 517.0l-0.2 0.6M359.9 481.6l1.0 -0.5M316.2 306.6l-0.0 -0.2M383.7 508.7l0.5 0.7M576.0 339.0l0.2 0.1M338.2 523.9l-0.0 -0.1M312.0 272.3l0.4 0.5M485.1 480.0l0.1 -0.5M534.8 265.5l0.2 0.1M413.1 481.6l-0.7 0.4M562.4 435.5l0.4 1.2M314.6 542.9l-0.1 -0.0M334.6 510.0l-0.0 0.3M590.3 319.6l-0.6 -1.0M338.7 544.2l-0.3 0.1M576.7 407.1l-0.6 -0.9M621.0 329.3l0.0 -0.1M420.0 237.0l0.4 -0.3M390.8 355.9l0.1 0.0M583.8 388.1l-0.1 0.6M286.3 387.1l1.1 0.1M403.8 456.1l-0.1 0.0M492.1 236.7l1.2 -1.0M368.0 247.5l-0.2 0.1M656.9 350.9l-0.1 -0.2M280.4 520.1l-0.2 -1.5M364.2 458.0l-0.2 0.1M444.6 234.5l0.2 -0.3M590.1 355.1l0.2 -0.0M290.3 544.5l-0.1 0.0M592.3 314.2l0.2 0.0M265.9 377.4l-0.0 0.2M505.2 245.4l0.6 -0.3M306.0 380.3l-1.0 -0.0M263.0 385.7l-1.3 -0.3M539.1 267.6l-0.3 0.0M353.4 257.4l-0.3 0.3M242.1 351.4l-0.3 0.0M591.2 445.3l0.1 -0.6M415.3 405.5l0.1 -0.1M317.4 354.3l-0.5 -1.0M376.5 455.5l0.1 0.3M570.8 350.9l-0.1 -0.0M444.8 234.9l-0.1 0.3M336.7 393.6l0.2 0.2M591.7 381.4l0.1 -0.2M575.1 295.9l-0.0 -0.1M593.6 418.4l-0.2 -1.3M546.5 441.9l0.0 -0.7M683.2 344.0l-0.1 -0.1M428.6 463.2l0.2 -0.4M617.3 318.6l0.2 -0.3M632.0 436.3l-0.1 -0.2M323.0 497.0l-0.1 0.2M647.0 318.3l0.8 0.2M586.7 470.2l0.2 -0.2M422.6 234.7l-0.3 -0.1M593.4 369.6l-0.6 -0.7M671.4 366.5l-0.1 0.1M624.8 383.8l0.7 0.5M426.6 408.2l0.3 -0.0M291.0 505.3l0.2 0.3M641.6 362.3l0.2 -0.4M583.5 388.8l-0.2 0.0M381.9 254.7l-1.4 0.4M598.0 399.4l0.7 1.3M371.9 505.0l-1.5 -0.0M273.5 289.3l-0.0 -0.1M599.5 442.4l0.9 -0.8M365.3 457.1l-0.8 -0.2M317.3 392.5l0.2 -0.3M360.8 522.0l-0.0 0.3M502.8 252.9l0.0 -0.9M581.7 306.1l0.2 -0.1M444.7 454.1l-0.1 -0.1M545.1 258.6l0.0 -0.1M590.9 456.8l1.4 0.6M647.2 361.6l-0.0 -1.0M354.5 478.0l-0.4 -0.6M359.9 402.1l0.2 -0.1M379.9 509.5l-0.3 1.3M369.0 398.9l-0.1 -0.4M314.4 541.9l0.1 0.0M586.4 295.6l-0.2 -0.0M407.7 401.8l0.0 -0.1M438.2 502.4l-0.1 -0.1M560.4 345.4l0.1 -0.1M616.7 301.9l0.2 0.3M606.5 412.3l-0.3 -0.1M546.2 444.1l-0.1 0.1M285.7 544.8l-0.1 -0.0M487.2 232.5l0.2 -0.1M356.7 485.8l-0.2 0.1M573.2 423.0l0.1 -0.6M623.5 419.8l-0.1 0.1M551.7 449.8l-0.3 -0.4M326.5 541.2l0.1 0.1M609.4 352.3l-0.0 0.1M251.5 375.8l0.2 0.1M575.7 283.8l0.0 0.1M603.7 408.3l-1.1 -0.4M451.7 474.7l-1.1 0.0M571.6 360.0l0.4 -0.5M645.2 362.0l-0.9 -0.1M349.0 479.8l0.0 -0.2M619.2 330.9l0.6 -0.7M337.0 533.1l0.1 0.1M593.4 360.4l0.1 -0.4M245.2 320.7l-0.2 0.4M408.7 417.3l-0.1 -0.3M432.3 429.7l-0.1 -0.0M379.9 516.1l-0.1 -0.0M457.7 469.0l0.2 0.0M621.2 420.6l0.8 -0.2M362.1 251.5l0.8 -0.1M681.6 335.0l0.0 0.4M307.1 486.9l0.0 -0.2M266.5 294.8l0.1 -0.1M426.9 512.8l0.1 1.2M307.6 518.4l-0.4 1.2M337.9 524.9l0.6 0.2M349.7 483.9l-0.2 0.2M380.4 246.1l0.1 0.0M536.4 452.5l-0.1 0.0M422.0 428.6l0.2 0.1M332.0 519.3l-0.2 0.0M522.8 253.8l0.1 0.2M327.1 262.6l0.0 -0.7M624.2 410.7l0.0 -0.5M686.1 369.9l0.5 -0.6M666.1 360.9l0.2 -0.4M580.5 370.9l0.4 -0.4M652.8 351.6l0.2 -0.8M557.1 268.2l0.2 -1.1M648.4 317.4l0.0 -0.1M384.0 508.0l-0.0 0.2M411.1 443.2l0.2 0.1M472.0 485.8l0.4 -1.3M337.0 259.4l0.1 0.3M380.2 400.8l0.1 0.1M349.3 477.2l0.5 -0.4M320.0 385.4l-0.4 -0.4M414.1 499.2l-0.9 -0.0M347.2 483.5l0.1 -0.1M307.3 504.6l0.1 -0.1M381.4 515.9l0.5 -1.0M373.9 523.7l1.2 -0.6M395.7 462.0l0.7 -0.0M469.4 232.2l-0.2 -0.1M427.6 439.7l0.1 0.1M367.4 480.2l0.2 -0.9M365.3 401.2l-0.2 0.0M438.3 223.4l0.7 0.1M297.9 532.8l-0.2 0.0M433.8 520.3l0.3 -0.2M383.2 488.2l-1.0 0.0M400.0 473.5l-0.1 0.1M437.2 461.6l0.1 -0.9M252.1 311.6l-0.6 0.2M362.4 491.2l-1.4 -0.1M346.3 481.9l-0.0 0.1M633.2 367.2l0.7 -0.3M408.9 500.9l-0.1 -0.1M436.0 472.7l-0.1 -0.0M581.3 332.4l-0.0 -0.2M582.7 357.8l0.2 0.2M559.1 363.0l-0.9 -0.0M347.0 467.3l-0.8 0.1M463.2 489.6l-0.2 -0.0M530.6 449.1l0.0 -0.2M608.1 461.4l0.0 -0.1M304.9 498.1l-0.8 -0.9M595.1 394.7l-0.1 0.1M293.9 530.6l-0.3 0.4M531.5 263.0l-0.3 -0.0M423.2 236.9l0.1 -0.1M595.3 436.0l-0.1 0.1M326.1 272.5l-0.0 0.2M283.6 541.6l-0.2 -0.5M599.6 350.7l-0.2 -0.4M382.3 517.9l-0.6 0.9M577.6 339.0l0.0 -0.5M451.0 471.6l0.0 -0.1M625.6 428.4l-0.2 0.1M481.3 469.3l-0.0 -0.3M320.0 274.1l0.5 -0.5M579.3 288.6l-0.0 0.1M587.5 455.7l-0.0 0.5M340.9 262.2l0.2 -0.0M443.7 455.6l-0.6 -0.7M290.1 289.8l-0.1 0.2M395.2 505.7l0.2 0.0M589.5 344.6l0.1 -0.2M416.7 400.8l1.1 -0.4M343.8 531.5l0.8 0.3M376.6 490.3l-1.3 -0.2M399.3 286.8l-0.2 0.3M567.6 416.5l-0.4 0.3M340.9 261.1l0.0 -0.1M373.8 463.6l0.1 0.1M519.6 255.3l-0.5 0.9M585.3 376.4l-0.5 0.4M585.3 292.1l0.7 0.3M380.6 506.5l0.9 -0.2M329.2 521.4l0.2 0.5M571.8 402.3l0.9 0.2M392.4 422.5l1.2 -0.7M623.3 425.6l0.2 -0.8M431.2 486.5l-0.7 0.6M335.0 531.8l0.0 0.3M308.4 479.9l0.5 0.6M423.3 236.8l0.7 1.2M499.7 239.4l-0.0 -0.7M646.2 319.5l0.1 0.1M461.9 231.2l-1.0 0.4M421.6 497.4l-0.1 -0.5M367.4 250.6l0.9 1.0M570.7 309.6l-1.0 -0.3M346.7 512.7l-0.4 0.8M600.5 432.2l-0.8 -0.9M515.9 467.6l0.2 0.5M390.1 423.2l-0.5 0.4M613.5 302.7l-0.1 0.1M614.0 433.1l-0.5 0.3M594.4 346.6l0.4 -0.4M581.8 341.5l-0.6 0.7M458.4 487.2l0.0 0.1M443.9 470.1l0.2 -0.1M572.1 405.3l-0.9 -0.2M677.5 386.8l-0.7 0.5M393.0 475.7l0.0 -0.4M325.9 511.8l-0.1 0.1M633.5 449.6l-0.2 -0.3M524.8 252.6l0.4 0.2M314.5 500.2l0.1 0.0M333.0 523.1l0.1 0.1M332.5 271.5l-0.0 -0.1M334.2 261.7l-0.5 0.1M421.2 425.9l0.1 0.1M562.6 276.6l-0.1 0.1M340.5 265.8l0.3 -0.4M393.0 423.8l0.1 0.1M406.8 437.0l0.0 0.1M554.1 444.2l1.1 0.3M564.1 273.4l-0.5 -0.9M371.0 476.6l0.0 0.1M533.8 454.3l-1.0 -0.6M603.4 298.8l-0.1 -0.0M332.0 485.6l-1.1 1.0M341.2 497.6l-0.0 -0.2M369.1 520.4l-0.0 0.1M674.3 411.0l-0.7 1.2M438.3 429.8l-0.6 0.3M282.9 292.2l0.0 0.1M402.5 424.8l-0.1 0.1M435.6 509.0l-0.1 -0.1M587.1 471.1l-0.1 0.8M319.9 394.2l-0.3 0.5M571.2 313.3l0.2 -0.1M309.1 503.2l-0.1 -0.1M571.7 362.9l0.6 0.2M364.7 468.7l0.4 -0.3M292.6 523.1l-0.1 0.3M333.9 388.8l-1.2 -0.4M335.9 265.9l0.7 0.4M386.9 447.1l0.1 0.5M596.2 388.2l-0.6 -0.4M361.4 456.5l0.6 0.2M552.4 268.0l-0.1 0.1M321.6 496.3l-0.4 -0.3M621.4 311.9l-0.4 -0.8M290.2 535.4l-0.1 0.1M257.2 305.8l-0.1 -0.1M588.2 451.2l0.4 0.3M399.7 451.5l-0.1 -0.0M618.0 459.4l-0.1 -0.1M314.9 500.6l-0.0 0.3M363.9 521.8l-0.1 -0.1M587.3 311.2l1.2 1.0M549.8 260.7l1.0 -0.6M361.6 520.7l-0.1 -0.8M272.6 387.9l0.1 0.5M594.8 382.9l0.0 -0.1M307.1 540.2l0.4 1.2M559.9 437.6l0.0 -0.4M397.0 412.4l1.0 -0.1M326.8 519.4l-0.1 0.6M594.7 298.3l-0.2 -1.2M595.2 407.1l0.3 -1.4M632.0 399.9l0.0 -0.1M251.6 362.2l0.3 0.3M620.1 383.1l0.3 0.1M597.2 437.9l0.2 0.1M316.4 491.5l0.1 -0.6M592.7 312.3l-0.1 0.1M308.7 276.4l0.2 0.4M415.1 418.9l-0.1 -0.1M420.8 442.7l-0.6 -0.2M626.7 432.6l-0.1 0.1M457.1 484.5l-0.8 -1.1M294.2 508.6l0.3 1.4M523.5 254.6l-0.1 0.0M385.3 435.0l-0.2 0.2M597.8 445.8l1.1 -0.5M390.7 456.7l-0.0 -0.3M387.4 473.6l-0.4 0.3M451.1 447.6l-0.2 0.2M281.7 290.5l-0.8 0.9M422.0 511.2l0.1 0.1M346.7 392.0l-0.4 -0.0M571.6 312.3l-1.2 -0.0M324.5 483.4l-0.3 -0.3M593.4 446.3l-0.8 0.1M286.1 385.6l-0.2 -0.7M341.1 522.7l-0.1 0.1M266.8 378.1l0.9 0.5M551.4 264.0l-0.1 0.0M385.1 511.3l-0.0 0.1M577.8 354.7l-0.6 0.4M619.2 383.2l0.2 0.1M291.6 528.2l0.4 0.2M351.4 547.9l-0.0 0.1M335.4 497.3l-1.1 -0.3M286.5 390.2l0.1 -0.4M350.7 482.0l0.0 -0.5M298.1 494.8l1.2 -0.0M373.4 493.2l0.4 -0.0M438.6 496.8l-0.1 -0.1M249.5 367.4l1.5 0.2M410.2 239.1l0.1 -0.1M283.9 530.5l-0.1 0.2M354.7 515.7l-0.1 0.1M287.4 550.8l-0.9 1.2M387.3 470.5l-0.1 0.0M339.3 507.7l0.2 0.2M315.0 490.0l-0.5 -0.3M305.3 283.3l0.2 -0.1M422.3 478.1l-0.2 0.1M378.6 476.4l-0.2 0.1M386.0 470.7l-0.7 -0.4M529.2 256.1l-0.1 -0.1M646.5 432.5l-1.4 0.6M634.4 449.2l-0.2 -0.0M472.5 227.5l-0.1 0.0M299.6 338.8l-0.2 0.3M628.9 447.3l0.3 0.0M375.7 390.8l0.6 -0.4M250.6 311.8l0.1 0.0M391.3 423.7l-0.3 0.8M564.3 290.6l0.1 -0.1M602.8 402.5l0.6 -0.2M465.1 462.4l0.3 0.2M374.1 253.3l-0.0 -0.5M580.4 324.8l-0.7 -0.1M476.7 231.8l-1.2 -0.3M362.5 526.0l-1.2 0.0M273.6 387.5l-0.1 0.1M305.2 514.2l-0.2 0.4M296.7 385.2l0.2 0.3M357.6 467.1l-0.2 1.1M352.7 496.6l1.3 0.0M410.1 420.0l0.0 0.1M324.9 486.0l-0.2 -0.4M593.3 328.6l0.5 0.5M559.0 361.1l-0.5 -0.2M449.1 444.4l-0.1 -0.1M420.2 478.1l0.2 -0.1M366.8 487.0l0.0 0.1M430.9 498.4l-0.0 0.1M354.6 479.2l-0.7 0.5M288.5 543.8l-0.1 -0.0M613.8 314.6l0.6 0.5M617.4 446.0l0.1 0.4M496.9 461.9l0.5 0.2M298.3 505.5l-0.0 0.3M318.6 533.3l-0.0 -0.2M641.4 372.2l0.4 0.4M329.2 489.8l-0.5 0.1M347.7 390.5l0.3 0.0M594.9 322.6l0.0 0.2M358.6 467.8l-0.6 0.2M378.1 394.3l0.1 0.1M592.5 438.4l-0.9 0.9M562.2 428.2l0.8 0.8M637.3 452.9l0.0 0.1M388.0 504.4l1.4 0.5M480.0 229.6l-0.0 -0.1M400.7 485.5l0.8 -0.9M320.2 498.7l-0.1 0.9M478.3 475.7l0.8 -0.2M385.4 518.1l-0.2 -0.0M302.8 513.8l0.9 -0.9M536.0 456.2l0.3 1.4M535.3 455.1l-0.2 0.1M569.6 337.2l-0.9 -0.6M604.8 412.5l-1.3 -0.4M622.8 449.4l-0.7 -1.1M587.3 289.5l0.1 -0.2M536.7 260.1l-0.2 -0.6M352.9 493.9l-0.3 0.1M343.3 554.4l0.6 -1.1M605.7 288.1l0.1 0.1M446.9 233.5l0.1 0.3M400.4 462.1l-0.4 0.6M392.3 461.0l0.3 -0.3M301.1 508.0l0.6 0.3M372.2 463.2l-0.4 0.3M647.4 440.7l0.3 -0.2M588.4 375.3l0.1 0.0M328.8 478.3l0.3 0.0M329.6 554.7l-0.1 -0.4M389.7 426.8l-0.1 0.1M405.7 432.7l-0.8 -0.3M641.7 327.5l0.6 -0.4M512.1 462.1l-0.1 -0.1M421.3 230.2l0.0 0.2M598.4 305.5l-0.7 0.1M271.1 381.2l0.2 -0.1M593.1 318.2l-1.0 -0.5M671.1 364.1l0.2 0.2M625.9 452.7l0.3 -0.3M382.9 512.1l0.5 0.1M637.7 348.1l0.7 0.4M314.9 532.6l0.2 0.1M310.9 508.2l-0.3 -0.6M471.5 228.1l0.1 0.0M402.3 442.6l-0.2 -0.0M241.5 352.9l-0.1 0.0M375.9 507.6l-1.2 0.3M262.2 382.3l-1.3 0.7M625.0 327.2l0.0 -0.5M360.9 472.9l-0.1 -0.0M685.2 332.5l-0.9 -0.4M387.4 520.0l0.1 -0.1M483.8 468.6l-1.1 0.2M379.8 462.0l0.0 0.3M582.2 295.1l0.4 0.0M466.5 228.7l-1.4 0.5M455.9 489.7l0.0 -0.9M446.9 457.5l-0.1 0.0M360.1 496.3l0.9 -0.5M345.6 388.0l-0.6 -0.6M303.2 500.4l-0.5 0.1M603.1 292.4l0.2 0.2M474.0 476.7l-0.1 -0.2M593.6 320.7l-0.0 0.1M676.5 384.8l0.1 -0.1M415.0 408.1l0.3 -0.5M574.4 312.3l1.0 0.3M322.5 479.6l0.0 -0.1M453.0 495.5l-0.0 0.1M418.7 432.3l-0.3 -0.6M517.3 465.3l0.7 0.2M337.8 395.0l0.6 0.1M669.1 343.6l0.1 0.3M568.7 433.2l-0.2 0.1M322.4 525.5l0.2 0.2M353.9 545.2l-0.1 0.3M464.7 388.8l0.0 -0.2M593.3 329.7l0.1 0.4M327.7 513.0l0.4 -0.3M415.5 231.3l-0.5 1.1M336.8 259.3l-0.6 -0.6M588.1 294.8l0.0 0.2M403.0 518.1l0.4 0.1M335.3 531.5l-0.8 0.4M323.4 492.7l0.1 -0.3M363.5 391.2l-0.7 -0.3M584.6 358.4l-0.2 -0.3M386.0 516.5l0.1 -0.0M338.8 531.8l-0.1 0.4M324.5 481.6l-0.4 0.8M392.3 492.5l0.1 -0.8M600.4 407.7l0.2 -0.1M355.1 484.0l-0.1 -0.5M539.0 255.1l0.2 -0.1M374.9 249.9l-0.3 -0.7M622.8 331.9l-0.7 -0.0M337.7 496.8l-0.3 1.4M610.6 417.7l-1.1 0.5M401.9 395.1l-0.9 -0.8M398.5 414.2l0.1 0.1M584.9 287.1l0.6 -0.0M338.8 263.8l-0.7 -0.1M456.0 480.4l0.1 0.1M319.5 523.3l0.0 -0.2M245.4 316.2l-0.7 -1.3M462.5 457.6l0.1 -0.1M533.7 267.2l-0.1 -0.3M370.1 398.3l-0.4 0.3M343.9 530.9l-0.1 0.1M243.0 339.9l0.1 -1.2M464.5 463.7l0.4 -0.3M605.4 434.3l-0.8 -0.5M587.2 358.8l-0.9 0.1M386.6 435.2l0.7 1.4M564.2 427.6l0.3 -0.5M432.7 473.8l0.4 -1.2M345.1 519.7l0.2 -0.2M389.7 246.8l-0.1 -0.0M256.8 371.5l0.2 0.1M445.3 446.6l0.2 0.1M362.4 456.8l0.4 0.3M330.4 521.4l0.3 -0.3M455.7 487.2l0.6 -0.0M427.9 455.0l-0.0 -0.7M320.6 533.3l-0.1 -0.1M628.7 397.9l-0.5 0.3M427.1 448.1l0.2 0.3M321.0 543.8l0.1 0.1M315.0 270.2l-0.2 -0.1M622.0 314.8l0.1 -0.2M530.2 251.7l0.2 0.2M611.6 426.0l-0.1 -0.0M589.5 328.6l0.1 -0.6M417.6 419.8l0.1 0.1M300.5 519.5l-0.2 -0.0M366.9 488.9l0.2 -0.1M240.3 313.9l0.1 -0.0M279.8 381.2l-0.3 0.1M617.3 411.4l0.1 -1.6M251.3 368.5l1.1 -0.3M677.3 359.3l1.0 -0.3M380.4 336.7l0.0 0.2M608.8 349.9l0.1 -0.1M336.6 389.2l-1.4 0.4M368.3 460.6l0.2 -0.4M309.1 389.8l1.0 -0.4M605.7 438.1l-0.7 0.2M630.8 440.6l0.3 -0.0M329.1 271.8l0.2 0.0M371.2 510.0l-0.1 -0.1M302.1 521.6l-0.9 -0.8M553.4 447.2l-0.4 0.8M356.6 484.6l-0.2 -0.2M379.1 474.4l0.0 0.1M387.6 477.4l-0.1 0.0M685.9 334.2l0.3 0.0M523.4 252.6l-0.0 0.6M534.8 264.1l-0.3 0.7M575.3 281.9l-0.8 -0.7M334.7 480.5l0.2 0.3M539.9 264.6l-1.0 0.3M599.8 352.7l-0.1 -0.6M327.8 546.2l0.2 0.1M359.9 522.3l-0.2 -0.3M467.2 476.5l0.0 0.1M687.5 346.2l0.6 1.3M612.9 405.4l-0.1 -0.2M323.4 537.0l-0.9 -0.4M594.5 449.1l-0.1 -0.5M265.4 376.9l0.1 0.1M443.6 229.9l-0.1 0.2M299.6 280.8l0.1 -0.1M419.0 496.7l0.0 0.1M439.1 457.8l0.0 0.6M443.8 233.5l-0.1 -0.1M597.5 332.2l-0.0 -0.2M560.6 431.2l-1.1 -1.1M668.8 404.3l-0.0 0.3M432.6 510.2l-0.1 0.9M673.0 364.3l1.0 0.1M432.0 460.2l-0.2 -0.1M449.7 441.5l-0.1 0.3M311.5 361.4l-0.1 -0.3M335.0 542.4l-0.1 1.6M429.7 506.2l-0.4 0.2M356.8 255.8l0.2 1.4M623.3 415.6l-0.3 -0.6M400.6 261.7l1.0 0.3M320.8 384.7l-0.2 -0.5M367.2 255.0l0.7 0.9M324.4 489.5l0.1 -0.4M628.2 354.0l1.1 -0.3M344.5 527.9l0.0 0.3M671.5 342.5l0.0 0.1M493.8 246.7l-1.4 -0.4M470.1 455.7l0.1 -0.1M417.2 491.3l0.6 0.9M316.5 275.0l1.1 -0.7M482.5 236.0l0.3 1.5M446.3 230.3l0.1 0.0M305.5 275.3l-0.8 0.3M412.3 464.1l-0.9 -0.6M334.9 512.1l-0.5 0.4M437.5 237.7l-0.1 0.2M460.9 480.7l-0.1 -0.1M382.4 489.1l0.7 -0.1M325.1 274.2l-0.0 0.1M389.1 467.1l-0.3 -0.2M263.8 298.1l-0.3 0.4M575.6 408.2l-0.1 -0.4M508.4 245.3l0.7 -0.4M442.8 228.2l1.3 0.7M416.8 480.5l0.3 0.3M600.6 318.8l-0.4 -0.1M559.3 338.6l0.1 0.6M448.8 487.3l-0.1 0.1M579.9 284.2l-0.1 0.1M519.1 247.8l-0.3 -1.1M288.2 530.9l0.1 0.0M386.2 506.4l-0.2 -0.1M324.7 525.6l-0.8 -0.4M565.0 340.3l0.7 0.1M680.1 379.4l0.4 -0.3M352.8 493.4l-0.3 -0.0M308.6 384.3l-1.2 0.4M642.7 325.3l-0.9 1.3M589.0 354.1l-0.1 -0.4M687.5 342.7l0.7 -0.9M453.5 495.1l0.5 -0.1M399.4 484.2l0.8 -0.7M463.3 467.3l0.1 -0.1M244.1 351.3l0.1 -0.0M303.0 542.0l0.1 0.0M588.0 294.7l0.1 0.0M382.5 402.8l-1.1 0.8M480.4 474.4l-0.5 0.2M309.5 508.8l-1.0 -0.2M330.8 549.6l-1.2 0.7M468.6 232.0l0.5 -0.4M448.0 473.9l-0.1 -0.5M475.0 465.1l-0.5 -0.6M349.6 534.2l0.3 0.3M675.9 317.3l0.2 0.0M498.4 464.7l-0.9 -0.8M319.7 394.0l0.6 1.0M304.7 380.3l0.1 0.2M573.0 356.6l-0.4 0.4M438.7 445.9l-1.0 -0.5M310.9 509.2l-0.5 -0.2M579.5 391.4l-0.1 -0.1M440.9 450.9l0.1 0.1M615.2 416.0l0.5 0.0M625.2 329.1l-0.3 0.5M647.2 317.9l0.5 1.5M284.1 523.8l0.1 -0.1M387.4 397.9l0.1 0.3M465.9 460.4l-0.8 -0.7M297.1 524.4l-0.5 0.8M579.7 287.8l0.6 -0.7M452.3 484.5l0.4 -1.5M584.1 290.8l-0.4 -0.9M613.2 297.0l0.5 0.4M560.6 438.3l-0.2 0.3M424.3 471.4l-0.2 0.7M361.1 478.7l-1.4 -0.0M409.0 232.4l0.4 0.6M679.8 333.0l-1.1 0.4M615.5 438.1l0.3 -0.1M291.8 290.0l0.2 -0.2M307.3 483.9l-0.8 -0.2M454.2 457.5l-0.2 0.0M384.4 503.0l-0.1 -0.3M349.5 532.9l0.6 -0.1M321.0 393.5l-0.1 0.7M390.8 506.5l-0.4 -0.0M588.5 316.9l-0.1 0.1M693.2 357.2l0.3 -1.4M443.8 456.2l0.1 0.0M603.6 419.1l-0.1 -0.2M591.7 292.4l-0.4 -0.1M527.1 461.4l0.2 0.1M295.7 384.0l0.1 0.1M287.3 384.5l0.8 0.1M379.9 461.9l0.4 -0.3M290.5 284.8l0.6 -0.5M568.2 282.8l-0.3 -0.0M687.3 345.4l0.2 0.1M560.3 416.1l-0.4 0.1M298.5 526.5l0.0 0.3M674.9 352.2l0.6 1.1M527.8 259.3l0.1 0.0M364.3 392.2l-0.1 0.1M596.3 446.7l-0.1 0.3M592.1 326.8l0.5 -0.4M560.8 440.7l0.2 -0.0M363.1 489.4l0.0 0.4M486.8 465.8l-0.1 0.1M596.3 303.8l-0.1 -0.1M352.9 493.4l0.2 -0.1M514.2 466.4l0.1 0.1M390.1 478.0l0.4 -0.4M463.0 231.8l0.0 0.1M572.2 331.0l-0.1 -0.0M601.8 292.6l-0.8 -0.9M504.4 461.6l-0.1 0.0M670.3 384.4l0.1 0.2M577.7 356.2l0.7 0.0M571.1 418.9l1.3 -0.7M281.0 289.1l1.2 -0.2M666.3 411.9l-0.1 -0.1M402.3 411.5l0.7 -0.4M646.1 438.6l-0.0 0.5M610.1 407.1l-0.8 -0.7M416.2 429.7l0.2 0.1M589.3 301.7l0.1 0.1M486.4 304.9l0.1 0.1M646.5 314.4l0.5 -0.2M289.0 285.8l-0.0 -0.1M334.5 386.8l-0.3 0.5M564.6 356.0l-0.6 0.4M666.6 363.1l-0.6 -0.3M322.9 537.1l-0.4 1.3M630.8 358.3l-0.1 0.1M578.9 321.0l-0.3 -0.0M375.8 485.0l-0.6 -0.1M592.8 380.4l-0.9 -0.6M512.7 340.8l0.2 0.8M677.1 377.4l0.1 0.0M363.3 517.8l-0.0 -0.2M458.1 454.7l-0.1 -0.1M602.8 299.3l0.5 0.9M394.8 397.5l-0.1 0.0M458.8 487.9l-0.9 -0.2M339.8 277.1l0.1 -0.1M451.7 440.4l-0.1 0.4M285.0 533.6l-0.1 -0.3M450.6 487.2l-0.1 0.0M370.2 479.5l-0.4 -0.0M332.2 485.0l-0.0 -0.8M435.3 507.5l0.9 -0.9M314.0 533.6l0.2 -0.6M361.4 477.3l1.1 0.8M345.1 483.8l0.0 -0.4M591.0 336.4l0.2 -0.1M363.8 259.9l-1.0 0.4M391.0 398.3l-0.0 -0.1M285.8 548.6l0.0 0.5M422.4 340.1l1.2 -0.3M307.3 382.3l-0.4 0.5M357.0 520.0l-1.4 -0.4M382.9 530.9l-0.2 0.0M281.0 512.3l-0.3 -0.5M417.8 230.5l-0.5 -0.0M623.1 313.3l-0.1 -0.3M680.2 381.0l0.4 0.3M456.4 489.4l0.1 -0.0M619.9 429.9l-0.4 0.0M329.9 511.4l0.3 -0.2M572.0 414.3l0.0 0.1M335.3 391.1l-0.2 0.0M410.3 417.2l-0.3 0.1M377.8 246.8l0.9 0.2M317.9 515.8l0.2 1.4M388.6 393.6l-0.2 -0.2M615.5 450.8l0.0 -0.2M668.1 406.8l-0.1 -0.1M686.2 370.0l-0.2 -0.6M419.5 467.8l-1.0 0.7M544.4 268.6l-1.3 -0.3M597.7 344.0l-0.2 -1.5M253.1 371.0l-0.1 -0.3M509.1 464.7l-0.3 0.3M325.7 490.7l0.6 -0.2M372.2 467.4l0.1 -0.2M448.6 471.3l-0.3 0.2M596.7 402.3l0.3 -0.2M327.5 510.8l-0.1 -0.1M405.4 430.3l-1.0 -0.5M608.9 404.5l-1.0 0.4M619.3 328.5l0.1 -0.0M580.3 379.6l1.0 0.6M568.8 278.9l-0.0 -0.1M582.2 383.0l-0.8 0.7M661.4 354.9l-0.1 -0.0M668.4 408.3l-0.5 -0.1M590.0 292.2l-0.3 -0.0M397.6 437.5l-0.2 0.2M592.3 444.7l0.5 0.3M541.0 265.5l-0.1 0.1M533.7 255.9l0.1 0.1M348.7 519.7l-0.1 -0.1M613.5 314.1l0.9 0.9M331.7 551.8l-0.3 -1.4M288.5 545.2l-0.3 0.7M429.1 429.3l0.2 0.2M515.6 462.0l-0.0 0.2M253.9 307.7l-0.1 0.0M594.7 417.2l-0.5 0.2M427.9 514.3l-0.1 -0.1M266.4 302.5l-0.2 0.7M608.1 440.7l-0.1 0.1M461.1 473.8l0.5 -1.1M375.1 451.8l0.4 -0.9M333.2 482.8l0.1 0.4M584.0 356.2l-0.3 -1.4M361.2 348.0l0.0 0.1M508.4 466.3l-0.2 -0.3M350.4 264.6l-0.3 1.2M656.9 351.7l0.0 -0.1M394.5 410.9l0.1 -0.1M448.5 446.4l0.4 0.7M288.3 294.4l0.1 0.1M613.1 460.1l0.1 0.1M414.1 522.3l-0.0 -0.1M412.2 476.7l0.0 -0.4M449.7 472.3l0.1 -0.0M537.2 455.1l0.0 -0.2M423.3 432.0l0.5 0.1M416.5 509.7l0.1 -0.1M605.3 403.0l-0.3 0.2M377.6 546.2l0.7 -1.3M616.6 416.9l-1.5 0.2M389.7 424.5l-0.2 -0.3M409.6 501.7l-0.2 0.6M617.1 331.8l-1.1 -0.3M367.5 505.3l-1.2 0.6M607.8 427.9l0.2 -0.1M332.8 267.4l-0.8 -1.2M372.1 490.0l0.1 0.2M573.2 276.4l0.7 1.4M437.2 233.6l-0.5 0.6M312.2 270.1l0.1 0.3M364.3 515.1l0.2 0.0M681.1 386.8l0.0 -0.6M353.0 481.0l-0.2 0.9M593.0 305.3l-0.8 -0.5M405.5 436.2l-0.1 -0.3M590.7 365.7l0.1 -0.0M284.0 537.6l-0.0 0.1M302.7 378.3l0.0 0.1M598.4 404.9l0.2 0.5M697.9 339.6l-0.5 -0.1M625.5 327.9l-0.0 1.5M465.0 470.6l0.3 -0.7M353.6 474.1l0.1 0.0M585.7 399.2l0.1 -1.2M359.7 526.5l0.6 0.1M385.6 490.5l0.2 0.2M603.3 439.2l-0.7 0.2M403.7 460.4l-0.6 0.3M448.3 462.3l-0.0 0.2M476.5 475.1l-0.5 -0.5M307.2 281.4l1.1 -0.5M447.1 485.9l-0.1 -0.1M657.7 349.5l-0.5 0.5M301.7 525.1l-0.4 0.8M597.3 344.3l-0.5 -0.7M620.3 317.5l0.7 0.9M486.2 234.0l0.7 0.3M369.9 254.2l-0.3 -0.9M354.9 512.5l-0.7 -0.4M376.7 457.1l-0.1 -0.0M330.6 505.7l-1.1 -1.0M366.6 500.8l0.3 0.2M460.8 233.5l0.1 1.0M467.2 450.9l-0.1 -0.1M575.8 285.8l-0.4 -0.1M384.0 499.7l-0.2 -0.4M627.1 354.6l-0.2 0.1M352.0 500.0l-0.1 -0.2M431.7 506.1l0.2 -0.1M397.0 511.7l-0.1 0.1M498.9 237.3l-0.1 -0.3M389.1 486.5l-1.4 0.4M313.1 505.8l0.4 -0.2M396.2 525.7l-0.3 0.1M248.1 320.0l-0.6 -0.6M340.9 545.3l-1.0 0.4M318.8 383.3l0.1 0.2M331.5 527.1l0.2 -0.4M583.0 299.8l-0.1 -0.1M495.5 464.8l0.0 0.1M316.2 541.0l-0.3 0.2M451.3 274.7l0.1 0.1M415.4 516.5l-0.1 0.0M611.3 439.7l-0.1 -0.1M370.6 351.1l0.1 -0.2M623.8 329.0l0.1 -0.2M322.0 532.7l0.2 -0.2M692.7 361.5l-0.4 0.2M605.9 418.4l-0.4 0.5M593.7 296.3l-1.3 0.4M590.4 376.0l0.0 -0.1M511.1 243.9l0.2 -0.0M591.1 349.0l0.1 0.1M520.9 252.3l1.4 -0.0M421.5 441.5l0.6 -0.0M426.7 485.0l-0.9 -0.8M348.6 527.8l-0.7 0.6M452.1 269.9l1.3 -0.2M343.1 388.1l0.1 -0.1M481.4 233.3l0.0 -0.1M416.6 410.0l-0.1 -0.1M540.4 450.6l0.9 0.1M688.9 369.8l-0.0 0.1M244.6 361.8l0.2 0.8M246.7 356.1l-0.1 0.8M324.4 274.3l-0.5 1.0M570.9 305.7l0.1 0.7M354.4 547.3l0.9 0.1M359.4 535.6l0.6 -0.3M449.6 230.5l0.3 0.8M446.9 437.0l0.1 -0.1M428.7 433.8l-0.0 0.5M529.6 454.8l0.1 -0.0M608.8 349.9l-0.2 -0.0M392.4 432.9l0.9 0.2M634.3 451.3l0.1 -0.2M319.0 491.1l0.4 -0.1M409.3 495.7l0.0 -0.1M362.6 486.4l-0.1 0.0M567.6 279.5l0.9 -1.1M291.4 384.9l0.8 -0.3M365.2 478.7l-0.0 0.1M627.5 353.6l0.9 0.6M370.2 516.8l-0.1 0.1M591.5 326.0l0.1 0.1M380.9 491.1l0.0 0.1M263.1 293.3l0.5 0.6M468.2 470.0l0.0 -0.1M578.3 405.0l-0.3 0.3M415.6 262.2l-0.1 -0.6M299.4 506.9l0.3 0.3M313.3 274.0l-0.0 0.3M309.7 511.2l-0.6 0.5M424.2 234.6l0.3 -0.1M588.8 289.8l-0.2 -1.4M378.8 470.6l0.0 0.1M669.1 358.7l-1.3 0.8M245.5 322.8l-0.2 -0.0M476.3 472.4l1.2 0.6M310.2 533.7l-0.1 -0.1M684.0 341.5l-1.0 0.0M587.8 299.4l0.7 0.6M289.1 531.4l-0.7 -0.1M591.1 371.8l0.4 0.4M327.6 261.2l0.6 0.2M331.8 539.9l-0.1 -0.0M377.2 452.0l-0.3 1.1M282.5 515.6l0.4 -0.5M391.6 470.5l-0.1 -0.1M336.7 527.8l-0.1 0.1M345.0 263.1l0.1 -1.6M596.0 350.8l0.1 0.0M676.5 377.5l0.3 0.2M642.7 432.0l-0.3 0.3M312.1 503.3l0.6 -0.4M259.6 382.7l-0.1 0.4M536.0 455.4l0.3 0.1M384.6 499.4l-0.0 0.4M399.3 453.1l-0.1 0.3M420.6 431.3l-0.1 0.1M326.6 509.0l0.0 0.1M603.7 349.3l0.3 -0.3M451.7 442.9l0.2 -0.1M543.5 274.7l0.3 -0.5M644.6 344.4l0.0 -0.3M454.5 460.0l0.2 0.4M265.4 299.0l-0.1 -1.0M609.6 438.2l0.9 -0.6M302.3 516.9l-0.0 0.2M257.0 370.8l-1.3 0.7M389.1 509.6l-0.1 0.4M591.7 344.2l-1.1 -0.3M268.4 297.1l-1.0 -1.2M635.1 452.6l0.2 0.1M342.3 530.9l0.2 -0.1M665.3 350.8l-0.2 -0.2M309.0 275.7l0.9 0.5M356.6 512.6l-0.2 -1.1M286.4 507.1l-0.8 0.9M623.5 420.9l-0.1 -0.4M346.5 465.3l-0.4 -1.3M623.4 451.9l-0.3 -1.2M395.6 273.9l-0.1 0.2M327.7 386.2l-0.4 0.6M681.0 333.2l0.0 0.1M364.5 517.0l-1.0 0.5M595.2 383.6l0.3 0.2M308.4 546.7l-0.1 0.2M426.8 408.9l-0.1 0.1M412.5 402.0l0.1 0.2M426.2 419.3l0.5 -1.3M551.2 447.1l0.1 -0.0M290.9 383.3l0.3 -0.2M608.9 413.1l0.8 0.7M644.2 326.8l-1.1 -1.2M553.4 446.5l0.4 0.4M353.3 250.1l1.3 -0.6M277.4 529.0l-0.8 0.4M395.7 506.2l-1.2 1.0M465.5 486.2l-0.1 0.0M434.1 425.9l1.0 0.7M563.4 340.9l-0.1 -0.2M414.1 493.7l-0.6 -0.4M322.7 391.4l-0.9 1.0M390.5 400.3l-0.1 -0.2M247.6 357.4l-0.0 0.1M673.8 317.5l0.0 -1.0M625.7 449.5l0.1 -0.1M429.9 445.2l0.3 0.2M423.9 431.9l-0.4 0.1M486.3 230.4l0.5 -0.1M270.5 381.2l0.2 -0.1M385.5 502.9l-0.3 -0.2M574.6 339.9l-0.1 0.1M263.0 299.3l0.4 0.0M405.1 527.5l-0.0 -0.2M320.4 488.0l0.5 0.6M678.6 339.6l0.5 -0.7M464.0 453.5l-0.4 1.4M642.9 433.5l-0.8 -0.2M502.6 241.9l0.1 0.2M388.2 429.4l-0.1 -0.0M398.2 456.4l-0.7 -0.2M636.7 348.5l-0.4 -1.1M587.8 457.0l-0.4 -0.9M421.3 480.0l-0.0 0.1M346.8 464.8l-0.1 0.2M337.8 534.9l-0.1 -0.1M587.8 299.1l-0.0 0.1M394.7 475.2l0.0 -0.1M240.9 330.2l-0.0 0.5M342.5 261.5l0.4 0.0M505.5 285.9l-0.8 0.9M580.7 390.2l-0.2 -0.3M570.9 309.4l0.0 0.2M400.6 403.0l0.8 -0.4M558.6 281.2l0.1 -0.2M589.5 448.9l-0.7 -0.2M591.4 355.3l-0.3 0.6M323.0 494.1l-0.1 0.4M440.6 238.5l-0.0 0.2M373.8 252.0l-0.8 0.5M416.5 480.6l0.6 0.2M614.0 463.9l0.8 0.2M436.8 226.4l-0.7 0.0M404.7 395.5l0.2 -0.0M275.9 294.1l-0.2 0.2M454.4 457.4l1.2 -0.6M574.4 359.6l0.0 1.2M428.3 460.2l0.1 0.1M395.8 423.7l-0.2 0.0M552.1 438.1l0.0 0.2M351.7 394.0l0.1 -0.0M610.8 433.5l-0.6 1.3M303.0 384.0l-0.3 -0.1M423.3 445.0l0.3 -0.0M311.9 531.1l0.7 -0.5M324.0 544.4l-0.3 -0.5M421.1 406.3l-0.2 -0.0M436.3 500.1l-0.1 -0.7M596.6 312.4l-0.9 -0.1M680.6 379.2l1.3 0.0M667.8 442.5l0.9 0.3M364.8 398.8l0.0 0.3M565.3 351.6l-0.1 0.0M399.7 412.4l0.1 0.1M604.9 349.4l0.1 -0.0M376.0 457.9l0.2 -0.1M254.7 370.6l0.2 0.9M575.0 279.9l0.2 0.1M643.7 320.4l0.2 0.2M325.3 387.1l-1.0 -0.3M534.1 310.7l0.2 0.4M619.5 421.4l0.4 0.1M518.2 253.1l0.2 0.0M587.8 385.8l-0.3 -0.4M403.9 487.2l-1.2 -0.6M380.3 458.2l-0.5 -0.2M315.1 512.9l0.2 -0.3M468.3 469.8l-0.1 0.2M644.7 348.7l-1.6 -0.2M438.8 498.8l-0.1 -0.3M643.4 365.1l-0.3 0.0M388.0 502.6l0.1 0.0M256.7 377.3l0.2 -0.5M254.7 374.3l0.5 -0.1M579.3 288.6l0.1 0.3M390.7 450.6l0.0 -0.1M591.7 389.7l0.9 0.3M326.9 494.6l0.1 0.1M509.3 344.3l-0.9 -0.6M476.2 477.7l-0.4 0.7M679.3 319.6l0.2 0.0M436.6 332.5l0.7 -0.8M625.4 443.9l0.1 -0.4M604.0 453.6l-0.1 -0.0M345.4 481.7l-1.2 -0.8M298.0 501.0l-0.9 0.8M586.5 319.8l-0.1 0.0M303.9 556.5l0.1 0.1M322.3 497.1l-0.1 0.0M273.9 294.7l-0.2 0.2M673.0 362.4l0.2 0.1M405.6 425.2l-0.3 0.2M668.5 347.4l-1.2 0.0M613.5 421.5l0.6 -1.1M459.4 493.6l0.9 -0.2M360.3 402.5l0.2 0.2M623.7 423.6l0.1 -0.1M592.2 328.4l1.3 -0.7M371.7 488.4l-0.6 0.3M398.9 433.3l-0.1 0.1M347.1 258.5l-0.2 -0.2M539.2 454.2l0.7 0.5M434.1 258.9l0.1 -0.1M569.1 286.7l-0.3 0.5M302.2 505.6l0.4 0.3M393.5 404.5l-0.2 0.2M269.0 381.7l-1.3 0.5M353.9 395.2l-0.7 -1.4M328.2 488.4l-0.0 -0.2M290.3 284.0l-0.1 0.2M329.8 493.1l0.8 -0.9M610.8 411.6l0.4 0.4M594.4 385.2l0.5 0.5M347.7 508.6l0.7 1.1M337.1 506.1l0.1 0.1M404.1 485.4l-0.5 0.8M478.2 478.2l0.0 0.4M413.0 427.5l-0.1 0.1M379.8 521.4l1.0 -0.3M367.3 553.7l-0.3 0.0M540.4 454.1l-0.1 0.5M359.8 259.4l-0.7 -0.3M450.8 228.8l0.0 -0.1M594.5 304.9l-0.1 1.5M368.7 399.9l-1.3 0.1M618.3 444.2l0.1 0.1M309.0 280.6l-0.0 -0.1M349.2 497.4l-0.6 -0.6M459.5 455.3l-0.1 -0.2M644.1 348.1l-0.3 -0.6M607.9 465.7l-0.5 0.0M393.3 517.3l-0.1 -0.5M646.4 343.2l0.2 -1.0M686.2 342.7l0.5 -0.1M597.7 303.0l0.0 0.5M286.7 536.0l1.3 0.8M571.4 402.0l-1.3 -0.8M339.7 543.9l0.4 0.1M533.7 461.7l1.0 0.7M584.4 381.2l-0.2 0.0M597.9 410.5l-1.2 0.7M319.9 506.1l1.1 0.1M371.7 532.2l0.1 0.5M325.9 542.1l-0.1 -0.0M533.8 270.1l0.2 -1.2M252.9 301.5l-0.4 0.2M384.9 533.5l-0.1 0.4M335.6 267.8l1.0 -1.1M587.5 448.8l0.5 -0.2M684.8 343.2l1.1 -0.2M275.2 387.6l-1.1 -0.4M326.4 535.1l0.1 -0.1M592.7 434.6l0.3 -0.9M579.9 350.7l0.9 0.5M374.6 518.3l-0.2 -0.4M409.0 501.4l0.7 -0.4M435.0 230.5l0.1 -0.1M296.8 541.6l-1.0 0.1M339.8 386.9l-0.4 0.4M250.1 373.6l0.8 0.3M381.8 531.7l-0.2 -0.1M656.0 349.3l0.3 0.0M606.9 429.7l0.1 0.3M582.9 343.4l0.7 0.6M532.6 405.6l0.5 -1.2M557.9 443.7l0.3 -1.2M295.9 517.5l-0.1 0.1M426.7 412.2l0.2 0.3M416.3 484.0l-0.2 -0.2M645.3 430.5l-0.4 0.1M411.0 432.5l0.5 -0.4M679.9 386.1l-0.0 0.1M310.0 511.3l-0.7 0.9M396.9 497.0l-0.2 -0.1M617.9 345.8l-0.2 -0.1M378.5 524.7l-0.1 -0.9M585.5 386.9l-0.1 0.1M660.6 352.0l-0.7 0.2M366.4 467.0l1.4 0.6M331.0 515.4l-0.1 -0.1M393.6 507.4l0.5 -0.4M584.2 375.4l-0.1 0.3M388.7 407.3l-0.2 0.1M289.4 294.7l-0.1 -0.3M317.3 357.4l0.2 1.0M642.9 324.4l0.2 -0.0M311.9 484.4l-0.7 -1.3M353.3 250.7l-0.2 -0.3M498.3 302.2l-0.3 0.3M581.1 289.7l-1.2 0.1M621.9 330.7l0.6 -1.5M324.2 274.2l1.5 0.3M421.0 481.6l-0.0 0.1M308.4 380.0l0.9 0.1M417.9 428.0l-0.1 0.1M353.3 516.5l-0.2 -1.0M350.2 395.1l-0.0 -0.2M452.6 442.4l-0.3 0.2M241.5 350.7l-0.7 -0.0M353.1 494.6l0.8 1.4M253.0 363.0l-0.1 -0.1M305.0 546.3l-1.2 -0.9M480.2 469.3l0.3 0.1M631.3 357.4l-0.1 -0.1M360.2 483.6l0.9 -1.1M549.0 430.3l0.1 0.4M385.4 401.2l0.8 1.1M587.4 294.1l-0.3 0.5M283.2 519.9l-1.0 1.0M626.0 429.1l1.0 -0.4M357.7 543.6l-0.1 0.1M388.5 403.7l0.8 0.2M528.6 460.6l0.2 0.1M252.2 374.5l0.5 0.3M355.0 253.4l0.8 0.1M373.5 399.6l1.3 0.4M428.0 523.5l0.0 0.3M417.9 432.0l-0.6 -0.6M588.5 296.8l-0.3 -0.0M398.9 508.7l0.7 1.3M364.0 389.2l-0.7 -1.2M678.0 331.5l-1.3 -0.3M327.7 507.1l-0.1 -0.3M609.8 296.4l-0.4 -0.8M295.2 532.7l-0.2 0.2M449.7 494.7l-0.2 0.2M410.3 478.1l0.1 -0.6M617.2 327.3l0.6 -0.7M397.8 480.6l0.1 -0.1M305.1 538.8l0.2 -0.6M334.9 270.8l0.3 0.3M548.7 266.6l-0.3 0.2M341.8 390.2l-0.1 -0.1M664.4 358.2l-1.3 0.3M404.4 486.1l-0.0 0.1M694.9 371.0l0.7 -1.0M578.0 343.5l0.3 0.1M448.5 227.7l-0.4 -1.4M494.3 466.0l0.9 -1.1M388.4 238.3l0.1 -0.1M354.9 500.6l-0.6 1.4M290.1 528.7l0.1 0.1M590.3 349.7l-0.1 -0.1M347.5 511.8l0.0 -1.1M485.5 466.4l0.3 -0.3M415.3 514.8l0.6 0.3M602.1 307.9l-0.3 1.4M329.8 515.8l0.0 0.4M318.7 497.2l0.2 -0.3M453.4 486.8l-0.2 -0.9M295.2 503.4l1.0 -0.2M593.2 465.6l-0.0 -0.2M343.7 473.7l-0.3 -0.4M280.9 391.7l-0.7 -0.9M480.9 476.0l0.5 -0.2M465.5 462.8l0.2 0.2M367.5 401.4l-1.4 -0.4M428.8 235.5l0.1 0.2M439.7 228.0l-0.3 0.7M384.1 492.6l-0.3 0.1M572.4 348.3l-0.2 0.2M615.9 309.3l-1.2 -0.1M496.3 235.0l-0.1 0.2M295.9 513.9l0.3 0.3M437.1 414.7l0.9 -0.7M569.1 357.6l-0.1 0.8M587.8 352.5l-0.1 0.1M320.7 493.8l0.1 0.1M391.1 537.2l-0.1 -0.0M639.4 450.0l-0.1 -0.8M638.6 451.9l1.6 0.1M410.0 501.1l0.0 -0.1M479.9 481.4l0.6 -0.8M364.2 255.3l0.3 0.4M531.6 260.8l-0.7 -0.9M532.0 253.8l0.4 1.5M348.9 396.1l0.1 0.0M475.0 239.4l-0.1 -0.0M410.3 510.8l0.3 0.6M354.5 476.7l0.5 0.0M391.5 450.2l0.4 -0.5M434.2 432.4l-0.6 -0.5M397.9 404.3l0.6 0.6M592.7 330.7l0.5 -1.3M360.7 516.2l-0.4 -0.2M661.6 358.9l0.3 1.5M628.6 396.9l0.0 0.2M413.0 478.8l1.1 0.1M630.8 365.4l-0.0 0.1M324.8 513.1l-0.2 0.2M366.0 399.0l-0.1 -0.2M411.9 472.0l-0.3 0.8M325.5 521.5l0.0 1.0M315.2 542.8l0.6 -0.1M319.1 500.5l-1.5 0.5M597.4 312.1l-0.1 0.1M519.6 458.1l-0.2 0.0M307.2 504.8l0.2 0.4M682.6 381.8l0.4 0.6M419.6 411.3l0.2 1.3M437.4 431.0l0.0 0.1M402.9 483.1l0.4 0.1M590.4 323.3l0.0 0.9M400.1 404.6l-0.4 -0.3M336.3 388.8l-0.2 -0.6M402.9 476.9l0.2 -0.1M445.9 439.8l0.0 -0.3M644.2 348.0l0.2 -0.2M501.2 236.1l-0.5 -0.1M491.8 470.5l-0.4 0.0M596.3 430.2l-0.9 0.9M413.8 242.7l-0.2 -0.6M421.2 476.1l-0.6 1.3M337.2 264.1l-0.1 0.0M385.5 430.5l0.0 -0.1M347.6 476.8l-0.0 -0.6M478.2 239.9l-0.9 -1.0M274.4 296.1l0.8 -0.3M303.3 282.5l0.5 -1.3M342.6 511.0l-0.5 -0.1M382.9 506.5l0.0 -0.1M336.8 523.0l-0.2 -0.0M429.7 459.5l0.5 -1.2M252.7 364.7l-0.5 -0.7M368.9 513.0l-0.3 0.2M438.6 331.5l-0.5 0.4M447.0 473.3l-0.4 1.0M601.2 301.0l-0.1 0.1M386.3 471.8l0.1 -0.1M362.2 539.1l-0.2 -0.2M249.9 304.0l0.1 0.1M262.3 301.2l-0.8 -0.9M570.3 350.6l-0.8 -0.7M272.3 385.2l-0.1 -0.0M617.1 319.0l1.0 0.2M607.4 297.4l0.2 -0.2M239.8 336.1l0.0 -0.1M395.6 406.1l-1.2 0.0M352.5 549.3l1.3 0.1M588.4 380.7l-1.1 0.8M593.4 329.7l0.2 0.7M396.2 411.8l0.6 -0.6M388.2 409.5l0.4 0.8M433.2 519.1l-0.4 -0.6M389.5 242.4l0.2 0.0M612.8 445.5l-0.4 0.3M563.1 278.3l0.2 -0.3M322.5 488.2l-1.4 0.2M636.0 450.1l-0.5 0.4M588.8 345.4l0.1 -0.9M358.3 474.4l1.4 -0.3M448.7 226.1l-0.4 -0.4M599.0 455.0l1.0 -1.2M321.6 275.6l-0.1 0.1M396.3 472.3l-0.4 -0.1M434.9 520.9l0.0 -0.2M322.4 499.2l-0.1 -0.1M595.1 427.7l-0.5 -0.2M572.4 389.2l0.7 -1.2M604.9 310.7l-1.1 -0.6M606.0 289.2l0.2 -0.0M390.0 473.8l0.5 -0.0M410.9 478.4l-0.0 0.2M359.3 488.7l-1.1 1.1M567.1 333.0l0.9 -0.4M384.1 490.3l-0.1 0.8M536.8 450.0l-0.1 0.2M311.4 480.3l-0.0 0.2M436.1 461.4l-0.2 -0.0M344.7 257.2l0.5 -0.9M315.8 387.9l-0.2 0.0M389.1 519.0l0.3 0.2M405.3 438.6l-0.1 -0.2M593.6 389.1l0.0 -0.1M263.6 293.9l-0.7 0.8M611.1 458.5l-0.1 0.1M673.4 349.8l-0.3 0.4M312.5 392.3l-0.7 -0.3M372.3 526.9l0.3 0.3M469.9 233.5l0.5 -0.1M688.9 344.0l0.1 0.1M397.1 402.5l-0.5 0.5M248.1 359.5l-1.1 -0.9M289.7 547.0l-1.2 -0.9M388.5 464.9l-1.1 -1.0M417.7 509.4l0.2 -0.0M595.2 399.7l0.1 -0.1M568.5 430.9l0.4 -0.0M397.4 413.0l-0.4 -0.7M452.7 460.4l-0.1 -0.1M374.7 388.6l-0.1 -0.0M396.8 242.4l0.2 -0.1M575.4 397.3l-0.9 -1.1M395.9 397.0l-0.1 -0.1M285.6 390.0l-0.3 -0.5M401.3 389.3l0.4 -0.4M505.6 250.9l0.1 0.2M342.5 477.5l-0.9 0.2M410.0 237.2l0.3 -0.1M458.7 460.2l0.2 0.0M324.1 478.7l-0.1 -0.1M612.4 428.9l-0.3 0.0M464.1 453.9l-0.2 0.3M404.7 498.3l0.1 0.1M421.4 337.7l0.2 -0.3M329.3 477.8l0.1 0.2M671.0 317.8l1.4 -0.7M338.2 280.7l-0.0 -0.2M431.0 434.1l-0.2 -0.4M420.0 430.2l-0.0 -0.5M293.2 279.4l-0.4 -0.0M628.3 397.8l0.9 0.1M378.5 468.6l-1.0 0.0M474.0 469.6l1.1 0.9M580.2 354.2l0.1 -0.0M361.4 483.4l0.7 0.7M467.2 227.5l-0.3 1.2M372.9 510.5l0.4 0.5M538.5 454.6l-0.2 0.2M319.9 540.5l0.6 1.1M401.4 477.8l0.6 -0.9M360.5 402.6l0.5 -0.2M452.2 473.5l0.1 -0.1M286.8 299.0l-0.1 -0.2M410.8 520.1l-0.1 -0.0M674.2 325.6l0.2 -0.0M332.7 482.0l-0.0 -0.5M422.4 515.5l-0.0 -0.1M636.5 365.2l1.2 0.9M339.8 543.0l-0.2 -0.3M261.8 298.3l0.4 -0.2M448.0 455.9l-1.4 0.4M455.3 472.0l0.1 0.2M574.5 407.2l0.1 -1.1M354.2 470.9l0.5 1.1M314.6 533.7l-0.1 -0.0M674.9 350.7l1.4 0.1M411.1 445.7l-0.1 0.5M585.3 346.2l0.5 0.0M307.1 523.0l-1.3 0.9M591.6 331.3l0.1 0.0M594.7 320.4l-0.3 -0.3M306.8 272.1l-0.1 -0.1M630.5 396.3l-0.1 -0.2M366.1 501.4l0.1 0.0M402.5 453.2l-0.0 -0.2M411.6 414.9l-0.1 -0.3M674.0 361.3l1.3 0.7M386.7 521.9l-0.2 -0.1M303.7 501.7l-0.0 -0.7M548.9 269.6l0.0 -0.1M380.9 255.6l-0.3 0.1M632.9 393.0l0.2 0.5M354.1 535.3l0.6 0.2M393.4 530.3l-1.1 0.9M663.9 360.1l0.9 0.5M622.8 430.5l0.6 0.2M288.6 540.8l-0.6 0.1M631.1 440.4l-0.9 -0.1M555.1 440.3l0.1 -0.4M371.8 504.3l1.2 -0.7M402.8 431.3l-0.2 0.4M453.5 472.8l-0.3 0.4M620.4 419.8l-0.0 0.1M454.0 490.1l0.4 0.9M334.3 480.9l-1.2 -0.4M325.1 483.8l-0.0 0.2M379.2 487.6l-0.6 -1.0M318.7 276.3l-0.1 0.3M317.5 516.9l-0.0 0.2M575.8 351.1l0.2 0.1M290.9 286.3l0.2 -0.7M580.6 314.1l0.5 0.8M601.3 302.5l0.4 -0.3M423.5 408.7l-1.1 0.9M437.8 472.8l0.0 0.2M361.3 518.9l-0.2 0.7M397.5 513.6l0.1 -0.1M340.3 388.1l0.0 -1.5M469.5 483.9l-0.0 -0.1M663.2 411.1l-0.1 -0.1M378.3 456.9l-0.3 0.8M463.5 488.7l-0.5 0.1M667.5 410.2l0.9 -0.2M416.3 404.8l-0.3 -0.2M367.2 250.8l0.1 -0.1M379.0 528.8l-0.8 0.5M371.3 459.5l-1.3 0.6M334.3 496.9l-0.1 0.2M376.7 513.8l-1.3 0.4M331.4 514.9l-0.1 0.0M634.7 364.9l-0.0 0.2M568.1 284.6l-0.7 1.4M564.0 277.6l0.0 0.1M262.9 382.2l-1.0 -0.7M594.7 414.1l-0.5 1.1M286.6 549.8l-0.1 0.1M588.1 471.6l0.1 -0.2M573.8 353.1l-1.2 -0.4M617.5 331.7l-1.1 0.6M686.5 368.2l0.6 -0.9M327.7 520.9l-0.4 1.4M550.7 441.4l0.0 -0.1M346.1 464.3l1.2 -0.8M497.8 291.1l0.3 -0.1M374.3 484.2l-0.1 0.2M599.9 421.9l0.1 0.1M285.4 513.0l0.2 -0.0M289.9 522.1l0.2 -0.1M407.6 432.8l0.1 0.0M520.4 253.3l0.4 -1.3M387.9 512.6l-0.5 0.4M526.7 460.7l-1.2 0.1M595.1 390.3l0.2 0.2M634.6 361.3l-1.5 0.2M367.7 514.8l0.6 -0.2M587.9 319.7l1.1 0.2M434.7 446.9l-0.8 0.2M592.1 346.4l0.0 0.2M454.9 493.3l0.2 0.1M382.4 242.2l-0.1 -0.1M393.3 401.0l-0.6 -1.0M587.6 387.4l0.0 -0.4M443.6 462.4l-0.1 -0.1M486.8 235.6l-0.4 -0.2M416.6 402.5l0.8 -0.6M590.8 465.0l-0.3 -0.2M330.3 507.2l0.1 -0.0M327.8 554.9l0.1 0.1M414.9 274.9l0.3 0.6M449.0 459.8l0.4 -0.3M413.9 467.6l1.3 0.4M529.4 466.3l0.3 -0.3M646.8 430.6l-0.1 -0.5M357.3 522.0l-0.4 -0.2M445.1 232.3l-1.0 0.2M329.7 271.2l0.8 -0.7M598.3 304.1l-0.7 -0.7M255.5 379.5l0.5 -0.1M353.8 513.8l-0.3 0.4M525.4 253.9l0.2 0.1M676.8 332.6l-0.2 -0.0M434.9 458.9l0.2 0.0M579.7 332.0l0.6 -0.3M645.4 435.3l-0.2 -0.5M407.5 440.5l0.8 -0.1M294.7 527.4l-0.5 -1.4M283.5 391.8l0.1 -0.3M335.8 549.9l-0.0 0.3M247.4 324.5l0.1 -0.0M675.4 362.0l0.2 -0.1M538.9 267.4l-0.1 0.0M621.6 327.9l-0.1 0.1M566.1 424.9l-0.8 1.2M462.9 233.0l-0.5 1.4M240.2 314.7l0.4 -0.7M442.0 449.8l0.1 0.1M344.3 470.9l-0.4 -0.7M675.9 379.0l1.2 -0.1M356.1 488.8l0.0 -0.4M502.9 241.4l-0.5 -0.5M620.2 444.2l-0.6 1.4M288.3 542.2l-0.0 -0.2M618.4 366.3l0.6 0.8M391.3 253.7l0.0 0.1M348.6 480.2l-0.4 -1.3M404.7 452.1l-0.6 -0.4M299.6 497.1l0.7 0.4M631.4 438.0l-0.3 0.2M315.6 383.0l0.0 0.1M466.9 457.4l-0.2 0.5M408.9 233.3l1.5 0.1M399.7 436.7l0.0 -0.1M575.2 398.9l0.1 -0.1M429.7 450.8l-0.2 -0.2M410.9 499.3l-0.0 -0.2M279.3 292.1l0.7 0.3M443.7 446.9l0.3 0.2M319.5 501.3l0.4 -0.3M357.6 503.0l0.1 -0.1M406.0 509.6l-0.2 0.1M594.5 361.7l0.2 -0.3M353.0 498.7l-0.2 -1.0M366.4 452.0l-0.6 -0.3M294.1 381.4l0.5 0.3M663.4 411.6l-0.1 0.1M434.2 442.4l-1.0 -0.2M343.9 260.7l-0.1 0.2M475.5 472.7l-0.4 -0.1M424.3 235.7l0.1 -0.2M485.8 480.4l-1.3 0.7M369.0 500.5l0.1 0.1M398.3 428.3l0.3 0.1M630.1 357.6l0.4 1.3M243.6 311.8l0.1 0.2M464.7 471.6l-0.2 0.5M283.8 523.7l0.2 -0.0M588.9 333.5l-0.2 -0.0M488.6 249.3l-0.4 0.0M436.1 333.3l0.1 0.1M362.8 259.7l0.2 -0.3M393.2 414.8l-0.2 0.2M358.7 483.7l-0.6 1.2M574.3 411.4l0.8 -0.4M569.9 288.1l0.3 0.1M633.2 364.4l-0.3 1.4M386.4 239.7l0.1 -0.1M436.2 449.3l-0.4 -1.0M621.1 420.4l1.2 -0.6M579.7 324.6l0.1 0.5M556.0 441.8l0.4 0.0M263.9 297.4l0.4 -0.7M589.6 358.8l0.3 0.1M455.6 479.8l0.7 0.1M598.7 428.7l-0.1 -0.5M596.4 413.2l0.1 0.2M367.6 249.6l-0.4 0.4M422.3 465.4l0.1 -0.1M511.5 242.6l0.0 0.1M379.5 474.7l-0.3 0.6M481.7 474.4l-0.2 -0.1M329.6 516.0l-0.9 -0.1M578.8 307.9l0.2 -0.2M672.2 362.2l-0.9 -0.4M369.5 479.3l-0.1 -0.9M305.3 509.2l-0.2 0.0M633.8 450.6l1.4 -0.2M648.3 434.5l0.7 -0.3M625.6 433.9l-0.2 0.4M393.7 502.3l0.0 0.1M328.2 536.0l-0.8 -0.1M372.1 511.5l0.1 0.4M288.9 383.1l0.9 0.4M536.8 314.2l-0.3 0.5M422.8 425.2l-0.3 1.2M373.8 505.3l0.5 0.2M592.9 462.1l-0.2 -0.1M617.5 406.8l0.2 0.7M648.7 314.4l0.1 -0.0M290.3 379.7l-0.0 0.3M256.5 301.4l-0.3 -1.5M648.3 437.5l0.0 0.2M604.8 440.5l0.3 0.0M550.9 269.6l-0.1 -0.7M540.4 451.2l0.0 0.1M473.0 486.1l0.2 -0.3M420.4 280.8l0.1 -0.0M292.6 387.4l-1.2 0.1M346.3 500.2l-0.4 -0.8M306.8 555.6l-0.0 0.4M485.4 230.7l0.1 -0.1M567.1 340.4l-0.1 -0.1M558.6 338.5l0.6 -0.1M614.2 326.7l-0.2 -0.0M445.4 461.2l-1.2 -0.6M305.0 521.7l0.5 -0.2M387.1 519.5l0.3 -0.2M341.5 521.3l0.4 0.6M554.5 274.9l0.4 0.2M673.6 409.6l0.0 0.4M317.9 505.6l0.1 -0.3M249.2 315.8l1.5 0.4M462.9 379.0l0.0 -0.2M448.3 444.1l-0.1 0.0M347.7 256.5l0.1 -0.1M335.0 551.2l0.8 -1.0M342.2 257.8l0.1 0.8M590.8 444.5l-1.2 0.7M434.5 439.6l-0.0 0.3M610.7 466.8l0.1 0.1M588.4 325.6l0.5 -1.2M602.0 411.4l-0.0 0.1M684.8 340.2l0.4 -0.2M553.7 266.5l-0.3 0.2M634.0 449.1l0.1 -0.1M620.1 406.0l0.2 -0.2M433.6 492.9l0.1 -0.1M292.2 503.9l1.2 -0.8M678.8 368.7l-0.0 -0.1M387.8 422.2l-0.1 -0.0M621.9 412.3l-1.3 -0.3M566.4 328.6l0.3 -0.0M424.6 488.5l-1.3 -0.1M581.3 346.2l0.4 -1.0M391.3 284.2l0.2 -0.2M473.7 468.4l0.3 -0.1M418.1 443.2l-0.7 -0.4M669.2 358.6l0.1 0.1M595.8 403.7l0.1 0.0M367.3 506.0l0.5 -0.1M408.4 451.6l-0.3 0.3M605.0 436.4l0.2 -0.1M595.3 320.6l-0.0 -0.1M654.6 293.6l0.4 0.2M406.7 433.2l0.1 -0.9M572.4 423.8l-0.2 -0.0M447.2 439.9l-0.2 -0.1M590.1 385.9l-0.1 0.0M385.7 497.9l0.1 0.1M316.2 505.9l-0.3 -0.3M346.8 462.7l0.1 -0.1M382.0 509.4l1.0 0.9M572.7 314.9l-0.6 0.3M286.6 361.9l0.1 0.1M533.7 461.3l0.1 1.4M494.0 432.3l0.1 0.1M477.3 464.5l-0.1 0.1M475.2 475.1l0.2 0.0M386.4 418.1l1.0 0.7M425.1 421.4l0.0 -0.1M304.3 310.7l-0.0 0.3M421.0 483.8l0.2 0.8M379.4 527.4l0.3 -0.6M434.8 234.8l0.1 -0.4M530.4 455.1l-0.1 -0.6M560.6 429.3l0.9 -0.6M534.7 455.9l-0.0 -0.1M610.4 417.0l0.1 0.2M394.1 464.7l-0.4 -0.1M399.2 275.6l0.1 0.1M247.2 317.9l0.6 0.1M587.6 316.1l-0.1 -0.1M330.2 510.2l-0.2 -0.4M397.8 434.0l-0.2 -0.2M404.3 477.7l0.4 -0.9M417.4 401.6l0.0 -0.6M348.5 499.8l1.3 -0.0M306.6 519.7l-0.1 -0.1M413.2 237.5l-0.5 0.5M388.1 401.8l1.0 0.4M587.4 455.8l-0.1 -0.1M467.8 476.9l1.3 0.1M375.7 491.6l-0.0 0.7M362.7 257.3l-1.5 -0.4M664.8 405.1l0.7 0.5M260.3 370.8l-0.2 0.5M394.1 448.5l0.2 0.5M320.0 516.9l-0.6 -0.2M413.5 402.6l-0.5 1.1M423.5 428.9l0.5 -0.3M584.7 355.0l-0.8 0.7M592.1 379.2l-0.3 0.4M374.9 510.3l0.1 0.0M565.8 344.8l0.5 0.2M531.3 252.3l-0.3 -0.5M503.6 360.5l0.1 0.1M410.1 470.3l0.1 0.5M377.0 466.3l1.5 -0.5M353.1 466.3l0.7 0.4M616.7 458.4l-0.1 -0.3M589.9 323.4l0.6 -1.3M394.2 503.4l-0.3 0.2M458.6 472.0l0.1 0.1M382.4 519.0l0.4 1.3M395.8 244.2l-0.6 0.9M692.6 357.9l0.3 1.3M357.3 517.8l-0.4 0.7M458.6 459.6l-0.0 0.3M308.7 380.9l-0.7 -0.1M326.3 511.4l-0.1 0.1M590.1 447.2l0.4 -1.2M680.9 317.4l-0.1 0.2M341.5 288.9l0.1 -0.0M579.9 392.8l-0.8 0.6M485.2 230.6l0.2 -0.1M295.0 517.8l0.3 1.0M408.5 477.6l0.3 0.6M573.9 355.4l0.5 0.7M639.0 347.1l-0.6 -0.3M619.6 317.8l1.1 -0.9M327.0 551.1l-1.4 -0.8M448.7 226.5l-0.6 -0.7M385.6 271.9l0.1 0.2M340.7 259.1l0.6 -0.4M315.8 542.6l0.1 -0.1M304.6 380.7l-0.3 -0.0M413.4 537.6l-0.0 0.2M646.3 347.4l0.5 0.2M377.9 495.4l0.2 0.2M419.6 520.0l0.1 0.1M599.2 444.3l0.8 -0.5M416.4 465.1l0.1 0.0M394.9 494.4l-0.1 -0.1M243.9 318.9l-1.1 0.4M674.8 362.2l-0.4 -0.3M433.1 471.1l0.3 0.5M376.6 516.6l-0.8 0.1M388.5 453.7l0.8 0.4M663.1 409.9l-0.1 0.7M388.5 524.0l0.3 -0.4M420.8 405.0l-0.1 -0.1M420.6 408.5l0.3 -0.0M600.2 409.4l-0.0 0.2M413.9 444.4l0.2 0.2M407.4 443.7l0.0 0.1M620.6 416.3l-0.9 -1.3M411.7 408.2l0.1 -0.1M364.2 451.2l-0.2 0.7M243.0 327.3l0.4 -0.1M421.2 460.5l0.1 0.5M375.7 251.9l0.2 -0.3M297.3 532.6l0.2 -0.1M359.3 522.5l-0.2 -0.1M665.6 405.5l-0.0 0.1M593.8 468.1l-0.7 0.1M300.6 510.1l-0.1 -0.1M470.6 476.6l0.1 -0.1M332.9 261.0l0.4 -0.1M471.3 229.4l-0.4 -0.1M333.4 532.5l0.5 -0.3M430.2 452.5l0.2 0.1M404.1 448.0l-0.4 0.1M384.1 498.8l-1.1 -0.4M375.3 556.6l0.0 -0.7M396.9 508.8l-0.4 0.1M402.1 445.0l-0.4 -1.1M344.2 258.6l-0.1 1.0M295.2 529.0l0.5 0.6M433.9 232.6l-0.3 -1.4M291.0 280.4l-1.0 -0.2M447.4 484.3l0.0 -0.1M651.1 345.7l-1.0 0.9M560.3 272.3l-0.1 0.4M389.2 486.1l0.5 0.2M366.7 529.3l0.2 0.2M267.3 296.2l-0.2 0.1M555.7 273.4l0.2 -0.1M583.0 288.9l-1.2 0.6M318.2 385.6l0.6 -0.3M332.4 495.0l-0.1 0.0M549.1 273.5l-0.1 -0.1M611.5 325.5l-0.2 0.4M640.8 449.6l-0.3 0.1M339.4 262.8l-0.0 -0.1M287.5 535.6l-0.2 -0.1M614.6 298.9l-0.2 -0.7M405.2 429.3l0.2 0.1M362.4 529.0l-0.1 0.1M311.5 486.4l0.0 -0.1M392.2 399.3l-0.6 0.5M604.8 459.2l-0.7 -0.6M341.6 389.5l0.0 -0.3M425.3 430.2l0.6 -0.8M593.2 311.4l1.1 -0.0M474.5 474.4l0.0 -0.1M296.1 280.5l0.1 -0.0M377.5 453.8l-0.8 -0.7M583.9 333.7l0.7 0.2M390.6 400.8l0.5 0.1M623.6 422.2l0.3 -0.3M307.4 545.8l-0.2 0.1M433.6 460.7l-0.1 0.0M503.2 239.6l-0.0 -0.4M649.2 296.0l-0.2 -0.5M646.7 362.0l0.4 1.0M500.8 238.4l0.8 0.5M612.2 404.9l0.8 -1.0M305.1 513.1l1.1 0.1M641.8 431.0l-0.4 1.2M671.5 342.6l0.3 0.3M419.9 451.7l0.1 -0.4M537.0 451.8l0.1 -0.0M410.2 478.4l-0.0 0.1M316.5 524.2l0.0 0.3M589.2 302.2l-0.8 -0.4M371.8 246.6l0.0 -0.1M540.6 450.9l0.7 0.1M562.3 377.9l1.5 -0.6M365.4 529.1l-0.1 0.0M449.5 376.6l-0.5 0.3M647.6 439.2l0.7 0.3M585.1 361.5l-1.1 0.2M300.7 281.1l0.6 -1.1M617.7 302.5l0.4 -0.0M377.1 498.3l-0.0 0.1M645.3 343.2l-0.1 0.0M439.4 449.8l-0.1 0.0M342.1 527.7l0.4 0.2M578.0 290.2l-0.3 -0.2M508.8 243.0l-0.1 -0.0M309.9 382.9l-0.1 0.1M595.6 441.0l0.4 -0.0M591.0 297.3l-0.0 0.1M595.9 400.0l0.1 0.3M250.0 369.8l-0.9 1.0M608.0 471.0l1.1 0.4M530.5 456.0l-0.4 1.1M388.1 401.1l0.2 -0.5M288.7 289.4l0.6 -0.7M608.1 297.6l-0.1 -0.2M686.7 335.4l-0.1 0.5M572.8 414.2l-0.3 -0.1M557.8 279.8l0.1 -0.1M397.3 254.1l-0.1 0.0M472.8 478.5l-0.4 -0.1M356.1 533.7l-0.0 0.3M675.7 355.2l-0.5 0.1M623.3 447.3l1.4 0.0M676.1 378.3l0.1 -0.1M399.5 501.5l0.8 -0.5M328.7 554.9l-0.7 0.0M535.6 258.7l-0.1 -0.1M598.3 295.5l0.0 -0.4M270.6 297.7l0.4 0.2M329.0 486.0l-0.2 0.0M391.2 241.8l-0.1 -0.0M623.6 330.3l0.2 0.3M316.5 495.1l-0.1 -0.5M366.5 552.1l-0.8 0.7M400.0 533.3l0.3 0.3M375.3 507.8l0.6 0.4M435.4 448.8l-0.1 -0.4M600.7 441.3l-0.1 -0.1M318.3 500.5l-0.1 0.2M577.4 397.7l0.1 -0.2M240.7 329.0l-0.1 -0.1M597.5 309.9l0.2 0.1M436.9 224.9l0.7 -0.7M624.4 413.3l-0.4 0.3M608.9 288.1l-1.4 -0.0M615.7 310.5l-1.2 -0.5M351.0 398.6l-0.3 -0.7M613.6 448.6l0.4 -0.8M622.6 378.3l0.3 -0.7M609.5 437.5l-0.3 0.1M334.6 268.5l-0.4 0.8M323.2 548.1l-0.4 0.3M350.6 467.7l0.6 -1.4M490.2 240.7l1.0 0.8M419.3 430.7l-0.5 -0.0M497.9 462.4l1.5 0.3M664.4 361.5l0.0 0.1M399.3 453.6l-0.5 0.2M432.6 451.9l1.0 0.4M309.9 508.3l0.2 0.4M419.0 235.8l-1.3 0.2M270.2 292.7l0.0 -0.4M269.0 299.7l0.1 -0.1M592.4 307.9l0.1 -0.1M305.2 540.6l-0.5 0.2M589.4 378.4l-0.1 0.2M372.7 387.3l1.0 0.5M607.6 417.8l-0.3 -0.4M514.5 461.8l1.3 -0.5M257.2 352.4l-0.6 -0.1M558.8 279.0l0.4 -1.3M530.0 461.4l-0.2 0.0M586.3 295.9l1.4 0.3M662.4 360.1l0.9 1.0M364.1 478.4l0.4 -0.6M315.9 387.7l-0.1 0.0M308.2 481.5l-0.1 0.1M416.5 447.1l-0.4 0.4M391.1 443.6l-0.3 0.0M380.6 394.4l0.7 -0.2M670.6 405.9l0.6 -0.8M674.4 354.5l0.1 -0.8M338.3 506.2l0.5 0.2M288.3 288.8l0.2 -0.4M407.7 512.0l0.5 -0.1M464.3 475.5l0.1 0.0M269.0 293.6l-0.9 -0.4M355.0 466.8l0.3 0.5M670.7 405.0l-0.6 1.4M331.5 265.7l0.0 -0.1M454.0 464.8l0.0 0.2M402.7 406.8l0.2 0.1M333.2 269.8l-0.1 0.1M385.4 471.8l-0.1 0.6M270.3 300.7l-0.1 0.2M416.8 230.7l0.4 0.2M283.2 295.4l-0.4 1.5M290.5 535.6l-0.1 0.3M311.0 537.2l-0.2 0.3M462.9 396.3l0.7 0.2M428.5 480.5l1.3 -0.6M399.7 482.1l0.4 0.0M466.0 458.8l-0.2 0.0M348.7 397.0l1.0 -0.0M311.9 489.8l-0.1 -0.1M353.5 396.8l-0.3 0.1M441.2 351.6l0.3 0.1M290.4 527.2l0.1 0.1M387.7 416.3l-0.5 1.4M411.3 499.1l0.9 0.0M357.5 254.5l-0.1 0.0M690.3 372.1l0.1 -0.0M343.7 388.0l0.0 -0.5M409.6 454.5l-0.2 -0.7M254.6 372.7l-0.5 0.7M349.9 514.6l0.1 0.5M244.1 342.8l-0.5 -0.0M695.1 358.9l-0.2 -0.3M567.5 420.3l0.5 -1.1M341.6 532.7l-0.4 -0.5M395.7 234.5l0.1 0.5M647.0 360.2l0.9 0.3M290.3 387.8l0.2 -0.0M305.5 505.2l-0.0 0.1M386.9 444.9l-0.3 0.2M317.6 519.6l0.2 -0.1M607.8 438.0l-0.2 0.2M492.4 240.7l-0.1 -0.0M359.1 396.7l-0.4 0.1M666.0 389.0l-0.1 -0.2M352.4 536.7l1.1 -0.3M440.6 436.9l-0.9 -0.1M330.8 261.7l0.4 0.5M410.1 438.1l0.1 0.4M284.4 386.7l-0.2 0.2M577.6 400.9l-0.0 0.1M339.5 524.4l0.1 -0.2M272.2 380.1l0.2 -0.0M386.4 240.9l-0.6 -0.9M254.4 376.3l-0.2 1.5M666.9 406.1l0.1 -0.0M320.7 525.2l0.8 -1.0M624.9 383.3l0.1 -0.1M675.5 315.4l0.1 -0.1M652.2 351.2l-0.5 -0.7M338.4 386.3l-0.1 -1.1M344.9 531.8l-0.3 0.8M308.8 283.2l0.0 0.1M331.1 542.4l-0.3 0.5M414.1 446.7l-0.7 -0.4M562.2 440.8l-0.1 0.1M625.5 380.6l0.6 -0.0M312.6 543.1l0.0 0.1M488.9 461.7l-0.6 0.2M617.5 347.6l0.0 -0.2M359.4 455.7l0.0 0.1M444.0 446.6l-0.4 0.0M428.4 451.6l0.2 -0.7M416.2 423.4l1.0 -1.0M594.4 319.1l-0.8 0.4M260.3 299.9l-0.1 0.0M381.1 517.9l-1.2 -0.6M583.4 298.5l0.0 0.4M602.4 403.1l0.1 0.0M632.9 360.3l1.3 0.4M472.0 472.4l-0.3 0.4M584.4 394.0l-0.4 -1.0M543.8 450.4l-0.6 -0.2M381.6 511.9l-0.0 0.5M599.5 304.7l-1.4 0.3M313.3 489.3l-1.3 -0.2M410.6 433.1l0.4 -0.0M398.2 513.1l0.5 -0.2M666.7 388.1l-0.6 -1.0M591.6 387.5l-0.7 0.5M623.9 441.1l-0.0 -0.1M620.1 380.0l-0.5 -0.1M387.4 443.4l-0.3 -1.4M639.5 449.1l-0.1 1.5M567.9 279.5l-0.1 0.1M435.3 413.9l-0.1 0.1M392.2 488.5l0.0 0.1M675.5 378.9l0.0 0.3M402.4 509.7l-0.7 -0.0M247.6 360.1l0.1 0.1M419.3 440.5l0.1 0.1M377.8 460.7l-0.1 0.2M599.4 410.2l0.0 0.2M454.6 473.1l0.1 -0.4M421.0 454.6l0.5 -0.6M422.5 457.7l0.2 -0.1M422.7 509.1l0.2 -0.0M372.3 480.3l-0.2 -0.1M332.6 508.6l0.5 1.2M425.2 436.3l-0.1 0.3M431.4 434.0l0.5 0.2M587.8 472.5l0.2 0.2M603.7 349.3l-0.0 -0.1M375.8 396.5l0.1 -0.1M417.4 419.7l0.3 0.1M412.5 511.9l-0.1 0.1M431.4 460.4l-0.0 -0.4M405.9 398.9l0.3 0.2M559.1 437.3l-0.0 0.1M296.8 519.5l-0.1 -0.5M272.1 383.1l-0.2 -0.8M564.8 285.3l-1.0 1.2M326.4 549.9l-0.2 -0.1M479.1 481.3l0.9 0.4M257.6 300.7l0.1 1.1M375.5 502.2l-0.1 0.8M589.9 354.9l0.8 -1.3M590.6 382.8l-0.1 -0.0M325.9 543.2l0.4 0.1M281.1 533.3l0.8 0.2M649.5 349.8l-0.5 1.4M616.0 331.2l-0.1 0.1M299.8 523.8l-0.4 0.3M374.7 462.1l-0.5 0.5M331.0 486.8l-0.5 1.5M386.5 492.9l-1.1 0.2M623.6 381.3l-0.6 0.1M408.9 447.0l0.7 0.1M565.1 420.2l0.5 -0.2M285.4 533.0l-0.2 0.0M346.8 465.7l0.2 0.4M264.4 297.1l0.0 -0.1M679.3 339.4l-0.5 -1.1M637.1 449.1l-0.0 0.5M456.1 466.8l-0.6 1.4M580.1 345.8l-0.1 -0.0M373.0 524.0l-0.1 -0.1M576.8 413.6l1.1 -0.0M398.6 240.3l0.2 0.1M332.0 483.7l-0.5 0.2M489.5 292.1l-0.7 -0.1M535.7 251.8l-0.1 -0.0M318.4 513.7l0.1 0.1M398.3 526.3l-1.0 0.2M287.3 524.8l0.0 0.5M290.8 522.4l0.2 -0.1M403.3 525.1l-0.2 0.8M243.2 330.9l-1.0 1.2M408.8 438.7l-0.1 0.0M428.4 235.3l-1.3 0.4M443.4 463.0l0.1 -1.4M594.0 310.3l0.9 0.1M423.2 460.2l0.5 0.1M442.4 473.4l0.1 0.1M585.2 399.0l-0.8 0.1M469.2 487.4l-0.9 -0.2M445.6 467.0l-0.6 0.8M615.0 409.7l0.5 -1.5M434.2 450.6l-0.9 -0.8M306.3 522.0l-1.1 0.2M614.4 415.1l-0.1 0.1M388.9 412.6l0.0 -0.5M255.0 373.6l0.4 -0.2M424.7 416.6l-0.2 0.0M369.2 453.2l-0.0 1.2M287.3 507.2l-0.4 0.1M398.4 455.9l-0.2 0.1M676.8 350.4l-0.1 0.2M448.5 461.3l0.1 -0.1M322.7 278.5l0.1 -0.4M698.0 343.6l-1.2 -0.1M415.0 465.6l0.1 0.9M598.2 305.5l-0.0 -0.2M551.8 267.4l0.1 -0.1M322.8 507.3l0.2 0.6M623.2 364.6l-0.4 0.0M401.7 527.3l-0.2 0.0M622.1 412.9l-0.3 0.1M334.7 489.3l0.1 0.2M572.7 416.0l0.0 0.1M305.3 386.3l0.2 -1.4M594.5 350.3l-0.6 -0.2M410.8 477.1l-0.4 0.5M482.5 227.8l-0.0 0.1M591.7 380.1l-0.0 0.1M481.1 230.7l-0.1 -0.7M455.8 440.5l-0.0 0.3M415.8 233.6l0.0 -0.1M587.0 358.5l-1.1 0.8M332.0 548.6l0.0 0.1M635.3 360.8l0.6 -1.2M435.8 446.5l0.1 -0.1M375.8 461.2l-0.0 0.1M261.9 301.3l-1.0 1.1M567.4 349.3l-0.0 -0.1M601.9 430.8l-0.0 -0.2M256.8 299.6l0.1 0.1M605.9 427.0l0.2 0.2M532.9 250.4l0.1 0.1M607.3 353.9l0.6 -0.1M420.5 432.4l-0.4 -0.1M615.3 458.8l0.2 -0.4M559.9 428.9l1.3 0.1M539.5 452.7l0.1 0.0M295.5 290.8l-0.1 -0.0M335.7 523.2l-0.1 -0.5M368.3 272.9l-1.2 -0.5M383.9 495.9l-0.1 0.1M316.9 523.0l0.6 -0.1M485.2 478.3l-0.3 -0.3M336.6 392.5l0.1 0.7M359.9 535.2l0.9 0.1M568.4 438.9l0.1 -0.1M631.7 394.1l-0.7 -0.3M583.6 382.1l0.1 -0.1M392.7 431.8l-0.1 0.2M590.8 454.9l-0.8 -0.9M321.5 495.9l0.0 0.3M385.6 514.2l0.2 0.3M295.5 513.4l0.7 0.7M435.2 224.1l-0.4 0.3M388.1 483.2l0.3 0.2M311.6 392.7l-0.4 -0.1M315.9 278.2l1.0 -0.1M456.6 478.1l0.1 -0.1M656.1 352.2l-0.1 -0.0M408.8 441.1l0.1 0.0M567.7 356.9l0.1 -0.3M285.8 548.5l-0.3 0.3M319.5 501.9l-0.1 0.0M350.5 476.7l0.1 -0.2M562.7 416.6l-0.1 0.3M556.1 438.1l0.0 0.2M583.9 373.9l-0.1 0.1M417.4 477.8l-0.1 -0.1M597.2 455.7l-0.8 0.7M346.1 478.9l0.4 0.1M345.6 507.2l0.7 0.5M696.8 345.1l0.2 0.1M376.8 450.2l-0.0 0.7M607.1 425.1l0.6 1.2M363.8 495.2l-0.6 -0.2M370.4 533.1l-0.2 0.1M631.9 362.2l-0.2 -0.0M350.9 479.0l-0.2 0.3M238.5 349.2l0.1 -0.1M418.0 408.0l-0.3 -0.7M427.2 488.9l-0.1 -0.1M358.2 525.1l-0.2 -1.1M342.7 522.6l0.1 0.0M554.8 434.6l1.2 0.3M366.3 399.6l0.3 -0.1M620.5 450.4l0.1 -0.4M574.0 423.6l-0.0 0.1M458.3 465.0l0.0 0.2M394.7 422.8l0.4 0.5M677.1 361.3l0.4 -0.1M413.2 452.7l0.1 0.3M351.2 257.9l0.1 0.4M567.5 430.6l-0.2 -1.3M396.2 446.8l0.4 -0.1M582.5 417.5l0.2 0.3M263.2 295.8l-0.1 -0.2M308.6 382.1l-0.8 -0.5M551.6 445.9l-0.1 0.7M598.8 405.7l0.8 -1.0M413.2 464.6l0.7 1.2M566.6 348.2l0.0 0.1M324.5 520.2l-0.4 0.0M584.3 353.2l0.1 0.5M594.9 415.5l-0.3 0.1M295.2 505.6l0.1 -0.1M398.5 477.6l1.3 -0.4M579.4 287.4l0.1 0.2M620.8 368.4l1.2 -1.0M326.1 549.9l-0.0 0.1M404.4 238.6l0.0 0.2M432.6 474.1l-0.1 0.0M336.4 509.8l0.1 0.6M349.4 462.3l0.1 -0.2M531.6 457.3l0.0 0.3M568.5 352.4l-0.4 0.4M560.5 445.7l0.4 0.2M282.2 507.9l-0.1 -0.3M355.1 533.3l0.2 -0.6M315.8 520.7l1.5 0.6M616.0 466.9l1.0 -1.0M335.2 533.0l0.0 1.2M645.9 364.3l-0.1 -0.1M563.4 301.1l-0.1 0.1M309.8 539.2l-0.7 0.7M395.1 393.6l0.5 -0.2M286.2 528.4l1.0 -1.0M413.0 406.4l-0.4 0.2M411.3 413.9l0.4 0.4M593.4 385.4l0.8 0.0M575.7 284.3l0.5 -0.6M361.1 538.9l-0.1 -0.1M403.4 516.4l0.5 -0.0M339.3 523.4l0.0 -0.9M550.5 268.7l0.6 0.1M535.4 450.4l-0.3 -0.3M471.4 470.5l-0.9 -0.5M473.5 476.9l-0.2 0.5M413.1 493.4l0.2 -0.2M358.0 546.0l-0.4 -0.1M306.2 549.0l0.4 -0.0M287.6 544.7l-0.2 0.0M337.4 266.7l1.1 -0.2M620.5 459.1l0.8 0.7M475.2 480.7l0.3 0.1M614.6 328.4l0.5 -0.1M282.8 289.5l0.1 -0.2M318.5 491.2l-0.2 0.0M495.0 464.4l-0.1 -0.2M560.2 364.3l0.5 0.4M623.5 455.5l0.0 0.2M297.9 355.6l1.2 -0.5M552.5 268.0l-0.2 -0.4M672.0 345.8l-0.2 0.1M386.1 467.0l0.1 0.3M368.4 505.1l0.1 0.1M577.2 280.5l-0.0 -0.1M613.0 299.1l-0.4 0.2M475.2 283.1l0.9 0.4M596.3 441.8l-0.1 0.3M598.9 425.2l-0.1 -0.0M262.3 295.2l-0.1 1.3M413.1 239.2l0.2 0.0M381.2 493.9l0.5 0.6M581.7 344.6l0.2 -0.1M585.9 324.4l-0.1 -0.0M388.0 424.7l-1.2 -0.6M418.3 509.4l-1.1 -0.1M287.7 541.2l0.2 -0.4M449.5 471.5l-0.8 0.4M574.4 343.6l-0.3 0.0M543.4 452.3l-0.2 0.4M394.6 510.0l-0.5 -0.6M329.1 476.1l-1.2 -0.4M323.6 384.5l-0.0 0.1M314.9 508.2l-0.1 -0.0M432.9 444.7l-0.1 0.1M426.1 479.4l0.1 0.1M656.0 385.1l0.1 -0.2M577.7 406.4l-0.3 -0.5M415.3 233.0l-0.1 -0.1M343.6 388.2l1.0 0.2M441.3 447.5l0.1 -0.1M322.0 486.6l-0.0 0.1M330.2 518.4l1.3 -0.4M417.7 467.8l0.4 -0.4M402.3 455.9l-0.3 -0.2M370.9 521.7l0.2 -1.4M376.3 397.4l-1.1 -0.4M408.2 432.4l0.4 -0.2M397.0 497.6l0.1 -0.1M395.8 509.3l-0.3 0.0M574.6 291.4l-1.4 0.7M472.0 233.7l-0.6 0.4M367.7 458.9l-0.3 0.1M290.5 529.4l0.6 -0.8M314.4 528.9l-0.1 1.5M285.9 381.0l0.4 -0.9M425.5 461.3l0.0 0.1M380.9 463.2l0.2 -0.2M375.0 510.7l-0.1 1.2M332.9 521.9l-0.1 0.1M352.2 255.3l-1.0 -0.6M572.5 360.0l-0.3 0.7M526.9 253.7l0.1 -0.7M435.4 458.6l0.9 -0.5M349.5 483.1l0.1 -0.3M617.6 364.1l0.5 0.4M572.5 287.1l0.6 0.2M247.0 366.5l-0.2 -0.2M361.1 486.5l-0.1 -0.2M308.9 515.9l-0.1 -0.0M392.1 459.4l0.2 0.0M398.6 422.0l0.4 -0.0M477.2 428.6l0.8 0.2M645.4 365.4l0.1 1.2M323.3 522.1l-0.1 -0.1M485.4 463.1l0.3 -0.2M304.1 495.4l-0.1 0.3M600.2 352.2l-0.4 -0.2M563.9 274.9l0.8 0.9M639.2 363.7l-0.1 -0.0M466.8 455.5l-0.1 0.1M379.6 241.9l0.4 0.0M568.0 311.9l0.1 0.1M254.5 370.3l-0.1 0.1M592.5 450.7l-0.0 -0.1M570.6 288.9l0.5 0.4M336.1 272.0l-0.2 -0.1M423.1 233.5l1.4 0.1M505.3 362.9l0.7 -1.4M353.3 518.7l0.1 0.0M609.1 471.9l-0.1 0.0M373.4 497.7l-0.0 0.2M392.3 474.5l-0.1 -0.0M536.4 252.9l0.7 1.2M357.2 529.0l0.1 0.0M585.9 298.4l-0.2 -0.3M537.4 255.4l0.2 -0.1M460.6 494.6l0.2 0.4M419.2 479.1l-0.4 -1.2M301.4 516.5l-0.8 0.2M477.5 231.2l-0.0 0.1M678.9 336.5l0.1 -0.9M446.9 331.8l-0.2 0.1M331.0 509.8l0.1 -0.1M505.9 467.3l0.9 -1.0M240.7 339.4l0.4 -0.3M333.2 478.3l0.2 0.1M660.5 351.0l-0.1 0.6M615.9 406.1l0.6 -0.8M605.1 435.7l-0.3 -0.1M444.5 447.5l0.3 -0.2M267.8 291.2l-0.1 -0.0M527.6 465.6l1.4 -0.3M568.5 306.9l-0.4 -0.3M438.3 434.5l1.4 -0.4M667.0 343.3l0.0 -0.1M296.9 503.5l0.8 1.4M566.3 354.8l-0.1 -0.7M550.1 443.2l0.3 0.1M354.2 492.8l-0.1 0.1M595.4 404.9l0.1 -0.0M571.6 281.2l0.2 -0.4M385.8 434.3l0.5 0.7M565.6 430.3l-0.0 0.1M695.6 372.2l0.6 -0.7M369.3 285.5l0.0 -0.1M591.2 435.0l-0.0 0.1M606.6 353.0l0.9 0.8M430.5 431.0l0.6 -0.3M641.0 345.9l0.3 -0.0M387.1 444.8l-1.0 0.6M579.6 338.2l-0.2 -0.1M397.3 407.9l-0.2 0.3M684.4 342.7l-1.3 -0.3M407.0 502.5l0.1 -0.0M348.2 527.8l0.0 1.4M415.1 430.7l-0.1 -0.1M571.3 405.7l-0.1 0.1M350.6 513.6l-0.6 -0.1M617.7 366.4l0.0 0.1M341.3 260.5l-0.0 -0.6M359.0 482.8l0.0 0.1M323.7 523.8l-0.5 -0.6M581.5 362.3l-0.1 0.2M448.8 442.6l-0.1 0.1M583.0 392.4l-0.2 0.4M268.9 299.3l0.5 -0.3M369.8 396.0l-0.3 -0.4M417.3 441.6l0.1 0.4M437.1 492.7l-1.5 -0.1M595.7 396.7l0.0 0.1M564.6 433.3l-0.9 0.0M590.8 324.3l0.6 1.3M361.8 471.1l0.2 1.3M394.7 466.0l-0.2 -0.7M407.0 434.8l0.4 -1.2M285.3 541.3l0.6 0.1M410.5 435.8l-1.0 0.8M416.9 448.2l0.2 1.3M305.6 509.2l1.0 0.1M389.1 527.4l-0.0 0.2M477.6 468.7l0.2 0.0M451.8 472.3l0.6 0.1M313.6 390.2l0.8 -0.2M293.8 290.1l-0.1 -0.1M619.7 411.5l0.4 -0.6M360.7 472.1l-0.1 1.6" fill="none" stroke="#000" stroke-width="1.05" stroke-linecap="round"/>
<path d="M337.9 535.0l0.5 -1.5M345.2 554.6l1.4 0.5M244.7 306.8l-0.2 -0.1M316.0 489.5l0.1 -0.1M325.9 392.4l-0.6 -1.2M355.5 530.9l0.1 0.1M391.9 518.5l0.5 0.9M357.0 519.6l0.6 -1.2M470.3 486.2l0.6 0.1M612.8 300.7l0.7 0.7M371.1 531.2l0.8 1.1M386.2 421.5l-1.1 0.1M292.8 520.5l0.4 -0.3M445.6 491.6l0.0 -0.5M445.8 467.1l0.7 0.7M457.8 459.0l0.5 1.4M401.4 506.0l-0.4 0.6M320.9 537.8l-0.1 0.1M246.2 367.8l-1.4 -0.6M583.7 296.0l-0.9 0.1M359.4 498.5l0.3 -0.2M331.5 497.6l-0.6 -0.1M414.2 455.5l0.3 -1.3M380.4 552.1l0.5 0.6M371.7 547.8l0.6 -0.2M592.3 444.5l-0.6 -1.1M364.0 547.0l0.2 0.0M307.9 503.3l-0.8 0.3M408.7 505.6l1.4 0.2M404.9 414.6l0.1 -1.4M248.2 374.5l0.9 0.2M442.9 503.7l-1.1 -0.4M251.2 375.4l-0.2 -0.4M696.5 341.5l-0.0 0.1M554.5 443.4l-0.1 0.3M415.3 431.7l-0.0 0.4M563.5 328.5l-0.1 0.0M370.2 394.8l0.7 0.9M331.2 511.3l0.6 0.3M370.0 530.6l0.1 -0.1M329.5 538.2l-0.3 -0.3M607.7 468.9l0.1 -0.6M588.5 447.8l-0.3 -0.5M240.3 359.3l-1.6 -0.2M407.1 520.2l0.2 -1.1M650.1 297.3l1.1 -0.2M406.5 425.0l-0.8 -0.1M534.8 253.4l0.9 0.0M567.6 271.6l0.1 -0.1M318.0 497.3l1.5 -0.4M239.4 317.2l-0.4 0.0M474.1 388.5l-0.2 0.1M420.8 519.0l-0.1 -0.4M372.1 454.2l0.1 -0.1M586.8 310.1l-0.0 -0.1M344.9 529.6l-0.7 -0.2M362.4 474.6l0.2 0.1M367.3 525.0l-0.2 0.0M290.5 511.3l0.6 0.1M317.7 542.1l0.1 -0.1M524.5 249.7l0.4 -0.6M422.4 495.3l0.2 0.2M366.5 456.7l-0.1 0.1M594.1 402.5l-0.2 -0.2M315.1 526.2l0.5 -0.5M454.0 455.0l-0.8 -1.2M384.8 527.5l-0.3 -0.3M395.5 515.5l0.5 -0.1M300.8 506.6l0.4 -0.7M426.1 511.4l0.7 -0.9M371.1 521.2l0.2 -0.4M413.5 522.1l-0.2 0.6M388.5 527.7l-0.2 -0.0M593.1 332.5l0.2 0.0M464.5 463.5l1.3 -0.1M386.5 510.9l0.1 -0.2M598.9 463.6l-0.1 -0.0M442.9 469.5l-0.1 -0.7M357.0 556.6l0.6 -0.4M370.4 547.8l-0.2 0.0M370.4 524.3l0.1 -0.0M586.1 356.5l-0.2 0.1M632.0 279.9l-0.2 0.5M584.2 394.7l-0.4 0.0M287.1 541.3l-0.2 0.1M425.7 516.6l0.1 -0.3M394.1 515.0l0.6 -0.6M337.1 501.4l-0.2 -0.1M653.9 297.0l0.8 -1.1M414.6 520.4l0.1 0.1M469.5 454.8l-0.7 -0.5M445.6 493.5l-0.1 0.1M587.7 402.4l0.1 -0.2M476.2 466.5l-0.1 -0.1M699.6 339.4l0.2 0.2M585.2 467.4l-0.1 0.2M337.0 542.2l0.9 -0.6M355.7 480.3l0.1 0.4M435.0 449.3l-0.3 -0.6M359.8 489.7l0.0 -0.3M440.5 454.9l0.9 0.0M592.8 317.6l-0.4 -0.0M654.1 294.4l0.7 -0.6M585.9 379.6l0.2 -0.2M595.9 306.9l0.8 -0.3M425.8 460.1l0.3 0.1M325.3 486.9l-0.1 0.5M578.0 343.4l0.1 0.3M574.0 285.6l0.5 -0.2M483.5 479.2l-0.8 0.4M578.9 325.3l-0.4 0.3M425.3 521.8l-1.1 -0.4M477.1 476.2l0.3 0.4M378.4 547.5l-0.9 -0.9M372.0 467.9l-0.3 0.4M682.0 325.2l-0.1 0.8M420.8 523.6l-0.1 -1.3M388.6 253.8l-0.3 -0.1M408.2 455.0l0.3 -0.6M357.6 555.5l0.3 0.0M385.9 460.8l0.2 -0.0M516.4 463.8l-0.0 0.1M484.0 480.6l0.1 0.2M591.0 368.8l-1.0 -0.1M588.1 329.5l1.3 0.4M367.0 461.7l0.4 1.1M412.1 442.0l0.2 0.0M263.8 293.3l0.1 0.4M327.9 522.8l0.2 0.6M388.7 534.7l0.4 0.1M350.2 549.4l-0.5 0.5M577.0 344.0l0.2 -0.1M403.1 433.6l-1.3 -0.5M418.2 517.5l-0.4 0.3M652.0 294.3l0.1 0.3M589.3 333.7l-0.1 0.0M398.1 509.5l-0.6 0.0M421.6 520.1l-0.9 0.9M377.4 465.5l0.3 1.3M407.8 425.8l0.1 -0.1M382.6 513.8l0.1 0.5M393.6 525.4l-0.4 -0.1M398.2 541.0l0.1 0.0M376.1 545.3l-0.4 -1.2M438.9 446.1l0.3 0.7M499.7 237.8l0.2 0.4M630.5 279.2l0.4 1.2M351.2 536.8l0.6 -1.0M384.0 533.4l0.1 -0.1M466.7 456.2l-0.3 0.2M254.9 299.8l-0.3 0.1M517.5 458.3l-0.2 0.1M382.7 537.1l-0.0 -0.1M681.5 324.4l0.1 -0.0M395.5 461.3l0.4 -0.0M410.4 497.7l1.4 0.2M324.8 508.1l-0.4 0.0M432.3 507.7l0.1 0.1M416.4 471.0l-0.7 -0.0M321.1 543.5l-0.2 0.1M537.3 458.3l0.1 -0.0M424.3 422.2l0.1 0.1M389.3 492.9l0.2 -0.3M457.4 492.7l0.4 0.1M518.7 343.1l-0.0 -0.6M428.6 516.6l0.2 0.0M326.1 515.5l0.0 0.3M424.6 444.5l-0.2 -0.1M416.4 411.7l0.4 -0.2M690.6 362.1l0.6 0.4M396.0 500.8l0.3 -0.4M432.4 430.5l0.4 0.5M327.1 521.9l0.1 0.6M248.4 308.0l0.0 -0.5M377.9 549.9l0.4 -0.6M373.5 546.9l-0.2 -0.8M388.5 463.9l0.1 0.0M281.9 391.6l-0.7 0.9M569.3 424.9l0.1 0.7M466.3 228.6l1.0 -0.1M586.8 319.1l-0.2 0.0M426.1 456.2l0.1 1.1M576.2 399.5l0.6 0.4M530.6 264.7l-0.5 0.0M387.8 441.1l0.2 -0.5M601.5 292.0l0.6 0.4M590.9 465.8l0.4 -0.4M536.5 254.2l-0.1 0.2M387.8 443.7l0.3 0.2M364.5 517.9l-0.7 0.5M423.9 503.3l-0.3 0.1M456.6 480.1l1.3 -0.4M584.0 331.2l1.0 -0.9M536.0 253.0l1.3 -0.8M618.0 294.1l-0.4 -0.1M635.6 451.3l0.9 -1.0M380.2 456.5l-0.1 0.1M398.7 477.0l-1.3 -0.1M284.7 512.9l0.8 1.0M422.5 432.1l0.4 0.5M317.8 526.1l0.0 0.1M396.3 516.8l-0.5 0.0M386.5 543.6l-0.1 -0.0M308.8 538.3l0.6 -0.6M396.4 453.7l-0.2 -0.1M370.9 511.2l0.5 0.3M584.1 352.2l-1.2 0.9M239.9 354.1l-0.4 1.5M397.0 421.8l-0.0 0.1M395.3 451.9l-0.6 0.4M381.7 468.1l1.0 -0.1M391.6 402.3l-0.1 -0.1M286.6 550.3l-0.2 0.4M415.2 453.7l0.1 0.1M407.8 448.9l0.2 0.5M400.6 415.0l0.1 0.0M427.5 522.1l-0.5 -0.9M504.6 239.6l-1.0 -0.8M405.1 517.0l-0.3 -1.1M253.6 376.8l0.0 0.1M702.5 345.5l-0.0 0.1M397.6 532.6l-0.1 -0.2M591.6 331.1l-0.5 0.3M393.9 412.3l0.4 -0.3M328.6 556.4l0.1 -0.0M255.9 368.4l0.2 -0.1M354.1 491.1l0.3 -1.1M541.5 259.6l-0.2 0.8M578.2 298.9l-0.8 -1.0M344.1 390.3l-0.0 -0.1M376.0 542.7l-0.7 0.6M332.0 271.3l-0.1 0.0M312.1 505.1l-0.1 0.1M385.7 543.6l-0.6 -0.5M628.3 281.9l-0.3 -0.7M356.5 517.8l1.4 0.5M284.6 555.6l-0.1 0.1M323.4 539.6l-0.7 1.3M407.7 507.8l0.7 -0.5M376.8 555.6l-0.1 1.2M416.1 525.8l0.5 -0.2M401.3 483.0l0.1 0.3M437.6 464.8l0.1 -0.1M350.8 516.8l-0.3 0.3M346.2 555.9l-0.9 0.6M428.9 513.9l-1.2 0.0M390.0 468.5l0.4 -0.1M285.5 553.3l-0.5 0.5M378.1 481.0l0.1 -0.5M333.9 548.1l-0.4 -0.2M263.4 376.0l0.0 0.1M369.8 553.4l0.1 -0.1M696.6 364.8l-0.0 0.2M341.6 544.8l-0.5 -0.2M395.9 470.4l0.5 0.8M364.8 401.9l-0.3 -0.2M490.7 472.5l-0.1 0.2M706.9 343.5l-0.5 -0.2M415.1 513.3l0.1 -0.5M295.7 522.0l-0.5 -0.7M406.0 511.1l-0.1 -0.1M702.8 343.1l-0.1 -0.0M604.1 293.6l0.3 -0.1M325.6 513.4l0.9 0.5M347.5 473.2l-0.1 0.0M600.3 467.0l0.7 -0.4M348.4 529.7l-0.1 0.1M599.0 309.3l0.1 0.2M511.0 243.0l-0.2 0.1M704.8 342.1l0.1 -0.1M327.3 554.4l-0.1 -0.1M405.6 470.5l-0.9 -0.8M679.0 314.6l0.0 -0.1M238.5 336.1l0.0 -0.1M406.9 508.5l-0.4 -0.3M451.6 468.8l0.6 1.0M372.4 454.6l-0.4 0.3M321.3 505.9l0.0 -0.1M415.7 521.2l0.0 0.1M577.0 349.5l-0.1 1.0M414.6 536.6l-1.0 -1.1M446.7 484.3l0.2 -0.5M403.3 486.5l0.4 0.1M418.1 449.8l-0.1 -0.9M418.5 434.3l-0.0 0.3M371.9 519.8l0.6 -1.0M387.4 404.4l0.3 0.1M571.8 426.5l-0.4 1.4M436.0 446.5l0.2 0.3M376.9 530.2l1.1 -0.1M395.6 517.4l-0.1 -0.0M487.6 479.5l0.1 0.4M418.2 515.1l-0.1 -0.1M381.0 455.7l0.0 0.6M379.6 547.2l-0.0 -0.1M395.0 510.8l0.1 0.1M432.9 506.6l0.6 0.5M377.7 515.5l-0.3 -0.1M242.1 313.3l-0.2 -0.0M344.7 552.8l0.1 0.1M358.5 502.7l-0.5 -0.4M430.6 514.4l0.1 0.0M579.5 355.7l-0.8 -0.6M374.3 515.7l1.5 0.5M328.9 549.5l-0.6 -1.4M433.3 489.4l0.3 -0.2M372.7 542.4l0.0 -0.2M371.5 517.5l0.5 -0.3M349.7 472.7l0.1 -0.1M594.0 396.3l-0.1 -0.1M361.7 543.7l1.0 0.9M410.8 514.3l-1.5 -0.5M440.8 492.6l1.0 0.2M430.2 472.2l-0.0 0.1M341.0 531.7l0.1 1.4M341.5 552.7l-0.3 -0.1M342.0 527.8l-0.2 0.2M253.4 380.7l-0.1 -0.1M416.2 516.3l-0.1 -1.0M322.1 480.5l0.1 0.1M452.7 456.8l0.0 0.1M578.1 355.9l-0.5 0.7M564.2 328.7l-0.6 -0.1M329.2 476.6l0.0 0.1M385.4 526.8l0.3 0.1M706.8 343.5l-0.1 -0.0M592.6 362.4l0.7 0.2M354.4 531.0l0.0 0.1M415.0 523.6l-1.3 0.4M238.4 318.3l-0.2 0.0M402.1 240.2l-0.5 1.2M427.2 459.7l-0.0 0.4M597.3 306.9l0.1 0.1M415.0 483.5l-0.2 -0.2M438.6 494.8l-0.0 -0.1M384.5 547.9l0.1 -0.1M331.7 396.5l0.9 0.6M365.4 531.3l-0.4 0.1M369.9 553.6l0.3 1.3M306.3 499.2l0.0 0.1M588.0 345.8l-0.2 -0.8M427.5 503.9l-0.3 -0.5M364.7 458.3l-0.0 -0.4M345.6 387.9l-0.1 -0.3M387.2 402.1l-0.5 -0.2M319.8 541.8l0.7 -0.8M392.7 524.4l-0.2 -0.2M378.6 459.9l0.1 -0.1M372.5 545.0l0.0 -1.1M694.8 341.3l-0.2 -0.0M402.3 542.9l0.8 -1.0M451.8 454.1l0.4 -0.6M408.9 516.2l0.2 0.0M238.1 356.0l0.6 -1.1M284.1 388.7l-0.2 -0.1M316.3 489.3l1.0 -0.8M422.8 490.9l0.9 -1.3M413.5 511.6l-0.1 -0.1M338.3 500.1l0.0 0.1M421.2 475.8l0.2 -0.1M585.4 367.3l0.0 0.2M295.3 540.4l1.2 -0.0M369.2 543.6l0.3 0.3M372.6 468.2l0.2 0.7M361.5 516.9l1.2 -0.3M487.0 474.6l-0.5 1.4M411.7 522.3l-0.9 -1.2M351.8 547.6l-0.0 -0.1M343.5 506.7l-1.0 -1.2M596.3 462.6l-0.1 -0.2M586.9 349.5l-1.0 -0.4M585.2 342.8l-0.1 -0.1M351.6 495.7l-0.8 0.3M420.2 524.1l0.1 0.4M447.8 499.2l-0.3 -0.3M246.3 355.9l-1.0 0.5M308.5 541.5l0.3 -0.0M366.1 457.0l-0.0 -0.3M481.9 236.0l-0.5 -0.1M393.1 517.8l-0.1 0.0M380.9 535.9l-0.1 0.1M380.7 478.0l-0.4 1.0M347.4 461.4l-0.0 -0.1M417.5 525.3l0.0 -0.3M315.9 272.9l-0.1 -0.1M381.7 461.4l0.2 -0.3M319.3 379.3l-0.2 0.3M355.2 479.6l0.9 0.9M351.8 474.6l-0.8 -1.2M409.3 538.7l0.3 -0.0M558.6 276.3l0.3 -0.1M596.1 301.0l0.1 0.1M311.0 485.5l0.2 0.1M386.4 544.5l-0.1 -0.4M338.5 497.0l-0.4 0.1M354.3 548.8l0.6 0.3M569.4 344.6l-1.2 -0.5M414.3 236.8l0.1 0.2M295.7 545.0l0.2 0.1M439.5 351.4l-0.4 0.1M365.3 549.5l-0.5 -0.3M365.3 504.0l0.9 -1.1M325.2 526.4l0.0 0.1M390.8 485.9l-0.4 1.0M405.0 422.5l0.2 0.1M413.5 456.9l0.4 -0.3M440.1 463.8l-1.0 -0.4M435.8 461.2l-0.9 -1.1M380.6 537.4l-0.1 -0.7M399.7 531.9l0.0 1.5M418.1 452.0l-0.0 0.2M577.5 341.4l-0.4 0.3M432.4 444.2l1.4 0.3M580.8 298.3l-0.1 0.7M604.9 469.0l0.1 -0.1M401.3 523.5l0.2 -0.0M579.3 396.8l0.2 0.1M334.0 501.0l-0.5 -1.4M653.0 295.4l0.5 0.6M273.0 288.7l-0.0 -0.1M322.3 529.0l0.1 0.1M260.6 383.3l-0.1 0.1M677.1 333.2l-0.2 -0.0M623.5 456.4l0.6 0.2M399.6 410.0l-0.1 0.0M254.4 380.6l0.7 -0.9M398.4 524.8l-0.3 0.5M364.7 462.6l-0.6 0.1M346.7 520.4l0.1 -0.0M334.3 524.1l-0.1 0.3M465.6 470.9l1.1 -0.5M438.5 501.4l0.3 0.1M257.7 299.9l0.9 0.2M317.7 536.7l-0.1 0.0M591.9 341.0l0.5 -0.1M487.8 233.6l0.2 -1.1M331.5 385.8l0.2 -0.2M290.6 288.1l0.3 0.0M247.5 368.7l-0.9 -0.2M477.1 463.1l0.9 -0.9M597.7 465.6l-1.1 0.1M472.2 479.2l0.1 0.0M377.8 533.4l-0.0 0.2M595.5 463.7l0.1 -0.2M388.0 530.4l0.2 -0.1M281.5 531.0l-0.9 -0.4M295.1 506.4l0.4 0.3M574.6 414.4l-0.8 0.3M418.9 519.5l-0.1 0.1M582.9 300.1l-0.1 -0.2M392.5 403.2l-0.1 -0.0M297.5 545.0l-0.0 -0.1M503.8 238.3l-0.6 0.1M385.5 473.2l1.4 -0.4M593.1 295.6l0.1 0.0M287.5 551.8l-0.3 -0.7M497.1 469.2l0.0 0.3M578.5 340.3l1.3 -0.5M260.3 380.7l0.1 -0.2M412.7 476.2l-1.2 -0.1M371.9 515.6l-0.5 -0.2M414.7 512.0l-0.2 -0.1M409.3 468.9l-0.4 0.8M591.3 311.6l0.4 -1.2M560.2 443.7l0.0 -0.8M341.2 287.5l0.5 -0.7M383.4 488.5l0.0 0.1M379.3 546.9l-0.2 0.1M398.7 486.6l0.2 -0.2M312.5 519.0l0.1 -0.4M341.8 518.8l-1.4 -0.1M405.4 522.7l0.2 -0.1M251.0 300.8l-0.7 -0.4M395.5 413.8l-0.1 -1.1M264.4 300.4l-0.2 0.2M238.2 332.8l1.0 -1.1M380.0 540.7l-0.1 0.1M320.2 523.2l0.2 -0.3M319.0 387.6l0.2 0.2M571.4 309.1l-0.0 0.1M311.2 480.9l0.6 0.6M403.0 461.8l0.7 -1.4M428.9 495.5l0.0 0.1M424.6 507.1l-0.1 -0.0M327.1 517.1l1.3 -0.7M401.1 522.7l0.4 0.3M453.0 490.4l0.1 0.1M250.6 303.7l0.1 -1.5M376.1 460.8l1.4 -0.0M459.6 472.6l-0.3 -0.6M331.2 500.0l-1.3 -0.4M379.3 489.7l0.7 0.7M699.4 346.9l-0.1 1.3M677.4 325.6l0.2 0.3M590.3 323.8l-1.1 -0.7M331.4 501.8l0.7 0.4M384.9 454.6l0.3 -0.2M358.0 457.5l0.0 -0.1M419.6 520.4l-0.4 0.0M362.8 539.7l-1.2 0.2M402.7 494.0l-0.0 1.1M287.4 534.8l1.5 -0.3M405.4 456.4l-0.1 -0.1M495.1 470.1l-0.5 0.4M355.8 543.5l-0.2 0.2M252.6 299.8l0.5 -0.2M587.7 319.2l0.2 -0.0M456.8 475.6l-0.0 -0.1M434.6 512.1l-0.5 0.5M337.6 506.1l0.1 0.1M321.4 487.0l-0.4 -0.2M476.3 479.8l-0.1 -0.2M390.2 540.8l0.1 -0.3M332.3 485.9l1.1 0.7M347.2 471.9l0.1 0.0M413.2 524.0l0.2 1.2M532.4 251.5l1.2 -0.7M359.0 496.6l0.5 -0.0M385.0 546.7l-0.2 0.4M462.7 488.8l0.2 -0.1M531.8 465.0l0.4 0.4M685.4 340.0l-0.1 -0.0M267.3 300.1l0.1 0.1M670.8 320.3l-0.2 -0.2M432.6 521.1l0.7 -1.3M405.9 503.0l0.0 -0.1M335.1 546.3l-0.8 -0.2M340.3 494.5l0.3 -1.3M420.3 520.7l-0.2 0.2M619.5 407.4l0.5 -0.3M402.1 521.6l0.1 0.0M327.0 494.3l-1.0 -0.4M410.8 522.6l-0.0 -0.4M312.3 477.6l-1.1 0.8M423.1 424.3l-0.3 -0.1M406.8 529.3l0.4 -0.2M390.6 458.2l0.0 -0.2M471.3 477.9l-0.8 1.1M380.8 553.7l-0.0 -0.2M266.6 289.9l-0.4 -1.0M452.6 485.6l0.2 -0.4M423.8 518.4l0.0 -0.3M421.0 520.8l0.4 -0.3M307.3 545.1l-0.0 0.1M656.7 296.2l-0.6 -1.5M512.4 462.4l0.5 -1.0M492.9 240.2l-0.1 -0.4M405.9 453.4l-0.3 0.6M448.1 493.2l-0.0 -0.1M334.7 552.6l-0.2 -0.1M248.5 308.9l-0.0 0.1M583.5 341.6l-0.3 -1.5M386.8 498.2l0.5 0.3M389.5 522.0l0.3 -0.0M366.6 546.6l-0.3 -0.4M327.9 545.4l-0.3 0.6M331.5 507.4l-0.3 -0.1M431.6 515.2l-0.2 1.0M395.3 538.9l0.2 0.7M318.3 488.6l0.5 -0.4M351.6 550.1l0.0 -0.2M249.4 304.7l1.1 0.8M595.9 447.0l-0.9 -0.6M408.9 540.7l0.1 -0.1M421.1 411.1l0.6 -0.5M516.9 337.4l0.0 -0.2M425.0 525.5l0.0 0.2M396.3 511.2l-0.3 1.2M346.6 463.7l-0.2 0.1M413.2 518.2l-1.2 -0.9M258.0 299.2l0.6 -0.7M586.1 402.4l-0.1 -0.0M249.2 304.6l0.5 0.2M403.6 426.0l0.2 0.0M481.5 466.8l0.0 -0.1M282.9 554.6l-0.8 1.0M394.3 524.1l0.1 0.1M368.4 449.3l0.1 -0.0M346.6 552.8l-0.5 -0.1M676.2 314.5l0.1 -0.0M375.6 542.2l1.6 0.2M452.0 488.4l-0.0 -0.2M326.5 495.6l-0.1 0.1M360.9 492.4l0.2 0.1M415.0 537.4l0.7 0.2M578.8 409.4l0.1 1.3M435.3 435.3l-0.1 -0.4M501.2 236.4l-0.7 0.0M424.9 438.7l-0.0 0.1M369.4 546.6l-0.4 0.7M354.3 549.3l0.0 0.1M592.7 328.9l-0.9 -1.1M578.1 403.4l-0.4 -0.6M595.7 454.4l0.0 -0.4M400.2 425.7l0.1 0.1M680.8 324.6l0.3 -0.8M342.8 385.3l0.1 0.0M415.4 454.1l0.0 -0.3M470.1 232.7l0.1 -0.2M687.5 370.5l-0.0 -0.1M283.1 286.3l0.5 1.4M269.5 293.9l1.0 0.8M361.2 534.0l-0.0 -0.1M429.6 487.9l-1.0 -0.1M501.0 468.7l1.1 -0.3M315.0 386.0l-0.3 -0.9M414.6 424.2l0.1 0.1M580.4 314.7l0.2 -0.1M290.1 506.3l0.5 -0.9M435.3 509.4l0.0 1.2M524.4 249.6l0.0 0.1M439.3 502.0l-0.1 0.0M589.9 293.9l-0.6 -0.0M411.1 443.3l0.2 0.7M404.5 541.4l0.2 -0.0M686.6 333.8l0.3 -1.5M407.1 455.1l-0.9 1.3M529.7 249.3l0.2 -0.0M590.3 291.0l-1.0 0.4M383.1 526.1l0.5 -0.0M498.7 464.7l-0.4 -0.8M323.2 512.6l0.0 0.1M681.0 323.7l-0.2 0.1M371.7 481.6l-0.7 0.9M684.2 334.8l0.1 -0.1M540.9 456.7l0.8 -0.1M386.4 537.9l1.2 -1.1M360.2 455.4l0.4 -0.3M302.1 291.3l-0.5 0.1M430.5 429.8l0.0 0.2M388.8 510.1l-0.4 -0.2M589.3 466.9l-0.3 0.2M272.9 298.8l-0.3 -0.2M364.5 518.3l-0.1 -0.2M307.2 557.9l0.1 -1.1M356.1 486.2l-0.1 0.2M430.3 434.3l-0.4 -0.8M340.6 503.0l-0.7 -0.4M361.2 531.8l0.5 -0.1M393.0 401.6l0.3 0.1M466.5 487.9l0.6 -0.5M399.7 521.8l-0.2 -0.0M650.8 294.4l0.3 -0.1M283.0 555.7l0.6 -0.1M246.5 367.5l0.2 -0.1M354.0 550.9l-0.6 -1.1M399.2 405.2l0.4 -0.4M307.1 534.6l-0.1 0.1M407.3 428.0l-0.1 0.5M300.6 502.0l0.2 -0.3M306.0 510.5l0.4 -0.2M412.8 535.0l-1.5 0.1M611.4 421.5l0.4 0.4M291.7 281.7l-0.1 -0.2M403.2 517.9l0.7 0.3M349.3 482.4l0.3 0.6M404.0 540.7l-0.2 -0.0M370.6 552.8l-0.3 -0.3M583.4 390.1l-0.2 0.2M403.9 542.0l-1.5 0.2M379.2 555.1l0.4 -0.5M589.2 377.9l0.1 0.1M344.2 554.0l0.9 0.1M425.2 428.8l-0.0 0.2M380.0 251.2l0.0 -0.2M359.8 459.7l-0.3 0.0M695.7 344.6l0.6 -0.8M687.6 333.6l0.1 -0.0M392.8 531.5l-0.2 0.5M535.4 460.1l-0.3 -0.1M406.0 516.5l0.7 -0.6M400.3 534.2l-0.4 -0.5M425.5 520.7l0.7 -0.1M336.6 396.7l-0.1 0.2M379.0 538.1l-1.3 0.6M391.8 538.9l-0.0 -0.2M259.9 301.4l-0.0 -0.1M354.3 475.3l0.3 0.6M335.5 489.5l0.5 -0.1M613.0 406.4l-0.8 0.4M281.8 538.7l0.0 -0.3M387.2 481.7l0.3 -0.1M416.5 428.5l0.4 -0.4M449.2 498.4l0.1 -0.0M328.7 554.9l0.1 0.1M426.9 515.9l-0.2 0.2M450.0 490.4l-0.7 -0.0" fill="none" stroke="#fff" stroke-width="1.05" stroke-linecap="round"/>
<path d="M602 375l5 21l-1 9l2 4M605 423l-11-9l-13-17l-5 8M236 299l12-19l-4 4l2 9l2 4l2 17M671 333l11-2l-7-10l10 5l10 12l-8-17l-9-5l-5 3M580 443l-4-1l-23 13l-9-9M457 499l-17-10M445 472l21 18M341 515l14-7l2 6l-14 15l-8 2l-9 1l7-11l-9-1M280 282l-9 2l-16-3l0 8l3-6l1 2l-2 10l0-1M352 499l6 17l0 1l12-7l-23-1l12-10M368 523l-5-5M344 483l12 26l-1 10l0-7l-8 13l-7 9l26 5l10-10M643 341l-11-14l-8 5l13 35l2 0l-14 4l7-20l-13-9M277 539l12 1l-10-2l14 9l12-17l4 3l-11-15l15 1M687 344l-7 9l-4 35l-15 10l3-6l9-11l18-3l-10-16M284 556l-8 6l9 2l16-13l-2-4l6 9l6-2l-1 8M544 259l2 0l7-10l-9-12l12 0l-3-23l-3 11l-16 1M629 276l-9 8l-7-4l7 6l-8 6l-4-9l-6 13l8 8M682 401l-9-10l9-2l3-13l-37-7l-14-16l-5-14l-17 28M746 347l-4 7l-18-4l1 20l4-10l1-27l3 2l2 11M655 300l5 5l1 0l-11 18l15-19l-12-4l-8 6l-5 9M338 261l-3 8l8-9l-1-4l-15 9l19 17M415 234l14 12M434 243l-20-14l-21 9l6-6l13 21M217 610l-3 2l12 5l-2-21l-2 1l-6 10l-16-4l7-20M611 367l10-3l-6-30l-3-3l-15 10l-36 8M685 338l-11 10l0-7l-9 10l-4 19l-5 4l-4 16l9-19M350 432l6 10l-3-1l-17-14l10-11l21 8l4 4l-1 5M635 435l-1-4l-2 16l-6-14M624 426l-8 6M603 440l-12-11l9 0M481 226l-5 14M478 235l-16-5l14 0l-19 16M214 565l4 1l-17 5l8 6l-2-2l7 2l-11 12l-5 5M266 567l0-3l-4-24l22-7l-8-10l3-2l32-12l7-2M657 379l-5-9l-3-18l4 11l-10 25l12 6l9 18l4 20M671 405l2-5l6-11l9 12l-13-2l3-21l8-28l-11-3M713 349l25 9l-12 25l-1-3l-5-6l5 0l-27-9l5-13M323 532l-2 6l-14 20l-6 7l-10-12l0-3l-9 7l-1-6M674 440l-4-8l10-19l10-3l-2 0l-26-5l-5 9l12-2M422 215l-14 18l5 15M353 489l-9 14M345 515l-8 4l7 6l-3 14l7-1l5-3M388 424l17-8M401 389l-16 15l19 1M703 296l-4-4l-2 1l-4-3l-9 9l1-4l-20-10l-2-19M416 240l-3 7M387 251l-6-9l8 14M601 323l-12 5M569 296l6-18l0 3l1-4M533 525l-18-4l-1-13l-1 15l-2 13l-1-10l-24-12l15 9M668 374l-23-18l4-7l-2-2l-2 22l15-8l5 1l2 3M267 518l-3-8l2 4l-5 14l16 18l1-2l-8-9M281 421l-10-1l-15 0l7 5l-10 5l-8-9l-24-7l-2 4M523 527l15-9l-5 10l-15-4l-3 6l-19 5l-14 5l18-12M612 386l-34 1M750 363l5-18l-26 11l9 24l-7-1l-9 2l-8 5l0-2M694 383l-15 9l1-5l-2 6l-16 15l5-26l8-8l-11 11M672 424l14-22l-20-12l15-19l-17 16l19-14l-28-4l-8 0M274 542l-9 3l-4-1l12 7l8-3l1-15l-4 0l7 5M600 478l14-18l2 10l-9 5l2 5l7-11l-13-9M667 409l9-3l4 22l-16 2l7-9l0-1l-9-18l-19 0M388 451l-6 0l6 24M662 318l11-3l-23 10l7 5l9 14l-15 16l13-3l8 5M578 284l-4 15M499 494l-20 8l8-2l-26 12l-11-13l-14-23M364 242l30-17l-20 8l-10 17l23-6l15-15l2-7M315 396l16-10l-12 2l-2-7M645 322l-8 4l4-12l-26-5l2-2l-25 8l3 23l-16-22M336 515l-1-3l17-5l19 0l-7-5l8 11M385 500l-1 22M585 443l5 18M593 449l-11-16l2 9M349 249l10 1l3-3l-3 5l6-8l15 0l17-12M295 514l-6-11l-2 0l6-8l-14 1l-2 0l-7 21l-1-6M504 222l-2 15l-1 1l6 22M501 249l10-9M300 394l0-19M347 493l-12 3l10-5l-3 3l7-1l-17-4l-1-10l-4 16M370 249l-9 2l-10-5l-5 0l4 6l-17 4l27 1l-13-5M501 538l-6-11l-1 4l6 4l8-8l18 1l-12-20l24-9M627 290l-17-8l4-10l-2-4l3-2l-9 5l25 10l-2 17M340 394l-15-20M469 502l-3 3l-8 3l-13-16l11 18l-2 10l-18 17l-19-9M296 499l-6 12l-5-5l22-23l10 25l-4 14l23 5l-2-9M644 465l-4-5l-7-12l-3-4l10 4l14 10l0 3l-14 3M466 213l15 18M443 230l-6-6l11 0l11 0l27 18M414 512l-4 9M412 505l13 20l-2-30M387 392l-1 3l-13 5l-15-5M270 586l6 5l-2-19l13 13l5-3l-17-7l4-18l-6-15M587 426l19 6M599 422l-10-4l13 5M602 413l-11-6l11 16M659 390l8 12l-4-5l6-15l-8 10l-5 5l-29 10l-1-5M400 554l4-9l-8-20l-9-3l23 11l-5-3l-12-1l-8 2M298 273l14 1M674 328l7 2l-3-1l-12-10l4 12l-3-31l25 2l-20-17M580 430l-15-16M291 533l-8-11l23-3l-9-18l-6 21l2 19l17-8l-4 1M682 370l-3-8l8 10l20 2l-6 6l-8-1l-7-3l14-2M472 488l-31-14M485 537l3-4l1-5l2 13l-8-13l-7-10M312 271l5-4l-8 8l-13 4l-2 7M318 402l5-7l16-4l-4-9l-15 6l-8-8M287 577l-22-10l-16-5l4-5l21-24l19 25l14 0l3-3M660 371l5-5l-4 4l-29-14l-16 11l15 6l-9 4l-13-5M245 386l-3-12l11 4l22-7M229 498l-2 0l0-9l-4 5l2 13l14 3l-14-16l-20 14M346 454l22 19M368 480l-10 3M326 520l0 3l6 3l6 6l4 10l-1 8l13-20l-12 6M742 386l-9 6l13-7l-2 3l-4-14l-1-14l-10-15l-21-20M200 432l-15 2l1 4l18 6l20-13l-23-7l-2-27l-3-9M388 241l21 26M567 262l-12-1l35 14l-4 0l29 0l4 5l-16 21l-6 2M622 327l-14 2l15 21l-6 18l-3-9l-3 24l-2 9l-25 13M746 309l-5-2l-7-6l28 14l12 7l-14-6M327 264l-14-17l-2-1l19 7l-3 0l20 3l17-10l6 17M613 325l14-22l1-1l-1 2l3 1l16 17l3 6l18 3M630 270l-13-10l25-17l-5 22l13 6l-2 10l-17-4l-29 6M685 338l-9-15l23 5l15-7l-11 9l-12-14l1 9l-3 7M624 337l-12 8l1-2l-32 12M586 344l7 3l9-2l12 15M340 257l-10 11l1 15M614 466l6-10l12-13l2 11l21-16l-11-8l7-7M318 494l-2 9l-11-3l16 4l20 12l7-12l-1 16l13-41M304 557l5-3l4-11l0 4l-1 4l16-10l-6 2l3 1M233 345l22 18l-10 7l4 9l-11-1l21 25l1 6l-19 4M590 447l15 0M607 433l-18-14l-31-2M599 356l7 7l10 2l-23-11l25 3l18 1l-12-11l-3-12M209 368l16-1l-6 4l15 7l-7 0l24 11l4-12l-2-6M642 402l7-10l5 10l8-10l14 17l-13 15l5-2l3 6M520 513l-11 13l-14 1l0-1l-14-12l8 1l21-9l-10 6M466 224l-21-2l7 4l16 7l-23-5l-9 0l11-2M649 354l-17-10l6 6l2-13l13 3l14 17l-20 20l-18 4M677 350l-3-8l1-9l8 29l-7 3l9-1l-7-9l9 3M611 392l-15-9l-6 4l2 20l8 8M420 527l-4-1l-2 19l1-10l11-8l-7-12M298 569l-10-2l3 4l2 4l16-5l-12-13l3 7l11 9M717 331l-11-3l-3-3l17 2l-13 7l1-6l-11 14l-5 5M228 601l-3-12l-10-5l4-10l-11-7l-13-5l12 7l3-5M616 252l-4 11l7 10l-20-3l-6 22l-7 26M701 363l-14-11l8 15l2-9l-11-5l3-13l-11 3l19-13M338 554l23-20l21-23l-17 4l-12 13l6-3l13-2l2 16M252 432l-3 11l8-4l-7 9l-1 13l12 8l3-3l3 10M177 402l-6-9l-1 8l2-1l25 0l27-10l-4 14l21 4M376 539l-10 11l1-4l17-11l-12-12l-19-7l-3-20l19-7M615 286l22 7l11-9l7-6l6 3l6-9l-13 23l1 1M576 456l8 2l23-12M619 432l5-11M648 354l5-10l-7 3l-17 11l-4 1l9 6l8 17l5 1M702 336l5-14l5-14l5-3l-10 4l-14-4l-8-6l4 20M466 230l-29 13M314 265l-14 16M250 598l-6-16l2 22l-8 0l-1 0l-2 12l-2 8l-5 1M278 546l7-6l-1-22l-4 0l-1 11l1-5M292 524l-1-8M618 471l-1 4l3-5l23-1l-1 4l-6-10l13 8l-14 7M316 558l7-2l7-10l17-5l2 6l-2 12l-7-5l-5 12M485 231l13 14M369 449l7 0l10 4M688 336l12 21l-14 0l-8 0l6-17l-12-3l14-5l-1-5M592 369l-5 14l7 25l6 19M351 241l22-12l7 4l-3 3l14-4l3-4l17-10l10-3M609 347l11 22l30-11l-2-21l-2 13l-13 14l-7-14l6-31M667 330l3-6l3-3l-7-4l-8 26l-11-21l-13-8l4-14M321 555l-24-19l-14-5l12 6l-5 4l-8-6l1 4l12 3M589 266l5-6l-2-3l-13 6l-3 16l-1 5M329 502l9 14l16 0l-2 27l-6 7l-19-15l-4-10l-10 8M614 319l-3 19l23 12l3 1l3 7l-13 12l6-9l-3 25M624 316l-22 4l-21-2M362 570l-18 1l12-4l4-2l-12-5l-1-36l17 4l-5 5M670 308l-21-18l-2 9l18 12l-8-9l-3 25l-9 2l-7 4M462 234l-3 0l1-7l-7-10l-22 17l-12-6l-21 13M685 314l-26 6l-4 31l-19-13l-10 13l-10-11l-6 6l-9-6M337 479l7-2l-12 5l-10 10l-1-11l-2 9l-11 9l-1-18M679 366l4 14l-5-2l-15 16l-9 18l-1-18l-4-1l-6-4M571 278l-7-7l2-1l7 24M575 290l2-7l-6 4l-20-22M318 388l-5 10l16-4l7-15l1 15l-13 21l9-2l16-2M666 426l-5-25l-1 4l-5-5l12-8l-22-10l10-4l-10 3M702 340l1-6l-2 0l12 4l4 13l6-21l-4 0l31-5M252 400l7-13l-7-11l4 3l-2 4l6 11l9-6l21 4M587 436l7 6l-8-9l7 3l2 0l5-12M693 342l0 3l3 12l0 11l-15 8l7 4l-7 21l-13 20M528 221l9 0l-33 12l10 9l-1 6M509 247l-2-5l-7 24M277 543l-4-11l10 14l-7-11l-7-5l-2 8l5-5l-3-16M594 410l12 28M609 438l17 15l14-12l6-5l4-17M321 394l1-2l8 18l2-2l13-1l-2 0l-6 7l-4 8M344 560l-5 1l3-2l24 5l15-11l-4 6l5-35l5 4M349 396l-4 3l27-7M615 469l-20-8M600 460l-1 8l7-4M613 452l-4 16l-12-14M595 392l-1 11l-10 13l9-6l-6 1l-13 14l12-27l-16-2M513 462l-20 9l10 5l-1-10l-13-1M497 463l6 4l-6 8M353 456l-8-18l-3-7l9 1l-9-2l-1-1l28 5l3 26M606 379l0 9l15-2l13 17l15-1l-13-4l-2-5l8 4M326 410l26-7l-2 13l3 13l11 9l4 18M390 446l-2-17M290 576l13-13l-9-4l-8 14l6 7l-13 23l6-6l-20 12M584 468l4 9l-24-5l7-1l-5-13l-13-20M558 434l17-10M647 353l-5-1l28 26l10 28l-7-11l-16-11l13-7l-3 5M293 544l-10-8l-11-11l9 3M286 542l22-14l3-13l-1-11M670 375l17-2l-2 3l-13-21l9 4l-11 0l27-13l-4 0M599 402l7-3l-3-41l7-1l-3 26l6 0l13 14l31-2M247 447l15 13l-7-11l10-37l-17 3l2 4l15-5l12-16M344 476l5 7l7 10l-6 3l-16-17l10 0l-20-7l-8 3M604 363l-21 4l16-1l14 39l-7-24l-3 3l-6 20l4-11M643 457l7 10l-6-6l-4-5l-6-22l2-4l-15 2l10 0M519 490l6 7l7 21l3-2l-1-19l0 1l-9-15l-6-2M677 403l10 3l-2-12l6-11l-2 10l-9 25l-17-24l-6 9M310 503l-1-2l-1 2l0 1l6 25l7 12l-11 17l4-6M577 407l9 4l12-7l-1 3l5 4M603 414l24 14M597 425l13 2l19 10l-5 4l12-6l-28-11M664 395l8-21l0 15l-3-2l-4 14l14 3l13-9l-8-2M303 539l11 7l-13 10l-9 14l0-3l-2-1l6 3l-5-9M695 387l14 17l4-6l-8 8l-10-6l-3 7l-15 13l1-2M322 559l3-23l15-4l-13 9l10-3l24-13l-9 7l10 10M347 493l7-13l17 2l-16-3l-10 11l-5 3l22 20l-12-16M689 389l8-18l-4 0l-12 11l-10-9l-20 7l13 12l-7-13M642 401l-9-7l-29 15M602 413l20-15l-9-7l6 7M624 363l-23 15l6-2l9 12l17 21l9-5l27 15l6-7M628 331l4-1l9-16l-2-14l11 5l-12 8l-9 4l-1-1M321 513l11 6l-6 2l-10 19l-15 0l16 12l0 12l-1-19M371 449l-4 7M367 466l-13 3l-9 2l-6-1l6-13l-7-16M349 545l-12 12l8 3l5-5l-14-9l26-14l-13-6l20-11M372 530l3-22l-15 3l15-19l-26-3l-4 14l4 0l-9 6M596 340l2 12l-1 3l-5 14l-20-1M582 364l8 12M658 266l6 8l17-7l-3-2l-9 3l-2-18l-5 28l-1 23M668 345l7-1l17-5l-3-6l-5 8l12-11l2 11l-16-1M392 527l9 3l-15-2l0-4l-4-1l29-5l0 13l8 9M378 536l-3 7l-10-1l-6 17l-3-2l13 3l-6-14l-14-20M584 438l-11-4l20 9l15 18l0 12l1 6l1-10l3-14M339 249l-2 1l12 3l4 20M299 279l-13 5l-1 9M323 286l-23-9M634 407l8-16l-3-10l4 9l9 9l-1 10l24 5l6-3M368 551l-15-25l-4-8l17-7l22-3l6 10l-13-20M591 410l-4-6l-14-3M372 540l4 0l3 11l1-8l-10-2l11 2l-10 4l-7 5M346 520l-11-3l-8-5l-8-19l12-5l15-19l15-4l15 20M360 464l-8 7l-7 13l3 3l-3-5l17-10M643 440l10 11l-28 4l-2-4l1-25l-1 4M626 441l16 34M604 491l-26 10l-26 13l9-15l-10 13l1 4l3-2l-2-13M351 548l25-3l-9-14l-9-8l3-8l2 0l6-10l-22 15M655 425l-3-2l3-1l-9-7l-1 13l-14-11l-13 15M322 552l1-2l9 10l20-4l6-9l-20 7l6 2l-18-8M650 279l-4 9l-29 5l-13 2l3-3l-5 15l-7 14M629 441l7 7l26 1l-1-2l4-25l5 15l-18 0l12 5M250 565l-8-16l24 5l4 8l-11-5l10 5l2 7l-9 12M199 466l-13 5l16 2l1 0l-4 9l0 1l4-5l-5 1M353 501l-8-33l7-5l12 19M371 472l-13-8l19 18M302 542l-5-6l-8 0l-16 1l13 1l-34 10l15 11l22-34M318 516l19 2l-9-4l-2 5l-13-11l11 5l0 3l-3-2M319 476l-26 27l3-1l12 8l10 1l-15 2l7 7l22-3M729 371l7 11l-22-2l0-5l-5 0l-12 1l-9-10l-16 26M603 346l-16 16l2 12l-6-14l-18 1M568 382l17 7M416 538l0-14l9 9l-7-13l-26-12l2 9l-2-18M243 371l10-15l-2 19l5 10l-5-3l2-15M591 418l5-3l-7 22l16 6M614 419l0-13M215 498l0 3l-4-7l-2 13l17 3l-6-14l1-3l-10-10M325 531l-12 17l-19-20l-17 4l-17 1l15 8l12 10l-14-10M455 516l20-12l-5-10l10-4l20 3l5 5l7 8l-25 14M527 478l-11-4l-2-6l-8-14M501 456l-26 31l10-1l10-1M353 551l13-4l5-5l0-16M375 512l-29 23M625 453l-1-7M316 549l-6 10l-3-15l-13-13l-1-10l-1-17l-14 20l7-8M256 282l23-13l-11 12l-5-3l13-5l-4 8l7 6l1 3M467 497l-25 3l-10 6l11 9l-6-11l-11-12M430 512l-18 22M192 600l3 6l2-7l2-1l-8-16l7-11l11 9l6 3M294 506l1-1l-9 22l6 31l-5-14l19-16l-6 1l-2 4M317 487l3-3l-8-13l-9 3l18-3l0 4l-8 3l-30 7M268 529l8 22l14-15l1 7l5 17l7-14l3 7l3-4M283 596l3 5l-7-17l-1 1l-3-13l4-1l9-4l10-7M597 288l-2 3l-2 17M271 584l-15 14l11-9l-6 16l-3 1l-5 3l10-11l21-34M331 538l20 17l-9-13l25 9l-5-2l-27-26l-13-4l-2 13M717 382l-3-12l-2 7l14-2l0 9l5-22l15-3l10 9M631 417l-4-1l7 7l7-3l-7-21l7-8l0 1l28 1M708 382l-7 19l-17 5l9-17l-11-4l-4-2l30-1l1 3M349 231l-6 15l14 6l-12 4l10-3l0-3l7 8l-17 30M289 490l8 13l19-1l-30 18l9-2l-4-9l11-7l-7 8M732 352l14-6l-5-10l-8-2l-1 6l-5 12l0 4l-3 8M378 244l6 6M410 237l-10-6l1 2M221 613l-5 14l16-2l-21-9l-5-8l15 25l8-1l10-1M245 593l-6-9l9 5l-12-9l4-11l8 12l16-13l-23 11M630 391l-8-6l9-16l8 12l-7 5l-16-24l-7-6l0-5M522 223l3-9l-4 4l-3 6l-2 4l-5 12l10-3l11-6M652 386l10 25l6 7l-10 9l-3-3l13 3l-3-1l-24-1M241 433l28 5l-4-6l5-23l21-4l17-1l-1-4l-3 14M363 553l-2-10l-22-4l15 0l4 14l9-14l-4-23l23 23M440 503l-16-6M308 249l-2 9l22-6l6-1l4-3l2 10l-1 11M386 448l12 3M382 537l-4-20M378 497l-24-2l-8 6l-10 2l-17-14l5 3M376 548l16 4l5-10l-12-17l-2-17M676 314l-18 33l-17-8l-15-9l-5 9l-1 12l8-16l7 10M599 392l-29 2M569 413l15 30l-18-1l3-3M681 415l0-25l-16-4l-1 7l8-4l-2-1l17-9l0-22M304 523l-2 8l0 4l5 10l-8-13l6-6l-2 1l-1 9M431 186l5 13l12 16l-16-4l-7 12l9-10l-11 16l-2 6M603 282l-9 29l19-5l11 0l-9 11l-13 8l16-2l-1-7M678 367l0-13l-5-7l9 5l-7 7l-8-2l6 3l-8 9M614 292l-6-19l-12 2l14 7l-2 5l-4 7l18-2l-21-8M296 486l19 7l-17 3l13-7l11 1l-9 8l-5 14l11-5M664 350l17-3l-7 8l0-19l-12-24l-14 2l3-5l5 23M259 580l2-4l-7-5l10-10l-25 19l16-22l-11 11l-16 13M259 387l-3-4l-5-15l-6 5l11 8l3 16l-21 12l-2 22M632 438l-10 9l6 2l-11 19l6 1l-11-3l2-1l8-20M599 476l20-14l4 0l-20-15M612 432l15-1l-1 10l20 10M347 502l-23 11l-22-2l-4-13l0 1l6-4l5 13l-7 0M392 531l6 12l12-11l4 8l-15 7l-24 0l-5 4l2-9M465 519l-2-27l2-11l4 3l17 4l20-16l9 8l4 7M585 407l8 2l-4-10l0-7l-1-7l2 3l-17 5M648 400l-4 3l-8-8l6-8l9 12l-15-5l9-5l7-10M658 414l-17-6l-1 2l12 18l-27 13M595 448l-13-3l-30 1M762 364l-6 17l-8-2l3-14l-8 18l-8 25l5-8l-7 1M690 324l-27 0l0-6l-4 0l-16 8l-18-2l4-2l1 13M284 598l-1-19l9-27l-7 7l-20 11l3-5l10 24l-11-6M232 421l-12-2l6 1l2-4l0 17l1-11l18-6l-8 6M448 229l-10 1l-2 2l7 13M453 237l-2-7l-8 13M478 229l-1 7M578 458l23 5l16 0l-5 4l-12-25l-23 25l5 2l-1 8M630 444l-9 0M620 440l1 20l-15-15M630 415l14-6l4-2l8-2l14-5l21 9l-4 23l-8-6M358 523l0-13l26-13M347 481l7-12l2 7M686 311l9 5l-8-2l-20 1l-1 7l-23 8l11 8l-8-19M648 395l-10 9l-28-12l-11 5l4 5l-3-1l4-3l-7 14M324 470l5-4l-1-3l-2-3l5-4l6 0l9-26l-7 0M623 328l2 17l-10 0l-7 2l-8-18l8 27l-14 1l9-32M306 387l-1-1l-1-1l27 15l-13-1l11-26M390 227l-2-9l-8-9l15 1l12-8l13-7l-10 11l7-8M543 504l3-7l3-12l-5-10l-17 7l13-11l3 11l6-5M390 239l24 13M620 374l7-7l-11 39l-25-9l-2 9l14 11M599 421l-4 1M704 333l11 5l2 3l5 10l-20-3l13 7l-8 10l5-9M526 515l2-13l-2-8l18 7l-4 14l1 7l-6-7l-5 4M363 511l-1 5l-22-19l6 8l-5 9M482 495l6 4l0 6l-24 24l4 7l6 1l-3-12l11 0M228 309l-1 12l7 5l-7-11l10 11l3 7l4 21l10 11M504 236l-15-4l-11-5l-3 19M605 279l1 3l7-7l-8 19l9 12l10 7l6 5l14 32M547 472l-6-7l-6 5l-1-13l-9 15l20-12l-8-7M342 465l7 6l1-4l7 2l-4-9l10-2l10-19l-13 20M649 431l-1 0l-11-10l-8 5l9-8l-11 12l16 5l-5 0M382 435l2-6l1-1l10-3M399 428l-11 10M253 579l-6-8l5-7l-5 7l17 1l-6-4l-28 1l17-3M236 323l8-7M251 319l-12 4l3 16M252 328l-12-2l6 24M356 550l5-19l9-9M381 518l7 10l0-7M335 517l10 12l16 14l2-14l18-17M372 519l-23 0l7 8M671 426l-24 10l-15 9l2-11l-12 11l7-6l-10-17l25 13M659 447l-27-5l-10 4l0-29l17 3l13-5l9-1l-2-10M698 357l-1 1l14-16l-11 5l9 5l3 2l-10 7l-19 26M684 376l-4-1l-10 1l-3-39l-15 6l8 8l-17 20l-17-4M330 469l0 22l-6 8l-11 4l10-6l-7-7l-10-6l16 1M265 579l5-3l-7-9l3 5l4 8l6 0l0 9l4-7M641 428l1-6l9-8l-6 5l-27-14l11 2l-19-15l-1 3M312 520l14 13l10 10l8-9l-17 23l-16-6l3-12l6-7M670 309l11 3l-4-17l-4-2l12-7l-10 13l-12 10l-11 6M523 248l-5-13l19 9l-1 1l11 17l-2 15M418 534l-10 13l-9-25M429 504l8 6l-3 13M358 551l-5-20l-2 5l4-7l-13-6l-5 16l13 6l-22 10M634 452l-11 13l-8-5l-2 5l17-10l-14-10M280 283l9 10l-4-18l36 2l-11 6M603 288l-2 36l-9-2M583 338l21 0l0-2l9-23l13-12M680 419l-14 7l1 4l11 5l-20 2l-18-2l-15-10l-1 21M527 248l-9 5l-19-14M500 242l-8-12l8 21M389 546l-15-21l14-9l-8 13M377 526l12-7l1 14M204 607l10 0l2-1l-22-21l9 0l4 7l18 13l-8-8M746 363l-31-3l-18 6l5-3l-12 6l-3 13l0 16l-12 3M240 361l3-5l17-11M209 377l-15 11l5 9l22-17l-9-8l5 17l11-6l-1 1M272 526l16-10l16-21l-20 21l-4 7l-6 15l-3-12l19 18M396 510l4-6M384 486l12 25M221 598l-2 11l9 0l9 9l-5-9l17-7l11-5l9 8M230 337l16-17l-11 9l-1-10l7 11M250 334l-12-14l18-14M339 538l12-7l-7-3M340 505l4-3l7-4l15-34l-7 7M627 449l-11-9M623 431l8 2l5 3l-5-3M580 360l10 23M261 431l-18 1l8-2l6 18l24 16l-15-4l0 1l7 23M564 269l8 15M595 308l6-15l-15 6M552 267l-2-7l-11 11M608 282l22 2l6 2l19 8l-13-29l13 22l-19 11l12-10M304 557l14-11l16-8l1-13l8 0l-2-14l-14 4l8 15M590 365l10 11l6 16l-13-17l-15 3M688 401l-1-9l4-11l-9 8l-13 13l6 27l-8 7l-3 6M228 322l7 12l8-12l14 5M268 364l-21 6l0-9M617 286l-25-1l3-10l24-2l13-12l-1-8l14-15l-2-3M629 319l3-11l-5-6l-21-12l-14-1l18 16l-11-4l1 2M378 229l22 2l17 8l2-9l-11 20M429 230l-19 13l-3-9l5 4l-4-9l8 13M656 274l12 9l4 8l6-3l18 8l18 2l7 8l-1-3M598 336l-5 7M582 346l9 26l21 5l-19 15l9 19l-14 14M486 496l-21-3l0-24M431 228l12 8l23-6l-11 17M424 244l-9-4l3 4M664 423l6-10l-20 1l0-20l-10-5l15-2l-16-14l0-10M651 300l16-5l-1-13l9 5l-5 5l-4 2l4 0l5-8M663 396l10 10l2 9l-4-4l18-4l-10-18l1 18l-18-3M307 485l-3 8l-8 20l-10 15l21 10l-1-7l-13-17l6 8M347 523l-5-4l-3 17l2 0l1-21l11 9l21 1M351 399l0-12M485 509l-4-11l-3-4l-21-31M655 351l-5 18l-18-3l-10 0l-17 1l16 16l-11-11l-20-2M320 266l12-3l-2 14M689 351l12 10l-1 11l-6-20l10-7l4 5l2-2l-17 7M367 563l12 5l8-5l-6 8l-2 4l3-13l5-1l3-5M345 416l-11 18l-11 3l3-7l20 5l-2 12l-5 7l1-16M389 427l1 2M329 477l-14 3l-2 13l15-6M337 499l15-10l16-7M263 552l-2 10l3-32l-2 3l6-12l2 10l12 15l-18 8M668 366l11 4l-2-24l20 6l-8 4l18-11l-12 5l-11 16M296 503l24-25l9-2l-14 11l-2 5l-27 25l3-18l10 23M627 313l10-7l23 6l-8-3l-10 0l13 47l11 2l-9-14M612 348l-5 3l6 13l9-11l5-32l-12 0l-10 0l7 3M696 420l-18-15l14 1l-12 3l4 3l-12 12l-13 2l24-24M681 383l-9 15l-7-12l15 1l7-12l-1-1l0-17l-23-2M324 548l-6-22l-15-20M304 504l-13-4l5-4l8 3l-4-7M220 414l26-4l-4-8l1-19l11-10l-10 1l4 7l3-1M270 513l10 1l1-10l-13 24l14-12l-6 0l3-7M594 364l-8-6l-2-18M594 336l5-12l34-1l2-2l26 8M578 424l-5 3l4 0l-9 3l28-12l-1-10l-8-6l-11-10M316 543l-2 15l-10 6l-7-13l12-17l24 0l16-8l-13-12M375 540l1-5l-13 3l16-1l-12 0l-17-8l-8 23l-7-15M346 471l9-13l0 6l31 7M506 244l-8 4M332 556l1-23l-3-28l1-3l3 11l-1 16l-9-7l-5-4M515 236l8 17l6-2l-20-3l9-3l-15-5l5-2l0-10M291 283l3 1M307 276l-3 0l-10 5l-4 7l25-18M604 345l2-9l9-9l-5-2l-5 1l-5 7l1 15l-3 6M476 207l-8 7l-9 10l-11 12l7-5l11-2l0 23M643 363l3-7l5-9l17-10l23-2l16 16l13 19l9-12M634 434l-15 5M600 462l-13-10l14-8l-19 3l5 3l-13-17M647 297l-8-1l-5-3l-9-3l16 6l-5-5l8-9l2 8M564 226l-11 31l13-5l10 1l-14-8l0 1l6-15l26 12M606 383l-2-2l-5 8l5 1l17-22l1-22l-26 7l-22 19M665 434l0 12l-17-4l6-15l4 7l3 3l-16 2l-10-16M330 472l1 0l7-1l-5-2l19-16l0 8l-12 3l4-14M340 546l15 2l-15-4l-1-17M342 511l-12-3l-8-5M276 555l-1 4l-11-16l23 1M298 524l8 14l5 2l-9 1M158 443l-2 14l14 14l-2-4l-7 6l-2-3l2-1l5 1M706 341l6 11l-9 4l-7 13l1 21l-1-21l-14-12l19 2M358 567l22-7l-10-7l11-13l5 5l-5-1l8 7l6 2M313 482l14 9M330 493l2 11l10-10l-3-15l-3 20l26 8M685 375l-16-6l11-11l-3-14l0 16l7-5l21-2l17 7M312 505l1-6l11-3l-24 21l-1 4l5-1l29 19l-1 3M610 393l5 7l-9 3l1-13l-15 8l8-10l0-20l-7 22M304 551l-12-14l-1-17l2-4l15-1l-5 3l10-5l7-6M658 374l-11-19l-13-2l10-31l-3 7l29-12l-9 3l3 21M461 229l-6-7l-11 3l17-23l14 6l-7-11l11 14l-5 3M266 579l18 3l14 13l-1-4l-7-14l-18 20l21-8l-16-6M565 484l3 7l4-2l-15 10l5-16l-13 0l9-6l1 4M244 495l8 20l12-6l-17-5l-3-1l25-7l-2 18l23 6M301 487l-2 7l1 7l-1-19l3 3l12-3l-3 27l17 15M351 507l2-1l-1-3l12-6M565 272l-6 4M557 279l10-7l-11 6M609 301l-15 0l-1-12l-6 9M585 390l8 0l14 5l4 2l-5-5l-15 10l6-1l-26 4M547 251l-7 6l1 8M581 397l-1-15M298 553l-15-2l-2-7l15-1l-1 18l1-2l-4 3l-11 13M311 258l-1 12l5 8l5-7l-1 19M329 284l2-21M419 528l-26 7l0 14l16-4l3-1l-9-3l-5 5l24 9M440 513l-7 2l-14 9l5 0l-10 8l-9 1l1-2l-6-1M640 372l-5 1l-17-2l5 13l-28 13l-25-9M346 511l-8 1l-1-16M333 490l11 5l-5 4l5 10l-9-12M557 263l-10 1M527 259l-11-11l-20 7M430 230l-4 11M214 597l-4-18l12 12l7 6l13-14l9 0l7 10l13 0M562 483l8-1l18-9l-1 4l6-2l2 5l3-13l-2-4M666 303l8 7l10 0l-3 7l-7-20l8 0l-4 14l-15-3M642 277l7 5l13 15l13 16l-3 6l-12-14l-13-8l-7 5M270 559l-11-7l4 13l-7-14l10-16l15-12l5-3l3 7M453 218l3 13l27 16M502 215l-14 5l13-5l-4 1l1 9l5-4l4 8l-12 6M574 419l-13-24M370 558l-16 5l13-8l0 5l-9 3l-27 2l-20-12l-18-9M457 511l-8 18l-2-14l2 10l2-9l-11 1l24 11l15 6M641 351l5-4l-26-23l-9-1l-9 7l17 9l7-8l8-8M243 556l-2 6l12-8l6-5l-19 2l-20 9l2-31l1 18M480 228l-1 14M306 516l-8-1l-3-17l0-10l2-2l-1 18l1 2l2 13M590 467l-5-2l-2-17l2 13l17 10l10-10l10 9l10-11M593 475l21 2l11-13l-16-21M610 438l-26 0l28-6M264 384l3-4l-6 3l6 11l-3-12l-6-6l5 18l10-8M655 400l0 13l-3 11l-33 4M642 349l11 2l-5 3l4-4l-9 4l-20-11l3 10l-10 13M603 387l-23 16l-8-3M385 415l-7-30M527 260l-13-19l-22 7M624 261l-1 15l-10 5l13-14l1 17l-14-2l2-2l-5 19M389 543l-16 6l-1 16l-15-11l9-7l-4-8l9-11M343 494l5-11l10-18l-16 15l10 17l7-13M468 226l-3 14M379 400l9-15M260 379l10 0M277 366l6 27l2 12l6-7l5 12l12-13M669 411l-7 1l7-9l6 34l5-7l6 11l-9-16l2-2M506 467l-6 4l9-20M489 457l12 24l6-5l-5 6M350 513l-10 3l2 1l14-1M356 535l11 5l-13-1l-12-12M332 431l1-16l-7-2l-10-22l19 7l12-9M329 390l23 8M362 531l2-9M373 503l-9 4l6-14l-1 18l-3-13M594 298l7-3l15 8l-1 10l7-7l-7-19l4-10l-23 1M600 343l-9-20l23-2l-1-5l-13-26l-18-10l17 16l-7 3M627 425l21-21l-1 3l4 5l12 6l17-35l16 6l4-18M612 425l11-12l1-10l4 6l-5 6l-9 12M649 340l14-1l22 16l-4 14l13-15l-2-11l-8-23l-8-11M313 471l9 8l10 1l3 2l13 10l4 5l2-4l10-6M190 441l-7-19l-11 1l2 11l-13 13l3 7l7-33l-7-2M518 244l-16 6M507 258l10-18l0 4l11-3M216 405l25-11l17 7l11-9l-5-9l9 0M290 383l37 5M507 491l-4 4l-8-6l15 26l6 2l-14-2l-5-4l-15 2M245 361l8 3M316 271l0-14l13-1l6 1l19 20M241 584l-12 11l-7-2l9 15l-13-22l1 9l8 14l-1-9M342 259l-15 11l11-4M657 373l8 21l7-19l0 7l6-19l2 26l-2-28l-9-16M370 533l-4-17l-1-3l-25 23l-19-2l3-7l-18-9l0 10M308 485l5 6l-11 13M289 531l-8 13l10-1l-3 14l2-6M516 250l0 10M507 257l19-5l2 17M743 365l-8-6l-10 1l3-20l9-7l-11 14l-2 18l27-22M366 407l26 10M586 220l-8 10l24 19l8 15l4 1l-10 10l18 13l-7-15M223 524l1-1l14 5l3 2l16-22l-13-16l26-9l5 5M393 515l-1 9l5 4l-13-1l-7-9M388 529l7 3l16 4M312 522l13 10l3 1l1 18l6 5l-20 0l-7 12l3-7M273 519l2-1l7 15l7 8l-11 14l-5 2l-5 2l2 15M304 481l-3 9l-3-5l18-2l-16 6l1 11l16 1l8-3M246 580l-10 7l6-2l-4-8l7-14l0-5l-20 13l14 26M648 416l4-5l-3-1l-15 5l-15-4M268 540l-8-1l-9 3l23 10l24 17l22-16l-17 2l10 3M671 399l9-8l13 14l-1-4l-1-14l-10-12l-5-8l-15-14M246 417l12 2l-1 3l31-4l-33 13l16-13l-3 4l5-18M239 304l20 9M256 320l-26-4l-1-2l5 18l0 14l-6-4M594 235l8 11l16 11l6-9l0-6l-2 6l-7-7l1-8M200 424l6-8l3-4l-1 6l11 15l-6-1l6-1l11-3M682 437l-18-15l0-17l15 10l2 13l-21-28l4-12l0-8M343 246l-13 19l-6 10l-8 39M271 388l4-2M284 371l-15 11l14 6l-20-28M619 351l2 16l14 26l22 18l5 12l4-2l4-9l-13 3M661 309l-18-10l-24-6l-19 8l-23-20l-16 1M298 274l8 14M356 255l19 4M407 236l17 5l14-18l20 16M638 390l0 11l20 22l4-9l3-6l10-18l-2-6l-14 8M348 463l16 6M362 485l-7 1l-3 6l8 11l2-4l14 0M655 439l-12-15l-10 16l10 3l4 1l-2 6l-1-12l-2-2M360 515l9-12l-20-21l-22 17l-1-5l-6-18l8-13l10 24M454 226l-22 17M690 380l6 9l-5-6l0-20l-27-16l-9-5l7-19l14 11M357 532l19 0l-11-3l8 13l-1 16l-6 2l15-3l-9-17M310 555l-10 14l-18-12l26-14l-5-13l-22-2l11 4l13-1M369 508l2 8M367 500l-17-8l3 22l-5 5l8-19l-11-7M248 435l-15 10l13 0l14-10l-15 2l4 0l13 24l21 6M556 479l18-1l-7-4l-20-13l-6 10l14-7l19-17l6-8M507 466l21-2l-7 8l27-8l0 4l4-5l-18-11l6 3M286 582l10 0l9-16l27-5l25-12l-23-5l-9 5l-5-18M623 391l-9-18l8 7l-7-5l14-3l-18 20l-20 8l9 18M377 449l3 19M369 473l1-25l19-1M403 224l-6-7l-7 12l-12 0l20 8l-14 12M379 253l-12-7M689 360l2 0l-9 14l-6 3l1-7l9 14l3-16l1-6M346 395l21-18M548 472l4-9l11 3l3 2l-28-3l21 0l-9 5l-11-10M666 416l19-7l10-19l6 6l-7 14l-16-14l3 15l-31-1M718 370l3 7l-8 1l-15-21l4-3l2 1l1 13l-11 7M294 392l4-12l5 12l8-7l6 2l6 7l3-1l12-9M697 354l9-5l-15-11l-1 5l-2-11l-13 9l12 18l-8 4M334 268l4-14l-4 4l23-2l3 26M595 332l-27-11M586 296l16-3l27-25l10 7l-10 2l13 19M517 247l-1 7M339 471l-9 0l-17-6l12-6l-12 14l-5 22l2 4l-7 22M632 310l-2 10l11-6l-2-9l3 12l-8-27l-6 1l2 9M302 492l1 16l21 9l18 4l-7-4l-22-1l7-6l14-6M313 399l-22-17M481 525l5-11l7 15l-10-8l-11-27l8 11l-5 9l8-16M631 294l5 30l6 3l5-2l30-1l-9-27l5 1l-26-2M391 543l9-3l4-3l-10 0l-2 6l-13 5l-19-14l-9 11M277 399l11-6l18-10l36 10l-6-21M342 375l4 16l-3-4M346 510l2-14l-4 30l-10 7l3-13l8 18l5-6l-12-1M537 255l14 10l-2-9l-22 14M704 358l-16-5l13 4l7-13l-13 12l2-6l13-5l-14-12M363 255l4 0M372 252l6-8l15 28M680 345l-2-3l-9 12l10 19l1 4l-1-3l4-15l16 13M261 377l20-14M286 353l-16 30l7-19M614 402l-1 28M608 408l-13-5l10 16l-16-10l-12-16M264 288l-16 1l-4 12l10 12M619 299l-22-6l-5-3l14-4l-13-5l-6 3l0 12M413 219l10 12l-11 15M303 559l-7-11l2 0l8-1l15 4l8 12l1-13l3 5M365 510l-3 9M378 526l-23-9l-8 1l-5 6l19 17M573 240l18 16l-19-19l-7 5l-11-8l-2-9l5-6l-5 1M409 514l12 1M407 512l-13-2l11 8l-10 24l-16-4l11-7M415 559l4-3l4-10l2 4l-9 8l7-8l4-15M310 504l19 12l-7 9l-5-25l-23 5l19 13l-10-6l8-2M317 489l6 8l1-7l-28-1l1 9l-12 1l1 4l8 4M331 472l1-3l30-9l-5-4l-6 9l1 18l-3-13l14-6M662 389l-7 13l1 4l-25 1l1-12l-8 15l-25-11l4 12M295 516l-5-6l-8 8l-11 1l22 14l24 7l-22 6l12-14M623 424l-10 7M617 427l9-20l-16 10M218 400l43-20l10 5l13 7l-1 10l-1-11l0 3l-3-11M666 337l12-18l12 13l14 3l4-8l20 18l3 1l-4 25M608 306l-3 19l1 11l-17-1l7 3l7 14l-7 0l29 2M215 599l5 6l2-8l27 11l-23-7l8 6l-1-9l5 3M273 290l7 4M497 235l-25-4l8-2l-5 15M289 586l4 4l3 0l-1 0l18-22l-7-8l20 4l-3 6M294 551l-2-29l-12 5M302 504l-15 15l24 8l-26 2M265 546l21 7l3 5l21 3l3-1l-20-7l3 0l0-8M491 471l3-4l-10-9M481 468l12 5l-5-7M313 270l23 0M593 362l-1-23l3 8l35 22l10 16l7-19l12 15l0 3M540 459l5-4l30-2l-1 3l5 4l-10-9l8 3l13 2M345 462l19 0l-13-1l3-2l-28 7l-13 15l-5 15l3 4M749 337l19 8l-2-16l-8-7l0 3l-5-5l3 5l-9 22M587 392l-9 10l-3-7M559 256l10 15l1-5l-8-14l10-10l1-2l-28 8l-5 2M673 358l-1 2l-6 23l13-14l-22 21l8 6l-12-8l-19 10M296 529l-10-11l0-6l-1 10l7-5l-17-8l16 34l6 0M613 285l14-8l24 8l-19 8l5 12l14 20l-5 11l-2-2M305 499l12-8l17 14l0-19l4-1l-16 8l-8-10l-2-4M580 274l3 23M306 497l-6-4l-1 3l10 2l-12-11l8 3l-2-2l-2 4M695 343l-6 5l-2-15l-16-6l2 2l10 6l-26 31l0 1M324 290l-3-21l-11-10M228 339l6 12l21 9M280 376l-20-1l1-2l-8 8l16-10M659 289l19-3l-8 18l-8 14l-2 26l-12 12l-1 4l-5 10M703 373l-9-6l-5-21l-4 3l3-4l5-7l-15-1l-5 8M679 383l-7-10l-4-19l-12-4l1 13l2 21l4-10l-10-14M588 408l-11-9l0-5l17-1l5 0l-17-9M591 385l-1-16M607 477l-4 1l13-5l-2-13M611 452l-6 18M465 492l16-6l7-5l-10 9l-30 4l-3 9l-5-17M721 291l-6 1l-4 8l-5-13l-3 24l-13 25l-2 1l10 22M239 639l-7-1l-7 0l0-5l-1 0l1-10l10-7l7-13M675 384l-13 25l-10 8l-5-7l-1 20l4-1l15-1l-29-7M497 473l-3-26M609 230l-7 15l13-2l-3-1l12 4l4 1l-20-9l-8-8M578 476l-15 5l3-8l18 4l-6-12l27-16M703 358l-14 12l9 9l-3 0l-2 14l-1 8l-18-10l11 6M371 541l-3-10l-30 18l17-6l-2-11l-12 7l-16 0M632 456l-9-11l19-2l5-4l15 0l6-5l-1-24l15-15M385 518l5-13l-7-37l-4-15l-6 5M367 483l-14 6M336 484l-24-2l-8-7l7-5l13 4l12 1l-10-3l12 0M440 527l-19 5l-7 19l-12 6l22-5l-9-15l14-7M580 418l4-2l-7 0l-2 9l0 6l15 8l27-13M698 375l-6-9l-6 27l3 2l9-10l-9 8l-21 15l4-5M622 460l5 1l1-10l-18 5M622 414l-7-3M605 434l-15 13l17 1M276 518l13 0l-11 12l-18 0l-2 22l-11-2l5-25l18 15M383 528l3 5l-11 13l-1-16l6-10l15-4l3 16l-5 5M604 403l-5-5l4-4l5-1l-20-10l1-9l-21 5M598 354l-2 8l8-1l18-1l-11 16l17-28l-12 4l5-21M422 226l9 2l-13 6l-10 0l-2 21M366 400l-1-13M175 443l10-2l11-2l-5-2l-14 23l9 11l11-5l3 4M587 405l15-18l18-14l14 0l16-35l-2 14l16 8l-1-15M596 402l6 7l-5-8l4-8l-5 9l-1-7l22 5l-3 9M502 481l-14-5l0-6l9 20l9 2l-4-5l-1 4l13-1M653 345l-15-5l-7 7l18 21l11-15l21-6l15 6l4 11M641 377l-7-1l-8 13l18 4l-15-9l7-25l6 15l-3-13M261 383l12 11l18-2l-15-2l27-13M327 573l24-9l0-7l-7 0l29-5l-10 14l3-7l-8-3M352 496l10 10l-10 6l3-10l6 8l-7-13l-2-6l18-17M239 461l20-15l3-15l-3-10l-10-10l-12 6l-27 8l-2-3M627 369l17 13l18-10l9-11l-20 7l9 3l11-3l-5-14M689 428l0-3l-19-16l7-4l-2 5l0-9l5 0l8 11M606 297l-19-3M628 321l17-6l30 9l8 10l-6 0l-15-13l7 2l-3 9M275 272l-16 25l-5 27M640 459l-18-4l18 4l-18 12l13-9l0-15l9 15l10-4M326 274l2-9l11-8l29 33M522 473l3 4l5-7l-13 25l2 6l-15 5l-13-4l-29-6M296 553l0 4l-9 24l5-19l-20 2l-1-6l10-4l3-35M654 305l-18 9l-7-5l8-11l-10 6l-4 4l-2 0l-9-23M247 611l14-7l0-5l-9-3l19-8l2 1l4-10l-3 11M372 568l-2-11l-17-10l23 18l0 4l-12-13l13 7l14-12M705 302l2 14l14 6l21 3l2-2l2-12l-5 14l9 4M221 356l-1-11l30-2M256 360l-7 8l-3 10l0-2l12-16M377 538l-15 16l-12-6l-25 5l-22 2l-16-19M343 392l-9 1l-19-13M314 387l-17 3l-6-4l-8-7M382 554l-10 2l9-5l-11-18l-5-4l10 8l-5-4l-4-7M268 574l-5 14l-5-11l0-12l-6 8l-5-10l1 11l-16-4M576 432l1 2l20 8M574 474l-6-13l-10 20l8 1l0 9l2-12l7-5l4 7M537 249l8 0l1-4l9-12l15 27l5 11l-8 4M354 527l-20-12l10-22l11 2l-6 1l1-9l-14 24l8-13M491 473l9-6l4-5M482 470l-17 19M312 506l17 9l-2 17l-3-9l18-4l-5-15l23 3l26 5M459 497l-4 0l-9-4l3 3l3 7l-15 1l9-30M663 256l-20-1l-2 19l-9-2l2-17l4-3l-15-6l5-3M259 292l14 6l-9-7l6 16M300 488l21-8l10 12l1-4l2-7l4-15l16 14l20 1M609 253l-6-24l9-4l3 9l-10 2l-6-7l-16 0l-5-17M609 393l5-15l2-2l-8 4l-3 1l17 0l-10 3l6 6M665 442l2-11l-11-16l0-2l3 11l3-15l11-34l3-2M606 302l5-12l20 6l14 7l-5-4l20 16l5 3l-10 6M586 361l-9 3M589 330l13-16l-1-22l-1-2M635 425l3-29l13-2l12 8l7 7l-5 13l0-8l-2-16M371 563l-11-7l14-25l4-8l5 3l0 2l-1-26M676 378l6 17l11-8l-19 1l0 37l-10 11l0-27l7 0M675 394l12 6l-10 5l9-5l0 1l12-20l-17-13l3-21M693 395l10 0l-9-10l-4 8l-17-2l-17 4l3-2l-2 0M705 345l-14 21l-5-22l-11-19l-4-14l9-6l-7 27l-8 4M741 345l-3-3l-4 3l5 9l-2-4l-9-7l38 6l-2 4M713 353l-16-9l-7-9l0-8l0-6l15 15l13 23l-3 8M227 329l5-10l15 6M261 304l20-29l7-8l-4-4M232 568l4 31l15-6l18 4l-14-13l8-4l9 5l1 13M358 462l-7 10l-6-3l17 25l-7-3l5 10l-9-1l-2-25M655 294l-20-6l9-3l-7 5l-36-1l6 17l5 1l-3-3M239 340l-1 10l11 17l12 0l0 10l15-6M269 372l-27-20M278 513l-1-5l7-11l-3 2l16-21l-29 3l18-8l2 11M531 250l-22 12M651 311l7 13l-3 3l9-2l-18 9l-1-11l2-2l-5 10M348 525l-1 20l-1 9l6 9l-5 21l2-4l10-1l-8 2M586 358l5 2l-2 13l-6-21l13-16l-14 1M290 499l-3-11l0-2l4 7l12-1l-11 14l16 5M669 316l-17-2l-10 3l8-15l-8-2l27 19l-5-16l-12 0M629 411l-16-3l9 5l-8 5l12 8l2-15l4-1l-3-11M693 399l10-23l-15-15l12-2l0-4l6-5l-10-15l18 30M620 354l-7-10l17 9l-12-5l0 14l-4 1l-9 1l-6-36M582 432l-28 6M659 312l-14 8l4 6l3 0l-20 4l-8 0l-19 5l-3-3M586 470l4 0l8-3l-18-2l-8-6l-1 8l6 4l1-20M213 434l15 13l-17 15l-10-25l3-24l12-9l-2 0l-7 2M605 375l22 6l6 12l-12 9l10 5l14-19l23 3l-8-6M338 554l13-2l1-20l2-1l-12-1l-13 5l14-3l-7-6M323 418l-8-19l-20-2l15 6l-11-3l8-1l12 7l-9-8M623 364l-10-9l1 2l-23 15l-9-11l-11-9M355 242l27 16M385 260l-10-14l16-4M191 394l9-11l-10 13l-14-4l-4 29l2-5l1-7l4-8M586 405l8-17l-10-3M586 381l8-4l-3 4l2-7l-9-9M643 386l-4 11l8 40l4 22l-10-7l-22 11l-3-1l-5-16M259 292l0 14l0-8l13 12l-14-9l2 2l13-16l-17 18M317 553l2 0l-3-16l-13-29l10 20l-7-12l5 8l-10 15M666 403l-10 7l7 7l5 12l12-14l17 17l9-11l-20-4M678 311l-4-12l-8-7l-14 2l-7 13l-8 12l-17 2l-14-1M657 300l-5 18l7-17l-20 13l0-7l-27-2l16 25l3 0M756 300l-11-1l10 6l1 15l-1 0l12 9l-8-7l3 5M648 401l-2 3l10 12l3-6l-2 7l-2-4l-9-18l-11 4M376 230l10 13M383 251l-13-5l25 13M658 349l3 15l5-21l2-9l-21 13l17 11l19-19l14 0M266 533l10 7l28 3l2 14l-19 1l-3 3l-1-13l8-5M375 399l-8-3M360 396l4 9l-3 26l-18 13l2 31M238 289l22 8l6-12l-2 12M302 272l13 10M324 296l10-30l25 1M258 568l1-3l14 14l-12-1l-19 3l-6-14l-1-5l-7 31M338 489l-10-11l4 17l11 0l5 9l-11-2l-9 6l-1 12M498 482l-5-31M621 327l0 18l-12-6l-3 13l6-4l6 8l-14 15l14 0M590 378l-7-24M583 343l13-3l-10-3M316 520l7-13l9 19l6 17l18 9l-6 8l-14 0l-28-7" fill="none" stroke="#FFA500" stroke-width="0.85" stroke-linejoin="round" opacity="1"/>
</g>
<g stroke="#000" stroke-linecap="butt" fill="none">
<line x1="113.7" y1="19.8" x2="113.7" y2="647.1" stroke-width="4.2"/>
<line x1="111.9" y1="645.3" x2="930.2" y2="645.3" stroke-width="3.7"/>
<line x1="92.5" y1="603.8" x2="135.0" y2="603.8" stroke-width="4.6"/>
<line x1="92.5" y1="520.7" x2="135.0" y2="520.7" stroke-width="4.6"/>
<line x1="92.5" y1="437.6" x2="135.0" y2="437.6" stroke-width="4.6"/>
<line x1="92.5" y1="354.5" x2="135.0" y2="354.5" stroke-width="4.6"/>
<line x1="92.5" y1="271.4" x2="135.0" y2="271.4" stroke-width="4.6"/>
<line x1="92.5" y1="188.3" x2="135.0" y2="188.3" stroke-width="4.6"/>
<line x1="92.5" y1="105.2" x2="135.0" y2="105.2" stroke-width="4.6"/>
<line x1="92.5" y1="22.1" x2="135.0" y2="22.1" stroke-width="4.6"/>
<line x1="113.7" y1="623.0" x2="113.7" y2="666.3" stroke-width="4.6"/>
<line x1="195.1" y1="633.0" x2="195.1" y2="657.0" stroke-width="4.6"/>
<line x1="276.6" y1="623.0" x2="276.6" y2="666.3" stroke-width="4.6"/>
<line x1="358.0" y1="633.0" x2="358.0" y2="657.0" stroke-width="4.6"/>
<line x1="439.4" y1="623.0" x2="439.4" y2="666.3" stroke-width="4.6"/>
<line x1="520.8" y1="633.0" x2="520.8" y2="657.0" stroke-width="4.6"/>
<line x1="602.2" y1="623.0" x2="602.2" y2="666.3" stroke-width="4.6"/>
<line x1="683.7" y1="633.0" x2="683.7" y2="657.0" stroke-width="4.6"/>
<line x1="765.1" y1="623.0" x2="765.1" y2="666.3" stroke-width="4.6"/>
<line x1="846.5" y1="633.0" x2="846.5" y2="657.0" stroke-width="4.6"/>
<line x1="928.0" y1="623.0" x2="928.0" y2="666.3" stroke-width="4.6"/>
<line x1="1064.6" y1="24.0" x2="1064.6" y2="339.0" stroke-width="3.4"/>
<line x1="1064.6" y1="337.0" x2="1064.6" y2="652.6" stroke-width="3.4"/>
<line x1="1062.9" y1="338.6" x2="1823.2" y2="338.6" stroke-width="3.4"/>
<line x1="1062.9" y1="650.9" x2="1823.2" y2="650.9" stroke-width="3.4"/>
<line x1="1044.5" y1="327.0" x2="1084.5" y2="327.0" stroke-width="4.7"/>
<line x1="1044.5" y1="191.0" x2="1084.5" y2="191.0" stroke-width="4.7"/>
<line x1="1044.5" y1="55.0" x2="1084.5" y2="55.0" stroke-width="4.7"/>
<line x1="1054.0" y1="259.0" x2="1075.5" y2="259.0" stroke-width="4.7"/>
<line x1="1054.0" y1="123.0" x2="1075.5" y2="123.0" stroke-width="4.7"/>
<line x1="1044.5" y1="591.2" x2="1084.5" y2="591.2" stroke-width="4.7"/>
<line x1="1044.5" y1="493.5" x2="1084.5" y2="493.5" stroke-width="4.7"/>
<line x1="1044.5" y1="395.8" x2="1084.5" y2="395.8" stroke-width="4.7"/>
<line x1="1054.0" y1="640.1" x2="1075.5" y2="640.1" stroke-width="4.7"/>
<line x1="1054.0" y1="542.4" x2="1075.5" y2="542.4" stroke-width="4.7"/>
<line x1="1054.0" y1="444.6" x2="1075.5" y2="444.6" stroke-width="4.7"/>
<line x1="1054.0" y1="346.9" x2="1075.5" y2="346.9" stroke-width="4.7"/>
<line x1="1064.6" y1="318.3" x2="1064.6" y2="357.5" stroke-width="4.7"/>
<line x1="1064.6" y1="630.5" x2="1064.6" y2="669.8" stroke-width="4.7"/>
<line x1="1159.4" y1="327.2" x2="1159.4" y2="348.0" stroke-width="4.7"/>
<line x1="1159.4" y1="639.3" x2="1159.4" y2="661.0" stroke-width="4.7"/>
<line x1="1254.2" y1="318.3" x2="1254.2" y2="357.5" stroke-width="4.7"/>
<line x1="1254.2" y1="630.5" x2="1254.2" y2="669.8" stroke-width="4.7"/>
<line x1="1349.0" y1="327.2" x2="1349.0" y2="348.0" stroke-width="4.7"/>
<line x1="1349.0" y1="639.3" x2="1349.0" y2="661.0" stroke-width="4.7"/>
<line x1="1443.8" y1="318.3" x2="1443.8" y2="357.5" stroke-width="4.7"/>
<line x1="1443.8" y1="630.5" x2="1443.8" y2="669.8" stroke-width="4.7"/>
<line x1="1538.6" y1="327.2" x2="1538.6" y2="348.0" stroke-width="4.7"/>
<line x1="1538.6" y1="639.3" x2="1538.6" y2="661.0" stroke-width="4.7"/>
<line x1="1633.4" y1="318.3" x2="1633.4" y2="357.5" stroke-width="4.7"/>
<line x1="1633.4" y1="630.5" x2="1633.4" y2="669.8" stroke-width="4.7"/>
<line x1="1728.2" y1="327.2" x2="1728.2" y2="348.0" stroke-width="4.7"/>
<line x1="1728.2" y1="639.3" x2="1728.2" y2="661.0" stroke-width="4.7"/>
<line x1="1823.0" y1="318.3" x2="1823.0" y2="357.5" stroke-width="4.7"/>
<line x1="1823.0" y1="630.5" x2="1823.0" y2="669.8" stroke-width="4.7"/>
</g>
<g font-family="'Liberation Serif', serif" fill="#000">
<text x="85.8" y="617.8" font-size="40.3" text-anchor="end">-6</text>
<text x="85.8" y="534.7" font-size="40.3" text-anchor="end">-4</text>
<text x="85.8" y="451.6" font-size="40.3" text-anchor="end">-2</text>
<text x="85.8" y="368.5" font-size="40.3" text-anchor="end">0</text>
<text x="85.8" y="285.4" font-size="40.3" text-anchor="end">2</text>
<text x="85.8" y="202.3" font-size="40.3" text-anchor="end">4</text>
<text x="85.8" y="119.2" font-size="40.3" text-anchor="end">6</text>
<text x="85.8" y="36.1" font-size="40.3" text-anchor="end">8</text>
<text x="114.0" y="701.8" font-size="41.3" text-anchor="middle">-10</text>
<text x="276.9" y="701.8" font-size="41.3" text-anchor="middle">-5</text>
<text x="440.4" y="701.8" font-size="41.3" text-anchor="middle">0</text>
<text x="603.2" y="701.8" font-size="41.3" text-anchor="middle">5</text>
<text x="767.5" y="701.8" font-size="41.3" text-anchor="middle">10</text>
<text x="930.4" y="701.8" font-size="41.3" text-anchor="middle">15</text>
<text x="520.3" y="739.3" font-size="40.3" text-anchor="middle">Projection on Eigenvector 1 (nm)</text>
<text transform="translate(32.7,332.8) rotate(-90)" font-size="40.3" text-anchor="middle">Projection on Eigenvector 2 (nm)</text>
<text x="3" y="31" font-size="42" font-weight="bold" textLength="28.6" lengthAdjust="spacingAndGlyphs">A</text>
<text x="947.5" y="31" font-size="42" font-weight="bold" textLength="26.4" lengthAdjust="spacingAndGlyphs">B</text>
<text x="685.3" y="50.3" font-size="36.85">hTf</text>
<text x="685.3" y="93.9" font-size="36.85" fill="#FFAA00">hTf-Cinchonine</text>
<text x="1039" y="340.0" font-size="38.5" text-anchor="end">-10</text>
<text x="1039" y="204.0" font-size="38.5" text-anchor="end">0</text>
<text x="1039" y="68.0" font-size="38.5" text-anchor="end">10</text>
<text x="1039" y="604.2" font-size="38.5" text-anchor="end">-5</text>
<text x="1039" y="506.5" font-size="38.5" text-anchor="end">0</text>
<text x="1039" y="408.8" font-size="38.5" text-anchor="end">5</text>
<text x="1064.2" y="705.8" font-size="38.5" text-anchor="middle">0</text>
<text x="1253.8" y="705.8" font-size="38.5" text-anchor="middle">50</text>
<text x="1443.4" y="705.8" font-size="38.5" text-anchor="middle">100</text>
<text x="1633.0" y="705.8" font-size="38.5" text-anchor="middle">150</text>
<text x="1822.6" y="705.8" font-size="38.5" text-anchor="middle">200</text>
<text x="1444.5" y="742.4" font-size="37.9" text-anchor="middle">Time (ns)</text>
<text transform="translate(979,181) rotate(-90)" font-size="36.6" text-anchor="middle">vec 1</text>
<text transform="translate(1000,493) rotate(-90)" font-size="36.6" text-anchor="middle">vec 2</text>
</g>
</svg>
</body></html>
